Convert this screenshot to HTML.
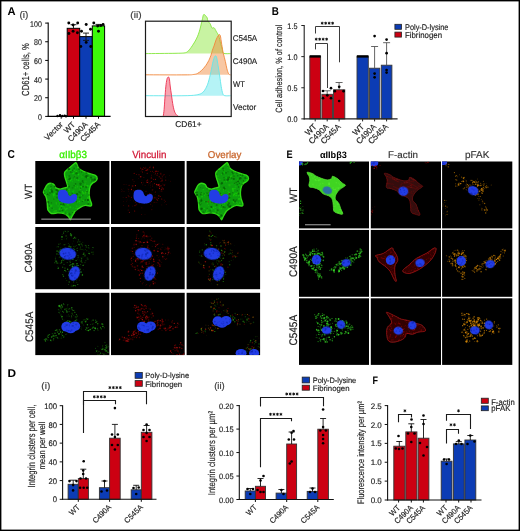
<!DOCTYPE html>
<html><head><meta charset="utf-8"><style>
html,body{margin:0;padding:0;background:#fff;overflow:hidden;}
svg{display:block;font-family:"Liberation Sans", sans-serif;will-change:transform;text-rendering:geometricPrecision;}
</style></head><body>
<svg width="520" height="531" viewBox="0 0 520 531">
<text x="7.47" y="15.25" font-size="11.30" font-weight="bold" fill="#000" textLength="8.08" lengthAdjust="spacingAndGlyphs">A</text>
<text x="19.50" y="18.00" font-size="9.52" fill="#3a3a3a" stroke="#3a3a3a" stroke-width="0.16" textLength="8.94" lengthAdjust="spacingAndGlyphs">(i)</text>
<rect x="67.20" y="28.32" width="12.50" height="88.08" fill="#cc0012" stroke="#000" stroke-width="1"/>
<rect x="79.70" y="36.63" width="12.60" height="79.77" fill="#0c3cb4" stroke="#000" stroke-width="1"/>
<rect x="92.30" y="25.90" width="12.30" height="90.50" fill="#3cfa0a" stroke="#000" stroke-width="1"/>
<line x1="73.50" y1="24.69" x2="73.50" y2="28.32" stroke="#111" stroke-width="0.9"/>
<line x1="70.50" y1="24.69" x2="76.50" y2="24.69" stroke="#111" stroke-width="0.9"/>
<line x1="86.00" y1="33.08" x2="86.00" y2="40.36" stroke="#111" stroke-width="0.9"/>
<line x1="83.00" y1="33.08" x2="89.00" y2="33.08" stroke="#111" stroke-width="0.9"/>
<line x1="98.50" y1="24.41" x2="98.50" y2="25.90" stroke="#111" stroke-width="0.9"/>
<line x1="95.50" y1="24.41" x2="101.50" y2="24.41" stroke="#111" stroke-width="0.9"/>
<line x1="83.00" y1="40.36" x2="89.00" y2="40.36" stroke="#111" stroke-width="0.9"/>
<circle cx="68.80" cy="23.00" r="1.45" fill="#000"/>
<circle cx="73.10" cy="25.00" r="1.45" fill="#000"/>
<circle cx="77.70" cy="23.00" r="1.45" fill="#000"/>
<circle cx="68.90" cy="33.50" r="1.45" fill="#000"/>
<circle cx="73.10" cy="31.20" r="1.45" fill="#000"/>
<circle cx="77.40" cy="32.70" r="1.45" fill="#000"/>
<circle cx="81.50" cy="31.20" r="1.45" fill="#000"/>
<circle cx="86.20" cy="24.50" r="1.45" fill="#000"/>
<circle cx="90.50" cy="29.20" r="1.45" fill="#000"/>
<circle cx="80.80" cy="46.50" r="1.45" fill="#000"/>
<circle cx="86.20" cy="42.40" r="1.45" fill="#000"/>
<circle cx="90.80" cy="46.50" r="1.45" fill="#000"/>
<circle cx="93.80" cy="23.00" r="1.45" fill="#000"/>
<circle cx="97.70" cy="26.10" r="1.45" fill="#000"/>
<circle cx="103.10" cy="24.50" r="1.45" fill="#000"/>
<circle cx="98.50" cy="31.20" r="1.45" fill="#000"/>
<circle cx="100.80" cy="25.50" r="1.45" fill="#000"/>
<circle cx="57.50" cy="116.00" r="1.2" fill="#000"/>
<circle cx="60.00" cy="115.20" r="1.2" fill="#000"/>
<circle cx="62.30" cy="116.00" r="1.2" fill="#000"/>
<circle cx="64.60" cy="115.60" r="1.2" fill="#000"/>
<circle cx="66.00" cy="116.20" r="1.2" fill="#000"/>
<line x1="48.20" y1="22.60" x2="48.20" y2="116.90" stroke="#000" stroke-width="1.1"/>
<line x1="47.70" y1="116.40" x2="110.60" y2="116.40" stroke="#000" stroke-width="1.1"/>
<line x1="45.20" y1="116.40" x2="48.20" y2="116.40" stroke="#000" stroke-width="1"/>
<text x="37.93" y="119.86" font-size="8.30" fill="#222" stroke="#222" stroke-width="0.16" textLength="3.92" lengthAdjust="spacingAndGlyphs">0</text>
<line x1="45.20" y1="97.74" x2="48.20" y2="97.74" stroke="#000" stroke-width="1"/>
<text x="34.02" y="101.20" font-size="8.30" fill="#222" stroke="#222" stroke-width="0.16" textLength="7.85" lengthAdjust="spacingAndGlyphs">20</text>
<line x1="45.20" y1="79.08" x2="48.20" y2="79.08" stroke="#000" stroke-width="1"/>
<text x="34.02" y="82.54" font-size="8.30" fill="#222" stroke="#222" stroke-width="0.16" textLength="7.85" lengthAdjust="spacingAndGlyphs">40</text>
<line x1="45.20" y1="60.42" x2="48.20" y2="60.42" stroke="#000" stroke-width="1"/>
<text x="34.02" y="63.88" font-size="8.30" fill="#222" stroke="#222" stroke-width="0.16" textLength="7.85" lengthAdjust="spacingAndGlyphs">60</text>
<line x1="45.20" y1="41.76" x2="48.20" y2="41.76" stroke="#000" stroke-width="1"/>
<text x="34.02" y="45.22" font-size="8.30" fill="#222" stroke="#222" stroke-width="0.16" textLength="7.85" lengthAdjust="spacingAndGlyphs">80</text>
<line x1="45.20" y1="23.10" x2="48.20" y2="23.10" stroke="#000" stroke-width="1"/>
<text x="30.10" y="26.56" font-size="8.30" fill="#222" stroke="#222" stroke-width="0.16" textLength="11.77" lengthAdjust="spacingAndGlyphs">100</text>
<line x1="61.20" y1="116.40" x2="61.20" y2="118.70" stroke="#000" stroke-width="1"/>
<line x1="73.50" y1="116.40" x2="73.50" y2="118.70" stroke="#000" stroke-width="1"/>
<line x1="86.00" y1="116.40" x2="86.00" y2="118.70" stroke="#000" stroke-width="1"/>
<line x1="98.50" y1="116.40" x2="98.50" y2="118.70" stroke="#000" stroke-width="1"/>
<text x="28.88" y="95.88" font-size="10.18" fill="#222" stroke="#222" stroke-width="0.16" textLength="52.85" lengthAdjust="spacingAndGlyphs" transform="rotate(-90 28.88 95.88)">CD61+ cells, %</text>
<text x="63.50" y="125.00" font-size="8.00" text-anchor="end" fill="#222" stroke="#222" stroke-width="0.16" textLength="22.68" lengthAdjust="spacingAndGlyphs" transform="rotate(-45 63.50 125.00)">Vector</text>
<text x="75.80" y="125.00" font-size="8.00" text-anchor="end" fill="#222" stroke="#222" stroke-width="0.16" textLength="12.44" lengthAdjust="spacingAndGlyphs" transform="rotate(-45 75.80 125.00)">WT</text>
<text x="88.30" y="125.00" font-size="8.00" text-anchor="end" fill="#222" stroke="#222" stroke-width="0.16" textLength="24.46" lengthAdjust="spacingAndGlyphs" transform="rotate(-45 88.30 125.00)">C490A</text>
<text x="100.80" y="125.00" font-size="8.00" text-anchor="end" fill="#222" stroke="#222" stroke-width="0.16" textLength="24.46" lengthAdjust="spacingAndGlyphs" transform="rotate(-45 100.80 125.00)">C545A</text>
<text x="130.29" y="17.97" font-size="9.20" fill="#3a3a3a" stroke="#3a3a3a" stroke-width="0.16" textLength="11.27" lengthAdjust="spacingAndGlyphs">(ii)</text>
<path d="M146.00,53.60 C150.83,53.55 168.63,53.42 175.00,53.30 C181.37,53.18 182.08,53.20 184.20,52.90 C186.32,52.60 186.55,52.40 187.70,51.50 C188.85,50.60 189.75,49.42 191.10,47.50 C192.45,45.58 194.45,42.60 195.80,40.00 C197.15,37.40 198.15,35.17 199.20,31.90 C200.25,28.63 201.42,23.18 202.10,20.40 C202.78,17.62 202.92,16.17 203.30,15.20 C203.68,14.23 203.93,14.42 204.40,14.60 C204.87,14.78 205.62,15.72 206.10,16.30 C206.58,16.88 207.00,17.32 207.30,18.10 C207.60,18.88 207.42,20.05 207.90,21.00 C208.38,21.95 209.53,22.65 210.20,23.80 C210.87,24.95 211.23,27.22 211.90,27.90 C212.57,28.58 213.43,27.23 214.20,27.90 C214.97,28.57 215.73,30.55 216.50,31.90 C217.27,33.25 218.12,34.07 218.80,36.00 C219.48,37.93 220.02,41.30 220.60,43.50 C221.18,45.70 221.82,47.57 222.30,49.20 C222.78,50.83 222.12,52.57 223.50,53.30 C224.88,54.03 229.42,53.55 230.60,53.60 Z" fill="rgba(132,228,48,0.45)" stroke="none"/>
<path d="M146.00,53.60 C150.83,53.55 168.63,53.42 175.00,53.30 C181.37,53.18 182.08,53.20 184.20,52.90 C186.32,52.60 186.55,52.40 187.70,51.50 C188.85,50.60 189.75,49.42 191.10,47.50 C192.45,45.58 194.45,42.60 195.80,40.00 C197.15,37.40 198.15,35.17 199.20,31.90 C200.25,28.63 201.42,23.18 202.10,20.40 C202.78,17.62 202.92,16.17 203.30,15.20 C203.68,14.23 203.93,14.42 204.40,14.60 C204.87,14.78 205.62,15.72 206.10,16.30 C206.58,16.88 207.00,17.32 207.30,18.10 C207.60,18.88 207.42,20.05 207.90,21.00 C208.38,21.95 209.53,22.65 210.20,23.80 C210.87,24.95 211.23,27.22 211.90,27.90 C212.57,28.58 213.43,27.23 214.20,27.90 C214.97,28.57 215.73,30.55 216.50,31.90 C217.27,33.25 218.12,34.07 218.80,36.00 C219.48,37.93 220.02,41.30 220.60,43.50 C221.18,45.70 221.82,47.57 222.30,49.20 C222.78,50.83 222.12,52.57 223.50,53.30 C224.88,54.03 229.42,53.55 230.60,53.60" fill="none" stroke="#84e63c" stroke-width="0.9"/>
<path d="M146.00,74.80 C152.50,74.82 177.12,74.95 185.00,74.90 C192.88,74.85 191.23,74.73 193.30,74.50 C195.37,74.27 196.02,74.18 197.40,73.50 C198.78,72.82 200.22,71.70 201.60,70.40 C202.98,69.10 204.50,67.35 205.70,65.70 C206.90,64.05 207.93,62.22 208.80,60.50 C209.67,58.78 210.30,57.12 210.90,55.40 C211.50,53.68 211.88,51.77 212.40,50.20 C212.92,48.63 213.40,47.70 214.00,46.00 C214.60,44.30 215.33,41.67 216.00,40.00 C216.67,38.33 217.43,36.90 218.00,36.00 C218.57,35.10 219.00,34.60 219.40,34.60 C219.80,34.60 220.10,34.93 220.40,36.00 C220.70,37.07 220.88,39.00 221.20,41.00 C221.52,43.00 221.95,45.95 222.30,48.00 C222.65,50.05 222.78,51.03 223.30,53.30 C223.82,55.57 224.80,59.02 225.40,61.60 C226.00,64.18 226.38,66.82 226.90,68.80 C227.42,70.78 227.98,72.50 228.50,73.50 C229.02,74.50 229.65,74.58 230.00,74.80 C230.35,75.02 230.50,74.80 230.60,74.80 Z" fill="rgba(240,130,50,0.45)" stroke="none"/>
<path d="M146.00,74.80 C152.50,74.82 177.12,74.95 185.00,74.90 C192.88,74.85 191.23,74.73 193.30,74.50 C195.37,74.27 196.02,74.18 197.40,73.50 C198.78,72.82 200.22,71.70 201.60,70.40 C202.98,69.10 204.50,67.35 205.70,65.70 C206.90,64.05 207.93,62.22 208.80,60.50 C209.67,58.78 210.30,57.12 210.90,55.40 C211.50,53.68 211.88,51.77 212.40,50.20 C212.92,48.63 213.40,47.70 214.00,46.00 C214.60,44.30 215.33,41.67 216.00,40.00 C216.67,38.33 217.43,36.90 218.00,36.00 C218.57,35.10 219.00,34.60 219.40,34.60 C219.80,34.60 220.10,34.93 220.40,36.00 C220.70,37.07 220.88,39.00 221.20,41.00 C221.52,43.00 221.95,45.95 222.30,48.00 C222.65,50.05 222.78,51.03 223.30,53.30 C223.82,55.57 224.80,59.02 225.40,61.60 C226.00,64.18 226.38,66.82 226.90,68.80 C227.42,70.78 227.98,72.50 228.50,73.50 C229.02,74.50 229.65,74.58 230.00,74.80 C230.35,75.02 230.50,74.80 230.60,74.80" fill="none" stroke="#f0883c" stroke-width="0.9"/>
<path d="M146.00,95.70 C152.50,95.70 176.43,95.87 185.00,95.70 C193.57,95.53 194.47,95.22 197.40,94.70 C200.33,94.18 201.22,93.63 202.60,92.60 C203.98,91.57 204.75,90.22 205.70,88.50 C206.65,86.78 207.43,85.07 208.30,82.30 C209.17,79.53 210.12,75.35 210.90,71.90 C211.68,68.45 212.40,64.10 213.00,61.60 C213.60,59.10 214.08,57.85 214.50,56.90 C214.92,55.95 215.15,55.82 215.50,55.90 C215.85,55.98 216.17,55.77 216.60,57.40 C217.03,59.03 217.58,62.60 218.10,65.70 C218.62,68.80 219.18,72.55 219.70,76.00 C220.22,79.45 220.68,83.45 221.20,86.40 C221.72,89.35 222.18,92.15 222.80,93.70 C223.42,95.25 223.60,95.37 224.90,95.70 C226.20,96.03 229.65,95.70 230.60,95.70 Z" fill="rgba(90,228,235,0.45)" stroke="none"/>
<path d="M146.00,95.70 C152.50,95.70 176.43,95.87 185.00,95.70 C193.57,95.53 194.47,95.22 197.40,94.70 C200.33,94.18 201.22,93.63 202.60,92.60 C203.98,91.57 204.75,90.22 205.70,88.50 C206.65,86.78 207.43,85.07 208.30,82.30 C209.17,79.53 210.12,75.35 210.90,71.90 C211.68,68.45 212.40,64.10 213.00,61.60 C213.60,59.10 214.08,57.85 214.50,56.90 C214.92,55.95 215.15,55.82 215.50,55.90 C215.85,55.98 216.17,55.77 216.60,57.40 C217.03,59.03 217.58,62.60 218.10,65.70 C218.62,68.80 219.18,72.55 219.70,76.00 C220.22,79.45 220.68,83.45 221.20,86.40 C221.72,89.35 222.18,92.15 222.80,93.70 C223.42,95.25 223.60,95.37 224.90,95.70 C226.20,96.03 229.65,95.70 230.60,95.70" fill="none" stroke="#62e6ea" stroke-width="0.9"/>
<path d="M163.20,116.50 C163.35,115.33 163.82,112.55 164.10,109.50 C164.38,106.45 164.62,101.97 164.90,98.20 C165.18,94.43 165.47,90.03 165.80,86.90 C166.13,83.77 166.50,81.03 166.90,79.40 C167.30,77.77 167.80,77.25 168.20,77.10 C168.60,76.95 168.97,77.02 169.30,78.50 C169.63,79.98 169.83,83.18 170.20,86.00 C170.57,88.82 171.02,92.10 171.50,95.40 C171.98,98.70 172.53,102.97 173.10,105.80 C173.67,108.63 174.12,110.68 174.90,112.40 C175.68,114.12 176.93,115.42 177.80,116.10 C178.67,116.78 179.72,116.43 180.10,116.50 Z" fill="rgba(240,50,80,0.45)" stroke="none"/>
<path d="M163.20,116.50 C163.35,115.33 163.82,112.55 164.10,109.50 C164.38,106.45 164.62,101.97 164.90,98.20 C165.18,94.43 165.47,90.03 165.80,86.90 C166.13,83.77 166.50,81.03 166.90,79.40 C167.30,77.77 167.80,77.25 168.20,77.10 C168.60,76.95 168.97,77.02 169.30,78.50 C169.63,79.98 169.83,83.18 170.20,86.00 C170.57,88.82 171.02,92.10 171.50,95.40 C171.98,98.70 172.53,102.97 173.10,105.80 C173.67,108.63 174.12,110.68 174.90,112.40 C175.68,114.12 176.93,115.42 177.80,116.10 C178.67,116.78 179.72,116.43 180.10,116.50" fill="none" stroke="#ec3050" stroke-width="0.9"/>
<rect x="145.5" y="21.2" width="85.70" height="95.30" fill="none" stroke="#1a1a1a" stroke-width="1.2"/>
<text x="232.70" y="40.62" font-size="8.31" fill="#222" stroke="#222" stroke-width="0.16" textLength="24.52" lengthAdjust="spacingAndGlyphs">C545A</text>
<text x="232.70" y="63.52" font-size="8.17" fill="#222" stroke="#222" stroke-width="0.16" textLength="24.52" lengthAdjust="spacingAndGlyphs">C490A</text>
<text x="233.06" y="86.60" font-size="8.41" fill="#222" stroke="#222" stroke-width="0.16" textLength="11.89" lengthAdjust="spacingAndGlyphs">WT</text>
<text x="233.06" y="109.92" font-size="8.29" fill="#222" stroke="#222" stroke-width="0.16" textLength="23.21" lengthAdjust="spacingAndGlyphs">Vector</text>
<text x="175.28" y="126.82" font-size="8.45" fill="#222" stroke="#222" stroke-width="0.16" textLength="26.45" lengthAdjust="spacingAndGlyphs">CD61+</text>
<text x="271.81" y="15.25" font-size="11.30" font-weight="bold" fill="#000" textLength="7.10" lengthAdjust="spacingAndGlyphs">B</text>
<rect x="309.80" y="56.60" width="10.80" height="62.30" fill="#cc0012" stroke="#3a3a3a" stroke-width="0.9"/>
<rect x="321.90" y="94.30" width="10.60" height="24.60" fill="#cc0012" stroke="#3a3a3a" stroke-width="0.9"/>
<rect x="333.50" y="89.80" width="11.30" height="29.10" fill="#cc0012" stroke="#3a3a3a" stroke-width="0.9"/>
<rect x="357.00" y="56.60" width="11.30" height="62.30" fill="#0c3cb4" stroke="#3a3a3a" stroke-width="0.9"/>
<rect x="369.40" y="68.20" width="10.40" height="50.70" fill="#0c3cb4" stroke="#3a3a3a" stroke-width="0.9"/>
<rect x="381.30" y="65.20" width="10.60" height="53.70" fill="#0c3cb4" stroke="#3a3a3a" stroke-width="0.9"/>
<rect x="309.60" y="55.20" width="11.20" height="2.40" fill="#000"/>
<rect x="356.80" y="55.20" width="11.70" height="2.40" fill="#000"/>
<line x1="327.20" y1="90.80" x2="327.20" y2="94.30" stroke="#555" stroke-width="0.9"/>
<line x1="323.70" y1="90.80" x2="330.70" y2="90.80" stroke="#555" stroke-width="0.9"/>
<line x1="339.10" y1="82.50" x2="339.10" y2="89.80" stroke="#555" stroke-width="0.9"/>
<line x1="335.60" y1="82.50" x2="342.60" y2="82.50" stroke="#555" stroke-width="0.9"/>
<line x1="374.60" y1="46.50" x2="374.60" y2="68.20" stroke="#555" stroke-width="0.9"/>
<line x1="371.10" y1="46.50" x2="378.10" y2="46.50" stroke="#555" stroke-width="0.9"/>
<line x1="386.60" y1="42.70" x2="386.60" y2="65.20" stroke="#555" stroke-width="0.9"/>
<line x1="383.10" y1="42.70" x2="390.10" y2="42.70" stroke="#555" stroke-width="0.9"/>
<circle cx="323.00" cy="91.00" r="1.35" fill="#000"/>
<circle cx="331.00" cy="88.20" r="1.35" fill="#000"/>
<circle cx="327.30" cy="95.30" r="1.35" fill="#000"/>
<circle cx="323.00" cy="98.20" r="1.35" fill="#000"/>
<circle cx="331.00" cy="98.20" r="1.35" fill="#000"/>
<circle cx="339.20" cy="86.80" r="1.35" fill="#000"/>
<circle cx="334.80" cy="91.20" r="1.35" fill="#000"/>
<circle cx="343.60" cy="91.20" r="1.35" fill="#000"/>
<circle cx="339.20" cy="101.00" r="1.35" fill="#000"/>
<circle cx="374.60" cy="36.10" r="1.35" fill="#000"/>
<circle cx="374.60" cy="73.60" r="1.35" fill="#000"/>
<circle cx="374.60" cy="77.30" r="1.35" fill="#000"/>
<circle cx="386.60" cy="39.60" r="1.35" fill="#000"/>
<circle cx="386.60" cy="53.20" r="1.35" fill="#000"/>
<circle cx="386.60" cy="70.00" r="1.35" fill="#000"/>
<circle cx="386.60" cy="72.60" r="1.35" fill="#000"/>
<path d="M315.5,33.5 V26.5 H339.5 V62.3 " fill="none" stroke="#3a3a3a" stroke-width="1.0"/>
<path d="M315.5,49.4 V43.5 H327.5 V88 " fill="none" stroke="#3a3a3a" stroke-width="1.0"/>
<line x1="322.18" y1="21.75" x2="322.18" y2="24.65" stroke="#111" stroke-width="0.95"/>
<line x1="320.92" y1="22.47" x2="323.44" y2="23.93" stroke="#111" stroke-width="0.95"/>
<line x1="323.44" y1="22.47" x2="320.92" y2="23.93" stroke="#111" stroke-width="0.95"/>
<line x1="325.66" y1="21.75" x2="325.66" y2="24.65" stroke="#111" stroke-width="0.95"/>
<line x1="324.40" y1="22.47" x2="326.92" y2="23.93" stroke="#111" stroke-width="0.95"/>
<line x1="326.92" y1="22.47" x2="324.40" y2="23.93" stroke="#111" stroke-width="0.95"/>
<line x1="329.14" y1="21.75" x2="329.14" y2="24.65" stroke="#111" stroke-width="0.95"/>
<line x1="327.88" y1="22.47" x2="330.40" y2="23.93" stroke="#111" stroke-width="0.95"/>
<line x1="330.40" y1="22.47" x2="327.88" y2="23.93" stroke="#111" stroke-width="0.95"/>
<line x1="332.62" y1="21.75" x2="332.62" y2="24.65" stroke="#111" stroke-width="0.95"/>
<line x1="331.36" y1="22.47" x2="333.88" y2="23.93" stroke="#111" stroke-width="0.95"/>
<line x1="333.88" y1="22.47" x2="331.36" y2="23.93" stroke="#111" stroke-width="0.95"/>
<line x1="316.18" y1="37.75" x2="316.18" y2="40.65" stroke="#111" stroke-width="0.95"/>
<line x1="314.92" y1="38.48" x2="317.44" y2="39.93" stroke="#111" stroke-width="0.95"/>
<line x1="317.44" y1="38.48" x2="314.92" y2="39.93" stroke="#111" stroke-width="0.95"/>
<line x1="319.66" y1="37.75" x2="319.66" y2="40.65" stroke="#111" stroke-width="0.95"/>
<line x1="318.40" y1="38.48" x2="320.92" y2="39.93" stroke="#111" stroke-width="0.95"/>
<line x1="320.92" y1="38.48" x2="318.40" y2="39.93" stroke="#111" stroke-width="0.95"/>
<line x1="323.14" y1="37.75" x2="323.14" y2="40.65" stroke="#111" stroke-width="0.95"/>
<line x1="321.88" y1="38.48" x2="324.40" y2="39.93" stroke="#111" stroke-width="0.95"/>
<line x1="324.40" y1="38.48" x2="321.88" y2="39.93" stroke="#111" stroke-width="0.95"/>
<line x1="326.62" y1="37.75" x2="326.62" y2="40.65" stroke="#111" stroke-width="0.95"/>
<line x1="325.36" y1="38.48" x2="327.88" y2="39.93" stroke="#111" stroke-width="0.95"/>
<line x1="327.88" y1="38.48" x2="325.36" y2="39.93" stroke="#111" stroke-width="0.95"/>
<line x1="304.20" y1="25.00" x2="304.20" y2="119.40" stroke="#222" stroke-width="1.1"/>
<line x1="303.70" y1="118.90" x2="397.60" y2="118.90" stroke="#222" stroke-width="1.1"/>
<line x1="301.30" y1="118.90" x2="304.20" y2="118.90" stroke="#222" stroke-width="1"/>
<text x="287.32" y="122.09" font-size="8.10" fill="#222" stroke="#222" stroke-width="0.16" textLength="10.13" lengthAdjust="spacingAndGlyphs">0.0</text>
<line x1="301.30" y1="87.77" x2="304.20" y2="87.77" stroke="#222" stroke-width="1"/>
<text x="287.36" y="90.96" font-size="8.10" fill="#222" stroke="#222" stroke-width="0.16" textLength="10.13" lengthAdjust="spacingAndGlyphs">0.5</text>
<line x1="301.30" y1="56.63" x2="304.20" y2="56.63" stroke="#222" stroke-width="1"/>
<text x="287.32" y="59.82" font-size="8.10" fill="#222" stroke="#222" stroke-width="0.16" textLength="10.13" lengthAdjust="spacingAndGlyphs">1.0</text>
<line x1="301.30" y1="25.50" x2="304.20" y2="25.50" stroke="#222" stroke-width="1"/>
<text x="287.36" y="28.65" font-size="8.10" fill="#222" stroke="#222" stroke-width="0.16" textLength="10.13" lengthAdjust="spacingAndGlyphs">1.5</text>
<line x1="315.20" y1="118.90" x2="315.20" y2="121.40" stroke="#222" stroke-width="1"/>
<line x1="327.20" y1="118.90" x2="327.20" y2="121.40" stroke="#222" stroke-width="1"/>
<line x1="339.10" y1="118.90" x2="339.10" y2="121.40" stroke="#222" stroke-width="1"/>
<line x1="362.60" y1="118.90" x2="362.60" y2="121.40" stroke="#222" stroke-width="1"/>
<line x1="374.60" y1="118.90" x2="374.60" y2="121.40" stroke="#222" stroke-width="1"/>
<line x1="386.60" y1="118.90" x2="386.60" y2="121.40" stroke="#222" stroke-width="1"/>
<text x="282.51" y="112.67" font-size="9.12" fill="#222" stroke="#222" stroke-width="0.16" textLength="87.85" lengthAdjust="spacingAndGlyphs" transform="rotate(-90 282.51 112.67)">Cell adhesion, % of control</text>
<text x="317.30" y="127.30" font-size="8.40" text-anchor="end" fill="#222" stroke="#222" stroke-width="0.16" textLength="12.41" lengthAdjust="spacingAndGlyphs" transform="rotate(-45 317.30 127.30)">WT</text>
<text x="329.30" y="127.30" font-size="8.40" text-anchor="end" fill="#222" stroke="#222" stroke-width="0.16" textLength="24.40" lengthAdjust="spacingAndGlyphs" transform="rotate(-45 329.30 127.30)">C490A</text>
<text x="341.20" y="127.30" font-size="8.40" text-anchor="end" fill="#222" stroke="#222" stroke-width="0.16" textLength="24.40" lengthAdjust="spacingAndGlyphs" transform="rotate(-45 341.20 127.30)">C545A</text>
<text x="364.70" y="127.30" font-size="8.40" text-anchor="end" fill="#222" stroke="#222" stroke-width="0.16" textLength="12.41" lengthAdjust="spacingAndGlyphs" transform="rotate(-45 364.70 127.30)">WT</text>
<text x="376.70" y="127.30" font-size="8.40" text-anchor="end" fill="#222" stroke="#222" stroke-width="0.16" textLength="24.40" lengthAdjust="spacingAndGlyphs" transform="rotate(-45 376.70 127.30)">C490A</text>
<text x="388.70" y="127.30" font-size="8.40" text-anchor="end" fill="#222" stroke="#222" stroke-width="0.16" textLength="24.40" lengthAdjust="spacingAndGlyphs" transform="rotate(-45 388.70 127.30)">C545A</text>
<rect x="394.90" y="24.30" width="6.60" height="5.00" fill="#0c3cb4" stroke="#222" stroke-width="0.8"/>
<rect x="394.90" y="32.10" width="6.60" height="5.00" fill="#cc0012" stroke="#222" stroke-width="0.8"/>
<text x="405.01" y="29.67" font-size="8.24" fill="#222" stroke="#222" stroke-width="0.16" textLength="43.42" lengthAdjust="spacingAndGlyphs">Poly-D-lysine</text>
<text x="404.97" y="38.03" font-size="8.45" fill="#222" stroke="#222" stroke-width="0.16" textLength="37.04" lengthAdjust="spacingAndGlyphs">Fibrinogen</text>
<rect x="35.30" y="161.00" width="74.10" height="63.00" fill="#000"/>
<rect x="35.30" y="227.00" width="74.10" height="62.20" fill="#000"/>
<rect x="35.30" y="292.80" width="74.10" height="62.30" fill="#000"/>
<rect x="111.00" y="161.00" width="73.70" height="63.00" fill="#000"/>
<rect x="111.00" y="227.00" width="73.70" height="62.20" fill="#000"/>
<rect x="111.00" y="292.80" width="73.70" height="62.30" fill="#000"/>
<rect x="186.60" y="161.00" width="73.50" height="63.00" fill="#000"/>
<rect x="186.60" y="227.00" width="73.50" height="62.20" fill="#000"/>
<rect x="186.60" y="292.80" width="73.50" height="62.30" fill="#000"/>
<rect x="299.00" y="161.50" width="70.00" height="66.90" fill="#000"/>
<rect x="299.00" y="229.90" width="70.00" height="66.90" fill="#000"/>
<rect x="299.00" y="298.30" width="70.00" height="66.60" fill="#000"/>
<rect x="370.80" y="161.50" width="70.20" height="66.90" fill="#000"/>
<rect x="370.80" y="229.90" width="70.20" height="66.90" fill="#000"/>
<rect x="370.80" y="298.30" width="70.20" height="66.60" fill="#000"/>
<rect x="442.10" y="161.50" width="70.20" height="66.90" fill="#000"/>
<rect x="442.10" y="229.90" width="70.20" height="66.90" fill="#000"/>
<rect x="442.10" y="298.30" width="70.20" height="66.60" fill="#000"/>
<text x="7.54" y="157.64" font-size="11.41" font-weight="bold" fill="#000" textLength="7.39" lengthAdjust="spacingAndGlyphs">C</text>
<text x="59.21" y="158.32" font-size="10.37" fill="#38ee00" stroke="#38ee00" stroke-width="0.35" textLength="27.80" lengthAdjust="spacingAndGlyphs">αIIbβ3</text>
<text x="132.25" y="158.30" font-size="10.20" fill="#d01432" stroke="#d01432" stroke-width="0.25" textLength="34.08" lengthAdjust="spacingAndGlyphs">Vinculin</text>
<text x="207.86" y="157.91" font-size="9.95" fill="#c8642a" stroke="#c8642a" stroke-width="0.25" textLength="33.54" lengthAdjust="spacingAndGlyphs">Overlay</text>
<text x="32.00" y="198.95" font-size="10.43" fill="#222" stroke="#222" stroke-width="0.16" textLength="15.24" lengthAdjust="spacingAndGlyphs" transform="rotate(-90 32.00 198.95)">WT</text>
<text x="32.20" y="272.59" font-size="10.42" fill="#222" stroke="#222" stroke-width="0.16" textLength="29.71" lengthAdjust="spacingAndGlyphs" transform="rotate(-90 32.20 272.59)">C490A</text>
<text x="32.59" y="342.10" font-size="10.85" fill="#222" stroke="#222" stroke-width="0.16" textLength="30.42" lengthAdjust="spacingAndGlyphs" transform="rotate(-90 32.59 342.10)">C545A</text>
<text x="286.55" y="157.55" font-size="10.87" font-weight="bold" fill="#000" textLength="6.14" lengthAdjust="spacingAndGlyphs">E</text>
<text x="319.88" y="157.70" font-size="9.30" font-weight="bold" fill="#000" textLength="27.01" lengthAdjust="spacingAndGlyphs">αIIbβ3</text>
<text x="388.12" y="158.10" font-size="9.80" fill="#333" stroke="#333" stroke-width="0.16" textLength="29.93" lengthAdjust="spacingAndGlyphs">F-actin</text>
<text x="464.95" y="157.62" font-size="9.89" fill="#333" stroke="#333" stroke-width="0.16" textLength="24.36" lengthAdjust="spacingAndGlyphs">pFAK</text>
<text x="297.20" y="202.75" font-size="10.72" fill="#222" stroke="#222" stroke-width="0.16" textLength="15.24" lengthAdjust="spacingAndGlyphs" transform="rotate(-90 297.20 202.75)">WT</text>
<text x="297.09" y="276.90" font-size="10.99" fill="#222" stroke="#222" stroke-width="0.16" textLength="30.63" lengthAdjust="spacingAndGlyphs" transform="rotate(-90 297.09 276.90)">C490A</text>
<text x="297.09" y="345.60" font-size="10.99" fill="#222" stroke="#222" stroke-width="0.16" textLength="30.73" lengthAdjust="spacingAndGlyphs" transform="rotate(-90 297.09 345.60)">C545A</text>
<defs><clipPath id="k1"><rect x="0" y="0" width="74.10" height="63.00"/></clipPath><clipPath id="k2"><rect x="0" y="0" width="73.70" height="63.00"/></clipPath><clipPath id="k3"><rect x="0" y="0" width="73.50" height="63.00"/></clipPath><clipPath id="k4"><rect x="0" y="0" width="74.10" height="62.20"/></clipPath><clipPath id="k5"><rect x="0" y="0" width="73.70" height="62.20"/></clipPath><clipPath id="k6"><rect x="0" y="0" width="73.50" height="62.20"/></clipPath><clipPath id="k7"><rect x="0" y="0" width="74.10" height="62.30"/></clipPath><clipPath id="k8"><rect x="0" y="0" width="73.70" height="62.30"/></clipPath><clipPath id="k9"><rect x="0" y="0" width="73.50" height="62.30"/></clipPath><clipPath id="k10"><rect x="0" y="0" width="70.00" height="66.90"/></clipPath><clipPath id="k11"><rect x="0" y="0" width="70.20" height="66.90"/></clipPath><clipPath id="k12"><rect x="0" y="0" width="70.20" height="66.90"/></clipPath><clipPath id="k13"><rect x="0" y="0" width="70.00" height="66.90"/></clipPath><clipPath id="k14"><rect x="0" y="0" width="70.20" height="66.90"/></clipPath><clipPath id="k15"><rect x="0" y="0" width="70.20" height="66.90"/></clipPath><clipPath id="k16"><rect x="0" y="0" width="70.00" height="66.60"/></clipPath><clipPath id="k17"><rect x="0" y="0" width="70.20" height="66.60"/></clipPath><clipPath id="k18"><rect x="0" y="0" width="70.20" height="66.60"/></clipPath><clipPath id="ewtclip"><path d="M13.60,11.80 C14.21,11.31 17.31,12.38 19.00,13.10 C20.69,13.82 20.59,14.70 23.00,15.80 C25.41,16.90 29.74,18.71 32.40,19.20 C35.06,19.69 36.59,19.11 37.80,18.50 C39.01,17.89 37.89,15.80 39.10,15.80 C40.31,15.80 42.79,17.29 44.50,18.50 C46.21,19.71 47.27,21.40 48.60,22.50 C49.93,23.60 51.67,23.86 51.90,24.60 C52.13,25.34 50.98,25.75 49.90,26.60 C48.82,27.45 47.23,27.97 45.90,29.30 C44.57,30.63 43.24,32.31 42.50,34.00 C41.76,35.69 41.31,37.13 41.80,38.70 C42.29,40.27 44.23,41.01 45.20,42.70 C46.17,44.39 46.48,46.16 47.20,48.10 C47.92,50.04 49.69,52.65 49.20,53.50 C48.71,54.35 46.07,53.29 44.50,52.80 C42.93,52.31 41.35,52.13 40.50,50.80 C39.65,49.47 40.05,47.34 39.80,45.40 C39.55,43.46 39.69,41.69 39.10,40.00 C38.51,38.31 38.19,37.21 36.50,36.00 C34.81,34.79 31.64,34.51 29.70,33.30 C27.76,32.09 27.39,30.40 25.70,29.30 C24.01,28.20 22.12,27.81 20.30,27.20 C18.48,26.59 16.32,27.23 15.60,25.90 C14.88,24.57 16.30,21.62 16.30,19.80 C16.30,17.98 16.09,17.24 15.60,15.80 C15.11,14.36 12.99,12.29 13.60,11.80 Z"/></clipPath><filter id="b03" x="-20%" y="-20%" width="140%" height="140%"><feGaussianBlur stdDeviation="0.3"/></filter><filter id="b04" x="-20%" y="-20%" width="140%" height="140%"><feGaussianBlur stdDeviation="0.45"/></filter><filter id="b05" x="-30%" y="-30%" width="160%" height="160%"><feGaussianBlur stdDeviation="0.6"/></filter></defs><g transform="translate(35.3,161.0)"><g clip-path="url(#k1)"><path d="M40.00,1.90 C40.50,1.65 40.99,2.00 41.30,2.50 C41.61,3.00 42.48,6.15 43.10,6.90 C43.72,7.65 46.43,9.44 47.50,10.00 C48.57,10.56 52.55,12.06 53.80,12.50 C55.05,12.94 59.19,13.90 60.00,14.40 C60.81,14.90 61.90,16.88 61.90,17.50 C61.90,18.12 60.44,20.16 60.00,20.60 C59.56,21.04 58.00,21.46 57.50,21.90 C57.00,22.34 55.37,24.06 55.00,25.00 C54.63,25.94 53.86,30.05 53.80,31.30 C53.74,32.55 54.15,36.32 54.40,37.50 C54.65,38.68 56.18,42.35 56.30,43.10 C56.42,43.85 56.23,44.87 55.60,45.00 C54.97,45.13 51.06,44.27 50.00,44.40 C48.94,44.53 46.00,45.74 45.00,46.30 C44.00,46.86 40.81,49.13 40.00,50.00 C39.19,50.87 37.40,54.12 36.90,55.00 C36.40,55.88 35.38,58.74 35.00,58.80 C34.62,58.86 33.72,56.23 33.10,55.60 C32.48,54.97 29.86,52.87 28.80,52.50 C27.74,52.13 23.75,51.90 22.50,51.90 C21.25,51.90 17.30,52.81 16.30,52.50 C15.30,52.19 12.94,49.92 12.50,48.80 C12.06,47.68 12.09,42.62 11.90,41.30 C11.71,39.98 10.98,36.60 10.60,35.60 C10.22,34.60 8.16,32.17 8.10,31.30 C8.04,30.43 9.68,27.59 10.00,26.90 C10.32,26.21 10.92,24.84 11.30,24.40 C11.68,23.96 13.30,22.69 13.80,22.50 C14.30,22.31 15.80,22.37 16.30,22.50 C16.80,22.63 18.37,23.36 18.80,23.80 C19.23,24.24 19.98,26.47 20.60,26.90 C21.22,27.33 24.12,28.10 25.00,28.10 C25.88,28.10 28.65,27.15 29.40,26.90 C30.15,26.65 32.31,26.16 32.50,25.60 C32.69,25.04 31.61,22.36 31.30,21.30 C30.99,20.24 29.59,16.00 29.40,15.00 C29.21,14.00 29.09,11.99 29.40,11.30 C29.71,10.61 31.81,8.73 32.50,8.10 C33.19,7.47 35.55,5.62 36.30,5.00 C37.05,4.38 39.50,2.15 40.00,1.90 Z" fill="#0f9c08" stroke="#2ed814" stroke-width="1.4" filter="url(#b04)"/><g filter="url(#b04)"><circle cx="32.4" cy="33.8" r="1.1" fill="rgb(26,227,0)" opacity="0.3"/><circle cx="18.3" cy="47.6" r="0.8" fill="rgb(15,196,0)" opacity="0.4"/><circle cx="32.1" cy="10.0" r="0.8" fill="rgb(30,192,0)" opacity="0.5"/><circle cx="40.1" cy="24.4" r="0.8" fill="rgb(30,200,0)" opacity="0.4"/><circle cx="50.0" cy="20.5" r="0.9" fill="rgb(17,230,0)" opacity="0.2"/><circle cx="12.7" cy="39.2" r="0.7" fill="rgb(39,195,0)" opacity="0.4"/><circle cx="46.2" cy="19.8" r="0.6" fill="rgb(12,226,0)" opacity="0.3"/><circle cx="49.3" cy="24.7" r="1.0" fill="rgb(40,191,0)" opacity="0.3"/><circle cx="42.0" cy="46.2" r="0.7" fill="rgb(20,190,0)" opacity="0.2"/><circle cx="51.0" cy="12.0" r="0.8" fill="rgb(16,198,0)" opacity="0.3"/><circle cx="40.5" cy="34.7" r="0.5" fill="rgb(24,206,0)" opacity="0.2"/><circle cx="52.8" cy="23.9" r="0.5" fill="rgb(30,205,0)" opacity="0.2"/><circle cx="41.6" cy="9.1" r="0.9" fill="rgb(14,214,0)" opacity="0.5"/><circle cx="20.9" cy="42.0" r="0.7" fill="rgb(29,221,0)" opacity="0.5"/><circle cx="20.4" cy="33.7" r="1.0" fill="rgb(18,203,0)" opacity="0.4"/><circle cx="38.9" cy="9.4" r="0.7" fill="rgb(20,232,0)" opacity="0.5"/><circle cx="47.5" cy="31.6" r="1.1" fill="rgb(39,191,0)" opacity="0.4"/><circle cx="33.6" cy="22.2" r="0.7" fill="rgb(29,230,0)" opacity="0.2"/><circle cx="12.0" cy="27.7" r="0.7" fill="rgb(39,235,0)" opacity="0.2"/><circle cx="9.7" cy="30.3" r="0.5" fill="rgb(22,227,0)" opacity="0.4"/><circle cx="45.4" cy="27.9" r="0.8" fill="rgb(26,222,0)" opacity="0.4"/><circle cx="34.0" cy="15.0" r="0.9" fill="rgb(29,232,0)" opacity="0.3"/><circle cx="57.6" cy="16.5" r="0.5" fill="rgb(31,229,0)" opacity="0.3"/><circle cx="31.9" cy="52.6" r="0.7" fill="rgb(16,230,0)" opacity="0.4"/><circle cx="31.3" cy="47.8" r="1.0" fill="rgb(22,204,0)" opacity="0.5"/><circle cx="39.5" cy="19.9" r="0.6" fill="rgb(36,192,0)" opacity="0.3"/><circle cx="32.3" cy="17.6" r="0.6" fill="rgb(30,223,0)" opacity="0.3"/><circle cx="34.7" cy="19.8" r="1.0" fill="rgb(24,210,0)" opacity="0.5"/><circle cx="46.2" cy="34.4" r="0.7" fill="rgb(10,231,0)" opacity="0.5"/><circle cx="15.4" cy="27.8" r="0.5" fill="rgb(17,199,0)" opacity="0.5"/><circle cx="36.9" cy="38.3" r="0.7" fill="rgb(16,202,0)" opacity="0.2"/><circle cx="52.4" cy="16.5" r="0.9" fill="rgb(27,235,0)" opacity="0.5"/><circle cx="50.0" cy="32.6" r="1.1" fill="rgb(34,200,0)" opacity="0.4"/><circle cx="29.3" cy="47.0" r="1.0" fill="rgb(39,214,0)" opacity="0.2"/><circle cx="15.1" cy="27.7" r="0.9" fill="rgb(22,225,0)" opacity="0.5"/><circle cx="38.7" cy="51.9" r="1.0" fill="rgb(24,210,0)" opacity="0.5"/><circle cx="43.1" cy="13.6" r="0.9" fill="rgb(30,235,0)" opacity="0.5"/><circle cx="58.3" cy="16.8" r="0.9" fill="rgb(26,195,0)" opacity="0.2"/><circle cx="30.8" cy="17.6" r="1.1" fill="rgb(37,194,0)" opacity="0.2"/><circle cx="36.8" cy="41.0" r="1.0" fill="rgb(26,223,0)" opacity="0.3"/><circle cx="53.3" cy="41.1" r="1.1" fill="rgb(40,234,0)" opacity="0.3"/><circle cx="36.4" cy="18.4" r="0.9" fill="rgb(26,222,0)" opacity="0.4"/><circle cx="53.5" cy="33.8" r="0.7" fill="rgb(37,229,0)" opacity="0.3"/><circle cx="19.3" cy="50.3" r="1.1" fill="rgb(28,221,0)" opacity="0.4"/><circle cx="18.9" cy="32.4" r="0.8" fill="rgb(10,224,0)" opacity="0.4"/><circle cx="29.7" cy="47.5" r="0.8" fill="rgb(32,200,0)" opacity="0.3"/><circle cx="11.6" cy="32.6" r="0.7" fill="rgb(39,215,0)" opacity="0.5"/><circle cx="22.6" cy="28.8" r="0.6" fill="rgb(36,220,0)" opacity="0.3"/><circle cx="36.3" cy="8.1" r="0.8" fill="rgb(18,198,0)" opacity="0.2"/><circle cx="47.0" cy="15.8" r="0.8" fill="rgb(28,197,0)" opacity="0.3"/><circle cx="53.9" cy="37.4" r="0.9" fill="rgb(38,217,0)" opacity="0.4"/><circle cx="52.5" cy="36.9" r="0.8" fill="rgb(27,230,0)" opacity="0.5"/><circle cx="37.3" cy="35.3" r="0.6" fill="rgb(30,212,0)" opacity="0.5"/><circle cx="56.7" cy="19.9" r="0.7" fill="rgb(16,202,0)" opacity="0.5"/><circle cx="21.0" cy="43.2" r="0.7" fill="rgb(36,216,0)" opacity="0.2"/><circle cx="37.3" cy="42.0" r="0.6" fill="rgb(35,191,0)" opacity="0.4"/><circle cx="13.3" cy="34.3" r="0.7" fill="rgb(21,197,0)" opacity="0.5"/><circle cx="46.0" cy="38.0" r="0.7" fill="rgb(36,202,0)" opacity="0.5"/><circle cx="51.3" cy="29.3" r="0.5" fill="rgb(29,222,0)" opacity="0.5"/><circle cx="23.3" cy="40.2" r="0.8" fill="rgb(31,219,0)" opacity="0.2"/><circle cx="28.2" cy="38.0" r="0.5" fill="rgb(23,219,0)" opacity="0.2"/><circle cx="13.2" cy="47.0" r="0.7" fill="rgb(36,235,0)" opacity="0.2"/><circle cx="18.4" cy="35.2" r="0.7" fill="rgb(18,197,0)" opacity="0.5"/><circle cx="51.9" cy="25.0" r="1.0" fill="rgb(32,213,0)" opacity="0.5"/><circle cx="29.9" cy="43.0" r="0.5" fill="rgb(25,196,0)" opacity="0.3"/><circle cx="42.5" cy="37.4" r="0.6" fill="rgb(31,209,0)" opacity="0.5"/><circle cx="26.3" cy="39.4" r="0.8" fill="rgb(22,222,0)" opacity="0.4"/><circle cx="45.8" cy="45.2" r="1.1" fill="rgb(29,196,0)" opacity="0.2"/><circle cx="47.8" cy="16.5" r="0.7" fill="rgb(16,231,0)" opacity="0.2"/><circle cx="37.7" cy="30.8" r="1.1" fill="rgb(13,230,0)" opacity="0.4"/><circle cx="32.0" cy="38.6" r="0.8" fill="rgb(40,192,0)" opacity="0.4"/><circle cx="40.2" cy="26.3" r="0.8" fill="rgb(22,228,0)" opacity="0.3"/><circle cx="24.9" cy="32.1" r="0.8" fill="rgb(39,208,0)" opacity="0.3"/><circle cx="43.8" cy="44.4" r="0.5" fill="rgb(28,192,0)" opacity="0.5"/><circle cx="42.2" cy="25.2" r="0.9" fill="rgb(20,215,0)" opacity="0.2"/><circle cx="21.2" cy="31.7" r="1.1" fill="rgb(24,199,0)" opacity="0.4"/><circle cx="40.6" cy="8.4" r="0.9" fill="rgb(16,193,0)" opacity="0.3"/><circle cx="30.5" cy="36.1" r="0.9" fill="rgb(21,223,0)" opacity="0.4"/><circle cx="34.0" cy="30.5" r="0.7" fill="rgb(37,212,0)" opacity="0.4"/><circle cx="22.9" cy="36.6" r="0.9" fill="rgb(16,230,0)" opacity="0.4"/><circle cx="43.2" cy="13.1" r="0.9" fill="rgb(10,207,0)" opacity="0.4"/><circle cx="23.1" cy="44.9" r="1.0" fill="rgb(17,230,0)" opacity="0.2"/><circle cx="34.7" cy="9.5" r="1.0" fill="rgb(24,229,0)" opacity="0.5"/><circle cx="32.0" cy="44.4" r="0.7" fill="rgb(14,231,0)" opacity="0.2"/><circle cx="53.1" cy="35.8" r="0.7" fill="rgb(36,201,0)" opacity="0.5"/><circle cx="38.5" cy="29.5" r="0.9" fill="rgb(34,190,0)" opacity="0.3"/><circle cx="24.4" cy="43.2" r="0.9" fill="rgb(14,204,0)" opacity="0.3"/><circle cx="27.3" cy="43.2" r="0.7" fill="rgb(32,218,0)" opacity="0.2"/><circle cx="31.7" cy="47.6" r="0.7" fill="rgb(22,223,0)" opacity="0.3"/><circle cx="18.6" cy="34.0" r="1.0" fill="rgb(36,227,0)" opacity="0.4"/><circle cx="38.4" cy="11.9" r="1.0" fill="rgb(19,191,0)" opacity="0.5"/><circle cx="30.8" cy="35.0" r="0.7" fill="rgb(20,195,0)" opacity="0.4"/><circle cx="43.3" cy="7.4" r="1.0" fill="rgb(32,204,0)" opacity="0.3"/><circle cx="34.4" cy="53.6" r="0.7" fill="rgb(21,211,0)" opacity="0.3"/><circle cx="51.5" cy="20.8" r="0.6" fill="rgb(35,194,0)" opacity="0.3"/><circle cx="30.2" cy="48.9" r="0.9" fill="rgb(35,214,0)" opacity="0.5"/><circle cx="36.3" cy="42.3" r="1.0" fill="rgb(23,199,0)" opacity="0.3"/><circle cx="42.3" cy="40.8" r="0.7" fill="rgb(26,208,0)" opacity="0.3"/><circle cx="33.5" cy="43.5" r="0.7" fill="rgb(39,201,0)" opacity="0.2"/><circle cx="9.0" cy="29.3" r="1.0" fill="rgb(16,201,0)" opacity="0.3"/><circle cx="27.4" cy="35.4" r="0.9" fill="rgb(26,204,0)" opacity="0.3"/><circle cx="31.9" cy="52.8" r="0.7" fill="rgb(39,209,0)" opacity="0.5"/><circle cx="37.7" cy="50.5" r="0.8" fill="rgb(40,211,0)" opacity="0.3"/><circle cx="43.6" cy="45.8" r="0.6" fill="rgb(22,193,0)" opacity="0.5"/><circle cx="32.3" cy="15.9" r="0.8" fill="rgb(23,200,0)" opacity="0.5"/><circle cx="15.2" cy="44.1" r="0.9" fill="rgb(11,199,0)" opacity="0.4"/><circle cx="38.9" cy="12.0" r="0.6" fill="rgb(14,198,0)" opacity="0.5"/><circle cx="33.9" cy="28.6" r="1.1" fill="rgb(37,222,0)" opacity="0.4"/><circle cx="24.4" cy="46.8" r="0.8" fill="rgb(12,218,0)" opacity="0.5"/><circle cx="19.3" cy="32.8" r="0.8" fill="rgb(36,209,0)" opacity="0.2"/><circle cx="44.0" cy="40.4" r="0.9" fill="rgb(13,231,0)" opacity="0.5"/><circle cx="32.1" cy="51.0" r="0.9" fill="rgb(19,226,0)" opacity="0.3"/><circle cx="14.2" cy="45.8" r="1.0" fill="rgb(33,203,0)" opacity="0.5"/><circle cx="48.7" cy="33.5" r="0.6" fill="rgb(22,197,0)" opacity="0.2"/><circle cx="38.4" cy="43.1" r="0.7" fill="rgb(12,196,0)" opacity="0.5"/><circle cx="44.6" cy="42.2" r="0.6" fill="rgb(36,219,0)" opacity="0.3"/><circle cx="40.0" cy="7.0" r="0.6" fill="rgb(13,217,0)" opacity="0.2"/><circle cx="35.6" cy="38.7" r="1.0" fill="rgb(22,220,0)" opacity="0.5"/><circle cx="50.6" cy="39.5" r="0.9" fill="rgb(20,202,0)" opacity="0.2"/><circle cx="26.5" cy="38.9" r="0.6" fill="rgb(26,211,0)" opacity="0.3"/><circle cx="41.0" cy="10.9" r="1.0" fill="rgb(27,204,0)" opacity="0.5"/><circle cx="27.1" cy="30.4" r="0.6" fill="rgb(39,223,0)" opacity="0.4"/><circle cx="33.8" cy="25.7" r="0.7" fill="rgb(37,213,0)" opacity="0.2"/><circle cx="32.4" cy="43.4" r="0.6" fill="rgb(27,225,0)" opacity="0.4"/><circle cx="17.2" cy="44.3" r="1.0" fill="rgb(14,197,0)" opacity="0.3"/><circle cx="45.0" cy="22.6" r="1.0" fill="rgb(15,201,0)" opacity="0.3"/><circle cx="40.2" cy="48.1" r="0.8" fill="rgb(35,232,0)" opacity="0.3"/><circle cx="15.5" cy="44.9" r="1.0" fill="rgb(29,227,0)" opacity="0.5"/><circle cx="42.5" cy="45.3" r="0.6" fill="rgb(11,199,0)" opacity="0.3"/><circle cx="36.5" cy="8.6" r="0.7" fill="rgb(14,206,0)" opacity="0.3"/><circle cx="29.8" cy="30.2" r="0.6" fill="rgb(38,229,0)" opacity="0.3"/><circle cx="25.9" cy="31.5" r="0.8" fill="rgb(39,193,0)" opacity="0.2"/><circle cx="24.0" cy="37.0" r="0.8" fill="rgb(20,209,0)" opacity="0.3"/><circle cx="21.2" cy="49.9" r="0.6" fill="rgb(11,220,0)" opacity="0.5"/><circle cx="45.5" cy="31.8" r="0.6" fill="rgb(22,205,0)" opacity="0.3"/><circle cx="27.9" cy="33.0" r="0.8" fill="rgb(30,216,0)" opacity="0.2"/><circle cx="13.4" cy="47.0" r="0.6" fill="rgb(40,219,0)" opacity="0.4"/><circle cx="52.0" cy="24.5" r="0.7" fill="rgb(11,209,0)" opacity="0.4"/><circle cx="24.7" cy="30.3" r="1.1" fill="rgb(25,203,0)" opacity="0.5"/><circle cx="19.0" cy="50.8" r="0.9" fill="rgb(20,212,0)" opacity="0.2"/><circle cx="42.3" cy="41.6" r="0.8" fill="rgb(17,202,0)" opacity="0.4"/><circle cx="43.1" cy="19.3" r="1.0" fill="rgb(18,216,0)" opacity="0.5"/><circle cx="46.5" cy="9.6" r="0.9" fill="rgb(24,216,0)" opacity="0.5"/><circle cx="24.6" cy="42.3" r="0.6" fill="rgb(17,222,0)" opacity="0.2"/><circle cx="43.9" cy="46.9" r="0.7" fill="rgb(38,197,0)" opacity="0.4"/><circle cx="39.8" cy="14.9" r="0.7" fill="rgb(31,204,0)" opacity="0.5"/><circle cx="23.0" cy="38.3" r="0.6" fill="rgb(24,223,0)" opacity="0.5"/><circle cx="37.0" cy="26.0" r="0.8" fill="rgb(34,202,0)" opacity="0.2"/><circle cx="37.6" cy="12.5" r="1.0" fill="rgb(11,229,0)" opacity="0.5"/><circle cx="32.9" cy="44.6" r="0.7" fill="rgb(25,193,0)" opacity="0.5"/><circle cx="17.8" cy="33.5" r="0.9" fill="rgb(31,220,0)" opacity="0.3"/><circle cx="50.2" cy="31.3" r="0.8" fill="rgb(31,223,0)" opacity="0.5"/><circle cx="48.1" cy="32.2" r="0.9" fill="rgb(13,228,0)" opacity="0.5"/><circle cx="31.5" cy="39.9" r="0.8" fill="rgb(32,205,0)" opacity="0.3"/><circle cx="22.1" cy="32.9" r="1.0" fill="rgb(18,192,0)" opacity="0.4"/><circle cx="10.9" cy="27.4" r="1.0" fill="rgb(29,191,0)" opacity="0.3"/><circle cx="40.8" cy="47.8" r="0.8" fill="rgb(37,191,0)" opacity="0.4"/><circle cx="38.7" cy="32.8" r="1.0" fill="rgb(14,193,0)" opacity="0.2"/><circle cx="25.0" cy="37.2" r="0.8" fill="rgb(28,221,0)" opacity="0.3"/><circle cx="12.9" cy="48.6" r="0.6" fill="rgb(15,221,0)" opacity="0.3"/><circle cx="10.4" cy="29.8" r="1.0" fill="rgb(14,219,0)" opacity="0.5"/><circle cx="36.4" cy="7.1" r="0.8" fill="rgb(39,194,0)" opacity="0.3"/><circle cx="41.0" cy="18.7" r="0.6" fill="rgb(23,219,0)" opacity="0.5"/><circle cx="57.8" cy="14.3" r="0.6" fill="rgb(11,211,0)" opacity="0.4"/><circle cx="17.6" cy="50.8" r="1.1" fill="rgb(22,193,0)" opacity="0.2"/><circle cx="18.0" cy="33.2" r="0.6" fill="rgb(16,228,0)" opacity="0.2"/><circle cx="33.3" cy="19.5" r="0.8" fill="rgb(31,201,0)" opacity="0.5"/><circle cx="54.5" cy="13.5" r="0.7" fill="rgb(32,207,0)" opacity="0.2"/><circle cx="27.5" cy="45.5" r="0.9" fill="rgb(10,210,0)" opacity="0.5"/><circle cx="53.2" cy="27.5" r="1.0" fill="rgb(18,223,0)" opacity="0.3"/><circle cx="44.1" cy="19.1" r="0.9" fill="rgb(16,199,0)" opacity="0.3"/><circle cx="35.7" cy="9.2" r="0.6" fill="rgb(25,224,0)" opacity="0.3"/><circle cx="45.4" cy="31.3" r="0.8" fill="rgb(24,232,0)" opacity="0.3"/><circle cx="28.4" cy="52.0" r="1.0" fill="rgb(24,215,0)" opacity="0.4"/><circle cx="15.5" cy="31.3" r="0.7" fill="rgb(21,212,0)" opacity="0.2"/><circle cx="41.0" cy="9.9" r="1.0" fill="rgb(25,226,0)" opacity="0.4"/><circle cx="48.1" cy="39.5" r="0.5" fill="rgb(27,234,0)" opacity="0.5"/><circle cx="49.8" cy="23.2" r="1.0" fill="rgb(35,217,0)" opacity="0.3"/><circle cx="14.5" cy="29.9" r="0.8" fill="rgb(19,221,0)" opacity="0.5"/><circle cx="45.9" cy="14.5" r="1.1" fill="rgb(34,200,0)" opacity="0.2"/><circle cx="27.0" cy="42.4" r="0.8" fill="rgb(39,217,0)" opacity="0.4"/><circle cx="51.4" cy="29.1" r="0.7" fill="rgb(19,234,0)" opacity="0.5"/><circle cx="57.2" cy="17.4" r="0.7" fill="rgb(19,220,0)" opacity="0.5"/><circle cx="24.1" cy="48.3" r="1.0" fill="rgb(22,229,0)" opacity="0.4"/><circle cx="10.7" cy="32.8" r="0.9" fill="rgb(12,219,0)" opacity="0.2"/><circle cx="55.4" cy="23.6" r="1.0" fill="rgb(14,233,0)" opacity="0.2"/><circle cx="35.4" cy="19.5" r="0.7" fill="rgb(14,228,0)" opacity="0.5"/><circle cx="44.7" cy="15.2" r="0.5" fill="rgb(22,190,0)" opacity="0.4"/><circle cx="21.0" cy="30.0" r="0.9" fill="rgb(29,225,0)" opacity="0.4"/><circle cx="51.0" cy="16.9" r="0.6" fill="rgb(35,235,0)" opacity="0.2"/><circle cx="27.8" cy="39.9" r="0.8" fill="rgb(21,210,0)" opacity="0.4"/><circle cx="55.7" cy="19.5" r="1.0" fill="rgb(31,220,0)" opacity="0.4"/><circle cx="30.3" cy="29.3" r="0.7" fill="rgb(33,234,0)" opacity="0.3"/><circle cx="29.2" cy="42.6" r="0.7" fill="rgb(20,201,0)" opacity="0.4"/><circle cx="26.1" cy="45.1" r="1.0" fill="rgb(28,216,0)" opacity="0.5"/><circle cx="42.6" cy="9.0" r="0.9" fill="rgb(15,198,0)" opacity="0.3"/><circle cx="18.9" cy="37.2" r="0.7" fill="rgb(10,220,0)" opacity="0.4"/><circle cx="45.1" cy="25.8" r="0.9" fill="rgb(39,233,0)" opacity="0.3"/><circle cx="9.5" cy="32.8" r="0.8" fill="rgb(19,218,0)" opacity="0.3"/><circle cx="41.3" cy="45.4" r="1.1" fill="rgb(32,203,0)" opacity="0.3"/><circle cx="37.5" cy="47.4" r="0.6" fill="rgb(13,225,0)" opacity="0.2"/><circle cx="58.3" cy="16.2" r="0.8" fill="rgb(20,191,0)" opacity="0.2"/><circle cx="22.6" cy="34.3" r="0.7" fill="rgb(20,204,0)" opacity="0.3"/><circle cx="37.8" cy="33.7" r="0.6" fill="rgb(34,209,0)" opacity="0.2"/><circle cx="27.0" cy="33.8" r="0.8" fill="rgb(29,232,0)" opacity="0.2"/><circle cx="52.6" cy="16.3" r="0.6" fill="rgb(17,218,0)" opacity="0.3"/><circle cx="44.4" cy="17.3" r="0.5" fill="rgb(12,222,0)" opacity="0.4"/><circle cx="33.2" cy="52.3" r="0.5" fill="rgb(34,223,0)" opacity="0.3"/><circle cx="24.7" cy="32.1" r="0.9" fill="rgb(34,196,0)" opacity="0.5"/><circle cx="53.3" cy="25.1" r="1.0" fill="rgb(10,226,0)" opacity="0.4"/><circle cx="47.1" cy="30.7" r="0.7" fill="rgb(30,230,0)" opacity="0.5"/><circle cx="32.3" cy="19.7" r="0.5" fill="rgb(29,196,0)" opacity="0.4"/><circle cx="16.5" cy="23.1" r="0.6" fill="rgb(22,222,0)" opacity="0.2"/><circle cx="39.8" cy="34.8" r="0.7" fill="rgb(40,204,0)" opacity="0.3"/><circle cx="35.0" cy="46.3" r="1.0" fill="rgb(12,233,0)" opacity="0.5"/><circle cx="47.4" cy="39.6" r="1.0" fill="rgb(29,229,0)" opacity="0.2"/><circle cx="46.5" cy="26.0" r="1.1" fill="rgb(13,234,0)" opacity="0.5"/><circle cx="48.1" cy="26.7" r="0.8" fill="rgb(26,204,0)" opacity="0.5"/><circle cx="28.3" cy="32.7" r="0.5" fill="rgb(26,230,0)" opacity="0.5"/><circle cx="32.4" cy="18.1" r="0.5" fill="rgb(20,199,0)" opacity="0.2"/><circle cx="37.0" cy="20.6" r="0.7" fill="rgb(16,220,0)" opacity="0.4"/><circle cx="20.7" cy="49.7" r="0.9" fill="rgb(36,197,0)" opacity="0.5"/><circle cx="51.0" cy="31.0" r="1.1" fill="rgb(37,192,0)" opacity="0.2"/><circle cx="46.4" cy="16.2" r="1.0" fill="rgb(27,190,0)" opacity="0.3"/><circle cx="54.7" cy="13.1" r="0.7" fill="rgb(12,196,0)" opacity="0.4"/><circle cx="38.0" cy="46.7" r="0.8" fill="rgb(35,221,0)" opacity="0.2"/><circle cx="37.7" cy="53.4" r="1.0" fill="rgb(21,201,0)" opacity="0.2"/><circle cx="26.7" cy="51.1" r="1.0" fill="rgb(15,229,0)" opacity="0.2"/><circle cx="29.0" cy="50.2" r="0.9" fill="rgb(12,195,0)" opacity="0.5"/><circle cx="47.2" cy="13.1" r="0.9" fill="rgb(10,211,0)" opacity="0.3"/><circle cx="49.3" cy="11.7" r="0.8" fill="rgb(18,197,0)" opacity="0.2"/><circle cx="41.6" cy="19.4" r="0.5" fill="rgb(16,235,0)" opacity="0.2"/><circle cx="42.1" cy="26.1" r="1.0" fill="rgb(24,198,0)" opacity="0.3"/><circle cx="35.3" cy="55.5" r="0.7" fill="rgb(17,221,0)" opacity="0.4"/><circle cx="39.3" cy="18.1" r="1.0" fill="rgb(37,195,0)" opacity="0.3"/><circle cx="44.5" cy="27.8" r="1.1" fill="rgb(33,216,0)" opacity="0.3"/><circle cx="40.4" cy="27.4" r="0.5" fill="rgb(19,227,0)" opacity="0.3"/><circle cx="23.9" cy="41.4" r="0.9" fill="rgb(23,213,0)" opacity="0.2"/><circle cx="26.5" cy="48.6" r="1.0" fill="rgb(27,232,0)" opacity="0.4"/><circle cx="28.2" cy="43.0" r="0.9" fill="rgb(38,191,0)" opacity="0.3"/></g><g filter="url(#b05)"><circle cx="44.0" cy="10.8" r="0.6" fill="rgb(0,71,0)" opacity="0.4"/><circle cx="25.1" cy="40.1" r="1.0" fill="rgb(0,55,0)" opacity="0.6"/><circle cx="52.7" cy="38.9" r="1.0" fill="rgb(0,57,0)" opacity="0.6"/><circle cx="36.0" cy="35.1" r="0.9" fill="rgb(0,71,0)" opacity="0.5"/><circle cx="29.3" cy="44.1" r="0.7" fill="rgb(0,75,0)" opacity="0.4"/><circle cx="16.5" cy="23.0" r="0.8" fill="rgb(0,83,0)" opacity="0.5"/><circle cx="36.9" cy="32.3" r="0.7" fill="rgb(0,64,0)" opacity="0.5"/><circle cx="43.8" cy="30.9" r="0.8" fill="rgb(0,62,0)" opacity="0.4"/><circle cx="32.4" cy="33.7" r="0.9" fill="rgb(0,58,0)" opacity="0.6"/><circle cx="51.7" cy="30.6" r="0.7" fill="rgb(0,60,0)" opacity="0.5"/><circle cx="30.0" cy="36.7" r="1.1" fill="rgb(0,68,0)" opacity="0.6"/><circle cx="52.3" cy="14.9" r="1.1" fill="rgb(0,78,0)" opacity="0.3"/><circle cx="46.4" cy="10.8" r="0.9" fill="rgb(0,58,0)" opacity="0.3"/><circle cx="34.6" cy="53.8" r="0.9" fill="rgb(0,79,0)" opacity="0.5"/><circle cx="25.8" cy="29.7" r="1.0" fill="rgb(0,85,0)" opacity="0.6"/><circle cx="41.8" cy="17.1" r="1.0" fill="rgb(0,57,0)" opacity="0.4"/><circle cx="31.2" cy="29.0" r="0.8" fill="rgb(0,69,0)" opacity="0.4"/><circle cx="36.7" cy="11.2" r="0.8" fill="rgb(0,81,0)" opacity="0.4"/><circle cx="34.1" cy="15.0" r="1.0" fill="rgb(0,55,0)" opacity="0.4"/><circle cx="28.2" cy="35.7" r="0.7" fill="rgb(0,66,0)" opacity="0.5"/><circle cx="40.3" cy="22.9" r="0.8" fill="rgb(0,73,0)" opacity="0.5"/><circle cx="14.4" cy="45.1" r="0.8" fill="rgb(0,61,0)" opacity="0.6"/><circle cx="50.9" cy="26.1" r="1.1" fill="rgb(0,64,0)" opacity="0.4"/><circle cx="38.9" cy="7.4" r="0.8" fill="rgb(0,63,0)" opacity="0.4"/><circle cx="41.7" cy="33.3" r="1.2" fill="rgb(0,55,0)" opacity="0.5"/><circle cx="41.3" cy="40.8" r="0.7" fill="rgb(0,81,0)" opacity="0.5"/><circle cx="47.7" cy="25.7" r="1.0" fill="rgb(0,84,0)" opacity="0.6"/><circle cx="12.6" cy="40.9" r="0.7" fill="rgb(0,76,0)" opacity="0.5"/><circle cx="25.3" cy="43.7" r="0.6" fill="rgb(0,81,0)" opacity="0.3"/><circle cx="27.2" cy="49.2" r="1.0" fill="rgb(0,67,0)" opacity="0.5"/><circle cx="19.5" cy="25.5" r="0.9" fill="rgb(0,58,0)" opacity="0.6"/><circle cx="30.0" cy="52.9" r="1.2" fill="rgb(0,77,0)" opacity="0.4"/><circle cx="45.2" cy="24.0" r="1.1" fill="rgb(0,78,0)" opacity="0.3"/><circle cx="52.4" cy="39.0" r="0.8" fill="rgb(0,76,0)" opacity="0.5"/><circle cx="29.0" cy="34.6" r="1.1" fill="rgb(0,73,0)" opacity="0.4"/><circle cx="16.1" cy="41.9" r="0.8" fill="rgb(0,70,0)" opacity="0.3"/><circle cx="47.4" cy="34.6" r="0.8" fill="rgb(0,81,0)" opacity="0.3"/><circle cx="30.4" cy="32.1" r="0.8" fill="rgb(0,60,0)" opacity="0.3"/><circle cx="24.6" cy="50.1" r="0.6" fill="rgb(0,73,0)" opacity="0.5"/><circle cx="16.7" cy="29.8" r="0.9" fill="rgb(0,79,0)" opacity="0.4"/><circle cx="47.8" cy="21.5" r="0.7" fill="rgb(0,60,0)" opacity="0.4"/><circle cx="45.2" cy="22.6" r="1.2" fill="rgb(0,64,0)" opacity="0.5"/><circle cx="40.8" cy="49.2" r="1.2" fill="rgb(0,66,0)" opacity="0.3"/><circle cx="9.2" cy="32.5" r="0.8" fill="rgb(0,63,0)" opacity="0.4"/><circle cx="38.3" cy="16.8" r="0.6" fill="rgb(0,80,0)" opacity="0.3"/><circle cx="23.0" cy="30.9" r="1.1" fill="rgb(0,82,0)" opacity="0.3"/><circle cx="37.4" cy="9.3" r="0.7" fill="rgb(0,60,0)" opacity="0.5"/><circle cx="36.9" cy="39.5" r="1.2" fill="rgb(0,63,0)" opacity="0.5"/><circle cx="50.1" cy="39.0" r="0.9" fill="rgb(0,76,0)" opacity="0.4"/><circle cx="28.0" cy="43.4" r="1.2" fill="rgb(0,73,0)" opacity="0.5"/><circle cx="12.2" cy="33.2" r="0.9" fill="rgb(0,78,0)" opacity="0.6"/><circle cx="13.6" cy="34.1" r="0.7" fill="rgb(0,64,0)" opacity="0.6"/><circle cx="15.7" cy="25.4" r="0.7" fill="rgb(0,82,0)" opacity="0.6"/><circle cx="37.3" cy="26.8" r="1.0" fill="rgb(0,77,0)" opacity="0.3"/><circle cx="27.2" cy="30.3" r="0.7" fill="rgb(0,68,0)" opacity="0.5"/><circle cx="37.2" cy="51.5" r="0.7" fill="rgb(0,80,0)" opacity="0.4"/><circle cx="9.2" cy="29.8" r="1.0" fill="rgb(0,74,0)" opacity="0.5"/><circle cx="56.4" cy="19.9" r="0.7" fill="rgb(0,60,0)" opacity="0.5"/><circle cx="45.1" cy="31.5" r="0.9" fill="rgb(0,80,0)" opacity="0.5"/><circle cx="28.0" cy="43.0" r="0.9" fill="rgb(0,75,0)" opacity="0.4"/><circle cx="21.7" cy="29.2" r="1.1" fill="rgb(0,62,0)" opacity="0.4"/><circle cx="44.6" cy="36.6" r="1.0" fill="rgb(0,73,0)" opacity="0.5"/><circle cx="25.8" cy="43.2" r="1.0" fill="rgb(0,72,0)" opacity="0.5"/><circle cx="13.1" cy="40.9" r="0.9" fill="rgb(0,56,0)" opacity="0.4"/><circle cx="26.3" cy="46.9" r="0.8" fill="rgb(0,73,0)" opacity="0.4"/><circle cx="16.7" cy="29.9" r="0.7" fill="rgb(0,59,0)" opacity="0.4"/><circle cx="32.5" cy="23.1" r="0.7" fill="rgb(0,85,0)" opacity="0.4"/><circle cx="47.1" cy="40.4" r="0.7" fill="rgb(0,73,0)" opacity="0.4"/><circle cx="14.7" cy="31.9" r="0.9" fill="rgb(0,79,0)" opacity="0.5"/><circle cx="51.3" cy="16.8" r="0.7" fill="rgb(0,55,0)" opacity="0.5"/><circle cx="35.2" cy="11.0" r="0.8" fill="rgb(0,64,0)" opacity="0.5"/><circle cx="34.1" cy="52.7" r="1.0" fill="rgb(0,82,0)" opacity="0.4"/><circle cx="16.0" cy="28.6" r="1.0" fill="rgb(0,73,0)" opacity="0.4"/><circle cx="47.7" cy="13.9" r="0.6" fill="rgb(0,80,0)" opacity="0.4"/><circle cx="53.7" cy="33.9" r="1.0" fill="rgb(0,78,0)" opacity="0.4"/><circle cx="30.5" cy="32.6" r="0.9" fill="rgb(0,84,0)" opacity="0.4"/><circle cx="34.5" cy="40.5" r="1.0" fill="rgb(0,76,0)" opacity="0.6"/><circle cx="16.8" cy="30.9" r="1.2" fill="rgb(0,60,0)" opacity="0.4"/><circle cx="58.3" cy="19.7" r="0.9" fill="rgb(0,77,0)" opacity="0.4"/><circle cx="59.1" cy="18.1" r="0.7" fill="rgb(0,66,0)" opacity="0.5"/><circle cx="33.9" cy="8.3" r="1.0" fill="rgb(0,75,0)" opacity="0.5"/><circle cx="34.8" cy="17.2" r="0.9" fill="rgb(0,69,0)" opacity="0.5"/><circle cx="42.5" cy="5.4" r="0.7" fill="rgb(0,72,0)" opacity="0.3"/><circle cx="51.1" cy="15.2" r="1.1" fill="rgb(0,63,0)" opacity="0.5"/><circle cx="18.6" cy="37.9" r="0.7" fill="rgb(0,56,0)" opacity="0.4"/><circle cx="34.0" cy="18.4" r="1.1" fill="rgb(0,65,0)" opacity="0.5"/><circle cx="45.2" cy="27.3" r="0.8" fill="rgb(0,59,0)" opacity="0.5"/><circle cx="51.2" cy="11.9" r="1.1" fill="rgb(0,62,0)" opacity="0.4"/><circle cx="33.4" cy="38.5" r="1.0" fill="rgb(0,85,0)" opacity="0.4"/><circle cx="44.0" cy="8.1" r="1.2" fill="rgb(0,64,0)" opacity="0.6"/><circle cx="21.8" cy="36.6" r="1.1" fill="rgb(0,77,0)" opacity="0.4"/><circle cx="41.6" cy="9.0" r="1.0" fill="rgb(0,82,0)" opacity="0.3"/><circle cx="22.3" cy="30.0" r="1.2" fill="rgb(0,77,0)" opacity="0.4"/><circle cx="16.8" cy="47.2" r="0.7" fill="rgb(0,79,0)" opacity="0.5"/><circle cx="31.3" cy="28.5" r="1.0" fill="rgb(0,63,0)" opacity="0.3"/><circle cx="57.1" cy="18.4" r="1.2" fill="rgb(0,85,0)" opacity="0.5"/><circle cx="13.3" cy="42.0" r="0.6" fill="rgb(0,71,0)" opacity="0.5"/><circle cx="39.3" cy="15.6" r="0.8" fill="rgb(0,56,0)" opacity="0.3"/><circle cx="59.7" cy="18.7" r="1.1" fill="rgb(0,72,0)" opacity="0.6"/><circle cx="20.8" cy="28.9" r="1.2" fill="rgb(0,68,0)" opacity="0.3"/><circle cx="33.7" cy="25.6" r="1.0" fill="rgb(0,84,0)" opacity="0.5"/><circle cx="21.6" cy="32.7" r="1.2" fill="rgb(0,61,0)" opacity="0.5"/><circle cx="41.2" cy="12.3" r="1.2" fill="rgb(0,73,0)" opacity="0.5"/><circle cx="47.2" cy="20.1" r="1.1" fill="rgb(0,77,0)" opacity="0.5"/><circle cx="50.3" cy="15.8" r="1.1" fill="rgb(0,82,0)" opacity="0.4"/><circle cx="41.2" cy="4.5" r="1.0" fill="rgb(0,56,0)" opacity="0.3"/><circle cx="38.8" cy="24.8" r="0.8" fill="rgb(0,78,0)" opacity="0.5"/><circle cx="33.3" cy="7.9" r="1.2" fill="rgb(0,70,0)" opacity="0.6"/><circle cx="53.0" cy="42.9" r="0.9" fill="rgb(0,82,0)" opacity="0.5"/><circle cx="55.8" cy="16.5" r="1.1" fill="rgb(0,69,0)" opacity="0.5"/></g><path d="M25.50,28.90 C26.62,28.61 28.33,28.66 29.50,29.00 C30.67,29.34 31.33,29.94 32.00,30.80 C32.67,31.66 32.66,33.01 33.20,33.80 C33.74,34.59 34.32,35.24 35.00,35.20 C35.68,35.16 36.17,34.00 37.00,33.60 C37.83,33.20 38.77,32.82 39.60,33.00 C40.43,33.18 41.28,33.63 41.60,34.60 C41.92,35.57 41.94,37.14 41.40,38.40 C40.86,39.66 39.84,40.84 38.60,41.60 C37.36,42.36 36.05,42.49 34.50,42.60 C32.95,42.71 31.53,42.49 30.00,42.20 C28.47,41.91 27.22,41.67 26.00,41.00 C24.78,40.33 23.83,39.72 23.20,38.50 C22.57,37.28 22.48,35.62 22.50,34.20 C22.52,32.78 22.76,31.55 23.30,30.60 C23.84,29.65 24.38,29.19 25.50,28.90 Z" fill="#203ee6" filter="url(#b05)"/><rect x="6" y="57.6" width="49.6" height="1.1" fill="#9a9a9a"/></g></g><g transform="translate(111.0,161.0)"><g clip-path="url(#k2)"><g filter="url(#b03)"><circle cx="19.2" cy="39.6" r="0.4" fill="rgb(157,12,12)" opacity="0.4"/><circle cx="41.7" cy="25.3" r="0.4" fill="rgb(188,15,15)" opacity="0.6"/><circle cx="47.6" cy="37.5" r="0.5" fill="rgb(216,17,17)" opacity="0.5"/><circle cx="50.4" cy="24.7" r="0.5" fill="rgb(167,13,13)" opacity="0.6"/><circle cx="20.4" cy="36.3" r="0.5" fill="rgb(188,15,15)" opacity="0.7"/><circle cx="31.5" cy="39.1" r="0.4" fill="rgb(199,15,15)" opacity="0.6"/><circle cx="39.7" cy="43.3" r="0.5" fill="rgb(183,14,14)" opacity="0.4"/><circle cx="13.0" cy="23.5" r="0.6" fill="rgb(155,12,12)" opacity="0.3"/><circle cx="48.3" cy="26.6" r="0.5" fill="rgb(157,12,12)" opacity="0.2"/><circle cx="53.1" cy="24.2" r="0.5" fill="rgb(173,13,13)" opacity="0.6"/><circle cx="48.3" cy="34.8" r="0.4" fill="rgb(201,16,16)" opacity="0.6"/><circle cx="30.0" cy="10.8" r="0.3" fill="rgb(204,16,16)" opacity="0.6"/><circle cx="25.6" cy="43.2" r="0.6" fill="rgb(202,16,16)" opacity="0.3"/><circle cx="50.8" cy="30.0" r="0.5" fill="rgb(183,14,14)" opacity="0.7"/><circle cx="10.7" cy="28.2" r="0.5" fill="rgb(132,10,10)" opacity="0.4"/><circle cx="24.3" cy="41.3" r="0.5" fill="rgb(178,14,14)" opacity="0.6"/><circle cx="46.0" cy="10.2" r="0.5" fill="rgb(199,15,15)" opacity="0.5"/><circle cx="28.2" cy="39.3" r="0.4" fill="rgb(208,16,16)" opacity="0.4"/><circle cx="50.8" cy="43.9" r="0.4" fill="rgb(219,17,17)" opacity="0.4"/><circle cx="39.4" cy="39.8" r="0.4" fill="rgb(209,16,16)" opacity="0.4"/><circle cx="45.9" cy="41.7" r="0.4" fill="rgb(157,12,12)" opacity="0.6"/><circle cx="53.6" cy="41.8" r="0.3" fill="rgb(202,16,16)" opacity="0.7"/><circle cx="23.2" cy="30.6" r="0.4" fill="rgb(207,16,16)" opacity="0.5"/><circle cx="41.4" cy="10.4" r="0.6" fill="rgb(186,14,14)" opacity="0.4"/><circle cx="17.9" cy="35.6" r="0.6" fill="rgb(207,16,16)" opacity="0.4"/><circle cx="46.1" cy="14.2" r="0.6" fill="rgb(158,12,12)" opacity="0.6"/><circle cx="34.6" cy="40.0" r="0.6" fill="rgb(217,17,17)" opacity="0.6"/><circle cx="37.3" cy="35.1" r="0.3" fill="rgb(175,14,14)" opacity="0.2"/><circle cx="49.1" cy="29.9" r="0.5" fill="rgb(143,11,11)" opacity="0.4"/><circle cx="30.6" cy="53.6" r="0.5" fill="rgb(135,10,10)" opacity="0.5"/><circle cx="44.0" cy="41.5" r="0.4" fill="rgb(166,13,13)" opacity="0.4"/><circle cx="57.8" cy="19.0" r="0.3" fill="rgb(183,14,14)" opacity="0.4"/><circle cx="40.0" cy="17.2" r="0.3" fill="rgb(190,15,15)" opacity="0.6"/><circle cx="44.5" cy="12.7" r="0.5" fill="rgb(209,16,16)" opacity="0.6"/><circle cx="51.1" cy="27.2" r="0.6" fill="rgb(179,14,14)" opacity="0.3"/><circle cx="32.0" cy="34.6" r="0.6" fill="rgb(158,12,12)" opacity="0.6"/><circle cx="29.2" cy="38.8" r="0.3" fill="rgb(196,15,15)" opacity="0.4"/><circle cx="18.4" cy="51.3" r="0.6" fill="rgb(218,17,17)" opacity="0.5"/><circle cx="13.0" cy="30.4" r="0.4" fill="rgb(213,17,17)" opacity="0.5"/><circle cx="35.8" cy="19.5" r="0.6" fill="rgb(139,11,11)" opacity="0.5"/><circle cx="36.7" cy="8.3" r="0.6" fill="rgb(211,16,16)" opacity="0.6"/><circle cx="48.5" cy="27.4" r="0.6" fill="rgb(205,16,16)" opacity="0.6"/><circle cx="49.1" cy="35.6" r="0.5" fill="rgb(189,15,15)" opacity="0.3"/><circle cx="48.2" cy="15.7" r="0.5" fill="rgb(213,17,17)" opacity="0.7"/><circle cx="37.3" cy="21.1" r="0.5" fill="rgb(132,10,10)" opacity="0.5"/><circle cx="51.0" cy="14.6" r="0.4" fill="rgb(147,11,11)" opacity="0.4"/><circle cx="50.7" cy="38.0" r="0.6" fill="rgb(212,16,16)" opacity="0.6"/><circle cx="59.6" cy="20.2" r="0.4" fill="rgb(153,12,12)" opacity="0.6"/><circle cx="54.7" cy="19.2" r="0.6" fill="rgb(179,14,14)" opacity="0.5"/><circle cx="46.6" cy="12.4" r="0.5" fill="rgb(160,12,12)" opacity="0.7"/><circle cx="39.9" cy="17.3" r="0.4" fill="rgb(162,12,12)" opacity="0.2"/><circle cx="23.7" cy="50.0" r="0.5" fill="rgb(215,17,17)" opacity="0.7"/><circle cx="43.1" cy="41.3" r="0.6" fill="rgb(130,10,10)" opacity="0.4"/><circle cx="11.3" cy="29.9" r="0.4" fill="rgb(136,10,10)" opacity="0.5"/><circle cx="40.9" cy="33.6" r="0.4" fill="rgb(212,16,16)" opacity="0.7"/><circle cx="35.0" cy="30.3" r="0.6" fill="rgb(160,12,12)" opacity="0.5"/><circle cx="32.2" cy="29.5" r="0.3" fill="rgb(134,10,10)" opacity="0.5"/><circle cx="15.1" cy="23.7" r="0.4" fill="rgb(178,14,14)" opacity="0.4"/><circle cx="42.6" cy="11.5" r="0.4" fill="rgb(178,14,14)" opacity="0.5"/><circle cx="30.8" cy="46.8" r="0.6" fill="rgb(166,13,13)" opacity="0.3"/><circle cx="28.7" cy="42.2" r="0.4" fill="rgb(213,17,17)" opacity="0.6"/><circle cx="23.9" cy="44.6" r="0.6" fill="rgb(212,16,16)" opacity="0.5"/><circle cx="18.1" cy="24.3" r="0.6" fill="rgb(144,11,11)" opacity="0.6"/><circle cx="38.1" cy="8.8" r="0.4" fill="rgb(205,16,16)" opacity="0.5"/><circle cx="53.3" cy="39.2" r="0.6" fill="rgb(181,14,14)" opacity="0.3"/><circle cx="34.8" cy="7.0" r="0.6" fill="rgb(185,14,14)" opacity="0.5"/><circle cx="41.9" cy="17.8" r="0.4" fill="rgb(154,12,12)" opacity="0.5"/><circle cx="22.5" cy="39.9" r="0.6" fill="rgb(153,12,12)" opacity="0.2"/><circle cx="27.8" cy="41.4" r="0.4" fill="rgb(155,12,12)" opacity="0.6"/><circle cx="28.6" cy="36.5" r="0.6" fill="rgb(218,17,17)" opacity="0.3"/><circle cx="42.4" cy="5.6" r="0.6" fill="rgb(191,15,15)" opacity="0.3"/><circle cx="17.7" cy="28.2" r="0.5" fill="rgb(164,13,13)" opacity="0.5"/><circle cx="24.9" cy="44.1" r="0.5" fill="rgb(149,11,11)" opacity="0.5"/><circle cx="40.3" cy="40.9" r="0.4" fill="rgb(199,15,15)" opacity="0.6"/><circle cx="47.4" cy="34.5" r="0.5" fill="rgb(137,10,10)" opacity="0.7"/><circle cx="15.6" cy="40.4" r="0.4" fill="rgb(188,15,15)" opacity="0.3"/><circle cx="54.2" cy="23.1" r="0.3" fill="rgb(133,10,10)" opacity="0.5"/><circle cx="33.7" cy="7.6" r="0.5" fill="rgb(150,12,12)" opacity="0.6"/><circle cx="36.7" cy="9.2" r="0.5" fill="rgb(174,13,13)" opacity="0.6"/><circle cx="43.1" cy="23.0" r="0.4" fill="rgb(160,12,12)" opacity="0.5"/><circle cx="54.5" cy="40.4" r="0.6" fill="rgb(166,13,13)" opacity="0.3"/><circle cx="42.1" cy="28.6" r="0.3" fill="rgb(163,13,13)" opacity="0.4"/><circle cx="34.0" cy="53.7" r="0.4" fill="rgb(198,15,15)" opacity="0.3"/><circle cx="15.2" cy="36.4" r="0.5" fill="rgb(167,13,13)" opacity="0.7"/><circle cx="12.1" cy="36.5" r="0.4" fill="rgb(217,17,17)" opacity="0.3"/><circle cx="34.1" cy="24.5" r="0.5" fill="rgb(145,11,11)" opacity="0.4"/><circle cx="12.4" cy="40.5" r="0.4" fill="rgb(184,14,14)" opacity="0.3"/><circle cx="16.1" cy="38.9" r="0.4" fill="rgb(157,12,12)" opacity="0.4"/><circle cx="55.3" cy="43.6" r="0.5" fill="rgb(172,13,13)" opacity="0.3"/><circle cx="32.1" cy="36.3" r="0.3" fill="rgb(172,13,13)" opacity="0.7"/><circle cx="46.0" cy="26.1" r="0.3" fill="rgb(213,17,17)" opacity="0.5"/><circle cx="17.7" cy="30.1" r="0.4" fill="rgb(212,16,16)" opacity="0.4"/><circle cx="16.6" cy="27.9" r="0.4" fill="rgb(183,14,14)" opacity="0.2"/><circle cx="10.3" cy="30.6" r="0.3" fill="rgb(199,15,15)" opacity="0.5"/><circle cx="54.6" cy="16.1" r="0.5" fill="rgb(151,12,12)" opacity="0.4"/><circle cx="40.1" cy="16.8" r="0.4" fill="rgb(219,17,17)" opacity="0.5"/><circle cx="58.5" cy="14.6" r="0.3" fill="rgb(159,12,12)" opacity="0.5"/><circle cx="17.2" cy="48.9" r="0.5" fill="rgb(176,14,14)" opacity="0.5"/><circle cx="20.2" cy="36.4" r="0.4" fill="rgb(194,15,15)" opacity="0.2"/><circle cx="40.3" cy="36.8" r="0.6" fill="rgb(185,14,14)" opacity="0.5"/><circle cx="30.0" cy="38.8" r="0.4" fill="rgb(176,14,14)" opacity="0.4"/><circle cx="33.1" cy="33.8" r="0.4" fill="rgb(149,11,11)" opacity="0.5"/><circle cx="53.5" cy="23.9" r="0.5" fill="rgb(170,13,13)" opacity="0.3"/><circle cx="39.9" cy="38.1" r="0.5" fill="rgb(197,15,15)" opacity="0.7"/><circle cx="21.8" cy="45.1" r="0.4" fill="rgb(175,14,14)" opacity="0.6"/><circle cx="51.5" cy="19.3" r="0.5" fill="rgb(202,16,16)" opacity="0.3"/><circle cx="51.3" cy="20.5" r="0.4" fill="rgb(139,11,11)" opacity="0.3"/><circle cx="12.6" cy="44.5" r="0.5" fill="rgb(189,15,15)" opacity="0.3"/><circle cx="40.3" cy="20.1" r="0.3" fill="rgb(175,14,14)" opacity="0.4"/><circle cx="41.6" cy="45.0" r="0.5" fill="rgb(173,13,13)" opacity="0.3"/><circle cx="38.1" cy="7.4" r="0.3" fill="rgb(150,12,12)" opacity="0.4"/><circle cx="12.3" cy="27.7" r="0.3" fill="rgb(170,13,13)" opacity="0.3"/><circle cx="44.1" cy="10.9" r="0.5" fill="rgb(195,15,15)" opacity="0.4"/><circle cx="40.8" cy="48.6" r="0.6" fill="rgb(148,11,11)" opacity="0.4"/><circle cx="17.2" cy="34.6" r="0.5" fill="rgb(143,11,11)" opacity="0.5"/><circle cx="49.5" cy="35.5" r="0.5" fill="rgb(196,15,15)" opacity="0.4"/><circle cx="43.3" cy="26.3" r="0.3" fill="rgb(189,15,15)" opacity="0.2"/><circle cx="18.7" cy="32.2" r="0.5" fill="rgb(157,12,12)" opacity="0.2"/><circle cx="53.0" cy="23.5" r="0.4" fill="rgb(186,14,14)" opacity="0.6"/><circle cx="17.7" cy="44.9" r="0.6" fill="rgb(156,12,12)" opacity="0.7"/><circle cx="42.6" cy="18.6" r="0.5" fill="rgb(141,11,11)" opacity="0.8"/><circle cx="51.8" cy="23.0" r="0.4" fill="rgb(160,12,12)" opacity="0.5"/><circle cx="30.0" cy="37.9" r="0.5" fill="rgb(188,15,15)" opacity="0.5"/><circle cx="47.8" cy="24.2" r="0.7" fill="rgb(202,16,16)" opacity="0.8"/><circle cx="44.4" cy="10.2" r="0.5" fill="rgb(134,10,10)" opacity="0.6"/><circle cx="39.3" cy="39.8" r="0.6" fill="rgb(174,13,13)" opacity="0.4"/><circle cx="32.9" cy="16.4" r="0.4" fill="rgb(209,16,16)" opacity="0.6"/><circle cx="33.4" cy="11.1" r="0.3" fill="rgb(159,12,12)" opacity="0.3"/><circle cx="26.5" cy="36.7" r="0.7" fill="rgb(178,14,14)" opacity="0.4"/><circle cx="31.0" cy="34.8" r="0.6" fill="rgb(187,14,14)" opacity="0.5"/><circle cx="37.1" cy="7.6" r="0.3" fill="rgb(138,11,11)" opacity="0.8"/><circle cx="52.2" cy="28.0" r="0.7" fill="rgb(151,12,12)" opacity="0.8"/><circle cx="49.8" cy="17.2" r="0.7" fill="rgb(188,15,15)" opacity="0.4"/><circle cx="30.6" cy="21.7" r="0.6" fill="rgb(156,12,12)" opacity="0.7"/><circle cx="23.1" cy="20.6" r="0.6" fill="rgb(167,13,13)" opacity="0.3"/><circle cx="30.0" cy="15.7" r="0.5" fill="rgb(206,16,16)" opacity="0.8"/><circle cx="50.0" cy="20.6" r="0.5" fill="rgb(206,16,16)" opacity="0.5"/><circle cx="31.9" cy="13.1" r="0.3" fill="rgb(182,14,14)" opacity="0.3"/><circle cx="29.5" cy="15.7" r="0.7" fill="rgb(177,14,14)" opacity="0.6"/><circle cx="31.7" cy="23.7" r="0.5" fill="rgb(136,10,10)" opacity="0.4"/><circle cx="25.5" cy="13.5" r="0.6" fill="rgb(133,10,10)" opacity="0.6"/><circle cx="32.6" cy="21.7" r="0.5" fill="rgb(142,11,11)" opacity="0.3"/><circle cx="34.1" cy="37.4" r="0.6" fill="rgb(179,14,14)" opacity="0.4"/><circle cx="46.3" cy="24.1" r="0.6" fill="rgb(148,11,11)" opacity="0.8"/><circle cx="43.6" cy="22.5" r="0.5" fill="rgb(197,15,15)" opacity="0.6"/><circle cx="48.9" cy="25.5" r="0.5" fill="rgb(206,16,16)" opacity="0.8"/><circle cx="36.6" cy="19.0" r="0.7" fill="rgb(202,16,16)" opacity="0.4"/><circle cx="29.4" cy="39.9" r="0.6" fill="rgb(211,16,16)" opacity="0.4"/><circle cx="30.7" cy="39.3" r="0.3" fill="rgb(178,14,14)" opacity="0.4"/><circle cx="29.6" cy="7.2" r="0.6" fill="rgb(137,10,10)" opacity="0.7"/><circle cx="40.6" cy="32.0" r="0.3" fill="rgb(161,12,12)" opacity="0.5"/><circle cx="31.8" cy="8.2" r="0.7" fill="rgb(145,11,11)" opacity="0.8"/><circle cx="39.3" cy="24.1" r="0.4" fill="rgb(195,15,15)" opacity="0.5"/><circle cx="36.5" cy="21.4" r="0.5" fill="rgb(197,15,15)" opacity="0.8"/><circle cx="28.0" cy="13.8" r="0.5" fill="rgb(207,16,16)" opacity="0.7"/><circle cx="44.6" cy="30.3" r="0.4" fill="rgb(146,11,11)" opacity="0.7"/><circle cx="23.2" cy="12.4" r="0.6" fill="rgb(135,10,10)" opacity="0.8"/><circle cx="43.0" cy="8.0" r="0.3" fill="rgb(163,13,13)" opacity="0.3"/><circle cx="39.2" cy="21.8" r="0.4" fill="rgb(204,16,16)" opacity="0.8"/><circle cx="36.5" cy="33.9" r="0.6" fill="rgb(164,13,13)" opacity="0.6"/><circle cx="44.5" cy="33.7" r="0.4" fill="rgb(157,12,12)" opacity="0.4"/><circle cx="26.1" cy="33.8" r="0.3" fill="rgb(219,17,17)" opacity="0.3"/><circle cx="48.7" cy="26.7" r="0.3" fill="rgb(137,10,10)" opacity="0.7"/><circle cx="45.6" cy="23.5" r="0.7" fill="rgb(187,14,14)" opacity="0.8"/><circle cx="49.9" cy="12.0" r="0.4" fill="rgb(137,10,10)" opacity="0.5"/><circle cx="42.4" cy="6.7" r="0.7" fill="rgb(181,14,14)" opacity="0.7"/><circle cx="36.2" cy="12.2" r="0.5" fill="rgb(200,16,16)" opacity="0.7"/><circle cx="45.1" cy="10.3" r="0.7" fill="rgb(159,12,12)" opacity="0.8"/><circle cx="48.7" cy="27.6" r="0.4" fill="rgb(215,17,17)" opacity="0.7"/><circle cx="50.4" cy="28.4" r="0.6" fill="rgb(175,14,14)" opacity="0.6"/><circle cx="22.9" cy="29.6" r="0.4" fill="rgb(217,17,17)" opacity="0.8"/><circle cx="39.2" cy="6.1" r="0.5" fill="rgb(139,11,11)" opacity="0.6"/><circle cx="20.5" cy="28.6" r="0.6" fill="rgb(208,16,16)" opacity="0.8"/><circle cx="32.8" cy="6.5" r="0.6" fill="rgb(192,15,15)" opacity="0.5"/><circle cx="51.4" cy="19.9" r="0.3" fill="rgb(174,13,13)" opacity="0.5"/><circle cx="22.1" cy="26.8" r="0.4" fill="rgb(142,11,11)" opacity="0.3"/><circle cx="40.2" cy="33.8" r="0.6" fill="rgb(195,15,15)" opacity="0.4"/><circle cx="34.8" cy="36.1" r="0.4" fill="rgb(155,12,12)" opacity="0.8"/><circle cx="40.2" cy="16.0" r="0.4" fill="rgb(183,14,14)" opacity="0.6"/><circle cx="51.3" cy="15.7" r="0.5" fill="rgb(164,13,13)" opacity="0.6"/><circle cx="44.4" cy="18.3" r="0.5" fill="rgb(219,17,17)" opacity="0.8"/><circle cx="30.9" cy="19.1" r="0.4" fill="rgb(142,11,11)" opacity="0.4"/><circle cx="47.1" cy="10.3" r="0.5" fill="rgb(207,16,16)" opacity="0.6"/><circle cx="36.2" cy="19.3" r="0.4" fill="rgb(137,10,10)" opacity="0.8"/><circle cx="22.4" cy="30.8" r="0.4" fill="rgb(168,13,13)" opacity="0.4"/><circle cx="35.9" cy="21.1" r="0.6" fill="rgb(201,16,16)" opacity="0.8"/><circle cx="52.3" cy="14.1" r="0.6" fill="rgb(204,16,16)" opacity="0.3"/><circle cx="48.4" cy="23.3" r="0.5" fill="rgb(158,12,12)" opacity="0.7"/><circle cx="45.1" cy="25.1" r="0.3" fill="rgb(137,10,10)" opacity="0.7"/><circle cx="45.7" cy="38.3" r="0.5" fill="rgb(164,13,13)" opacity="0.5"/><circle cx="21.4" cy="25.0" r="0.7" fill="rgb(144,11,11)" opacity="0.7"/><circle cx="31.5" cy="11.1" r="0.5" fill="rgb(204,16,16)" opacity="0.7"/><circle cx="24.4" cy="24.6" r="0.6" fill="rgb(218,17,17)" opacity="0.8"/><circle cx="51.1" cy="18.0" r="0.6" fill="rgb(154,12,12)" opacity="0.5"/><circle cx="47.2" cy="23.5" r="0.5" fill="rgb(220,17,17)" opacity="0.8"/><circle cx="41.4" cy="28.9" r="0.7" fill="rgb(159,12,12)" opacity="0.5"/><circle cx="40.3" cy="20.6" r="0.5" fill="rgb(169,13,13)" opacity="0.8"/><circle cx="48.9" cy="25.3" r="0.3" fill="rgb(207,16,16)" opacity="0.3"/><circle cx="41.7" cy="24.6" r="0.4" fill="rgb(171,13,13)" opacity="0.4"/><circle cx="44.0" cy="37.3" r="0.6" fill="rgb(149,11,11)" opacity="0.4"/><circle cx="37.6" cy="23.9" r="0.3" fill="rgb(193,15,15)" opacity="0.4"/><circle cx="21.8" cy="18.8" r="0.7" fill="rgb(167,13,13)" opacity="0.3"/><circle cx="53.2" cy="13.6" r="0.6" fill="rgb(175,14,14)" opacity="0.4"/><circle cx="38.7" cy="6.2" r="0.5" fill="rgb(163,13,13)" opacity="0.7"/><circle cx="35.4" cy="9.0" r="0.5" fill="rgb(163,13,13)" opacity="0.8"/><circle cx="38.8" cy="32.6" r="0.7" fill="rgb(158,12,12)" opacity="0.7"/><circle cx="49.8" cy="12.9" r="0.7" fill="rgb(174,13,13)" opacity="0.6"/><circle cx="34.6" cy="6.0" r="0.3" fill="rgb(189,15,15)" opacity="0.8"/><circle cx="50.8" cy="19.6" r="0.7" fill="rgb(187,14,14)" opacity="0.4"/><circle cx="41.2" cy="23.1" r="0.3" fill="rgb(147,11,11)" opacity="0.7"/><circle cx="28.9" cy="40.2" r="0.7" fill="rgb(204,16,16)" opacity="0.6"/><circle cx="30.6" cy="9.8" r="0.5" fill="rgb(150,12,12)" opacity="0.3"/><circle cx="43.9" cy="36.3" r="0.5" fill="rgb(193,15,15)" opacity="0.8"/><circle cx="27.6" cy="17.8" r="0.3" fill="rgb(190,15,15)" opacity="0.7"/><circle cx="35.4" cy="9.4" r="0.4" fill="rgb(167,13,13)" opacity="0.7"/><circle cx="46.5" cy="39.3" r="0.7" fill="rgb(208,16,16)" opacity="0.4"/><circle cx="51.1" cy="26.8" r="0.5" fill="rgb(198,15,15)" opacity="0.6"/><circle cx="22.3" cy="22.5" r="0.3" fill="rgb(156,12,12)" opacity="0.5"/><circle cx="45.9" cy="38.1" r="0.5" fill="rgb(137,10,10)" opacity="0.5"/><circle cx="41.8" cy="36.9" r="0.6" fill="rgb(147,11,11)" opacity="0.7"/><circle cx="34.9" cy="9.5" r="0.6" fill="rgb(186,14,14)" opacity="0.6"/><circle cx="39.4" cy="10.4" r="0.4" fill="rgb(204,16,16)" opacity="0.8"/><circle cx="39.1" cy="4.9" r="0.4" fill="rgb(147,11,11)" opacity="0.4"/><circle cx="40.7" cy="14.4" r="0.3" fill="rgb(182,14,14)" opacity="0.6"/><circle cx="49.6" cy="24.5" r="0.5" fill="rgb(182,14,14)" opacity="0.4"/><circle cx="20.5" cy="27.1" r="0.4" fill="rgb(197,15,15)" opacity="0.6"/><circle cx="29.8" cy="28.3" r="0.4" fill="rgb(163,13,13)" opacity="0.7"/><circle cx="46.0" cy="36.4" r="0.4" fill="rgb(151,12,12)" opacity="0.6"/><circle cx="29.0" cy="29.9" r="0.4" fill="rgb(135,10,10)" opacity="0.4"/><circle cx="40.4" cy="13.9" r="0.3" fill="rgb(216,17,17)" opacity="0.4"/><circle cx="25.0" cy="34.2" r="0.4" fill="rgb(130,10,10)" opacity="0.5"/><circle cx="40.4" cy="17.0" r="0.5" fill="rgb(161,12,12)" opacity="0.6"/><circle cx="43.3" cy="13.7" r="0.3" fill="rgb(200,16,16)" opacity="0.4"/><circle cx="30.3" cy="39.6" r="0.6" fill="rgb(151,12,12)" opacity="0.3"/><circle cx="39.5" cy="26.1" r="0.4" fill="rgb(186,14,14)" opacity="0.4"/><circle cx="30.9" cy="8.3" r="0.7" fill="rgb(180,14,14)" opacity="0.3"/><circle cx="38.1" cy="22.2" r="0.4" fill="rgb(140,11,11)" opacity="0.7"/><circle cx="44.3" cy="31.3" r="0.6" fill="rgb(214,17,17)" opacity="0.3"/><circle cx="22.8" cy="24.9" r="0.4" fill="rgb(206,16,16)" opacity="0.7"/><circle cx="47.8" cy="35.4" r="0.5" fill="rgb(194,15,15)" opacity="0.4"/></g><path d="M25.50,28.90 C26.62,28.61 28.33,28.66 29.50,29.00 C30.67,29.34 31.33,29.94 32.00,30.80 C32.67,31.66 32.66,33.01 33.20,33.80 C33.74,34.59 34.32,35.24 35.00,35.20 C35.68,35.16 36.17,34.00 37.00,33.60 C37.83,33.20 38.77,32.82 39.60,33.00 C40.43,33.18 41.28,33.63 41.60,34.60 C41.92,35.57 41.94,37.14 41.40,38.40 C40.86,39.66 39.84,40.84 38.60,41.60 C37.36,42.36 36.05,42.49 34.50,42.60 C32.95,42.71 31.53,42.49 30.00,42.20 C28.47,41.91 27.22,41.67 26.00,41.00 C24.78,40.33 23.83,39.72 23.20,38.50 C22.57,37.28 22.48,35.62 22.50,34.20 C22.52,32.78 22.76,31.55 23.30,30.60 C23.84,29.65 24.38,29.19 25.50,28.90 Z" fill="#203ee6" filter="url(#b05)"/></g></g><g transform="translate(186.6,161.0)"><g clip-path="url(#k3)"><path d="M40.00,1.90 C40.50,1.65 40.99,2.00 41.30,2.50 C41.61,3.00 42.48,6.15 43.10,6.90 C43.72,7.65 46.43,9.44 47.50,10.00 C48.57,10.56 52.55,12.06 53.80,12.50 C55.05,12.94 59.19,13.90 60.00,14.40 C60.81,14.90 61.90,16.88 61.90,17.50 C61.90,18.12 60.44,20.16 60.00,20.60 C59.56,21.04 58.00,21.46 57.50,21.90 C57.00,22.34 55.37,24.06 55.00,25.00 C54.63,25.94 53.86,30.05 53.80,31.30 C53.74,32.55 54.15,36.32 54.40,37.50 C54.65,38.68 56.18,42.35 56.30,43.10 C56.42,43.85 56.23,44.87 55.60,45.00 C54.97,45.13 51.06,44.27 50.00,44.40 C48.94,44.53 46.00,45.74 45.00,46.30 C44.00,46.86 40.81,49.13 40.00,50.00 C39.19,50.87 37.40,54.12 36.90,55.00 C36.40,55.88 35.38,58.74 35.00,58.80 C34.62,58.86 33.72,56.23 33.10,55.60 C32.48,54.97 29.86,52.87 28.80,52.50 C27.74,52.13 23.75,51.90 22.50,51.90 C21.25,51.90 17.30,52.81 16.30,52.50 C15.30,52.19 12.94,49.92 12.50,48.80 C12.06,47.68 12.09,42.62 11.90,41.30 C11.71,39.98 10.98,36.60 10.60,35.60 C10.22,34.60 8.16,32.17 8.10,31.30 C8.04,30.43 9.68,27.59 10.00,26.90 C10.32,26.21 10.92,24.84 11.30,24.40 C11.68,23.96 13.30,22.69 13.80,22.50 C14.30,22.31 15.80,22.37 16.30,22.50 C16.80,22.63 18.37,23.36 18.80,23.80 C19.23,24.24 19.98,26.47 20.60,26.90 C21.22,27.33 24.12,28.10 25.00,28.10 C25.88,28.10 28.65,27.15 29.40,26.90 C30.15,26.65 32.31,26.16 32.50,25.60 C32.69,25.04 31.61,22.36 31.30,21.30 C30.99,20.24 29.59,16.00 29.40,15.00 C29.21,14.00 29.09,11.99 29.40,11.30 C29.71,10.61 31.81,8.73 32.50,8.10 C33.19,7.47 35.55,5.62 36.30,5.00 C37.05,4.38 39.50,2.15 40.00,1.90 Z" fill="#0f9c08" stroke="#2ed814" stroke-width="1.4" filter="url(#b04)"/><g filter="url(#b04)"><circle cx="33.1" cy="41.1" r="0.6" fill="rgb(28,209,0)" opacity="0.4"/><circle cx="41.3" cy="33.1" r="1.0" fill="rgb(21,217,0)" opacity="0.3"/><circle cx="34.6" cy="52.6" r="0.8" fill="rgb(14,222,0)" opacity="0.3"/><circle cx="41.5" cy="23.8" r="0.6" fill="rgb(28,235,0)" opacity="0.2"/><circle cx="53.9" cy="15.0" r="1.0" fill="rgb(25,228,0)" opacity="0.5"/><circle cx="53.2" cy="40.1" r="0.7" fill="rgb(18,195,0)" opacity="0.5"/><circle cx="10.8" cy="29.2" r="0.9" fill="rgb(22,222,0)" opacity="0.4"/><circle cx="41.5" cy="18.9" r="0.5" fill="rgb(35,235,0)" opacity="0.2"/><circle cx="17.9" cy="34.1" r="0.6" fill="rgb(30,218,0)" opacity="0.3"/><circle cx="42.4" cy="28.1" r="0.6" fill="rgb(24,208,0)" opacity="0.3"/><circle cx="37.1" cy="28.7" r="0.8" fill="rgb(29,217,0)" opacity="0.5"/><circle cx="40.3" cy="17.3" r="0.8" fill="rgb(11,231,0)" opacity="0.5"/><circle cx="34.7" cy="27.1" r="0.6" fill="rgb(21,228,0)" opacity="0.2"/><circle cx="42.4" cy="38.0" r="1.1" fill="rgb(29,233,0)" opacity="0.2"/><circle cx="37.5" cy="21.0" r="0.7" fill="rgb(23,221,0)" opacity="0.4"/><circle cx="44.9" cy="16.5" r="1.0" fill="rgb(37,218,0)" opacity="0.3"/><circle cx="31.5" cy="15.2" r="0.6" fill="rgb(21,197,0)" opacity="0.2"/><circle cx="52.1" cy="17.6" r="0.5" fill="rgb(25,196,0)" opacity="0.2"/><circle cx="34.5" cy="57.0" r="0.9" fill="rgb(28,196,0)" opacity="0.5"/><circle cx="33.9" cy="8.2" r="1.1" fill="rgb(16,200,0)" opacity="0.3"/><circle cx="34.5" cy="47.7" r="0.7" fill="rgb(12,229,0)" opacity="0.4"/><circle cx="35.3" cy="41.0" r="0.6" fill="rgb(28,206,0)" opacity="0.4"/><circle cx="32.6" cy="30.9" r="0.6" fill="rgb(30,196,0)" opacity="0.2"/><circle cx="39.8" cy="20.6" r="0.8" fill="rgb(27,229,0)" opacity="0.5"/><circle cx="20.6" cy="42.7" r="0.6" fill="rgb(23,223,0)" opacity="0.5"/><circle cx="21.5" cy="46.3" r="0.6" fill="rgb(26,204,0)" opacity="0.2"/><circle cx="18.0" cy="33.8" r="0.7" fill="rgb(23,233,0)" opacity="0.5"/><circle cx="32.4" cy="45.6" r="0.8" fill="rgb(13,215,0)" opacity="0.3"/><circle cx="45.1" cy="19.9" r="0.8" fill="rgb(22,204,0)" opacity="0.3"/><circle cx="34.0" cy="31.0" r="0.6" fill="rgb(18,215,0)" opacity="0.4"/><circle cx="36.1" cy="42.6" r="0.8" fill="rgb(21,225,0)" opacity="0.4"/><circle cx="46.5" cy="29.9" r="0.9" fill="rgb(23,228,0)" opacity="0.5"/><circle cx="33.9" cy="43.9" r="0.6" fill="rgb(13,215,0)" opacity="0.4"/><circle cx="20.6" cy="46.2" r="1.0" fill="rgb(26,191,0)" opacity="0.2"/><circle cx="51.2" cy="36.2" r="0.8" fill="rgb(12,202,0)" opacity="0.2"/><circle cx="23.6" cy="46.8" r="0.8" fill="rgb(30,226,0)" opacity="0.3"/><circle cx="39.2" cy="29.1" r="0.8" fill="rgb(21,202,0)" opacity="0.5"/><circle cx="49.6" cy="41.2" r="0.8" fill="rgb(13,194,0)" opacity="0.2"/><circle cx="43.7" cy="16.0" r="0.9" fill="rgb(29,212,0)" opacity="0.4"/><circle cx="31.2" cy="15.5" r="0.7" fill="rgb(38,198,0)" opacity="0.4"/><circle cx="32.2" cy="26.3" r="0.9" fill="rgb(34,225,0)" opacity="0.5"/><circle cx="51.6" cy="43.2" r="1.1" fill="rgb(24,223,0)" opacity="0.3"/><circle cx="43.1" cy="19.8" r="1.0" fill="rgb(27,223,0)" opacity="0.3"/><circle cx="31.2" cy="17.9" r="1.0" fill="rgb(27,198,0)" opacity="0.4"/><circle cx="12.2" cy="40.7" r="1.0" fill="rgb(14,194,0)" opacity="0.4"/><circle cx="42.6" cy="31.7" r="0.9" fill="rgb(38,222,0)" opacity="0.5"/><circle cx="47.9" cy="39.7" r="1.1" fill="rgb(34,193,0)" opacity="0.3"/><circle cx="43.5" cy="35.4" r="0.8" fill="rgb(12,226,0)" opacity="0.3"/><circle cx="36.2" cy="44.5" r="0.5" fill="rgb(21,233,0)" opacity="0.5"/><circle cx="15.4" cy="35.9" r="0.7" fill="rgb(17,219,0)" opacity="0.4"/><circle cx="10.4" cy="33.3" r="0.8" fill="rgb(16,197,0)" opacity="0.4"/><circle cx="29.0" cy="38.3" r="0.8" fill="rgb(36,198,0)" opacity="0.4"/><circle cx="40.8" cy="39.4" r="0.7" fill="rgb(21,235,0)" opacity="0.5"/><circle cx="44.8" cy="12.1" r="0.9" fill="rgb(22,213,0)" opacity="0.2"/><circle cx="50.9" cy="22.0" r="0.9" fill="rgb(16,196,0)" opacity="0.3"/><circle cx="30.3" cy="35.6" r="0.5" fill="rgb(20,215,0)" opacity="0.3"/><circle cx="30.8" cy="29.5" r="1.0" fill="rgb(14,232,0)" opacity="0.4"/><circle cx="25.3" cy="41.0" r="0.6" fill="rgb(33,218,0)" opacity="0.4"/><circle cx="21.2" cy="31.9" r="1.0" fill="rgb(20,205,0)" opacity="0.3"/><circle cx="52.4" cy="37.9" r="1.0" fill="rgb(32,233,0)" opacity="0.5"/><circle cx="53.6" cy="37.3" r="0.9" fill="rgb(17,201,0)" opacity="0.3"/><circle cx="30.7" cy="41.5" r="0.7" fill="rgb(34,200,0)" opacity="0.4"/><circle cx="34.2" cy="32.2" r="0.9" fill="rgb(23,222,0)" opacity="0.2"/><circle cx="35.3" cy="31.7" r="0.7" fill="rgb(36,192,0)" opacity="0.2"/><circle cx="29.1" cy="49.0" r="0.6" fill="rgb(27,199,0)" opacity="0.3"/><circle cx="46.4" cy="27.8" r="1.0" fill="rgb(23,224,0)" opacity="0.3"/><circle cx="50.9" cy="24.1" r="0.7" fill="rgb(20,223,0)" opacity="0.2"/><circle cx="48.5" cy="21.2" r="0.8" fill="rgb(32,192,0)" opacity="0.3"/><circle cx="28.9" cy="46.4" r="0.7" fill="rgb(11,224,0)" opacity="0.5"/><circle cx="39.2" cy="47.2" r="0.9" fill="rgb(38,211,0)" opacity="0.2"/><circle cx="32.3" cy="40.3" r="1.0" fill="rgb(17,223,0)" opacity="0.3"/><circle cx="53.1" cy="42.0" r="0.9" fill="rgb(25,229,0)" opacity="0.4"/><circle cx="25.9" cy="31.1" r="0.8" fill="rgb(22,215,0)" opacity="0.4"/><circle cx="48.7" cy="27.5" r="0.9" fill="rgb(38,225,0)" opacity="0.2"/><circle cx="45.8" cy="10.4" r="0.5" fill="rgb(24,195,0)" opacity="0.4"/><circle cx="56.3" cy="19.9" r="1.0" fill="rgb(40,192,0)" opacity="0.3"/><circle cx="53.5" cy="42.3" r="0.7" fill="rgb(25,196,0)" opacity="0.5"/><circle cx="17.9" cy="30.8" r="0.8" fill="rgb(18,221,0)" opacity="0.2"/><circle cx="44.0" cy="16.2" r="1.1" fill="rgb(24,199,0)" opacity="0.3"/><circle cx="33.2" cy="44.4" r="0.9" fill="rgb(12,208,0)" opacity="0.3"/><circle cx="47.5" cy="44.5" r="0.9" fill="rgb(33,209,0)" opacity="0.2"/><circle cx="17.5" cy="47.3" r="0.9" fill="rgb(12,213,0)" opacity="0.4"/><circle cx="47.3" cy="34.0" r="0.9" fill="rgb(13,233,0)" opacity="0.3"/><circle cx="42.0" cy="15.0" r="0.5" fill="rgb(36,214,0)" opacity="0.5"/><circle cx="45.8" cy="13.7" r="1.0" fill="rgb(15,210,0)" opacity="0.2"/><circle cx="47.9" cy="23.3" r="0.6" fill="rgb(15,194,0)" opacity="0.3"/><circle cx="52.0" cy="34.6" r="0.9" fill="rgb(37,218,0)" opacity="0.4"/><circle cx="35.1" cy="57.5" r="0.8" fill="rgb(30,211,0)" opacity="0.3"/><circle cx="55.4" cy="21.6" r="0.5" fill="rgb(29,232,0)" opacity="0.4"/><circle cx="38.1" cy="43.1" r="1.0" fill="rgb(31,235,0)" opacity="0.2"/><circle cx="31.7" cy="14.2" r="0.7" fill="rgb(33,208,0)" opacity="0.3"/><circle cx="37.8" cy="20.1" r="0.5" fill="rgb(34,198,0)" opacity="0.5"/><circle cx="23.2" cy="28.2" r="0.7" fill="rgb(16,230,0)" opacity="0.5"/><circle cx="40.7" cy="36.3" r="0.8" fill="rgb(27,218,0)" opacity="0.2"/><circle cx="36.2" cy="19.2" r="0.6" fill="rgb(25,206,0)" opacity="0.2"/><circle cx="27.8" cy="35.2" r="0.9" fill="rgb(29,217,0)" opacity="0.3"/><circle cx="22.0" cy="44.3" r="0.6" fill="rgb(33,214,0)" opacity="0.4"/><circle cx="51.1" cy="32.1" r="1.0" fill="rgb(35,210,0)" opacity="0.5"/><circle cx="41.8" cy="9.2" r="0.6" fill="rgb(30,214,0)" opacity="0.2"/><circle cx="49.0" cy="32.1" r="1.0" fill="rgb(21,210,0)" opacity="0.3"/><circle cx="39.1" cy="26.4" r="0.7" fill="rgb(16,218,0)" opacity="0.4"/><circle cx="41.3" cy="37.7" r="0.9" fill="rgb(15,230,0)" opacity="0.3"/><circle cx="13.0" cy="46.1" r="0.8" fill="rgb(30,220,0)" opacity="0.5"/><circle cx="38.6" cy="11.6" r="0.6" fill="rgb(23,215,0)" opacity="0.2"/><circle cx="57.7" cy="14.4" r="0.9" fill="rgb(22,199,0)" opacity="0.4"/><circle cx="45.5" cy="23.1" r="0.9" fill="rgb(12,195,0)" opacity="0.5"/><circle cx="18.7" cy="28.0" r="0.5" fill="rgb(12,210,0)" opacity="0.4"/><circle cx="15.5" cy="30.8" r="0.8" fill="rgb(28,209,0)" opacity="0.2"/><circle cx="34.0" cy="35.8" r="0.6" fill="rgb(40,230,0)" opacity="0.3"/><circle cx="31.3" cy="41.5" r="1.1" fill="rgb(15,229,0)" opacity="0.4"/><circle cx="37.5" cy="38.3" r="0.6" fill="rgb(29,202,0)" opacity="0.2"/><circle cx="40.4" cy="36.9" r="0.9" fill="rgb(17,215,0)" opacity="0.4"/><circle cx="11.2" cy="35.0" r="0.6" fill="rgb(40,207,0)" opacity="0.5"/><circle cx="32.2" cy="29.3" r="0.6" fill="rgb(38,202,0)" opacity="0.5"/><circle cx="35.0" cy="47.5" r="0.7" fill="rgb(34,197,0)" opacity="0.5"/><circle cx="27.0" cy="44.0" r="0.7" fill="rgb(23,217,0)" opacity="0.2"/><circle cx="14.2" cy="42.8" r="0.7" fill="rgb(35,192,0)" opacity="0.3"/><circle cx="47.1" cy="41.3" r="0.9" fill="rgb(39,228,0)" opacity="0.4"/><circle cx="32.7" cy="22.8" r="0.8" fill="rgb(11,222,0)" opacity="0.2"/><circle cx="39.2" cy="14.5" r="0.7" fill="rgb(20,203,0)" opacity="0.3"/><circle cx="17.6" cy="47.4" r="0.8" fill="rgb(21,197,0)" opacity="0.4"/><circle cx="25.8" cy="32.7" r="0.8" fill="rgb(15,222,0)" opacity="0.5"/><circle cx="41.9" cy="16.8" r="0.9" fill="rgb(18,232,0)" opacity="0.5"/><circle cx="33.5" cy="55.8" r="1.1" fill="rgb(11,204,0)" opacity="0.5"/><circle cx="28.4" cy="35.6" r="1.0" fill="rgb(38,200,0)" opacity="0.4"/><circle cx="47.0" cy="35.3" r="1.0" fill="rgb(12,194,0)" opacity="0.5"/><circle cx="60.1" cy="18.5" r="0.9" fill="rgb(19,222,0)" opacity="0.5"/><circle cx="13.1" cy="37.5" r="0.9" fill="rgb(33,207,0)" opacity="0.5"/><circle cx="23.5" cy="40.6" r="0.9" fill="rgb(11,195,0)" opacity="0.3"/><circle cx="28.9" cy="28.1" r="0.6" fill="rgb(11,207,0)" opacity="0.5"/><circle cx="27.5" cy="32.3" r="1.0" fill="rgb(37,224,0)" opacity="0.2"/><circle cx="49.8" cy="43.8" r="0.7" fill="rgb(40,222,0)" opacity="0.3"/><circle cx="32.8" cy="46.8" r="0.8" fill="rgb(11,228,0)" opacity="0.4"/><circle cx="18.8" cy="35.2" r="0.9" fill="rgb(12,193,0)" opacity="0.2"/><circle cx="12.1" cy="38.6" r="1.1" fill="rgb(39,198,0)" opacity="0.4"/><circle cx="35.8" cy="41.7" r="0.6" fill="rgb(37,229,0)" opacity="0.5"/><circle cx="44.6" cy="14.9" r="0.6" fill="rgb(40,204,0)" opacity="0.5"/><circle cx="42.9" cy="25.8" r="0.8" fill="rgb(17,223,0)" opacity="0.2"/><circle cx="33.6" cy="8.1" r="0.9" fill="rgb(29,215,0)" opacity="0.5"/><circle cx="15.0" cy="32.1" r="0.6" fill="rgb(24,223,0)" opacity="0.3"/><circle cx="37.4" cy="39.1" r="1.1" fill="rgb(21,222,0)" opacity="0.3"/><circle cx="19.4" cy="43.9" r="0.7" fill="rgb(16,212,0)" opacity="0.2"/><circle cx="30.7" cy="49.5" r="0.8" fill="rgb(25,203,0)" opacity="0.5"/><circle cx="39.4" cy="16.4" r="0.7" fill="rgb(12,219,0)" opacity="0.4"/><circle cx="19.8" cy="50.6" r="0.9" fill="rgb(14,233,0)" opacity="0.5"/><circle cx="38.6" cy="23.5" r="0.6" fill="rgb(12,191,0)" opacity="0.5"/><circle cx="25.4" cy="36.7" r="0.5" fill="rgb(23,210,0)" opacity="0.4"/><circle cx="11.3" cy="36.5" r="0.7" fill="rgb(20,204,0)" opacity="0.3"/><circle cx="48.7" cy="31.9" r="0.7" fill="rgb(18,201,0)" opacity="0.2"/><circle cx="41.1" cy="4.1" r="0.6" fill="rgb(35,233,0)" opacity="0.5"/><circle cx="47.9" cy="39.6" r="0.5" fill="rgb(19,210,0)" opacity="0.5"/><circle cx="49.6" cy="32.6" r="0.8" fill="rgb(39,235,0)" opacity="0.4"/><circle cx="53.0" cy="24.3" r="1.0" fill="rgb(21,210,0)" opacity="0.2"/><circle cx="42.2" cy="43.1" r="0.8" fill="rgb(14,193,0)" opacity="0.5"/><circle cx="41.6" cy="30.5" r="1.0" fill="rgb(35,216,0)" opacity="0.3"/><circle cx="31.8" cy="51.4" r="0.9" fill="rgb(35,206,0)" opacity="0.4"/><circle cx="37.4" cy="11.8" r="1.0" fill="rgb(14,220,0)" opacity="0.5"/><circle cx="27.2" cy="46.9" r="0.9" fill="rgb(22,234,0)" opacity="0.4"/><circle cx="24.9" cy="48.3" r="1.0" fill="rgb(12,226,0)" opacity="0.5"/><circle cx="49.6" cy="34.5" r="1.1" fill="rgb(13,217,0)" opacity="0.5"/><circle cx="46.2" cy="28.2" r="1.1" fill="rgb(38,221,0)" opacity="0.4"/><circle cx="18.6" cy="25.1" r="0.7" fill="rgb(34,227,0)" opacity="0.3"/><circle cx="47.6" cy="43.8" r="0.6" fill="rgb(25,196,0)" opacity="0.3"/><circle cx="26.2" cy="47.4" r="0.6" fill="rgb(18,227,0)" opacity="0.2"/><circle cx="50.8" cy="19.8" r="0.7" fill="rgb(19,222,0)" opacity="0.3"/><circle cx="38.0" cy="42.5" r="0.7" fill="rgb(21,229,0)" opacity="0.4"/><circle cx="36.4" cy="15.0" r="0.6" fill="rgb(33,219,0)" opacity="0.3"/><circle cx="42.9" cy="24.0" r="1.1" fill="rgb(36,203,0)" opacity="0.5"/><circle cx="33.3" cy="18.6" r="0.9" fill="rgb(32,207,0)" opacity="0.4"/><circle cx="41.2" cy="6.7" r="0.7" fill="rgb(21,230,0)" opacity="0.4"/><circle cx="36.5" cy="11.3" r="0.6" fill="rgb(30,233,0)" opacity="0.5"/><circle cx="51.1" cy="18.6" r="0.9" fill="rgb(30,191,0)" opacity="0.4"/><circle cx="39.8" cy="41.5" r="0.8" fill="rgb(22,206,0)" opacity="0.4"/><circle cx="20.3" cy="41.4" r="0.6" fill="rgb(26,221,0)" opacity="0.2"/><circle cx="44.1" cy="44.1" r="0.6" fill="rgb(10,223,0)" opacity="0.4"/><circle cx="42.6" cy="45.1" r="0.8" fill="rgb(17,190,0)" opacity="0.2"/><circle cx="48.1" cy="27.6" r="0.7" fill="rgb(26,210,0)" opacity="0.5"/><circle cx="12.5" cy="33.8" r="0.7" fill="rgb(33,228,0)" opacity="0.2"/><circle cx="50.4" cy="41.8" r="0.8" fill="rgb(39,218,0)" opacity="0.4"/><circle cx="38.9" cy="3.3" r="0.8" fill="rgb(32,208,0)" opacity="0.5"/><circle cx="34.1" cy="55.1" r="1.0" fill="rgb(32,190,0)" opacity="0.2"/><circle cx="14.1" cy="38.3" r="0.6" fill="rgb(14,231,0)" opacity="0.4"/><circle cx="37.7" cy="44.5" r="0.8" fill="rgb(27,223,0)" opacity="0.2"/><circle cx="33.7" cy="47.4" r="1.0" fill="rgb(12,211,0)" opacity="0.4"/><circle cx="18.3" cy="50.3" r="1.0" fill="rgb(14,232,0)" opacity="0.2"/><circle cx="34.7" cy="38.6" r="0.5" fill="rgb(27,225,0)" opacity="0.3"/><circle cx="42.8" cy="47.4" r="1.1" fill="rgb(29,229,0)" opacity="0.2"/><circle cx="59.2" cy="20.2" r="0.9" fill="rgb(12,225,0)" opacity="0.3"/><circle cx="53.2" cy="30.0" r="1.0" fill="rgb(15,194,0)" opacity="0.2"/><circle cx="20.5" cy="48.3" r="0.5" fill="rgb(22,197,0)" opacity="0.2"/><circle cx="28.9" cy="50.1" r="1.0" fill="rgb(33,226,0)" opacity="0.2"/><circle cx="27.3" cy="45.5" r="0.9" fill="rgb(25,229,0)" opacity="0.2"/><circle cx="30.9" cy="28.0" r="0.8" fill="rgb(22,223,0)" opacity="0.4"/><circle cx="33.8" cy="27.8" r="1.0" fill="rgb(22,222,0)" opacity="0.2"/><circle cx="47.8" cy="33.9" r="1.0" fill="rgb(37,230,0)" opacity="0.5"/><circle cx="19.3" cy="32.7" r="0.8" fill="rgb(35,213,0)" opacity="0.5"/><circle cx="59.9" cy="16.8" r="0.7" fill="rgb(17,200,0)" opacity="0.5"/><circle cx="35.2" cy="9.1" r="0.7" fill="rgb(22,191,0)" opacity="0.2"/><circle cx="32.4" cy="29.2" r="1.1" fill="rgb(15,211,0)" opacity="0.4"/><circle cx="17.7" cy="40.6" r="0.8" fill="rgb(25,216,0)" opacity="0.3"/><circle cx="35.2" cy="16.2" r="0.5" fill="rgb(27,206,0)" opacity="0.2"/><circle cx="47.7" cy="32.4" r="0.9" fill="rgb(21,222,0)" opacity="0.4"/><circle cx="15.4" cy="35.6" r="0.8" fill="rgb(23,227,0)" opacity="0.4"/><circle cx="36.7" cy="30.7" r="0.8" fill="rgb(25,210,0)" opacity="0.3"/><circle cx="37.6" cy="9.4" r="1.1" fill="rgb(34,218,0)" opacity="0.3"/><circle cx="41.9" cy="38.4" r="0.9" fill="rgb(20,194,0)" opacity="0.5"/><circle cx="30.8" cy="42.4" r="0.5" fill="rgb(22,229,0)" opacity="0.4"/><circle cx="57.7" cy="19.8" r="0.8" fill="rgb(34,201,0)" opacity="0.3"/><circle cx="34.8" cy="33.6" r="0.7" fill="rgb(26,224,0)" opacity="0.3"/><circle cx="28.9" cy="42.6" r="0.9" fill="rgb(26,207,0)" opacity="0.2"/><circle cx="37.8" cy="47.3" r="0.6" fill="rgb(34,213,0)" opacity="0.3"/><circle cx="42.6" cy="38.7" r="1.0" fill="rgb(23,231,0)" opacity="0.3"/><circle cx="41.3" cy="4.3" r="0.9" fill="rgb(26,204,0)" opacity="0.4"/><circle cx="45.7" cy="40.4" r="0.8" fill="rgb(12,228,0)" opacity="0.3"/><circle cx="50.7" cy="17.0" r="1.1" fill="rgb(25,214,0)" opacity="0.2"/><circle cx="33.4" cy="38.3" r="0.6" fill="rgb(24,193,0)" opacity="0.2"/><circle cx="44.7" cy="15.3" r="1.1" fill="rgb(25,219,0)" opacity="0.3"/><circle cx="35.1" cy="13.5" r="0.7" fill="rgb(27,213,0)" opacity="0.5"/><circle cx="16.7" cy="28.6" r="1.0" fill="rgb(18,227,0)" opacity="0.4"/><circle cx="24.3" cy="42.4" r="0.8" fill="rgb(17,210,0)" opacity="0.2"/><circle cx="20.5" cy="49.3" r="0.9" fill="rgb(37,205,0)" opacity="0.5"/><circle cx="34.3" cy="24.0" r="0.6" fill="rgb(15,213,0)" opacity="0.3"/><circle cx="28.7" cy="49.0" r="1.0" fill="rgb(31,227,0)" opacity="0.2"/><circle cx="24.4" cy="33.0" r="0.9" fill="rgb(23,203,0)" opacity="0.2"/><circle cx="15.2" cy="32.8" r="0.9" fill="rgb(40,197,0)" opacity="0.5"/><circle cx="22.6" cy="35.3" r="0.8" fill="rgb(22,194,0)" opacity="0.3"/><circle cx="35.8" cy="51.0" r="0.6" fill="rgb(34,207,0)" opacity="0.2"/><circle cx="49.0" cy="25.4" r="0.9" fill="rgb(13,213,0)" opacity="0.4"/><circle cx="56.1" cy="15.3" r="1.0" fill="rgb(25,209,0)" opacity="0.2"/><circle cx="48.3" cy="13.7" r="0.9" fill="rgb(24,205,0)" opacity="0.3"/><circle cx="36.8" cy="44.4" r="0.7" fill="rgb(34,190,0)" opacity="0.3"/><circle cx="33.7" cy="27.9" r="0.6" fill="rgb(14,209,0)" opacity="0.3"/><circle cx="27.1" cy="36.4" r="0.5" fill="rgb(40,194,0)" opacity="0.3"/><circle cx="27.1" cy="52.2" r="0.6" fill="rgb(28,224,0)" opacity="0.2"/><circle cx="24.1" cy="39.2" r="0.8" fill="rgb(25,234,0)" opacity="0.4"/><circle cx="47.2" cy="40.5" r="0.8" fill="rgb(37,190,0)" opacity="0.3"/><circle cx="42.3" cy="17.5" r="1.0" fill="rgb(31,231,0)" opacity="0.5"/><circle cx="18.0" cy="36.3" r="0.5" fill="rgb(14,191,0)" opacity="0.5"/><circle cx="47.1" cy="16.3" r="1.0" fill="rgb(33,219,0)" opacity="0.3"/><circle cx="53.6" cy="21.2" r="1.0" fill="rgb(13,209,0)" opacity="0.4"/></g><g filter="url(#b05)"><circle cx="49.8" cy="39.0" r="1.0" fill="rgb(0,85,0)" opacity="0.3"/><circle cx="31.1" cy="36.0" r="0.8" fill="rgb(0,70,0)" opacity="0.6"/><circle cx="53.9" cy="14.1" r="0.9" fill="rgb(0,82,0)" opacity="0.6"/><circle cx="37.4" cy="26.6" r="1.2" fill="rgb(0,72,0)" opacity="0.5"/><circle cx="50.7" cy="29.6" r="0.6" fill="rgb(0,83,0)" opacity="0.6"/><circle cx="56.8" cy="19.9" r="0.8" fill="rgb(0,64,0)" opacity="0.5"/><circle cx="34.0" cy="32.2" r="0.7" fill="rgb(0,60,0)" opacity="0.5"/><circle cx="45.1" cy="16.9" r="1.0" fill="rgb(0,71,0)" opacity="0.4"/><circle cx="14.6" cy="31.8" r="0.8" fill="rgb(0,57,0)" opacity="0.4"/><circle cx="21.9" cy="34.3" r="0.9" fill="rgb(0,70,0)" opacity="0.6"/><circle cx="36.5" cy="7.5" r="1.0" fill="rgb(0,80,0)" opacity="0.5"/><circle cx="36.7" cy="46.1" r="1.0" fill="rgb(0,76,0)" opacity="0.5"/><circle cx="43.4" cy="45.9" r="1.0" fill="rgb(0,59,0)" opacity="0.5"/><circle cx="47.5" cy="39.1" r="0.6" fill="rgb(0,61,0)" opacity="0.5"/><circle cx="51.4" cy="20.4" r="0.9" fill="rgb(0,55,0)" opacity="0.6"/><circle cx="48.1" cy="34.3" r="0.6" fill="rgb(0,74,0)" opacity="0.3"/><circle cx="58.6" cy="16.9" r="1.0" fill="rgb(0,72,0)" opacity="0.5"/><circle cx="39.7" cy="37.4" r="0.9" fill="rgb(0,65,0)" opacity="0.4"/><circle cx="17.7" cy="33.0" r="0.9" fill="rgb(0,84,0)" opacity="0.3"/><circle cx="14.3" cy="33.6" r="1.0" fill="rgb(0,59,0)" opacity="0.4"/><circle cx="15.1" cy="39.6" r="0.9" fill="rgb(0,61,0)" opacity="0.4"/><circle cx="55.7" cy="23.7" r="0.9" fill="rgb(0,72,0)" opacity="0.5"/><circle cx="37.7" cy="19.1" r="1.0" fill="rgb(0,80,0)" opacity="0.4"/><circle cx="52.0" cy="26.0" r="0.8" fill="rgb(0,74,0)" opacity="0.6"/><circle cx="52.8" cy="22.3" r="0.7" fill="rgb(0,66,0)" opacity="0.5"/><circle cx="48.4" cy="40.4" r="1.1" fill="rgb(0,76,0)" opacity="0.5"/><circle cx="49.5" cy="21.4" r="0.9" fill="rgb(0,68,0)" opacity="0.4"/><circle cx="47.2" cy="17.9" r="1.1" fill="rgb(0,68,0)" opacity="0.5"/><circle cx="46.9" cy="39.1" r="0.8" fill="rgb(0,57,0)" opacity="0.6"/><circle cx="30.0" cy="52.3" r="1.1" fill="rgb(0,68,0)" opacity="0.3"/><circle cx="30.1" cy="44.0" r="1.0" fill="rgb(0,79,0)" opacity="0.5"/><circle cx="13.6" cy="43.8" r="0.8" fill="rgb(0,81,0)" opacity="0.5"/><circle cx="27.6" cy="41.7" r="0.9" fill="rgb(0,59,0)" opacity="0.4"/><circle cx="16.3" cy="27.1" r="0.7" fill="rgb(0,85,0)" opacity="0.3"/><circle cx="9.2" cy="31.7" r="0.8" fill="rgb(0,74,0)" opacity="0.6"/><circle cx="14.6" cy="38.4" r="1.0" fill="rgb(0,63,0)" opacity="0.4"/><circle cx="52.7" cy="18.3" r="0.7" fill="rgb(0,85,0)" opacity="0.4"/><circle cx="47.2" cy="15.4" r="1.1" fill="rgb(0,82,0)" opacity="0.4"/><circle cx="47.9" cy="22.2" r="0.6" fill="rgb(0,63,0)" opacity="0.5"/><circle cx="35.0" cy="44.7" r="0.6" fill="rgb(0,78,0)" opacity="0.6"/><circle cx="24.7" cy="46.0" r="1.1" fill="rgb(0,60,0)" opacity="0.6"/><circle cx="41.5" cy="44.1" r="1.1" fill="rgb(0,61,0)" opacity="0.5"/><circle cx="37.0" cy="9.5" r="0.8" fill="rgb(0,69,0)" opacity="0.4"/><circle cx="14.4" cy="40.1" r="0.7" fill="rgb(0,82,0)" opacity="0.5"/><circle cx="42.3" cy="45.7" r="1.0" fill="rgb(0,78,0)" opacity="0.5"/><circle cx="43.8" cy="44.9" r="1.1" fill="rgb(0,58,0)" opacity="0.5"/><circle cx="33.4" cy="56.0" r="0.9" fill="rgb(0,65,0)" opacity="0.6"/><circle cx="35.4" cy="22.1" r="1.1" fill="rgb(0,79,0)" opacity="0.6"/><circle cx="46.1" cy="31.8" r="0.8" fill="rgb(0,84,0)" opacity="0.3"/><circle cx="22.5" cy="35.9" r="0.8" fill="rgb(0,56,0)" opacity="0.3"/><circle cx="20.6" cy="27.5" r="0.8" fill="rgb(0,60,0)" opacity="0.4"/><circle cx="51.2" cy="14.8" r="0.7" fill="rgb(0,79,0)" opacity="0.5"/><circle cx="51.9" cy="32.5" r="0.9" fill="rgb(0,66,0)" opacity="0.5"/><circle cx="38.3" cy="46.7" r="1.1" fill="rgb(0,60,0)" opacity="0.3"/><circle cx="10.6" cy="31.4" r="0.7" fill="rgb(0,62,0)" opacity="0.4"/><circle cx="46.3" cy="12.6" r="0.9" fill="rgb(0,57,0)" opacity="0.4"/><circle cx="50.3" cy="12.2" r="0.9" fill="rgb(0,70,0)" opacity="0.3"/><circle cx="28.8" cy="30.9" r="0.8" fill="rgb(0,82,0)" opacity="0.5"/><circle cx="42.3" cy="42.4" r="1.1" fill="rgb(0,85,0)" opacity="0.6"/><circle cx="43.1" cy="33.1" r="1.2" fill="rgb(0,60,0)" opacity="0.4"/><circle cx="18.7" cy="49.9" r="0.9" fill="rgb(0,78,0)" opacity="0.3"/><circle cx="42.1" cy="37.7" r="0.6" fill="rgb(0,73,0)" opacity="0.5"/><circle cx="50.8" cy="23.6" r="0.9" fill="rgb(0,77,0)" opacity="0.5"/><circle cx="36.3" cy="13.4" r="0.8" fill="rgb(0,77,0)" opacity="0.3"/><circle cx="39.4" cy="11.9" r="0.8" fill="rgb(0,69,0)" opacity="0.6"/><circle cx="34.2" cy="36.7" r="1.0" fill="rgb(0,69,0)" opacity="0.4"/><circle cx="41.4" cy="10.7" r="0.7" fill="rgb(0,78,0)" opacity="0.3"/><circle cx="28.9" cy="36.3" r="1.2" fill="rgb(0,78,0)" opacity="0.6"/><circle cx="41.8" cy="17.8" r="1.0" fill="rgb(0,58,0)" opacity="0.4"/><circle cx="30.1" cy="13.2" r="0.8" fill="rgb(0,61,0)" opacity="0.3"/><circle cx="10.3" cy="34.0" r="1.2" fill="rgb(0,58,0)" opacity="0.6"/><circle cx="53.7" cy="17.2" r="1.2" fill="rgb(0,58,0)" opacity="0.5"/><circle cx="41.1" cy="18.8" r="1.2" fill="rgb(0,61,0)" opacity="0.5"/><circle cx="19.4" cy="40.7" r="0.8" fill="rgb(0,72,0)" opacity="0.6"/><circle cx="12.8" cy="42.0" r="1.0" fill="rgb(0,75,0)" opacity="0.4"/><circle cx="40.9" cy="37.0" r="1.2" fill="rgb(0,80,0)" opacity="0.6"/><circle cx="42.0" cy="16.6" r="1.2" fill="rgb(0,75,0)" opacity="0.6"/><circle cx="34.7" cy="54.3" r="1.1" fill="rgb(0,56,0)" opacity="0.5"/><circle cx="43.3" cy="16.1" r="0.6" fill="rgb(0,71,0)" opacity="0.4"/><circle cx="31.5" cy="9.5" r="0.9" fill="rgb(0,61,0)" opacity="0.3"/><circle cx="36.1" cy="11.9" r="1.0" fill="rgb(0,85,0)" opacity="0.5"/><circle cx="60.2" cy="17.2" r="0.8" fill="rgb(0,59,0)" opacity="0.3"/><circle cx="14.1" cy="26.7" r="0.6" fill="rgb(0,80,0)" opacity="0.4"/><circle cx="35.3" cy="54.9" r="0.9" fill="rgb(0,78,0)" opacity="0.4"/><circle cx="25.1" cy="41.3" r="0.8" fill="rgb(0,56,0)" opacity="0.4"/><circle cx="20.5" cy="32.2" r="0.9" fill="rgb(0,57,0)" opacity="0.4"/><circle cx="23.6" cy="49.4" r="0.9" fill="rgb(0,74,0)" opacity="0.4"/><circle cx="14.3" cy="39.9" r="1.0" fill="rgb(0,83,0)" opacity="0.3"/><circle cx="43.0" cy="36.5" r="0.9" fill="rgb(0,76,0)" opacity="0.5"/><circle cx="41.8" cy="5.2" r="1.0" fill="rgb(0,81,0)" opacity="0.3"/><circle cx="15.0" cy="42.8" r="0.6" fill="rgb(0,79,0)" opacity="0.4"/><circle cx="45.6" cy="11.2" r="0.9" fill="rgb(0,65,0)" opacity="0.5"/><circle cx="33.1" cy="40.8" r="1.1" fill="rgb(0,83,0)" opacity="0.4"/><circle cx="14.6" cy="47.8" r="1.2" fill="rgb(0,76,0)" opacity="0.4"/><circle cx="29.0" cy="30.6" r="0.9" fill="rgb(0,83,0)" opacity="0.6"/><circle cx="27.4" cy="41.6" r="0.7" fill="rgb(0,63,0)" opacity="0.5"/><circle cx="31.1" cy="49.3" r="1.0" fill="rgb(0,62,0)" opacity="0.5"/><circle cx="55.9" cy="14.4" r="1.0" fill="rgb(0,78,0)" opacity="0.5"/><circle cx="34.8" cy="22.8" r="1.1" fill="rgb(0,84,0)" opacity="0.4"/><circle cx="20.6" cy="47.3" r="0.8" fill="rgb(0,63,0)" opacity="0.3"/><circle cx="38.1" cy="39.2" r="1.0" fill="rgb(0,67,0)" opacity="0.4"/><circle cx="42.7" cy="6.2" r="0.7" fill="rgb(0,62,0)" opacity="0.4"/><circle cx="16.7" cy="51.3" r="1.1" fill="rgb(0,58,0)" opacity="0.4"/><circle cx="17.8" cy="52.0" r="0.8" fill="rgb(0,70,0)" opacity="0.3"/><circle cx="38.2" cy="27.8" r="0.9" fill="rgb(0,81,0)" opacity="0.6"/><circle cx="15.2" cy="47.8" r="1.1" fill="rgb(0,72,0)" opacity="0.5"/><circle cx="37.4" cy="16.6" r="0.8" fill="rgb(0,57,0)" opacity="0.3"/><circle cx="31.4" cy="42.1" r="0.8" fill="rgb(0,63,0)" opacity="0.4"/><circle cx="23.6" cy="29.6" r="0.9" fill="rgb(0,73,0)" opacity="0.5"/><circle cx="24.2" cy="51.7" r="1.2" fill="rgb(0,80,0)" opacity="0.4"/></g><g filter="url(#b03)"><circle cx="33.5" cy="31.6" r="0.3" fill="rgb(137,10,10)" opacity="0.4"/><circle cx="35.2" cy="36.8" r="0.5" fill="rgb(175,14,14)" opacity="0.7"/><circle cx="25.5" cy="36.0" r="0.5" fill="rgb(184,14,14)" opacity="0.4"/><circle cx="27.4" cy="29.0" r="0.3" fill="rgb(202,16,16)" opacity="0.4"/><circle cx="33.4" cy="38.8" r="0.5" fill="rgb(175,14,14)" opacity="0.4"/><circle cx="34.8" cy="41.9" r="0.6" fill="rgb(144,11,11)" opacity="0.3"/><circle cx="33.4" cy="34.2" r="0.7" fill="rgb(186,14,14)" opacity="0.7"/><circle cx="28.4" cy="40.7" r="0.5" fill="rgb(153,12,12)" opacity="0.4"/><circle cx="21.7" cy="40.7" r="0.6" fill="rgb(153,12,12)" opacity="0.8"/><circle cx="29.7" cy="26.0" r="0.6" fill="rgb(143,11,11)" opacity="0.3"/><circle cx="42.6" cy="32.9" r="0.7" fill="rgb(177,14,14)" opacity="0.8"/><circle cx="24.4" cy="41.6" r="0.4" fill="rgb(217,17,17)" opacity="0.6"/><circle cx="31.2" cy="30.5" r="0.4" fill="rgb(215,17,17)" opacity="0.6"/><circle cx="42.2" cy="37.0" r="0.5" fill="rgb(177,14,14)" opacity="0.8"/><circle cx="33.4" cy="38.0" r="0.6" fill="rgb(158,12,12)" opacity="0.7"/><circle cx="34.2" cy="42.3" r="0.5" fill="rgb(155,12,12)" opacity="0.3"/><circle cx="26.8" cy="29.2" r="0.4" fill="rgb(174,13,13)" opacity="0.4"/><circle cx="28.6" cy="29.1" r="0.5" fill="rgb(168,13,13)" opacity="0.5"/><circle cx="41.8" cy="41.8" r="0.4" fill="rgb(181,14,14)" opacity="0.3"/><circle cx="34.1" cy="36.6" r="0.3" fill="rgb(176,14,14)" opacity="0.3"/><circle cx="22.0" cy="31.5" r="0.4" fill="rgb(146,11,11)" opacity="0.6"/><circle cx="35.1" cy="27.1" r="0.4" fill="rgb(168,13,13)" opacity="0.4"/><circle cx="36.9" cy="35.4" r="0.5" fill="rgb(147,11,11)" opacity="0.6"/><circle cx="26.6" cy="28.9" r="0.5" fill="rgb(141,11,11)" opacity="0.3"/><circle cx="20.1" cy="34.1" r="0.4" fill="rgb(146,11,11)" opacity="0.3"/></g><path d="M25.50,28.90 C26.62,28.61 28.33,28.66 29.50,29.00 C30.67,29.34 31.33,29.94 32.00,30.80 C32.67,31.66 32.66,33.01 33.20,33.80 C33.74,34.59 34.32,35.24 35.00,35.20 C35.68,35.16 36.17,34.00 37.00,33.60 C37.83,33.20 38.77,32.82 39.60,33.00 C40.43,33.18 41.28,33.63 41.60,34.60 C41.92,35.57 41.94,37.14 41.40,38.40 C40.86,39.66 39.84,40.84 38.60,41.60 C37.36,42.36 36.05,42.49 34.50,42.60 C32.95,42.71 31.53,42.49 30.00,42.20 C28.47,41.91 27.22,41.67 26.00,41.00 C24.78,40.33 23.83,39.72 23.20,38.50 C22.57,37.28 22.48,35.62 22.50,34.20 C22.52,32.78 22.76,31.55 23.30,30.60 C23.84,29.65 24.38,29.19 25.50,28.90 Z" fill="#203ee6" filter="url(#b05)"/></g></g><g transform="translate(35.3,227.0)"><g clip-path="url(#k4)"><g filter="url(#b03)"><circle cx="45.7" cy="45.3" r="0.8" fill="rgb(26,104,15)" opacity="0.9"/><circle cx="47.2" cy="47.4" r="0.6" fill="rgb(22,90,13)" opacity="0.4"/><circle cx="28.2" cy="49.3" r="0.7" fill="rgb(40,160,24)" opacity="0.6"/><circle cx="36.0" cy="8.6" r="0.6" fill="rgb(32,131,19)" opacity="0.8"/><circle cx="26.9" cy="29.8" r="0.8" fill="rgb(32,131,19)" opacity="0.3"/><circle cx="36.7" cy="24.1" r="0.7" fill="rgb(41,164,24)" opacity="0.5"/><circle cx="41.6" cy="55.2" r="0.5" fill="rgb(23,92,13)" opacity="0.7"/><circle cx="38.3" cy="13.9" r="0.5" fill="rgb(34,139,20)" opacity="0.3"/><circle cx="46.3" cy="35.2" r="0.4" fill="rgb(34,138,20)" opacity="0.9"/><circle cx="34.6" cy="23.5" r="0.8" fill="rgb(36,144,21)" opacity="0.4"/><circle cx="35.4" cy="8.0" r="0.5" fill="rgb(40,161,24)" opacity="0.9"/><circle cx="41.2" cy="36.7" r="0.5" fill="rgb(37,148,22)" opacity="0.8"/><circle cx="37.2" cy="36.9" r="0.7" fill="rgb(48,194,29)" opacity="0.8"/><circle cx="53.3" cy="18.4" r="0.4" fill="rgb(35,143,21)" opacity="0.7"/><circle cx="46.0" cy="33.9" r="0.7" fill="rgb(48,192,28)" opacity="0.6"/><circle cx="46.9" cy="18.0" r="0.5" fill="rgb(45,183,27)" opacity="0.6"/><circle cx="43.3" cy="30.0" r="0.5" fill="rgb(33,133,19)" opacity="0.6"/><circle cx="26.5" cy="29.1" r="0.4" fill="rgb(33,134,20)" opacity="0.4"/><circle cx="38.1" cy="46.1" r="0.5" fill="rgb(34,136,20)" opacity="0.8"/><circle cx="51.9" cy="30.9" r="0.5" fill="rgb(45,180,27)" opacity="0.6"/><circle cx="30.5" cy="44.5" r="0.8" fill="rgb(30,120,18)" opacity="0.4"/><circle cx="38.7" cy="51.8" r="0.7" fill="rgb(35,141,21)" opacity="0.2"/><circle cx="45.9" cy="17.1" r="0.8" fill="rgb(22,90,13)" opacity="0.8"/><circle cx="35.3" cy="6.5" r="0.5" fill="rgb(50,200,30)" opacity="0.7"/><circle cx="35.1" cy="7.9" r="0.7" fill="rgb(28,112,16)" opacity="0.4"/><circle cx="23.0" cy="40.9" r="0.6" fill="rgb(24,96,14)" opacity="0.6"/><circle cx="25.6" cy="20.9" r="0.4" fill="rgb(35,141,21)" opacity="0.8"/><circle cx="42.3" cy="41.0" r="0.8" fill="rgb(36,146,21)" opacity="0.6"/><circle cx="29.2" cy="32.7" r="0.7" fill="rgb(33,133,19)" opacity="0.3"/><circle cx="26.7" cy="33.1" r="0.4" fill="rgb(23,93,13)" opacity="0.5"/><circle cx="41.2" cy="18.5" r="0.4" fill="rgb(48,192,28)" opacity="0.4"/><circle cx="47.4" cy="15.4" r="0.6" fill="rgb(40,162,24)" opacity="0.2"/><circle cx="37.3" cy="16.9" r="0.4" fill="rgb(24,98,14)" opacity="0.7"/><circle cx="38.9" cy="30.7" r="0.4" fill="rgb(38,153,22)" opacity="0.3"/><circle cx="22.5" cy="36.0" r="0.6" fill="rgb(40,161,24)" opacity="0.7"/><circle cx="35.7" cy="37.7" r="0.6" fill="rgb(50,200,30)" opacity="0.7"/><circle cx="41.8" cy="42.6" r="0.6" fill="rgb(49,196,29)" opacity="0.3"/><circle cx="39.4" cy="29.8" r="0.6" fill="rgb(48,194,29)" opacity="0.6"/><circle cx="36.9" cy="27.6" r="0.7" fill="rgb(37,148,22)" opacity="0.8"/><circle cx="28.3" cy="4.9" r="0.7" fill="rgb(35,140,21)" opacity="0.3"/><circle cx="30.2" cy="17.5" r="0.8" fill="rgb(29,118,17)" opacity="0.2"/><circle cx="53.3" cy="18.5" r="0.6" fill="rgb(31,126,18)" opacity="0.5"/><circle cx="22.9" cy="41.4" r="0.7" fill="rgb(45,181,27)" opacity="0.6"/><circle cx="45.0" cy="34.7" r="0.4" fill="rgb(33,134,20)" opacity="0.6"/><circle cx="25.4" cy="24.8" r="0.8" fill="rgb(48,194,29)" opacity="0.9"/><circle cx="29.8" cy="4.6" r="0.3" fill="rgb(27,110,16)" opacity="0.8"/><circle cx="25.7" cy="22.8" r="0.7" fill="rgb(35,141,21)" opacity="0.8"/><circle cx="33.7" cy="47.4" r="0.7" fill="rgb(24,99,14)" opacity="0.8"/><circle cx="32.9" cy="16.7" r="0.4" fill="rgb(45,182,27)" opacity="0.6"/><circle cx="57.5" cy="20.4" r="0.5" fill="rgb(43,174,26)" opacity="0.6"/><circle cx="38.1" cy="52.8" r="0.8" fill="rgb(31,124,18)" opacity="0.6"/><circle cx="54.1" cy="26.6" r="0.8" fill="rgb(25,101,15)" opacity="0.9"/><circle cx="21.5" cy="35.9" r="0.6" fill="rgb(42,169,25)" opacity="0.6"/><circle cx="51.0" cy="18.8" r="0.4" fill="rgb(45,183,27)" opacity="0.7"/><circle cx="41.9" cy="38.6" r="0.5" fill="rgb(32,128,19)" opacity="0.8"/><circle cx="25.0" cy="36.2" r="0.6" fill="rgb(23,93,13)" opacity="0.8"/><circle cx="36.1" cy="57.3" r="0.3" fill="rgb(36,146,21)" opacity="0.4"/><circle cx="51.0" cy="20.0" r="0.6" fill="rgb(38,153,22)" opacity="0.6"/><circle cx="26.7" cy="9.9" r="0.8" fill="rgb(45,183,27)" opacity="0.8"/><circle cx="39.1" cy="48.0" r="0.8" fill="rgb(22,91,13)" opacity="0.3"/><circle cx="37.9" cy="48.8" r="0.4" fill="rgb(46,185,27)" opacity="0.3"/><circle cx="44.9" cy="42.4" r="0.8" fill="rgb(38,153,22)" opacity="0.5"/><circle cx="47.2" cy="35.3" r="0.5" fill="rgb(26,104,15)" opacity="0.5"/><circle cx="39.1" cy="38.9" r="0.3" fill="rgb(44,178,26)" opacity="0.6"/><circle cx="37.9" cy="25.1" r="0.8" fill="rgb(42,171,25)" opacity="0.6"/><circle cx="38.1" cy="58.4" r="0.6" fill="rgb(39,159,23)" opacity="0.7"/><circle cx="35.1" cy="33.8" r="0.5" fill="rgb(46,185,27)" opacity="0.2"/><circle cx="21.8" cy="24.2" r="0.7" fill="rgb(49,199,29)" opacity="0.4"/><circle cx="37.1" cy="39.2" r="0.7" fill="rgb(48,194,29)" opacity="0.8"/><circle cx="57.8" cy="27.2" r="0.6" fill="rgb(50,200,30)" opacity="0.3"/><circle cx="33.0" cy="4.4" r="0.4" fill="rgb(37,149,22)" opacity="0.9"/><circle cx="43.5" cy="14.7" r="0.4" fill="rgb(29,116,17)" opacity="0.7"/><circle cx="28.8" cy="27.7" r="0.8" fill="rgb(37,148,22)" opacity="0.8"/><circle cx="35.4" cy="7.7" r="0.8" fill="rgb(34,137,20)" opacity="0.4"/><circle cx="48.6" cy="25.9" r="0.7" fill="rgb(49,196,29)" opacity="0.3"/><circle cx="33.9" cy="55.0" r="0.8" fill="rgb(41,164,24)" opacity="0.5"/><circle cx="35.3" cy="49.6" r="0.5" fill="rgb(39,159,23)" opacity="0.3"/><circle cx="38.5" cy="19.3" r="0.6" fill="rgb(39,159,23)" opacity="0.4"/><circle cx="44.9" cy="30.3" r="0.4" fill="rgb(35,143,21)" opacity="0.3"/><circle cx="37.1" cy="32.2" r="0.6" fill="rgb(28,114,17)" opacity="0.4"/><circle cx="27.8" cy="21.9" r="0.6" fill="rgb(24,96,14)" opacity="0.4"/><circle cx="43.7" cy="17.5" r="0.8" fill="rgb(48,192,28)" opacity="0.6"/><circle cx="20.7" cy="34.1" r="0.7" fill="rgb(49,197,29)" opacity="0.9"/><circle cx="50.1" cy="18.5" r="0.7" fill="rgb(38,155,23)" opacity="0.4"/><circle cx="25.8" cy="27.3" r="0.7" fill="rgb(24,97,14)" opacity="0.3"/><circle cx="26.3" cy="33.9" r="0.6" fill="rgb(44,177,26)" opacity="0.7"/><circle cx="40.8" cy="38.0" r="0.3" fill="rgb(45,180,27)" opacity="0.8"/><circle cx="39.5" cy="58.6" r="0.5" fill="rgb(42,169,25)" opacity="0.7"/><circle cx="43.1" cy="12.8" r="0.6" fill="rgb(32,128,19)" opacity="0.7"/><circle cx="46.9" cy="19.5" r="0.4" fill="rgb(41,164,24)" opacity="0.4"/><circle cx="47.8" cy="27.4" r="0.6" fill="rgb(41,166,24)" opacity="0.4"/><circle cx="26.2" cy="35.4" r="0.3" fill="rgb(47,190,28)" opacity="0.7"/><circle cx="19.6" cy="35.7" r="0.5" fill="rgb(45,180,27)" opacity="0.7"/><circle cx="43.9" cy="53.1" r="0.4" fill="rgb(31,124,18)" opacity="0.8"/><circle cx="48.4" cy="27.0" r="0.8" fill="rgb(39,159,23)" opacity="0.6"/><circle cx="32.1" cy="10.5" r="0.3" fill="rgb(37,149,22)" opacity="0.4"/><circle cx="44.8" cy="39.1" r="0.3" fill="rgb(37,149,22)" opacity="0.3"/><circle cx="43.2" cy="45.2" r="0.4" fill="rgb(38,155,23)" opacity="0.3"/><circle cx="37.7" cy="32.4" r="0.5" fill="rgb(46,185,27)" opacity="0.9"/><circle cx="34.4" cy="29.4" r="0.3" fill="rgb(25,100,15)" opacity="0.8"/><circle cx="20.2" cy="30.0" r="0.3" fill="rgb(47,189,28)" opacity="0.8"/><circle cx="33.2" cy="57.5" r="0.5" fill="rgb(46,185,27)" opacity="0.4"/><circle cx="40.9" cy="46.7" r="0.5" fill="rgb(47,191,28)" opacity="0.5"/><circle cx="53.5" cy="26.4" r="0.7" fill="rgb(33,133,19)" opacity="0.6"/><circle cx="42.6" cy="30.7" r="0.7" fill="rgb(34,138,20)" opacity="0.3"/><circle cx="24.9" cy="16.8" r="0.5" fill="rgb(44,178,26)" opacity="0.4"/><circle cx="21.8" cy="23.9" r="0.8" fill="rgb(27,109,16)" opacity="0.5"/><circle cx="58.1" cy="20.7" r="0.5" fill="rgb(47,191,28)" opacity="0.3"/><circle cx="41.9" cy="36.7" r="0.6" fill="rgb(39,156,23)" opacity="0.8"/><circle cx="19.7" cy="33.5" r="0.4" fill="rgb(22,90,13)" opacity="0.5"/><circle cx="22.2" cy="39.4" r="0.3" fill="rgb(29,117,17)" opacity="0.5"/><circle cx="27.5" cy="47.7" r="0.6" fill="rgb(39,158,23)" opacity="0.6"/><circle cx="23.5" cy="17.3" r="0.7" fill="rgb(49,198,29)" opacity="0.3"/><circle cx="43.0" cy="38.5" r="0.5" fill="rgb(49,196,29)" opacity="0.7"/><circle cx="39.0" cy="27.8" r="0.6" fill="rgb(27,109,16)" opacity="0.3"/><circle cx="47.8" cy="38.4" r="0.6" fill="rgb(43,174,26)" opacity="0.8"/><circle cx="30.6" cy="28.4" r="0.7" fill="rgb(31,125,18)" opacity="0.8"/><circle cx="34.3" cy="34.5" r="0.6" fill="rgb(31,125,18)" opacity="0.3"/><circle cx="29.1" cy="23.2" r="0.5" fill="rgb(38,155,23)" opacity="0.4"/><circle cx="38.3" cy="21.8" r="0.7" fill="rgb(31,127,19)" opacity="0.5"/><circle cx="53.6" cy="24.8" r="0.4" fill="rgb(27,110,16)" opacity="0.8"/><circle cx="33.4" cy="48.4" r="0.5" fill="rgb(41,166,24)" opacity="0.8"/><circle cx="41.0" cy="26.1" r="0.4" fill="rgb(22,91,13)" opacity="0.4"/><circle cx="29.7" cy="41.1" r="0.6" fill="rgb(36,146,21)" opacity="0.8"/><circle cx="40.7" cy="33.2" r="0.4" fill="rgb(40,160,24)" opacity="0.7"/><circle cx="31.9" cy="5.1" r="0.8" fill="rgb(33,134,20)" opacity="0.2"/><circle cx="23.7" cy="25.0" r="0.6" fill="rgb(36,144,21)" opacity="0.7"/><circle cx="28.5" cy="45.0" r="0.4" fill="rgb(39,156,23)" opacity="0.4"/><circle cx="43.5" cy="17.9" r="0.4" fill="rgb(27,111,16)" opacity="0.6"/><circle cx="23.8" cy="24.8" r="0.3" fill="rgb(43,172,25)" opacity="0.6"/><circle cx="46.3" cy="31.7" r="0.8" fill="rgb(46,187,28)" opacity="0.4"/><circle cx="51.6" cy="23.8" r="0.4" fill="rgb(46,186,27)" opacity="0.9"/><circle cx="33.9" cy="30.0" r="0.5" fill="rgb(44,178,26)" opacity="0.6"/><circle cx="36.4" cy="6.9" r="0.4" fill="rgb(29,117,17)" opacity="0.7"/><circle cx="44.9" cy="22.1" r="0.5" fill="rgb(47,188,28)" opacity="0.5"/><circle cx="24.7" cy="23.2" r="0.3" fill="rgb(37,148,22)" opacity="0.9"/><circle cx="28.6" cy="35.8" r="0.3" fill="rgb(34,139,20)" opacity="0.2"/><circle cx="35.9" cy="59.0" r="0.5" fill="rgb(28,112,16)" opacity="0.8"/><circle cx="50.6" cy="33.8" r="0.4" fill="rgb(49,197,29)" opacity="0.9"/><circle cx="46.3" cy="31.7" r="0.5" fill="rgb(23,92,13)" opacity="0.6"/><circle cx="32.6" cy="4.0" r="0.4" fill="rgb(29,117,17)" opacity="0.7"/><circle cx="26.5" cy="10.5" r="0.3" fill="rgb(33,132,19)" opacity="0.3"/><circle cx="39.3" cy="44.2" r="0.5" fill="rgb(28,114,17)" opacity="0.8"/><circle cx="41.3" cy="12.0" r="0.3" fill="rgb(32,128,19)" opacity="0.3"/><circle cx="24.0" cy="23.2" r="0.6" fill="rgb(36,145,21)" opacity="0.4"/><circle cx="36.3" cy="7.9" r="0.7" fill="rgb(42,169,25)" opacity="0.6"/><circle cx="42.5" cy="57.5" r="0.5" fill="rgb(38,154,23)" opacity="0.9"/><circle cx="49.7" cy="28.2" r="0.7" fill="rgb(45,180,27)" opacity="0.4"/><circle cx="35.0" cy="35.3" r="0.7" fill="rgb(44,179,26)" opacity="0.4"/><circle cx="53.5" cy="21.5" r="0.4" fill="rgb(40,160,24)" opacity="0.3"/><circle cx="42.7" cy="28.5" r="0.5" fill="rgb(46,187,28)" opacity="0.6"/><circle cx="32.9" cy="25.8" r="0.7" fill="rgb(32,130,19)" opacity="0.3"/><circle cx="27.0" cy="28.5" r="0.7" fill="rgb(25,100,15)" opacity="0.4"/><circle cx="50.2" cy="22.2" r="0.4" fill="rgb(36,147,22)" opacity="0.8"/><circle cx="30.8" cy="8.9" r="0.6" fill="rgb(34,137,20)" opacity="0.7"/><circle cx="42.0" cy="23.6" r="0.7" fill="rgb(46,186,27)" opacity="0.5"/><circle cx="33.5" cy="44.3" r="0.7" fill="rgb(28,112,16)" opacity="0.4"/><circle cx="38.0" cy="11.6" r="0.5" fill="rgb(32,129,19)" opacity="0.9"/><circle cx="29.6" cy="43.4" r="0.6" fill="rgb(45,182,27)" opacity="0.9"/><circle cx="48.4" cy="27.4" r="0.4" fill="rgb(29,116,17)" opacity="0.8"/><circle cx="35.5" cy="19.9" r="0.8" fill="rgb(45,180,27)" opacity="0.5"/><circle cx="40.0" cy="58.8" r="0.6" fill="rgb(35,141,21)" opacity="0.8"/><circle cx="47.7" cy="29.9" r="0.6" fill="rgb(33,132,19)" opacity="0.3"/><circle cx="27.4" cy="40.2" r="0.7" fill="rgb(28,112,16)" opacity="0.7"/><circle cx="39.5" cy="10.4" r="0.8" fill="rgb(32,129,19)" opacity="0.5"/><circle cx="28.7" cy="37.3" r="0.5" fill="rgb(47,190,28)" opacity="0.6"/><circle cx="41.4" cy="10.9" r="0.4" fill="rgb(34,139,20)" opacity="0.5"/><circle cx="39.9" cy="11.6" r="0.3" fill="rgb(49,196,29)" opacity="0.8"/><circle cx="38.6" cy="44.9" r="0.7" fill="rgb(42,168,25)" opacity="0.7"/><circle cx="48.0" cy="42.8" r="0.4" fill="rgb(46,185,27)" opacity="0.4"/><circle cx="32.4" cy="42.3" r="0.7" fill="rgb(42,168,25)" opacity="0.8"/><circle cx="29.4" cy="11.9" r="0.4" fill="rgb(35,142,21)" opacity="0.3"/><circle cx="25.7" cy="22.8" r="0.5" fill="rgb(29,116,17)" opacity="0.2"/><circle cx="21.4" cy="19.9" r="0.3" fill="rgb(26,105,15)" opacity="0.7"/><circle cx="39.1" cy="10.5" r="0.7" fill="rgb(39,156,23)" opacity="0.5"/><circle cx="26.6" cy="12.4" r="0.7" fill="rgb(46,187,28)" opacity="0.3"/><circle cx="47.1" cy="48.0" r="0.8" fill="rgb(49,198,29)" opacity="0.7"/><circle cx="36.7" cy="51.0" r="0.6" fill="rgb(35,143,21)" opacity="0.4"/><circle cx="53.2" cy="32.1" r="0.5" fill="rgb(36,144,21)" opacity="0.4"/><circle cx="41.4" cy="53.5" r="0.3" fill="rgb(44,176,26)" opacity="0.8"/><circle cx="30.0" cy="20.8" r="0.3" fill="rgb(24,97,14)" opacity="0.9"/><circle cx="58.0" cy="25.0" r="0.6" fill="rgb(35,143,21)" opacity="0.4"/><circle cx="41.3" cy="21.8" r="0.4" fill="rgb(47,191,28)" opacity="0.6"/><circle cx="30.5" cy="23.5" r="0.7" fill="rgb(27,111,16)" opacity="0.3"/><circle cx="36.0" cy="9.7" r="0.7" fill="rgb(28,114,17)" opacity="0.3"/><circle cx="38.2" cy="55.0" r="0.7" fill="rgb(25,101,15)" opacity="0.6"/><circle cx="36.4" cy="50.4" r="0.8" fill="rgb(23,93,13)" opacity="0.8"/><circle cx="39.9" cy="19.2" r="0.6" fill="rgb(24,97,14)" opacity="0.5"/><circle cx="28.5" cy="33.4" r="0.4" fill="rgb(42,170,25)" opacity="0.4"/><circle cx="27.8" cy="33.2" r="0.8" fill="rgb(26,105,15)" opacity="0.7"/><circle cx="24.8" cy="29.9" r="0.6" fill="rgb(37,151,22)" opacity="0.6"/><circle cx="44.1" cy="18.7" r="0.4" fill="rgb(36,146,21)" opacity="0.7"/><circle cx="39.6" cy="11.2" r="0.7" fill="rgb(22,91,13)" opacity="0.4"/><circle cx="36.8" cy="24.6" r="0.7" fill="rgb(48,195,29)" opacity="0.6"/><circle cx="29.9" cy="27.6" r="0.4" fill="rgb(34,139,20)" opacity="0.6"/><circle cx="38.7" cy="43.8" r="0.4" fill="rgb(27,110,16)" opacity="0.7"/><circle cx="48.6" cy="22.9" r="0.4" fill="rgb(42,169,25)" opacity="0.6"/><circle cx="20.1" cy="31.8" r="0.6" fill="rgb(25,101,15)" opacity="0.8"/><circle cx="41.9" cy="32.5" r="0.4" fill="rgb(34,136,20)" opacity="0.4"/><circle cx="46.7" cy="22.4" r="0.6" fill="rgb(41,165,24)" opacity="0.4"/><circle cx="23.1" cy="40.5" r="0.8" fill="rgb(26,107,16)" opacity="0.3"/><circle cx="39.2" cy="20.2" r="0.4" fill="rgb(29,116,17)" opacity="0.5"/><circle cx="31.9" cy="35.5" r="0.5" fill="rgb(42,171,25)" opacity="0.5"/><circle cx="34.5" cy="38.4" r="0.7" fill="rgb(45,183,27)" opacity="0.5"/><circle cx="30.1" cy="4.5" r="0.4" fill="rgb(41,165,24)" opacity="0.6"/><circle cx="40.8" cy="33.6" r="0.6" fill="rgb(42,169,25)" opacity="0.7"/><circle cx="38.2" cy="39.7" r="0.6" fill="rgb(24,97,14)" opacity="0.4"/><circle cx="21.6" cy="27.0" r="0.8" fill="rgb(34,139,20)" opacity="0.6"/><circle cx="22.9" cy="19.7" r="0.8" fill="rgb(32,129,19)" opacity="0.5"/><circle cx="33.8" cy="19.2" r="0.6" fill="rgb(45,180,27)" opacity="0.9"/><circle cx="42.3" cy="15.1" r="0.5" fill="rgb(29,116,17)" opacity="0.7"/><circle cx="26.4" cy="24.2" r="0.4" fill="rgb(45,180,27)" opacity="0.8"/><circle cx="45.8" cy="44.7" r="0.7" fill="rgb(33,134,20)" opacity="0.4"/><circle cx="28.2" cy="6.1" r="0.6" fill="rgb(30,123,18)" opacity="0.8"/><circle cx="44.6" cy="14.8" r="0.6" fill="rgb(43,175,26)" opacity="0.4"/><circle cx="28.8" cy="17.8" r="0.5" fill="rgb(45,181,27)" opacity="0.8"/><circle cx="29.7" cy="4.0" r="0.6" fill="rgb(31,127,19)" opacity="0.5"/><circle cx="30.2" cy="51.5" r="0.3" fill="rgb(49,196,29)" opacity="0.7"/><circle cx="51.9" cy="32.5" r="0.4" fill="rgb(46,186,27)" opacity="0.5"/><circle cx="41.7" cy="38.4" r="0.6" fill="rgb(25,101,15)" opacity="0.9"/><circle cx="46.1" cy="30.8" r="0.4" fill="rgb(36,144,21)" opacity="0.5"/><circle cx="43.8" cy="33.0" r="0.4" fill="rgb(33,134,20)" opacity="0.6"/><circle cx="49.6" cy="35.5" r="0.7" fill="rgb(36,147,22)" opacity="0.3"/><circle cx="23.8" cy="30.6" r="0.4" fill="rgb(32,129,19)" opacity="0.8"/><circle cx="54.0" cy="21.0" r="0.5" fill="rgb(42,170,25)" opacity="0.3"/><circle cx="56.0" cy="25.2" r="0.3" fill="rgb(38,153,22)" opacity="0.5"/><circle cx="56.8" cy="22.6" r="0.4" fill="rgb(33,134,20)" opacity="0.5"/><circle cx="37.6" cy="40.0" r="0.7" fill="rgb(47,190,28)" opacity="0.5"/><circle cx="37.2" cy="34.7" r="0.3" fill="rgb(35,140,21)" opacity="0.3"/><circle cx="26.3" cy="36.4" r="0.5" fill="rgb(22,90,13)" opacity="0.4"/><circle cx="26.4" cy="35.7" r="0.4" fill="rgb(47,190,28)" opacity="0.8"/><circle cx="34.0" cy="37.2" r="0.3" fill="rgb(39,157,23)" opacity="0.3"/><circle cx="23.5" cy="25.1" r="0.5" fill="rgb(42,170,25)" opacity="0.4"/><circle cx="45.2" cy="37.4" r="0.4" fill="rgb(36,146,21)" opacity="0.3"/><circle cx="39.1" cy="39.1" r="0.5" fill="rgb(35,141,21)" opacity="0.4"/><circle cx="34.6" cy="48.9" r="0.8" fill="rgb(36,147,22)" opacity="0.5"/><circle cx="21.4" cy="34.6" r="0.6" fill="rgb(33,133,19)" opacity="0.5"/><circle cx="37.7" cy="59.1" r="0.7" fill="rgb(35,140,21)" opacity="0.7"/><circle cx="52.9" cy="20.3" r="0.5" fill="rgb(24,96,14)" opacity="0.9"/><circle cx="37.2" cy="30.5" r="0.5" fill="rgb(36,144,21)" opacity="0.2"/><circle cx="27.1" cy="32.0" r="0.4" fill="rgb(48,192,28)" opacity="0.8"/><circle cx="45.5" cy="37.7" r="0.4" fill="rgb(43,173,25)" opacity="0.7"/><circle cx="23.0" cy="27.3" r="0.5" fill="rgb(35,142,21)" opacity="0.4"/><circle cx="38.4" cy="36.9" r="0.6" fill="rgb(48,194,29)" opacity="0.8"/><circle cx="49.4" cy="29.0" r="0.5" fill="rgb(24,99,14)" opacity="0.7"/><circle cx="26.8" cy="7.6" r="0.4" fill="rgb(41,165,24)" opacity="0.6"/><circle cx="34.7" cy="20.8" r="0.7" fill="rgb(28,113,16)" opacity="0.4"/><circle cx="42.1" cy="21.2" r="0.7" fill="rgb(22,90,13)" opacity="0.6"/><circle cx="56.6" cy="25.2" r="0.7" fill="rgb(26,105,15)" opacity="0.6"/><circle cx="49.7" cy="27.3" r="0.5" fill="rgb(31,127,19)" opacity="0.3"/><circle cx="48.6" cy="37.6" r="0.4" fill="rgb(42,171,25)" opacity="0.4"/><circle cx="45.2" cy="19.9" r="0.5" fill="rgb(35,143,21)" opacity="0.6"/><circle cx="34.5" cy="17.5" r="0.4" fill="rgb(32,129,19)" opacity="0.5"/><circle cx="43.9" cy="44.4" r="0.4" fill="rgb(35,143,21)" opacity="0.4"/><circle cx="31.4" cy="53.5" r="0.6" fill="rgb(31,125,18)" opacity="0.4"/><circle cx="26.7" cy="35.4" r="0.4" fill="rgb(30,121,18)" opacity="0.8"/><circle cx="23.5" cy="24.8" r="0.4" fill="rgb(47,189,28)" opacity="0.7"/><circle cx="31.2" cy="11.8" r="0.6" fill="rgb(36,146,21)" opacity="0.4"/><circle cx="50.3" cy="29.0" r="0.5" fill="rgb(27,109,16)" opacity="0.5"/><circle cx="39.3" cy="22.5" r="0.7" fill="rgb(47,189,28)" opacity="0.4"/></g><ellipse cx="32.50" cy="26.70" rx="8.4" ry="6.0" transform="rotate(8 32.50 26.70)" fill="#203ee6" opacity="1" filter="url(#b05)"/><g filter="url(#b04)"><circle cx="32.8" cy="29.1" r="0.6" fill="#0c1c90" opacity="0.4"/><circle cx="28.3" cy="26.7" r="1.0" fill="#0c1c90" opacity="0.3"/><circle cx="30.5" cy="28.5" r="0.6" fill="#0c1c90" opacity="0.3"/><circle cx="28.2" cy="26.5" r="0.7" fill="#0c1c90" opacity="0.5"/><circle cx="29.4" cy="29.7" r="0.8" fill="#0c1c90" opacity="0.5"/><circle cx="27.2" cy="24.1" r="0.7" fill="#0c1c90" opacity="0.3"/><circle cx="34.1" cy="30.9" r="0.6" fill="#0c1c90" opacity="0.3"/><circle cx="33.5" cy="25.7" r="0.9" fill="#0c1c90" opacity="0.3"/><circle cx="33.6" cy="31.3" r="0.9" fill="#0c1c90" opacity="0.3"/><circle cx="35.9" cy="29.3" r="0.5" fill="#0c1c90" opacity="0.5"/><circle cx="30.7" cy="29.1" r="0.5" fill="#0c1c90" opacity="0.3"/><circle cx="30.3" cy="26.1" r="0.9" fill="#0c1c90" opacity="0.4"/><circle cx="35.3" cy="22.5" r="0.9" fill="#0c1c90" opacity="0.3"/><circle cx="29.4" cy="29.8" r="0.7" fill="#0c1c90" opacity="0.3"/><circle cx="32.5" cy="28.6" r="0.6" fill="#0c1c90" opacity="0.4"/><circle cx="38.2" cy="24.2" r="0.6" fill="#0c1c90" opacity="0.3"/><circle cx="34.4" cy="27.5" r="0.9" fill="#0c1c90" opacity="0.3"/></g><ellipse cx="39.00" cy="46.50" rx="5.3" ry="7.6" transform="rotate(22 39.00 46.50)" fill="#203ee6" opacity="1" filter="url(#b05)"/><g filter="url(#b04)"><circle cx="37.7" cy="48.5" r="0.9" fill="#0c1c90" opacity="0.3"/><circle cx="39.6" cy="46.2" r="1.0" fill="#0c1c90" opacity="0.3"/><circle cx="36.2" cy="48.0" r="0.6" fill="#0c1c90" opacity="0.5"/><circle cx="35.9" cy="46.0" r="0.9" fill="#0c1c90" opacity="0.4"/><circle cx="39.8" cy="44.7" r="0.6" fill="#0c1c90" opacity="0.3"/><circle cx="36.8" cy="46.3" r="0.9" fill="#0c1c90" opacity="0.3"/><circle cx="36.9" cy="49.0" r="0.7" fill="#0c1c90" opacity="0.4"/><circle cx="35.2" cy="46.8" r="0.7" fill="#0c1c90" opacity="0.5"/><circle cx="40.4" cy="43.2" r="1.0" fill="#0c1c90" opacity="0.5"/><circle cx="39.5" cy="51.0" r="0.9" fill="#0c1c90" opacity="0.3"/><circle cx="40.6" cy="44.0" r="0.9" fill="#0c1c90" opacity="0.3"/><circle cx="42.7" cy="44.5" r="0.7" fill="#0c1c90" opacity="0.2"/><circle cx="36.7" cy="43.4" r="0.6" fill="#0c1c90" opacity="0.5"/><circle cx="36.3" cy="48.7" r="0.6" fill="#0c1c90" opacity="0.4"/></g></g></g><g transform="translate(111.0,227.0)"><g clip-path="url(#k5)"><g filter="url(#b03)"><circle cx="40.7" cy="11.3" r="0.8" fill="rgb(127,10,10)" opacity="0.4"/><circle cx="36.8" cy="20.1" r="0.6" fill="rgb(148,11,11)" opacity="0.7"/><circle cx="41.5" cy="44.0" r="0.7" fill="rgb(124,9,9)" opacity="0.3"/><circle cx="28.8" cy="44.0" r="0.4" fill="rgb(161,12,12)" opacity="0.9"/><circle cx="33.3" cy="7.9" r="0.4" fill="rgb(143,11,11)" opacity="0.5"/><circle cx="42.4" cy="37.6" r="0.6" fill="rgb(124,9,9)" opacity="0.7"/><circle cx="49.9" cy="17.0" r="0.3" fill="rgb(166,13,13)" opacity="0.3"/><circle cx="20.2" cy="37.6" r="0.6" fill="rgb(167,13,13)" opacity="0.7"/><circle cx="21.5" cy="26.7" r="0.3" fill="rgb(148,11,11)" opacity="0.7"/><circle cx="34.8" cy="58.2" r="0.4" fill="rgb(112,8,8)" opacity="0.8"/><circle cx="32.7" cy="8.5" r="0.4" fill="rgb(175,14,14)" opacity="0.6"/><circle cx="27.8" cy="11.5" r="0.4" fill="rgb(185,14,14)" opacity="0.7"/><circle cx="51.8" cy="17.3" r="0.5" fill="rgb(154,12,12)" opacity="0.6"/><circle cx="27.9" cy="26.2" r="0.8" fill="rgb(134,10,10)" opacity="0.4"/><circle cx="30.7" cy="43.4" r="0.7" fill="rgb(183,14,14)" opacity="0.9"/><circle cx="38.8" cy="58.8" r="0.6" fill="rgb(197,15,15)" opacity="0.4"/><circle cx="25.2" cy="27.3" r="0.5" fill="rgb(195,15,15)" opacity="0.8"/><circle cx="43.2" cy="23.4" r="0.7" fill="rgb(195,15,15)" opacity="0.7"/><circle cx="29.2" cy="14.5" r="0.4" fill="rgb(175,14,14)" opacity="0.8"/><circle cx="36.4" cy="15.4" r="0.7" fill="rgb(137,10,10)" opacity="0.8"/><circle cx="44.5" cy="19.5" r="0.7" fill="rgb(187,14,14)" opacity="0.6"/><circle cx="48.1" cy="36.9" r="0.7" fill="rgb(192,15,15)" opacity="0.3"/><circle cx="34.5" cy="27.4" r="0.3" fill="rgb(185,14,14)" opacity="0.3"/><circle cx="26.6" cy="31.7" r="0.7" fill="rgb(166,13,13)" opacity="0.7"/><circle cx="33.4" cy="5.9" r="0.6" fill="rgb(169,13,13)" opacity="0.3"/><circle cx="28.6" cy="23.4" r="0.7" fill="rgb(144,11,11)" opacity="0.6"/><circle cx="56.9" cy="21.2" r="0.6" fill="rgb(167,13,13)" opacity="0.9"/><circle cx="42.2" cy="39.7" r="0.3" fill="rgb(125,10,10)" opacity="0.4"/><circle cx="44.7" cy="17.3" r="0.6" fill="rgb(157,12,12)" opacity="0.4"/><circle cx="25.0" cy="13.7" r="0.7" fill="rgb(190,15,15)" opacity="0.9"/><circle cx="30.9" cy="31.3" r="0.6" fill="rgb(116,9,9)" opacity="0.7"/><circle cx="31.9" cy="43.3" r="0.5" fill="rgb(117,9,9)" opacity="0.7"/><circle cx="36.6" cy="20.4" r="0.8" fill="rgb(112,8,8)" opacity="0.7"/><circle cx="35.3" cy="41.6" r="0.6" fill="rgb(137,10,10)" opacity="0.6"/><circle cx="20.6" cy="33.7" r="0.6" fill="rgb(116,9,9)" opacity="0.6"/><circle cx="20.8" cy="35.1" r="0.4" fill="rgb(147,11,11)" opacity="0.3"/><circle cx="50.7" cy="26.5" r="0.7" fill="rgb(190,15,15)" opacity="0.5"/><circle cx="27.9" cy="32.2" r="0.4" fill="rgb(140,11,11)" opacity="0.7"/><circle cx="46.7" cy="38.3" r="0.6" fill="rgb(176,14,14)" opacity="0.3"/><circle cx="23.9" cy="40.1" r="0.7" fill="rgb(155,12,12)" opacity="0.9"/><circle cx="30.8" cy="11.4" r="0.5" fill="rgb(149,11,11)" opacity="0.2"/><circle cx="50.5" cy="25.6" r="0.6" fill="rgb(149,11,11)" opacity="0.5"/><circle cx="55.1" cy="21.7" r="0.4" fill="rgb(189,15,15)" opacity="0.7"/><circle cx="35.4" cy="49.8" r="0.6" fill="rgb(110,8,8)" opacity="0.8"/><circle cx="21.6" cy="24.5" r="0.6" fill="rgb(164,13,13)" opacity="0.8"/><circle cx="29.4" cy="51.4" r="0.7" fill="rgb(122,9,9)" opacity="0.8"/><circle cx="27.1" cy="31.5" r="0.5" fill="rgb(166,13,13)" opacity="0.4"/><circle cx="50.8" cy="35.4" r="0.3" fill="rgb(133,10,10)" opacity="0.9"/><circle cx="29.5" cy="25.4" r="0.8" fill="rgb(172,13,13)" opacity="0.2"/><circle cx="42.4" cy="56.7" r="0.8" fill="rgb(169,13,13)" opacity="0.8"/><circle cx="57.4" cy="25.7" r="0.7" fill="rgb(152,12,12)" opacity="0.8"/><circle cx="43.3" cy="50.8" r="0.7" fill="rgb(140,11,11)" opacity="0.8"/><circle cx="32.6" cy="31.2" r="0.3" fill="rgb(172,13,13)" opacity="0.4"/><circle cx="36.0" cy="8.8" r="0.3" fill="rgb(194,15,15)" opacity="0.8"/><circle cx="31.3" cy="40.4" r="0.7" fill="rgb(165,13,13)" opacity="0.5"/><circle cx="30.0" cy="35.1" r="0.6" fill="rgb(153,12,12)" opacity="0.8"/><circle cx="35.2" cy="9.5" r="0.6" fill="rgb(190,15,15)" opacity="0.4"/><circle cx="38.8" cy="12.9" r="0.3" fill="rgb(116,9,9)" opacity="0.6"/><circle cx="44.2" cy="51.9" r="0.6" fill="rgb(122,9,9)" opacity="0.8"/><circle cx="25.8" cy="7.8" r="0.7" fill="rgb(115,9,9)" opacity="0.4"/><circle cx="58.2" cy="25.0" r="0.7" fill="rgb(175,14,14)" opacity="0.3"/><circle cx="33.1" cy="7.9" r="0.5" fill="rgb(188,15,15)" opacity="0.4"/><circle cx="24.7" cy="23.3" r="0.8" fill="rgb(119,9,9)" opacity="0.3"/><circle cx="33.7" cy="29.6" r="0.7" fill="rgb(116,9,9)" opacity="0.3"/><circle cx="32.9" cy="48.9" r="0.6" fill="rgb(128,10,10)" opacity="0.4"/><circle cx="38.4" cy="27.3" r="0.4" fill="rgb(116,9,9)" opacity="0.7"/><circle cx="42.1" cy="42.9" r="0.5" fill="rgb(156,12,12)" opacity="0.5"/><circle cx="32.6" cy="29.0" r="0.8" fill="rgb(139,11,11)" opacity="0.6"/><circle cx="56.9" cy="20.1" r="0.5" fill="rgb(148,11,11)" opacity="0.6"/><circle cx="34.7" cy="47.2" r="0.5" fill="rgb(116,9,9)" opacity="0.4"/><circle cx="46.6" cy="17.6" r="0.7" fill="rgb(169,13,13)" opacity="0.8"/><circle cx="53.3" cy="31.7" r="0.4" fill="rgb(157,12,12)" opacity="0.6"/><circle cx="23.2" cy="16.8" r="0.6" fill="rgb(149,11,11)" opacity="0.2"/><circle cx="31.2" cy="46.2" r="0.7" fill="rgb(128,10,10)" opacity="0.7"/><circle cx="22.4" cy="28.2" r="0.3" fill="rgb(146,11,11)" opacity="0.5"/><circle cx="25.2" cy="32.1" r="0.8" fill="rgb(176,14,14)" opacity="0.5"/><circle cx="20.8" cy="30.7" r="0.5" fill="rgb(190,15,15)" opacity="0.7"/><circle cx="32.2" cy="4.9" r="0.6" fill="rgb(181,14,14)" opacity="0.6"/><circle cx="51.8" cy="29.7" r="0.7" fill="rgb(176,14,14)" opacity="0.8"/><circle cx="28.4" cy="24.3" r="0.6" fill="rgb(168,13,13)" opacity="0.4"/><circle cx="29.1" cy="36.7" r="0.4" fill="rgb(162,12,12)" opacity="0.4"/><circle cx="50.2" cy="37.5" r="0.3" fill="rgb(116,9,9)" opacity="0.4"/><circle cx="34.7" cy="49.1" r="0.3" fill="rgb(142,11,11)" opacity="0.7"/><circle cx="35.6" cy="57.6" r="0.6" fill="rgb(137,10,10)" opacity="0.4"/><circle cx="43.2" cy="24.2" r="0.5" fill="rgb(153,12,12)" opacity="0.5"/><circle cx="22.2" cy="39.9" r="0.5" fill="rgb(123,9,9)" opacity="0.6"/><circle cx="36.1" cy="15.0" r="0.4" fill="rgb(159,12,12)" opacity="0.2"/><circle cx="24.1" cy="27.1" r="0.6" fill="rgb(116,9,9)" opacity="0.6"/><circle cx="22.2" cy="26.8" r="0.5" fill="rgb(120,9,9)" opacity="0.5"/><circle cx="35.4" cy="35.6" r="0.7" fill="rgb(119,9,9)" opacity="0.7"/><circle cx="37.2" cy="9.7" r="0.6" fill="rgb(111,8,8)" opacity="0.4"/><circle cx="28.6" cy="15.0" r="0.4" fill="rgb(113,9,9)" opacity="0.7"/><circle cx="54.5" cy="32.4" r="0.6" fill="rgb(178,14,14)" opacity="0.4"/><circle cx="33.9" cy="53.3" r="0.3" fill="rgb(186,14,14)" opacity="0.7"/><circle cx="22.8" cy="32.3" r="0.4" fill="rgb(119,9,9)" opacity="0.9"/><circle cx="50.6" cy="26.7" r="0.4" fill="rgb(200,16,16)" opacity="0.9"/><circle cx="21.3" cy="39.1" r="0.6" fill="rgb(153,12,12)" opacity="0.7"/><circle cx="26.3" cy="41.8" r="0.4" fill="rgb(132,10,10)" opacity="0.7"/><circle cx="41.5" cy="29.0" r="0.6" fill="rgb(186,14,14)" opacity="0.9"/><circle cx="39.7" cy="32.1" r="0.6" fill="rgb(152,12,12)" opacity="0.7"/><circle cx="51.4" cy="25.9" r="0.8" fill="rgb(143,11,11)" opacity="0.7"/><circle cx="40.4" cy="31.2" r="0.7" fill="rgb(200,16,16)" opacity="0.2"/><circle cx="25.2" cy="17.4" r="0.8" fill="rgb(153,12,12)" opacity="0.7"/><circle cx="39.7" cy="57.2" r="0.4" fill="rgb(145,11,11)" opacity="0.6"/><circle cx="31.1" cy="21.6" r="0.6" fill="rgb(180,14,14)" opacity="0.8"/><circle cx="37.2" cy="53.0" r="0.3" fill="rgb(163,13,13)" opacity="0.4"/><circle cx="36.8" cy="18.2" r="0.6" fill="rgb(115,9,9)" opacity="0.3"/><circle cx="29.4" cy="46.6" r="0.6" fill="rgb(129,10,10)" opacity="0.7"/><circle cx="27.1" cy="19.8" r="0.6" fill="rgb(132,10,10)" opacity="0.3"/><circle cx="30.6" cy="26.1" r="0.4" fill="rgb(146,11,11)" opacity="0.6"/><circle cx="45.6" cy="52.7" r="0.3" fill="rgb(158,12,12)" opacity="0.6"/><circle cx="28.1" cy="24.5" r="0.4" fill="rgb(169,13,13)" opacity="0.5"/><circle cx="19.8" cy="32.7" r="0.4" fill="rgb(171,13,13)" opacity="0.6"/><circle cx="50.3" cy="22.8" r="0.7" fill="rgb(147,11,11)" opacity="0.2"/><circle cx="40.8" cy="31.0" r="0.4" fill="rgb(137,10,10)" opacity="0.5"/><circle cx="56.7" cy="27.7" r="0.6" fill="rgb(123,9,9)" opacity="0.5"/><circle cx="30.8" cy="31.0" r="0.7" fill="rgb(165,13,13)" opacity="0.5"/><circle cx="28.0" cy="43.2" r="0.4" fill="rgb(110,8,8)" opacity="0.9"/><circle cx="25.4" cy="26.4" r="0.5" fill="rgb(156,12,12)" opacity="0.3"/><circle cx="48.2" cy="16.3" r="0.3" fill="rgb(183,14,14)" opacity="0.5"/><circle cx="37.4" cy="44.8" r="0.3" fill="rgb(180,14,14)" opacity="0.8"/><circle cx="21.4" cy="21.4" r="0.8" fill="rgb(168,13,13)" opacity="0.4"/><circle cx="38.3" cy="21.8" r="0.7" fill="rgb(195,15,15)" opacity="0.3"/><circle cx="42.0" cy="14.2" r="0.7" fill="rgb(157,12,12)" opacity="0.4"/><circle cx="47.5" cy="24.5" r="0.6" fill="rgb(126,10,10)" opacity="0.5"/><circle cx="24.6" cy="34.4" r="0.6" fill="rgb(151,12,12)" opacity="0.8"/><circle cx="36.1" cy="9.8" r="0.7" fill="rgb(175,14,14)" opacity="0.4"/><circle cx="43.5" cy="16.0" r="0.3" fill="rgb(177,14,14)" opacity="0.5"/><circle cx="33.2" cy="11.0" r="0.4" fill="rgb(115,9,9)" opacity="0.9"/><circle cx="54.0" cy="22.5" r="0.3" fill="rgb(177,14,14)" opacity="0.8"/><circle cx="41.1" cy="38.6" r="0.8" fill="rgb(194,15,15)" opacity="0.6"/><circle cx="51.5" cy="29.0" r="0.4" fill="rgb(123,9,9)" opacity="0.5"/><circle cx="27.0" cy="25.1" r="0.8" fill="rgb(119,9,9)" opacity="0.3"/><circle cx="50.3" cy="26.1" r="0.5" fill="rgb(157,12,12)" opacity="0.3"/><circle cx="37.6" cy="39.7" r="0.7" fill="rgb(155,12,12)" opacity="0.3"/><circle cx="38.5" cy="29.4" r="0.8" fill="rgb(194,15,15)" opacity="0.6"/><circle cx="31.7" cy="22.2" r="0.8" fill="rgb(186,14,14)" opacity="0.8"/><circle cx="21.5" cy="36.4" r="0.7" fill="rgb(182,14,14)" opacity="0.4"/><circle cx="46.9" cy="32.3" r="0.4" fill="rgb(141,11,11)" opacity="0.3"/><circle cx="38.2" cy="25.0" r="0.4" fill="rgb(166,13,13)" opacity="0.3"/><circle cx="26.6" cy="33.3" r="0.4" fill="rgb(174,13,13)" opacity="0.2"/><circle cx="36.1" cy="39.5" r="0.7" fill="rgb(179,14,14)" opacity="0.3"/><circle cx="48.9" cy="37.9" r="0.6" fill="rgb(150,12,12)" opacity="0.6"/><circle cx="29.9" cy="31.5" r="0.6" fill="rgb(138,11,11)" opacity="0.5"/><circle cx="47.7" cy="30.7" r="0.4" fill="rgb(190,15,15)" opacity="0.3"/><circle cx="28.2" cy="15.8" r="0.6" fill="rgb(141,11,11)" opacity="0.4"/><circle cx="29.7" cy="54.7" r="0.4" fill="rgb(118,9,9)" opacity="0.9"/><circle cx="37.5" cy="50.8" r="0.7" fill="rgb(129,10,10)" opacity="0.8"/><circle cx="49.0" cy="34.1" r="0.7" fill="rgb(158,12,12)" opacity="0.4"/><circle cx="32.7" cy="8.6" r="0.5" fill="rgb(181,14,14)" opacity="0.6"/><circle cx="25.8" cy="17.4" r="0.3" fill="rgb(163,13,13)" opacity="0.6"/><circle cx="26.8" cy="22.5" r="0.4" fill="rgb(150,12,12)" opacity="0.4"/><circle cx="29.1" cy="45.4" r="0.4" fill="rgb(166,13,13)" opacity="0.4"/><circle cx="41.3" cy="19.4" r="0.6" fill="rgb(112,8,8)" opacity="0.3"/><circle cx="33.6" cy="25.9" r="0.6" fill="rgb(154,12,12)" opacity="0.6"/><circle cx="31.5" cy="21.0" r="0.3" fill="rgb(111,8,8)" opacity="0.5"/><circle cx="54.2" cy="20.6" r="0.5" fill="rgb(133,10,10)" opacity="0.2"/><circle cx="35.7" cy="51.6" r="0.5" fill="rgb(136,10,10)" opacity="0.8"/><circle cx="53.3" cy="27.2" r="0.3" fill="rgb(132,10,10)" opacity="0.8"/><circle cx="29.2" cy="31.8" r="0.4" fill="rgb(158,12,12)" opacity="0.5"/><circle cx="42.6" cy="32.2" r="0.7" fill="rgb(178,14,14)" opacity="0.8"/><circle cx="27.4" cy="43.2" r="0.7" fill="rgb(113,9,9)" opacity="0.8"/><circle cx="36.8" cy="53.0" r="0.3" fill="rgb(123,9,9)" opacity="0.9"/><circle cx="42.3" cy="23.6" r="0.4" fill="rgb(172,13,13)" opacity="0.4"/><circle cx="42.7" cy="32.8" r="0.3" fill="rgb(125,10,10)" opacity="0.7"/><circle cx="38.7" cy="32.4" r="0.4" fill="rgb(149,11,11)" opacity="0.6"/><circle cx="26.3" cy="14.1" r="0.4" fill="rgb(112,8,8)" opacity="0.9"/><circle cx="37.8" cy="51.4" r="0.3" fill="rgb(157,12,12)" opacity="0.3"/><circle cx="34.1" cy="35.8" r="0.5" fill="rgb(193,15,15)" opacity="0.5"/><circle cx="52.0" cy="31.9" r="0.4" fill="rgb(138,11,11)" opacity="0.6"/><circle cx="26.7" cy="22.7" r="0.4" fill="rgb(197,15,15)" opacity="0.5"/><circle cx="41.5" cy="29.1" r="0.5" fill="rgb(115,9,9)" opacity="0.7"/><circle cx="23.0" cy="17.8" r="0.6" fill="rgb(167,13,13)" opacity="0.7"/><circle cx="33.3" cy="8.4" r="0.8" fill="rgb(177,14,14)" opacity="0.2"/><circle cx="33.6" cy="32.7" r="0.6" fill="rgb(168,13,13)" opacity="0.3"/><circle cx="46.8" cy="24.3" r="0.8" fill="rgb(179,14,14)" opacity="0.7"/><circle cx="39.3" cy="12.7" r="0.5" fill="rgb(170,13,13)" opacity="0.4"/><circle cx="57.0" cy="22.7" r="0.8" fill="rgb(123,9,9)" opacity="0.6"/><circle cx="30.9" cy="26.0" r="0.8" fill="rgb(146,11,11)" opacity="0.4"/><circle cx="37.2" cy="18.5" r="0.5" fill="rgb(190,15,15)" opacity="0.3"/><circle cx="31.2" cy="39.3" r="0.7" fill="rgb(187,14,14)" opacity="0.8"/><circle cx="32.6" cy="34.0" r="0.6" fill="rgb(185,14,14)" opacity="0.3"/><circle cx="35.5" cy="9.0" r="0.8" fill="rgb(196,15,15)" opacity="0.5"/><circle cx="47.1" cy="21.5" r="0.6" fill="rgb(150,12,12)" opacity="0.5"/><circle cx="35.1" cy="15.2" r="0.6" fill="rgb(167,13,13)" opacity="0.2"/><circle cx="41.5" cy="41.6" r="0.6" fill="rgb(169,13,13)" opacity="0.4"/><circle cx="44.2" cy="23.3" r="0.4" fill="rgb(114,9,9)" opacity="0.3"/><circle cx="33.8" cy="28.2" r="0.5" fill="rgb(200,16,16)" opacity="0.5"/><circle cx="22.5" cy="20.6" r="0.4" fill="rgb(184,14,14)" opacity="0.3"/><circle cx="24.4" cy="32.2" r="0.4" fill="rgb(142,11,11)" opacity="0.4"/><circle cx="52.5" cy="26.5" r="0.6" fill="rgb(186,14,14)" opacity="0.4"/><circle cx="26.9" cy="24.3" r="0.5" fill="rgb(158,12,12)" opacity="0.4"/><circle cx="36.9" cy="32.3" r="0.4" fill="rgb(153,12,12)" opacity="0.9"/><circle cx="38.0" cy="34.2" r="0.5" fill="rgb(189,15,15)" opacity="0.3"/><circle cx="32.1" cy="55.5" r="0.5" fill="rgb(178,14,14)" opacity="0.3"/><circle cx="57.7" cy="22.1" r="0.8" fill="rgb(157,12,12)" opacity="0.2"/><circle cx="46.1" cy="28.6" r="0.7" fill="rgb(122,9,9)" opacity="0.6"/><circle cx="20.0" cy="29.6" r="0.4" fill="rgb(119,9,9)" opacity="0.4"/><circle cx="31.4" cy="56.8" r="0.7" fill="rgb(115,9,9)" opacity="0.4"/><circle cx="38.2" cy="36.4" r="0.8" fill="rgb(127,10,10)" opacity="0.4"/><circle cx="48.5" cy="29.1" r="0.4" fill="rgb(141,11,11)" opacity="0.3"/><circle cx="27.2" cy="32.8" r="0.5" fill="rgb(200,16,16)" opacity="0.7"/><circle cx="29.6" cy="31.9" r="0.6" fill="rgb(148,11,11)" opacity="0.7"/><circle cx="39.4" cy="32.4" r="0.5" fill="rgb(144,11,11)" opacity="0.4"/><circle cx="29.6" cy="26.1" r="0.4" fill="rgb(119,9,9)" opacity="0.3"/><circle cx="51.0" cy="20.6" r="0.4" fill="rgb(177,14,14)" opacity="0.6"/><circle cx="29.6" cy="54.7" r="0.4" fill="rgb(159,12,12)" opacity="0.4"/><circle cx="49.6" cy="22.0" r="0.5" fill="rgb(172,13,13)" opacity="0.6"/><circle cx="43.5" cy="34.3" r="0.4" fill="rgb(162,12,12)" opacity="0.7"/><circle cx="40.2" cy="13.4" r="0.7" fill="rgb(152,12,12)" opacity="0.6"/><circle cx="28.1" cy="22.0" r="0.6" fill="rgb(179,14,14)" opacity="0.3"/><circle cx="37.2" cy="22.1" r="0.7" fill="rgb(138,11,11)" opacity="0.2"/><circle cx="20.1" cy="24.0" r="0.7" fill="rgb(122,9,9)" opacity="0.4"/><circle cx="24.7" cy="33.5" r="0.6" fill="rgb(182,14,14)" opacity="0.9"/><circle cx="47.0" cy="35.8" r="0.7" fill="rgb(155,12,12)" opacity="0.8"/><circle cx="31.5" cy="33.9" r="0.6" fill="rgb(111,8,8)" opacity="0.6"/><circle cx="32.4" cy="15.6" r="0.7" fill="rgb(194,15,15)" opacity="0.7"/><circle cx="44.1" cy="55.9" r="0.7" fill="rgb(168,13,13)" opacity="0.4"/><circle cx="25.4" cy="11.2" r="0.6" fill="rgb(148,11,11)" opacity="0.8"/><circle cx="35.7" cy="27.6" r="0.4" fill="rgb(165,13,13)" opacity="0.6"/><circle cx="30.5" cy="12.7" r="0.5" fill="rgb(114,9,9)" opacity="0.2"/><circle cx="31.1" cy="25.9" r="0.5" fill="rgb(149,11,11)" opacity="0.3"/><circle cx="33.9" cy="30.0" r="0.4" fill="rgb(167,13,13)" opacity="0.7"/><circle cx="25.6" cy="13.7" r="0.6" fill="rgb(170,13,13)" opacity="0.3"/><circle cx="20.2" cy="31.6" r="0.5" fill="rgb(183,14,14)" opacity="0.9"/><circle cx="42.6" cy="34.3" r="0.7" fill="rgb(153,12,12)" opacity="0.6"/><circle cx="48.4" cy="37.5" r="0.4" fill="rgb(133,10,10)" opacity="0.4"/><circle cx="29.3" cy="14.8" r="0.7" fill="rgb(126,10,10)" opacity="0.5"/><circle cx="30.6" cy="34.5" r="0.7" fill="rgb(122,9,9)" opacity="0.6"/><circle cx="32.3" cy="33.5" r="0.5" fill="rgb(197,15,15)" opacity="0.6"/><circle cx="39.2" cy="50.3" r="0.4" fill="rgb(197,15,15)" opacity="0.8"/><circle cx="39.7" cy="29.8" r="0.5" fill="rgb(187,14,14)" opacity="0.3"/><circle cx="31.0" cy="18.7" r="0.6" fill="rgb(133,10,10)" opacity="0.7"/><circle cx="32.3" cy="40.5" r="0.6" fill="rgb(126,10,10)" opacity="0.8"/><circle cx="23.5" cy="20.6" r="0.5" fill="rgb(179,14,14)" opacity="0.3"/><circle cx="26.7" cy="43.4" r="0.4" fill="rgb(126,10,10)" opacity="0.5"/><circle cx="29.9" cy="15.4" r="0.7" fill="rgb(124,9,9)" opacity="0.7"/><circle cx="44.9" cy="14.0" r="0.3" fill="rgb(160,12,12)" opacity="0.6"/><circle cx="36.2" cy="13.0" r="0.4" fill="rgb(179,14,14)" opacity="0.4"/><circle cx="27.4" cy="3.6" r="0.7" fill="rgb(191,15,15)" opacity="0.7"/><circle cx="53.1" cy="29.5" r="0.3" fill="rgb(135,10,10)" opacity="0.8"/><circle cx="40.2" cy="36.0" r="0.4" fill="rgb(142,11,11)" opacity="0.4"/><circle cx="35.9" cy="34.9" r="0.5" fill="rgb(140,11,11)" opacity="0.6"/><circle cx="55.9" cy="22.5" r="0.3" fill="rgb(113,9,9)" opacity="0.9"/><circle cx="31.9" cy="9.7" r="0.7" fill="rgb(127,10,10)" opacity="0.8"/><circle cx="31.4" cy="45.0" r="0.3" fill="rgb(137,10,10)" opacity="0.5"/><circle cx="36.5" cy="28.3" r="0.7" fill="rgb(190,15,15)" opacity="0.4"/><circle cx="27.9" cy="14.2" r="0.6" fill="rgb(149,11,11)" opacity="0.5"/><circle cx="25.6" cy="9.3" r="0.8" fill="rgb(116,9,9)" opacity="0.3"/><circle cx="37.9" cy="46.3" r="0.8" fill="rgb(168,13,13)" opacity="0.9"/><circle cx="42.1" cy="54.7" r="0.7" fill="rgb(159,12,12)" opacity="0.7"/><circle cx="42.1" cy="14.1" r="0.4" fill="rgb(144,11,11)" opacity="0.8"/><circle cx="34.0" cy="9.2" r="0.8" fill="rgb(115,9,9)" opacity="0.5"/><circle cx="45.5" cy="18.2" r="0.6" fill="rgb(186,14,14)" opacity="0.5"/><circle cx="40.5" cy="43.2" r="0.4" fill="rgb(121,9,9)" opacity="0.9"/><circle cx="36.1" cy="29.5" r="0.7" fill="rgb(144,11,11)" opacity="0.2"/><circle cx="35.8" cy="37.1" r="0.7" fill="rgb(120,9,9)" opacity="0.6"/><circle cx="36.0" cy="14.8" r="0.7" fill="rgb(117,9,9)" opacity="0.6"/><circle cx="29.7" cy="20.2" r="0.3" fill="rgb(196,15,15)" opacity="0.6"/><circle cx="29.3" cy="42.4" r="0.5" fill="rgb(124,9,9)" opacity="0.7"/><circle cx="44.3" cy="14.0" r="0.3" fill="rgb(165,13,13)" opacity="0.3"/><circle cx="26.5" cy="38.9" r="0.8" fill="rgb(117,9,9)" opacity="0.7"/><circle cx="55.6" cy="31.8" r="0.7" fill="rgb(128,10,10)" opacity="0.4"/><circle cx="36.6" cy="15.3" r="0.7" fill="rgb(182,14,14)" opacity="0.9"/><circle cx="59.4" cy="26.2" r="0.4" fill="rgb(173,13,13)" opacity="0.5"/><circle cx="58.1" cy="21.5" r="0.8" fill="rgb(165,13,13)" opacity="0.4"/><circle cx="43.6" cy="30.2" r="0.4" fill="rgb(120,9,9)" opacity="0.3"/><circle cx="54.6" cy="26.5" r="0.7" fill="rgb(158,12,12)" opacity="0.7"/><circle cx="46.5" cy="46.0" r="0.5" fill="rgb(196,15,15)" opacity="0.8"/><circle cx="33.3" cy="15.4" r="0.7" fill="rgb(138,11,11)" opacity="0.8"/><circle cx="53.2" cy="23.3" r="0.4" fill="rgb(116,9,9)" opacity="0.3"/><circle cx="37.3" cy="37.6" r="0.8" fill="rgb(110,8,8)" opacity="0.2"/><circle cx="47.6" cy="36.5" r="0.5" fill="rgb(159,12,12)" opacity="0.4"/><circle cx="57.7" cy="26.9" r="0.4" fill="rgb(166,13,13)" opacity="0.3"/><circle cx="38.2" cy="34.8" r="0.7" fill="rgb(128,10,10)" opacity="0.2"/><circle cx="48.2" cy="33.1" r="0.6" fill="rgb(147,11,11)" opacity="0.9"/><circle cx="47.3" cy="16.7" r="0.7" fill="rgb(114,9,9)" opacity="0.3"/><circle cx="42.0" cy="45.4" r="0.5" fill="rgb(137,10,10)" opacity="0.5"/><circle cx="42.7" cy="32.6" r="0.4" fill="rgb(164,13,13)" opacity="0.5"/><circle cx="28.4" cy="48.0" r="0.7" fill="rgb(180,14,14)" opacity="0.8"/><circle cx="43.5" cy="14.3" r="0.7" fill="rgb(110,8,8)" opacity="0.9"/><circle cx="39.7" cy="47.1" r="0.8" fill="rgb(160,12,12)" opacity="0.3"/><circle cx="57.3" cy="24.1" r="0.5" fill="rgb(196,15,15)" opacity="0.3"/><circle cx="39.1" cy="49.6" r="0.4" fill="rgb(127,10,10)" opacity="0.3"/><circle cx="31.5" cy="34.8" r="0.8" fill="rgb(127,10,10)" opacity="0.6"/><circle cx="35.5" cy="50.8" r="0.4" fill="rgb(139,11,11)" opacity="0.5"/><circle cx="43.3" cy="55.3" r="0.4" fill="rgb(146,11,11)" opacity="0.3"/><circle cx="48.9" cy="39.2" r="0.8" fill="rgb(119,9,9)" opacity="0.8"/><circle cx="35.6" cy="51.7" r="0.4" fill="rgb(141,11,11)" opacity="0.8"/><circle cx="52.3" cy="30.0" r="0.8" fill="rgb(115,9,9)" opacity="0.2"/><circle cx="25.8" cy="35.6" r="0.5" fill="rgb(144,11,11)" opacity="0.3"/><circle cx="35.1" cy="37.0" r="0.7" fill="rgb(182,14,14)" opacity="0.7"/><circle cx="43.0" cy="34.4" r="0.8" fill="rgb(143,11,11)" opacity="0.4"/><circle cx="39.7" cy="39.8" r="0.6" fill="rgb(193,15,15)" opacity="0.6"/><circle cx="24.4" cy="42.5" r="0.8" fill="rgb(189,15,15)" opacity="0.5"/><circle cx="39.2" cy="9.2" r="0.8" fill="rgb(164,13,13)" opacity="0.3"/><circle cx="23.0" cy="16.1" r="0.5" fill="rgb(135,10,10)" opacity="0.2"/><circle cx="42.1" cy="39.6" r="0.8" fill="rgb(163,13,13)" opacity="0.4"/><circle cx="22.2" cy="29.4" r="0.5" fill="rgb(177,14,14)" opacity="0.6"/><circle cx="23.3" cy="34.1" r="0.3" fill="rgb(175,14,14)" opacity="0.3"/></g><ellipse cx="32.50" cy="26.70" rx="8.4" ry="6.0" transform="rotate(8 32.50 26.70)" fill="#203ee6" opacity="1" filter="url(#b05)"/><g filter="url(#b04)"><circle cx="31.1" cy="28.1" r="0.9" fill="#0c1c90" opacity="0.3"/><circle cx="34.8" cy="24.3" r="0.6" fill="#0c1c90" opacity="0.4"/><circle cx="33.2" cy="31.4" r="0.5" fill="#0c1c90" opacity="0.2"/><circle cx="36.6" cy="30.4" r="0.6" fill="#0c1c90" opacity="0.3"/><circle cx="31.8" cy="27.3" r="0.8" fill="#0c1c90" opacity="0.3"/><circle cx="35.9" cy="23.0" r="0.8" fill="#0c1c90" opacity="0.4"/><circle cx="36.3" cy="25.7" r="1.0" fill="#0c1c90" opacity="0.4"/><circle cx="35.0" cy="27.6" r="0.9" fill="#0c1c90" opacity="0.5"/><circle cx="35.0" cy="26.9" r="0.9" fill="#0c1c90" opacity="0.5"/><circle cx="34.9" cy="29.1" r="0.8" fill="#0c1c90" opacity="0.4"/><circle cx="28.2" cy="28.7" r="1.0" fill="#0c1c90" opacity="0.5"/><circle cx="30.8" cy="31.3" r="0.6" fill="#0c1c90" opacity="0.3"/><circle cx="26.8" cy="28.4" r="0.5" fill="#0c1c90" opacity="0.5"/><circle cx="33.9" cy="23.5" r="0.7" fill="#0c1c90" opacity="0.4"/><circle cx="34.0" cy="23.1" r="0.5" fill="#0c1c90" opacity="0.3"/><circle cx="30.8" cy="29.7" r="0.9" fill="#0c1c90" opacity="0.3"/><circle cx="36.6" cy="25.9" r="0.9" fill="#0c1c90" opacity="0.4"/></g><ellipse cx="39.00" cy="46.50" rx="5.3" ry="7.6" transform="rotate(22 39.00 46.50)" fill="#203ee6" opacity="1" filter="url(#b05)"/><g filter="url(#b04)"><circle cx="39.5" cy="41.3" r="0.6" fill="#0c1c90" opacity="0.4"/><circle cx="36.3" cy="51.0" r="0.6" fill="#0c1c90" opacity="0.2"/><circle cx="39.5" cy="47.3" r="0.6" fill="#0c1c90" opacity="0.3"/><circle cx="36.7" cy="44.1" r="0.5" fill="#0c1c90" opacity="0.2"/><circle cx="42.3" cy="47.4" r="0.6" fill="#0c1c90" opacity="0.4"/><circle cx="36.9" cy="51.3" r="0.7" fill="#0c1c90" opacity="0.3"/><circle cx="39.8" cy="42.4" r="0.8" fill="#0c1c90" opacity="0.5"/><circle cx="41.2" cy="48.1" r="0.7" fill="#0c1c90" opacity="0.3"/><circle cx="41.5" cy="47.4" r="0.9" fill="#0c1c90" opacity="0.5"/><circle cx="41.5" cy="42.1" r="0.6" fill="#0c1c90" opacity="0.2"/><circle cx="35.5" cy="43.3" r="0.5" fill="#0c1c90" opacity="0.3"/><circle cx="36.5" cy="50.5" r="0.9" fill="#0c1c90" opacity="0.4"/><circle cx="39.1" cy="45.7" r="0.9" fill="#0c1c90" opacity="0.5"/><circle cx="38.7" cy="47.6" r="0.9" fill="#0c1c90" opacity="0.5"/></g></g></g><g transform="translate(186.6,227.0)"><g clip-path="url(#k6)"><g filter="url(#b03)"><circle cx="12.2" cy="34.9" r="0.5" fill="rgb(33,135,20)" opacity="0.7"/><circle cx="14.4" cy="37.7" r="0.4" fill="rgb(39,157,23)" opacity="0.7"/><circle cx="31.2" cy="10.8" r="0.5" fill="rgb(119,11,9)" opacity="0.2"/><circle cx="24.4" cy="17.9" r="0.8" fill="rgb(43,174,26)" opacity="0.5"/><circle cx="35.1" cy="26.0" r="0.7" fill="rgb(123,12,9)" opacity="0.7"/><circle cx="30.1" cy="20.6" r="0.3" fill="rgb(114,11,9)" opacity="0.5"/><circle cx="40.9" cy="15.5" r="0.5" fill="rgb(165,16,13)" opacity="0.6"/><circle cx="19.7" cy="17.7" r="0.7" fill="rgb(43,175,26)" opacity="0.7"/><circle cx="27.9" cy="9.5" r="0.6" fill="rgb(199,119,9)" opacity="0.3"/><circle cx="32.9" cy="25.0" r="0.4" fill="rgb(42,171,25)" opacity="0.3"/><circle cx="22.5" cy="11.4" r="0.4" fill="rgb(194,116,9)" opacity="0.3"/><circle cx="37.6" cy="15.8" r="0.8" fill="rgb(162,97,8)" opacity="0.6"/><circle cx="37.6" cy="13.3" r="0.5" fill="rgb(155,15,12)" opacity="0.6"/><circle cx="49.0" cy="29.2" r="0.3" fill="rgb(147,88,7)" opacity="0.6"/><circle cx="18.8" cy="34.7" r="0.8" fill="rgb(136,13,10)" opacity="0.9"/><circle cx="24.1" cy="42.7" r="0.7" fill="rgb(35,140,21)" opacity="0.2"/><circle cx="29.3" cy="39.3" r="0.6" fill="rgb(144,14,11)" opacity="0.6"/><circle cx="28.9" cy="9.7" r="0.6" fill="rgb(44,176,26)" opacity="0.2"/><circle cx="35.7" cy="28.6" r="0.7" fill="rgb(35,143,21)" opacity="0.3"/><circle cx="26.0" cy="43.1" r="0.4" fill="rgb(154,92,7)" opacity="0.5"/><circle cx="12.9" cy="36.1" r="0.7" fill="rgb(35,141,21)" opacity="0.3"/><circle cx="32.2" cy="50.3" r="0.4" fill="rgb(38,155,23)" opacity="0.3"/><circle cx="37.4" cy="43.9" r="0.6" fill="rgb(45,183,27)" opacity="0.6"/><circle cx="37.6" cy="13.3" r="0.5" fill="rgb(174,104,8)" opacity="0.3"/><circle cx="35.1" cy="18.4" r="0.4" fill="rgb(40,160,24)" opacity="0.7"/><circle cx="16.0" cy="29.4" r="0.4" fill="rgb(197,118,9)" opacity="0.4"/><circle cx="24.3" cy="26.3" r="0.4" fill="rgb(40,163,24)" opacity="0.7"/><circle cx="37.0" cy="52.1" r="0.5" fill="rgb(46,185,27)" opacity="0.9"/><circle cx="36.6" cy="54.6" r="0.5" fill="rgb(40,162,24)" opacity="0.9"/><circle cx="42.4" cy="27.1" r="0.6" fill="rgb(43,173,25)" opacity="0.5"/><circle cx="45.8" cy="28.0" r="0.5" fill="rgb(115,11,9)" opacity="0.4"/><circle cx="31.9" cy="30.4" r="0.4" fill="rgb(122,12,9)" opacity="0.3"/><circle cx="34.8" cy="19.3" r="0.5" fill="rgb(140,84,7)" opacity="0.5"/><circle cx="29.6" cy="45.7" r="0.7" fill="rgb(44,176,26)" opacity="0.4"/><circle cx="50.0" cy="27.2" r="0.3" fill="rgb(142,85,7)" opacity="0.2"/><circle cx="22.6" cy="23.1" r="0.8" fill="rgb(27,110,16)" opacity="0.3"/><circle cx="31.6" cy="35.8" r="0.3" fill="rgb(144,14,11)" opacity="0.9"/><circle cx="22.6" cy="47.5" r="0.3" fill="rgb(186,111,9)" opacity="0.9"/><circle cx="38.2" cy="21.6" r="0.6" fill="rgb(172,17,13)" opacity="0.6"/><circle cx="32.9" cy="30.6" r="0.5" fill="rgb(32,129,19)" opacity="0.8"/><circle cx="26.5" cy="37.8" r="0.6" fill="rgb(46,184,27)" opacity="0.4"/><circle cx="51.4" cy="25.5" r="0.7" fill="rgb(175,17,14)" opacity="0.3"/><circle cx="32.1" cy="34.0" r="0.5" fill="rgb(36,147,22)" opacity="0.8"/><circle cx="23.8" cy="22.5" r="0.8" fill="rgb(148,88,7)" opacity="0.4"/><circle cx="27.1" cy="37.5" r="0.4" fill="rgb(31,124,18)" opacity="0.5"/><circle cx="34.0" cy="30.5" r="0.4" fill="rgb(28,114,17)" opacity="0.3"/><circle cx="47.9" cy="18.3" r="0.3" fill="rgb(38,155,23)" opacity="0.3"/><circle cx="34.4" cy="37.9" r="0.7" fill="rgb(187,18,14)" opacity="0.7"/><circle cx="24.2" cy="15.7" r="0.6" fill="rgb(39,159,23)" opacity="0.6"/><circle cx="23.3" cy="7.2" r="0.4" fill="rgb(128,12,10)" opacity="0.7"/><circle cx="18.7" cy="25.6" r="0.5" fill="rgb(39,159,23)" opacity="0.9"/><circle cx="22.4" cy="8.7" r="0.7" fill="rgb(206,123,10)" opacity="0.6"/><circle cx="30.3" cy="20.9" r="0.7" fill="rgb(122,12,9)" opacity="0.2"/><circle cx="23.2" cy="4.0" r="0.6" fill="rgb(35,142,21)" opacity="0.7"/><circle cx="35.6" cy="43.1" r="0.7" fill="rgb(158,94,7)" opacity="0.4"/><circle cx="20.5" cy="10.9" r="0.4" fill="rgb(28,114,17)" opacity="0.5"/><circle cx="32.2" cy="28.9" r="0.6" fill="rgb(152,15,12)" opacity="0.3"/><circle cx="34.9" cy="50.6" r="0.4" fill="rgb(118,11,9)" opacity="0.5"/><circle cx="13.3" cy="23.7" r="0.5" fill="rgb(42,169,25)" opacity="0.4"/><circle cx="28.7" cy="45.2" r="0.4" fill="rgb(116,11,9)" opacity="0.6"/><circle cx="47.2" cy="32.8" r="0.4" fill="rgb(153,91,7)" opacity="0.3"/><circle cx="12.6" cy="28.3" r="0.4" fill="rgb(27,110,16)" opacity="0.7"/><circle cx="47.1" cy="28.8" r="0.6" fill="rgb(203,121,10)" opacity="0.2"/><circle cx="25.4" cy="37.4" r="0.4" fill="rgb(163,16,13)" opacity="0.8"/><circle cx="23.6" cy="4.9" r="0.5" fill="rgb(164,98,8)" opacity="0.3"/><circle cx="21.6" cy="49.2" r="0.4" fill="rgb(184,18,14)" opacity="0.9"/><circle cx="18.1" cy="17.9" r="0.4" fill="rgb(38,155,23)" opacity="0.5"/><circle cx="32.0" cy="46.6" r="0.6" fill="rgb(33,134,20)" opacity="0.4"/><circle cx="33.8" cy="31.4" r="0.4" fill="rgb(46,185,27)" opacity="0.5"/><circle cx="22.1" cy="20.5" r="0.7" fill="rgb(32,128,19)" opacity="0.3"/><circle cx="37.9" cy="25.1" r="0.7" fill="rgb(38,152,22)" opacity="0.9"/><circle cx="33.0" cy="16.3" r="0.4" fill="rgb(158,15,12)" opacity="0.5"/><circle cx="30.0" cy="18.7" r="0.7" fill="rgb(29,116,17)" opacity="0.7"/><circle cx="16.8" cy="40.2" r="0.5" fill="rgb(188,18,15)" opacity="0.9"/><circle cx="44.6" cy="33.5" r="0.5" fill="rgb(30,123,18)" opacity="0.4"/><circle cx="32.1" cy="22.1" r="0.6" fill="rgb(167,100,8)" opacity="0.7"/><circle cx="30.6" cy="40.4" r="0.6" fill="rgb(45,181,27)" opacity="0.2"/><circle cx="49.2" cy="29.4" r="0.5" fill="rgb(159,15,12)" opacity="0.6"/><circle cx="43.6" cy="22.9" r="0.4" fill="rgb(44,177,26)" opacity="0.9"/><circle cx="33.6" cy="36.2" r="0.6" fill="rgb(121,12,9)" opacity="0.2"/><circle cx="29.6" cy="7.3" r="0.3" fill="rgb(33,132,19)" opacity="0.3"/><circle cx="17.1" cy="38.6" r="0.8" fill="rgb(160,96,8)" opacity="0.7"/><circle cx="18.9" cy="28.6" r="0.7" fill="rgb(29,116,17)" opacity="0.7"/><circle cx="21.4" cy="24.2" r="0.3" fill="rgb(45,183,27)" opacity="0.8"/><circle cx="48.9" cy="30.2" r="0.7" fill="rgb(41,165,24)" opacity="0.4"/><circle cx="23.8" cy="52.0" r="0.7" fill="rgb(190,19,15)" opacity="0.9"/><circle cx="27.9" cy="39.6" r="0.5" fill="rgb(38,154,23)" opacity="0.7"/><circle cx="32.8" cy="53.6" r="0.6" fill="rgb(38,154,23)" opacity="0.7"/><circle cx="38.8" cy="45.4" r="0.5" fill="rgb(41,165,24)" opacity="0.7"/><circle cx="23.2" cy="53.2" r="0.6" fill="rgb(34,139,20)" opacity="0.8"/><circle cx="33.5" cy="34.7" r="0.4" fill="rgb(33,134,20)" opacity="0.9"/><circle cx="34.0" cy="19.0" r="0.7" fill="rgb(38,153,22)" opacity="0.5"/><circle cx="25.4" cy="18.6" r="0.8" fill="rgb(186,18,14)" opacity="0.9"/><circle cx="38.0" cy="51.1" r="0.3" fill="rgb(147,14,11)" opacity="0.6"/><circle cx="27.5" cy="30.7" r="0.4" fill="rgb(131,13,10)" opacity="0.5"/><circle cx="41.3" cy="40.2" r="0.7" fill="rgb(149,14,11)" opacity="0.4"/><circle cx="17.1" cy="38.3" r="0.4" fill="rgb(189,113,9)" opacity="0.5"/><circle cx="39.0" cy="22.2" r="0.3" fill="rgb(166,99,8)" opacity="0.6"/><circle cx="29.2" cy="38.4" r="0.5" fill="rgb(139,13,11)" opacity="0.4"/><circle cx="35.0" cy="33.2" r="0.5" fill="rgb(46,184,27)" opacity="0.8"/><circle cx="31.2" cy="47.7" r="0.7" fill="rgb(33,135,20)" opacity="0.3"/><circle cx="12.1" cy="35.8" r="0.4" fill="rgb(160,16,12)" opacity="0.5"/><circle cx="24.0" cy="22.1" r="0.5" fill="rgb(161,96,8)" opacity="0.7"/><circle cx="33.1" cy="35.1" r="0.5" fill="rgb(165,99,8)" opacity="0.3"/><circle cx="39.0" cy="18.0" r="0.6" fill="rgb(185,18,14)" opacity="0.9"/><circle cx="36.6" cy="26.8" r="0.5" fill="rgb(180,108,9)" opacity="0.6"/><circle cx="14.4" cy="36.4" r="0.3" fill="rgb(119,11,9)" opacity="0.6"/><circle cx="15.4" cy="27.5" r="0.7" fill="rgb(112,11,8)" opacity="0.3"/><circle cx="21.7" cy="52.0" r="0.5" fill="rgb(35,142,21)" opacity="0.7"/><circle cx="37.6" cy="24.4" r="0.6" fill="rgb(33,132,19)" opacity="0.4"/><circle cx="44.3" cy="17.2" r="0.5" fill="rgb(144,86,7)" opacity="0.3"/><circle cx="28.0" cy="45.1" r="0.6" fill="rgb(117,11,9)" opacity="0.9"/><circle cx="41.7" cy="17.1" r="0.5" fill="rgb(154,92,7)" opacity="0.6"/><circle cx="48.2" cy="29.0" r="0.8" fill="rgb(196,117,9)" opacity="0.3"/><circle cx="24.2" cy="21.5" r="0.8" fill="rgb(30,120,18)" opacity="0.6"/><circle cx="35.8" cy="23.9" r="0.6" fill="rgb(176,105,8)" opacity="0.4"/><circle cx="45.2" cy="26.8" r="0.6" fill="rgb(36,145,21)" opacity="0.4"/><circle cx="36.2" cy="31.1" r="0.4" fill="rgb(44,178,26)" opacity="0.4"/><circle cx="30.4" cy="33.4" r="0.4" fill="rgb(45,180,27)" opacity="0.8"/><circle cx="30.7" cy="31.6" r="0.6" fill="rgb(36,144,21)" opacity="0.7"/><circle cx="39.3" cy="16.0" r="0.4" fill="rgb(168,100,8)" opacity="0.8"/><circle cx="42.6" cy="34.7" r="0.6" fill="rgb(33,135,20)" opacity="0.4"/><circle cx="29.8" cy="46.0" r="0.4" fill="rgb(45,181,27)" opacity="0.6"/><circle cx="36.9" cy="31.3" r="0.7" fill="rgb(32,128,19)" opacity="0.8"/><circle cx="19.2" cy="29.3" r="0.6" fill="rgb(190,19,15)" opacity="0.9"/><circle cx="28.4" cy="45.5" r="0.3" fill="rgb(133,13,10)" opacity="0.4"/><circle cx="36.7" cy="51.2" r="0.7" fill="rgb(34,136,20)" opacity="0.4"/><circle cx="38.8" cy="24.8" r="0.5" fill="rgb(169,101,8)" opacity="0.4"/><circle cx="34.8" cy="41.9" r="0.6" fill="rgb(40,160,24)" opacity="0.9"/><circle cx="37.9" cy="25.4" r="0.4" fill="rgb(181,18,14)" opacity="0.3"/><circle cx="43.1" cy="37.7" r="0.7" fill="rgb(34,139,20)" opacity="0.7"/><circle cx="26.6" cy="53.1" r="0.4" fill="rgb(145,14,11)" opacity="0.2"/><circle cx="25.0" cy="56.8" r="0.4" fill="rgb(27,110,16)" opacity="0.4"/><circle cx="36.2" cy="13.4" r="0.7" fill="rgb(208,124,10)" opacity="0.2"/><circle cx="37.2" cy="52.0" r="0.3" fill="rgb(138,13,11)" opacity="0.4"/><circle cx="23.4" cy="26.1" r="0.5" fill="rgb(135,13,10)" opacity="0.7"/><circle cx="14.8" cy="28.9" r="0.8" fill="rgb(44,177,26)" opacity="0.4"/><circle cx="24.7" cy="36.3" r="0.3" fill="rgb(169,101,8)" opacity="0.4"/><circle cx="24.7" cy="9.4" r="0.7" fill="rgb(38,152,22)" opacity="0.7"/><circle cx="24.0" cy="13.1" r="0.7" fill="rgb(131,13,10)" opacity="0.6"/><circle cx="34.9" cy="23.4" r="0.6" fill="rgb(40,162,24)" opacity="0.7"/><circle cx="36.0" cy="37.8" r="0.5" fill="rgb(209,125,10)" opacity="0.6"/><circle cx="25.1" cy="12.4" r="0.3" fill="rgb(30,122,18)" opacity="0.6"/><circle cx="27.0" cy="43.5" r="0.5" fill="rgb(32,130,19)" opacity="0.6"/><circle cx="34.1" cy="40.4" r="0.7" fill="rgb(191,114,9)" opacity="0.7"/><circle cx="26.3" cy="36.1" r="0.7" fill="rgb(37,148,22)" opacity="0.5"/><circle cx="23.7" cy="54.6" r="0.4" fill="rgb(170,17,13)" opacity="0.6"/><circle cx="17.7" cy="40.9" r="0.7" fill="rgb(154,15,12)" opacity="0.7"/><circle cx="34.7" cy="22.9" r="0.6" fill="rgb(39,156,23)" opacity="0.3"/><circle cx="24.3" cy="28.7" r="0.3" fill="rgb(154,15,12)" opacity="0.5"/><circle cx="33.1" cy="33.8" r="0.7" fill="rgb(118,11,9)" opacity="0.3"/><circle cx="45.3" cy="16.8" r="0.4" fill="rgb(158,94,7)" opacity="0.3"/><circle cx="43.8" cy="16.7" r="0.4" fill="rgb(147,88,7)" opacity="0.8"/><circle cx="22.6" cy="47.0" r="0.5" fill="rgb(37,151,22)" opacity="0.3"/><circle cx="13.0" cy="25.0" r="0.5" fill="rgb(45,182,27)" opacity="0.7"/><circle cx="26.5" cy="50.1" r="0.8" fill="rgb(32,131,19)" opacity="0.4"/><circle cx="45.4" cy="23.5" r="0.4" fill="rgb(186,111,9)" opacity="0.6"/><circle cx="41.9" cy="15.1" r="0.8" fill="rgb(138,13,11)" opacity="0.6"/><circle cx="51.3" cy="26.5" r="0.4" fill="rgb(180,108,9)" opacity="0.8"/><circle cx="41.7" cy="15.3" r="0.7" fill="rgb(185,111,9)" opacity="0.4"/><circle cx="31.1" cy="57.7" r="0.5" fill="rgb(163,97,8)" opacity="0.7"/><circle cx="39.2" cy="44.6" r="0.6" fill="rgb(112,11,8)" opacity="0.5"/><circle cx="30.6" cy="54.3" r="0.7" fill="rgb(209,125,10)" opacity="0.3"/><circle cx="23.9" cy="24.9" r="0.5" fill="rgb(43,173,25)" opacity="0.9"/><circle cx="26.0" cy="8.4" r="0.7" fill="rgb(45,183,27)" opacity="0.6"/><circle cx="39.2" cy="47.3" r="0.5" fill="rgb(29,116,17)" opacity="0.7"/><circle cx="23.3" cy="12.2" r="0.8" fill="rgb(46,185,27)" opacity="0.2"/><circle cx="32.8" cy="42.7" r="0.6" fill="rgb(40,160,24)" opacity="0.6"/><circle cx="22.5" cy="43.9" r="0.8" fill="rgb(146,87,7)" opacity="0.3"/><circle cx="24.7" cy="6.0" r="0.6" fill="rgb(138,13,11)" opacity="0.5"/><circle cx="30.4" cy="57.6" r="0.5" fill="rgb(34,138,20)" opacity="0.4"/><circle cx="46.2" cy="29.8" r="0.8" fill="rgb(126,12,10)" opacity="0.7"/><circle cx="36.1" cy="31.8" r="0.4" fill="rgb(172,103,8)" opacity="0.7"/><circle cx="33.6" cy="15.6" r="0.5" fill="rgb(187,112,9)" opacity="0.3"/><circle cx="22.8" cy="9.1" r="0.6" fill="rgb(46,184,27)" opacity="0.4"/><circle cx="23.3" cy="26.4" r="0.7" fill="rgb(146,14,11)" opacity="0.6"/><circle cx="50.3" cy="29.2" r="0.5" fill="rgb(173,17,13)" opacity="0.5"/><circle cx="29.6" cy="10.1" r="0.5" fill="rgb(43,172,25)" opacity="0.3"/><circle cx="43.6" cy="26.2" r="0.6" fill="rgb(32,130,19)" opacity="0.7"/><circle cx="22.7" cy="39.9" r="0.7" fill="rgb(187,18,14)" opacity="0.7"/><circle cx="45.9" cy="25.3" r="0.6" fill="rgb(159,95,7)" opacity="0.3"/><circle cx="28.7" cy="24.5" r="0.6" fill="rgb(40,162,24)" opacity="0.6"/><circle cx="27.1" cy="42.5" r="0.4" fill="rgb(34,138,20)" opacity="0.4"/><circle cx="39.4" cy="45.3" r="0.3" fill="rgb(141,84,7)" opacity="0.3"/><circle cx="31.2" cy="36.9" r="0.8" fill="rgb(28,112,16)" opacity="0.4"/><circle cx="26.1" cy="42.7" r="0.5" fill="rgb(32,129,19)" opacity="0.7"/><circle cx="29.7" cy="34.9" r="0.3" fill="rgb(39,157,23)" opacity="0.8"/><circle cx="23.3" cy="53.2" r="0.5" fill="rgb(170,102,8)" opacity="0.6"/><circle cx="15.7" cy="22.9" r="0.7" fill="rgb(30,122,18)" opacity="0.7"/><circle cx="18.1" cy="16.3" r="0.3" fill="rgb(167,100,8)" opacity="0.7"/><circle cx="34.6" cy="36.8" r="0.6" fill="rgb(153,15,12)" opacity="0.6"/><circle cx="26.1" cy="52.7" r="0.6" fill="rgb(32,131,19)" opacity="0.5"/><circle cx="36.3" cy="26.2" r="0.4" fill="rgb(35,140,21)" opacity="0.4"/><circle cx="22.2" cy="52.4" r="0.8" fill="rgb(188,18,15)" opacity="0.6"/><circle cx="27.5" cy="49.3" r="0.8" fill="rgb(40,160,24)" opacity="0.9"/><circle cx="28.3" cy="52.5" r="0.5" fill="rgb(32,129,19)" opacity="0.5"/><circle cx="37.8" cy="28.0" r="0.5" fill="rgb(158,94,7)" opacity="0.7"/><circle cx="37.2" cy="49.2" r="0.7" fill="rgb(28,114,17)" opacity="0.4"/><circle cx="37.3" cy="14.5" r="0.4" fill="rgb(170,102,8)" opacity="0.4"/><circle cx="29.4" cy="45.6" r="0.4" fill="rgb(36,144,21)" opacity="0.4"/></g><ellipse cx="25.50" cy="26.70" rx="8.4" ry="6.0" transform="rotate(8 25.50 26.70)" fill="#203ee6" opacity="1" filter="url(#b05)"/><g filter="url(#b04)"><circle cx="23.1" cy="27.0" r="0.9" fill="#0c1c90" opacity="0.4"/><circle cx="29.9" cy="24.1" r="0.7" fill="#0c1c90" opacity="0.2"/><circle cx="24.5" cy="29.0" r="0.8" fill="#0c1c90" opacity="0.4"/><circle cx="26.7" cy="26.3" r="0.7" fill="#0c1c90" opacity="0.4"/><circle cx="26.3" cy="22.6" r="0.6" fill="#0c1c90" opacity="0.2"/><circle cx="28.4" cy="24.4" r="0.8" fill="#0c1c90" opacity="0.2"/><circle cx="27.6" cy="24.3" r="0.8" fill="#0c1c90" opacity="0.2"/><circle cx="24.8" cy="24.2" r="0.6" fill="#0c1c90" opacity="0.3"/><circle cx="30.7" cy="26.4" r="0.5" fill="#0c1c90" opacity="0.2"/><circle cx="27.0" cy="23.5" r="0.7" fill="#0c1c90" opacity="0.5"/><circle cx="31.9" cy="25.4" r="0.5" fill="#0c1c90" opacity="0.3"/><circle cx="30.0" cy="24.0" r="0.6" fill="#0c1c90" opacity="0.5"/><circle cx="31.4" cy="24.6" r="0.9" fill="#0c1c90" opacity="0.2"/><circle cx="31.4" cy="28.5" r="0.7" fill="#0c1c90" opacity="0.3"/><circle cx="25.0" cy="23.0" r="0.7" fill="#0c1c90" opacity="0.3"/><circle cx="20.2" cy="29.5" r="0.6" fill="#0c1c90" opacity="0.3"/><circle cx="19.5" cy="27.9" r="0.8" fill="#0c1c90" opacity="0.4"/></g><ellipse cx="32.00" cy="46.50" rx="5.3" ry="7.6" transform="rotate(22 32.00 46.50)" fill="#203ee6" opacity="1" filter="url(#b05)"/><g filter="url(#b04)"><circle cx="29.8" cy="47.6" r="0.6" fill="#0c1c90" opacity="0.5"/><circle cx="34.4" cy="50.8" r="0.5" fill="#0c1c90" opacity="0.3"/><circle cx="32.2" cy="52.5" r="0.9" fill="#0c1c90" opacity="0.4"/><circle cx="33.4" cy="46.2" r="0.9" fill="#0c1c90" opacity="0.4"/><circle cx="29.8" cy="45.9" r="0.7" fill="#0c1c90" opacity="0.2"/><circle cx="35.4" cy="47.7" r="0.9" fill="#0c1c90" opacity="0.2"/><circle cx="28.7" cy="47.6" r="0.9" fill="#0c1c90" opacity="0.3"/><circle cx="30.0" cy="49.3" r="1.0" fill="#0c1c90" opacity="0.2"/><circle cx="33.7" cy="41.7" r="0.6" fill="#0c1c90" opacity="0.4"/><circle cx="31.0" cy="47.5" r="0.7" fill="#0c1c90" opacity="0.2"/><circle cx="29.9" cy="42.0" r="0.5" fill="#0c1c90" opacity="0.3"/><circle cx="34.3" cy="43.2" r="0.9" fill="#0c1c90" opacity="0.2"/><circle cx="28.5" cy="43.2" r="0.6" fill="#0c1c90" opacity="0.4"/><circle cx="30.9" cy="51.6" r="0.7" fill="#0c1c90" opacity="0.4"/></g></g></g><g transform="translate(35.3,292.8)"><g clip-path="url(#k7)"><g filter="url(#b03)"><circle cx="36.8" cy="20.4" r="0.8" fill="rgb(27,111,16)" opacity="0.6"/><circle cx="28.7" cy="27.2" r="0.5" fill="rgb(26,105,15)" opacity="0.6"/><circle cx="39.5" cy="19.3" r="0.4" fill="rgb(23,93,13)" opacity="0.7"/><circle cx="33.4" cy="16.3" r="0.4" fill="rgb(24,96,14)" opacity="0.8"/><circle cx="23.7" cy="19.4" r="0.5" fill="rgb(43,173,25)" opacity="0.8"/><circle cx="32.2" cy="13.0" r="0.5" fill="rgb(24,96,14)" opacity="0.7"/><circle cx="31.1" cy="17.3" r="0.7" fill="rgb(44,178,26)" opacity="0.3"/><circle cx="26.3" cy="12.3" r="0.8" fill="rgb(36,147,22)" opacity="0.8"/><circle cx="23.7" cy="17.1" r="0.7" fill="rgb(32,129,19)" opacity="0.4"/><circle cx="36.3" cy="23.1" r="0.5" fill="rgb(43,173,25)" opacity="0.9"/><circle cx="40.0" cy="27.7" r="0.7" fill="rgb(34,136,20)" opacity="0.8"/><circle cx="26.5" cy="12.5" r="0.5" fill="rgb(44,176,26)" opacity="0.3"/><circle cx="24.9" cy="12.6" r="0.4" fill="rgb(25,102,15)" opacity="0.8"/><circle cx="30.9" cy="28.8" r="0.8" fill="rgb(39,157,23)" opacity="0.3"/><circle cx="31.7" cy="19.3" r="0.8" fill="rgb(48,192,28)" opacity="0.5"/><circle cx="41.5" cy="26.9" r="0.6" fill="rgb(38,154,23)" opacity="0.5"/><circle cx="25.7" cy="15.4" r="0.5" fill="rgb(42,169,25)" opacity="0.7"/><circle cx="27.5" cy="18.6" r="0.6" fill="rgb(35,143,21)" opacity="0.7"/><circle cx="31.2" cy="15.6" r="0.4" fill="rgb(40,163,24)" opacity="0.5"/><circle cx="34.5" cy="27.7" r="0.5" fill="rgb(36,146,21)" opacity="0.5"/><circle cx="23.0" cy="16.4" r="0.5" fill="rgb(39,156,23)" opacity="0.4"/><circle cx="28.2" cy="10.9" r="0.6" fill="rgb(47,188,28)" opacity="0.4"/><circle cx="38.4" cy="22.7" r="0.5" fill="rgb(36,144,21)" opacity="0.3"/><circle cx="36.9" cy="21.7" r="0.4" fill="rgb(32,131,19)" opacity="0.8"/><circle cx="24.6" cy="20.7" r="0.4" fill="rgb(35,142,21)" opacity="0.5"/><circle cx="28.6" cy="11.8" r="0.6" fill="rgb(44,177,26)" opacity="0.5"/><circle cx="27.3" cy="18.3" r="0.4" fill="rgb(33,133,19)" opacity="0.5"/><circle cx="36.5" cy="15.0" r="0.8" fill="rgb(36,147,22)" opacity="0.8"/><circle cx="25.6" cy="14.4" r="0.6" fill="rgb(37,151,22)" opacity="0.7"/><circle cx="29.6" cy="16.5" r="0.7" fill="rgb(32,131,19)" opacity="0.7"/><circle cx="24.9" cy="18.2" r="0.4" fill="rgb(44,177,26)" opacity="0.5"/><circle cx="31.7" cy="28.7" r="0.5" fill="rgb(49,198,29)" opacity="0.6"/><circle cx="33.8" cy="18.8" r="0.7" fill="rgb(41,166,24)" opacity="0.4"/><circle cx="27.1" cy="14.2" r="0.8" fill="rgb(31,126,18)" opacity="0.7"/><circle cx="32.6" cy="27.9" r="0.7" fill="rgb(34,137,20)" opacity="0.8"/><circle cx="33.3" cy="22.0" r="0.5" fill="rgb(29,116,17)" opacity="0.4"/><circle cx="39.8" cy="24.1" r="0.4" fill="rgb(45,183,27)" opacity="0.7"/><circle cx="23.8" cy="12.9" r="0.8" fill="rgb(36,144,21)" opacity="0.6"/><circle cx="33.9" cy="23.5" r="0.7" fill="rgb(31,125,18)" opacity="0.4"/><circle cx="40.9" cy="24.9" r="0.5" fill="rgb(50,200,30)" opacity="0.5"/><circle cx="36.2" cy="25.0" r="0.7" fill="rgb(26,104,15)" opacity="0.3"/><circle cx="40.2" cy="24.0" r="0.7" fill="rgb(33,134,20)" opacity="0.3"/><circle cx="26.6" cy="25.2" r="0.7" fill="rgb(23,94,14)" opacity="0.3"/><circle cx="36.1" cy="29.7" r="0.4" fill="rgb(29,116,17)" opacity="0.9"/><circle cx="24.8" cy="13.3" r="0.6" fill="rgb(34,136,20)" opacity="0.9"/><circle cx="39.4" cy="19.4" r="0.6" fill="rgb(48,194,29)" opacity="0.3"/><circle cx="30.6" cy="16.1" r="0.7" fill="rgb(29,119,17)" opacity="0.4"/><circle cx="31.9" cy="15.1" r="0.4" fill="rgb(48,195,29)" opacity="0.4"/><circle cx="29.4" cy="17.1" r="0.4" fill="rgb(24,97,14)" opacity="0.7"/><circle cx="37.8" cy="17.7" r="0.5" fill="rgb(44,176,26)" opacity="0.9"/><circle cx="28.2" cy="19.6" r="0.7" fill="rgb(36,147,22)" opacity="0.4"/><circle cx="31.7" cy="23.2" r="0.4" fill="rgb(34,136,20)" opacity="0.6"/><circle cx="31.6" cy="18.9" r="0.5" fill="rgb(32,128,19)" opacity="0.6"/><circle cx="26.2" cy="16.8" r="0.4" fill="rgb(38,155,23)" opacity="0.5"/><circle cx="41.5" cy="27.4" r="0.5" fill="rgb(30,123,18)" opacity="0.5"/><circle cx="34.4" cy="16.0" r="0.7" fill="rgb(48,194,29)" opacity="0.4"/><circle cx="27.2" cy="26.2" r="0.6" fill="rgb(43,174,26)" opacity="0.6"/><circle cx="26.6" cy="24.0" r="0.7" fill="rgb(42,169,25)" opacity="0.9"/><circle cx="37.2" cy="16.9" r="0.7" fill="rgb(45,182,27)" opacity="0.3"/><circle cx="23.9" cy="12.7" r="0.7" fill="rgb(44,179,26)" opacity="0.8"/><circle cx="32.5" cy="11.8" r="0.7" fill="rgb(32,131,19)" opacity="0.5"/><circle cx="25.7" cy="22.2" r="0.6" fill="rgb(42,171,25)" opacity="0.6"/><circle cx="41.1" cy="21.7" r="0.5" fill="rgb(33,135,20)" opacity="0.9"/><circle cx="40.8" cy="27.5" r="0.4" fill="rgb(25,102,15)" opacity="0.4"/><circle cx="31.9" cy="18.4" r="0.7" fill="rgb(28,114,17)" opacity="0.3"/><circle cx="32.9" cy="16.2" r="0.5" fill="rgb(34,139,20)" opacity="0.5"/><circle cx="32.8" cy="29.5" r="0.8" fill="rgb(29,118,17)" opacity="0.7"/><circle cx="41.9" cy="23.6" r="0.8" fill="rgb(27,110,16)" opacity="0.4"/><circle cx="39.0" cy="17.5" r="0.5" fill="rgb(32,130,19)" opacity="0.4"/><circle cx="25.3" cy="13.9" r="0.8" fill="rgb(25,102,15)" opacity="0.4"/><circle cx="36.4" cy="29.0" r="0.5" fill="rgb(30,120,18)" opacity="0.5"/><circle cx="36.1" cy="16.2" r="0.5" fill="rgb(31,127,19)" opacity="0.6"/><circle cx="39.7" cy="19.6" r="0.6" fill="rgb(33,133,19)" opacity="0.5"/><circle cx="34.9" cy="29.1" r="0.8" fill="rgb(50,200,30)" opacity="0.4"/><circle cx="23.9" cy="13.7" r="0.7" fill="rgb(48,195,29)" opacity="0.8"/><circle cx="41.7" cy="23.1" r="0.4" fill="rgb(39,159,23)" opacity="0.8"/><circle cx="34.4" cy="29.0" r="0.7" fill="rgb(49,197,29)" opacity="0.7"/><circle cx="31.1" cy="17.9" r="0.8" fill="rgb(34,136,20)" opacity="0.5"/><circle cx="27.2" cy="13.8" r="0.4" fill="rgb(47,189,28)" opacity="0.5"/><circle cx="27.0" cy="23.6" r="0.6" fill="rgb(38,153,22)" opacity="0.5"/><circle cx="15.4" cy="47.5" r="0.8" fill="rgb(47,189,28)" opacity="0.7"/><circle cx="19.9" cy="42.9" r="0.7" fill="rgb(29,119,17)" opacity="0.7"/><circle cx="12.6" cy="47.2" r="0.6" fill="rgb(34,138,20)" opacity="0.6"/><circle cx="31.3" cy="41.3" r="0.6" fill="rgb(31,127,19)" opacity="0.4"/><circle cx="22.4" cy="45.7" r="0.6" fill="rgb(39,158,23)" opacity="0.4"/><circle cx="9.3" cy="46.8" r="0.8" fill="rgb(33,132,19)" opacity="0.5"/><circle cx="17.9" cy="43.3" r="0.4" fill="rgb(37,151,22)" opacity="0.4"/><circle cx="27.2" cy="42.7" r="0.7" fill="rgb(36,147,22)" opacity="0.7"/><circle cx="10.2" cy="48.1" r="0.7" fill="rgb(45,182,27)" opacity="0.8"/><circle cx="27.2" cy="39.5" r="0.6" fill="rgb(42,169,25)" opacity="0.9"/><circle cx="21.0" cy="42.8" r="0.8" fill="rgb(25,103,15)" opacity="0.8"/><circle cx="10.6" cy="46.3" r="0.8" fill="rgb(50,200,30)" opacity="0.6"/><circle cx="23.3" cy="41.1" r="0.6" fill="rgb(35,140,21)" opacity="0.8"/><circle cx="12.5" cy="43.3" r="0.5" fill="rgb(33,135,20)" opacity="0.5"/><circle cx="16.4" cy="44.6" r="0.5" fill="rgb(23,95,14)" opacity="0.7"/><circle cx="16.6" cy="44.0" r="0.8" fill="rgb(36,144,21)" opacity="0.8"/><circle cx="16.1" cy="44.4" r="0.5" fill="rgb(32,130,19)" opacity="0.5"/><circle cx="30.4" cy="41.7" r="0.4" fill="rgb(45,182,27)" opacity="0.5"/><circle cx="22.9" cy="38.5" r="0.4" fill="rgb(29,117,17)" opacity="0.7"/><circle cx="22.0" cy="39.3" r="0.6" fill="rgb(22,91,13)" opacity="0.7"/><circle cx="15.8" cy="48.7" r="0.5" fill="rgb(24,96,14)" opacity="0.4"/><circle cx="18.4" cy="46.0" r="0.7" fill="rgb(28,115,17)" opacity="0.8"/><circle cx="14.4" cy="42.0" r="0.5" fill="rgb(45,180,27)" opacity="0.4"/><circle cx="25.5" cy="45.3" r="0.4" fill="rgb(22,91,13)" opacity="0.7"/><circle cx="27.6" cy="38.4" r="0.5" fill="rgb(34,137,20)" opacity="0.6"/><circle cx="25.2" cy="39.1" r="0.8" fill="rgb(39,157,23)" opacity="0.3"/><circle cx="26.4" cy="45.5" r="0.5" fill="rgb(28,114,17)" opacity="0.4"/><circle cx="26.3" cy="44.2" r="0.6" fill="rgb(26,106,15)" opacity="0.4"/><circle cx="11.4" cy="46.3" r="0.6" fill="rgb(45,182,27)" opacity="0.4"/><circle cx="24.5" cy="41.4" r="0.4" fill="rgb(22,90,13)" opacity="0.4"/><circle cx="28.6" cy="43.4" r="0.6" fill="rgb(29,118,17)" opacity="0.6"/><circle cx="28.4" cy="44.4" r="0.7" fill="rgb(34,138,20)" opacity="0.5"/><circle cx="25.3" cy="39.1" r="0.7" fill="rgb(44,177,26)" opacity="0.6"/><circle cx="19.3" cy="43.3" r="0.5" fill="rgb(28,114,17)" opacity="0.9"/><circle cx="18.5" cy="41.0" r="0.4" fill="rgb(31,126,18)" opacity="0.4"/><circle cx="13.0" cy="42.4" r="0.7" fill="rgb(40,162,24)" opacity="0.6"/><circle cx="24.5" cy="37.8" r="0.8" fill="rgb(24,98,14)" opacity="0.3"/><circle cx="18.1" cy="43.1" r="0.7" fill="rgb(34,136,20)" opacity="0.9"/><circle cx="13.0" cy="44.6" r="0.7" fill="rgb(38,152,22)" opacity="0.6"/><circle cx="14.0" cy="41.7" r="0.5" fill="rgb(30,120,18)" opacity="0.9"/><circle cx="21.0" cy="37.3" r="0.7" fill="rgb(48,195,29)" opacity="0.5"/><circle cx="23.5" cy="45.4" r="0.6" fill="rgb(26,105,15)" opacity="0.3"/><circle cx="19.8" cy="44.8" r="0.4" fill="rgb(32,128,19)" opacity="0.7"/><circle cx="17.9" cy="42.4" r="0.8" fill="rgb(29,117,17)" opacity="0.6"/><circle cx="21.6" cy="37.1" r="0.7" fill="rgb(31,125,18)" opacity="0.8"/><circle cx="22.4" cy="39.2" r="0.4" fill="rgb(48,192,28)" opacity="0.8"/><circle cx="23.8" cy="40.8" r="0.6" fill="rgb(33,132,19)" opacity="0.9"/><circle cx="20.0" cy="37.6" r="0.6" fill="rgb(35,140,21)" opacity="0.5"/><circle cx="22.0" cy="44.7" r="0.8" fill="rgb(29,117,17)" opacity="0.7"/><circle cx="9.0" cy="46.9" r="0.8" fill="rgb(22,91,13)" opacity="0.4"/><circle cx="18.0" cy="47.2" r="0.7" fill="rgb(27,111,16)" opacity="0.5"/><circle cx="20.3" cy="37.7" r="0.5" fill="rgb(34,138,20)" opacity="0.6"/><circle cx="17.0" cy="40.8" r="0.7" fill="rgb(29,119,17)" opacity="0.5"/><circle cx="19.7" cy="40.4" r="0.8" fill="rgb(35,142,21)" opacity="0.7"/><circle cx="24.6" cy="36.9" r="0.4" fill="rgb(37,150,22)" opacity="0.8"/><circle cx="23.9" cy="36.9" r="0.5" fill="rgb(44,178,26)" opacity="0.5"/><circle cx="23.9" cy="41.2" r="0.8" fill="rgb(49,196,29)" opacity="0.3"/><circle cx="27.6" cy="36.9" r="0.7" fill="rgb(26,106,15)" opacity="0.4"/><circle cx="12.1" cy="43.9" r="0.5" fill="rgb(34,136,20)" opacity="0.6"/><circle cx="26.3" cy="41.3" r="0.8" fill="rgb(26,105,15)" opacity="0.4"/><circle cx="51.4" cy="37.3" r="0.6" fill="rgb(28,113,16)" opacity="0.5"/><circle cx="57.7" cy="31.8" r="0.4" fill="rgb(23,94,14)" opacity="0.7"/><circle cx="60.4" cy="27.5" r="0.7" fill="rgb(23,93,13)" opacity="0.8"/><circle cx="46.0" cy="34.3" r="0.4" fill="rgb(31,124,18)" opacity="0.5"/><circle cx="53.0" cy="37.8" r="0.6" fill="rgb(35,141,21)" opacity="0.3"/><circle cx="66.7" cy="31.2" r="0.7" fill="rgb(41,166,24)" opacity="0.9"/><circle cx="47.9" cy="27.1" r="0.4" fill="rgb(48,193,28)" opacity="0.8"/><circle cx="50.3" cy="36.8" r="0.6" fill="rgb(39,157,23)" opacity="0.6"/><circle cx="59.7" cy="35.6" r="0.8" fill="rgb(49,197,29)" opacity="0.4"/><circle cx="52.1" cy="32.0" r="0.7" fill="rgb(38,154,23)" opacity="0.9"/><circle cx="52.2" cy="26.4" r="0.7" fill="rgb(33,135,20)" opacity="0.8"/><circle cx="42.6" cy="34.3" r="0.7" fill="rgb(41,164,24)" opacity="0.4"/><circle cx="56.9" cy="35.7" r="0.6" fill="rgb(30,120,18)" opacity="0.8"/><circle cx="51.2" cy="26.0" r="0.5" fill="rgb(41,166,24)" opacity="0.7"/><circle cx="54.4" cy="37.2" r="0.7" fill="rgb(33,132,19)" opacity="0.5"/><circle cx="64.9" cy="34.9" r="0.4" fill="rgb(38,155,23)" opacity="0.3"/><circle cx="53.0" cy="37.7" r="0.8" fill="rgb(49,199,29)" opacity="0.8"/><circle cx="58.0" cy="34.3" r="0.6" fill="rgb(49,197,29)" opacity="0.6"/><circle cx="60.3" cy="36.1" r="0.8" fill="rgb(42,170,25)" opacity="0.3"/><circle cx="62.7" cy="37.3" r="0.7" fill="rgb(25,101,15)" opacity="0.7"/><circle cx="43.9" cy="34.1" r="0.4" fill="rgb(43,172,25)" opacity="0.9"/><circle cx="67.6" cy="32.0" r="0.5" fill="rgb(48,194,29)" opacity="0.7"/><circle cx="62.5" cy="32.2" r="0.5" fill="rgb(36,146,21)" opacity="0.3"/><circle cx="53.7" cy="37.7" r="0.5" fill="rgb(23,95,14)" opacity="0.3"/><circle cx="62.1" cy="36.3" r="0.4" fill="rgb(44,178,26)" opacity="0.6"/><circle cx="49.5" cy="28.2" r="0.4" fill="rgb(33,133,19)" opacity="0.8"/><circle cx="62.5" cy="30.9" r="0.6" fill="rgb(40,160,24)" opacity="0.9"/><circle cx="57.0" cy="31.1" r="0.5" fill="rgb(23,95,14)" opacity="0.9"/><circle cx="44.5" cy="35.7" r="0.6" fill="rgb(29,117,17)" opacity="0.5"/><circle cx="50.4" cy="29.0" r="0.8" fill="rgb(38,155,23)" opacity="0.8"/><circle cx="44.2" cy="29.7" r="0.4" fill="rgb(29,119,17)" opacity="0.3"/><circle cx="57.5" cy="34.7" r="0.8" fill="rgb(44,178,26)" opacity="0.4"/><circle cx="65.7" cy="35.8" r="0.8" fill="rgb(23,93,13)" opacity="0.6"/><circle cx="46.2" cy="36.2" r="0.6" fill="rgb(30,120,18)" opacity="0.4"/><circle cx="55.5" cy="31.7" r="0.4" fill="rgb(34,137,20)" opacity="0.8"/><circle cx="66.2" cy="36.1" r="0.5" fill="rgb(32,131,19)" opacity="0.6"/><circle cx="57.8" cy="27.3" r="0.7" fill="rgb(47,191,28)" opacity="0.7"/><circle cx="42.6" cy="33.8" r="0.6" fill="rgb(23,93,13)" opacity="0.5"/><circle cx="58.8" cy="37.8" r="0.7" fill="rgb(32,131,19)" opacity="0.8"/><circle cx="43.9" cy="28.5" r="0.4" fill="rgb(26,104,15)" opacity="0.7"/><circle cx="69.0" cy="35.0" r="0.6" fill="rgb(39,157,23)" opacity="0.4"/><circle cx="61.6" cy="28.8" r="0.5" fill="rgb(42,168,25)" opacity="0.8"/><circle cx="59.1" cy="35.3" r="0.8" fill="rgb(26,105,15)" opacity="0.8"/><circle cx="62.3" cy="35.5" r="0.6" fill="rgb(47,191,28)" opacity="0.4"/><circle cx="50.0" cy="27.1" r="0.4" fill="rgb(49,196,29)" opacity="0.7"/><circle cx="67.2" cy="33.6" r="0.5" fill="rgb(33,133,19)" opacity="0.7"/><circle cx="60.5" cy="29.4" r="0.7" fill="rgb(28,114,17)" opacity="0.8"/><circle cx="43.3" cy="29.6" r="0.4" fill="rgb(33,134,20)" opacity="0.7"/><circle cx="49.3" cy="26.8" r="0.5" fill="rgb(35,142,21)" opacity="0.4"/><circle cx="48.4" cy="32.2" r="0.5" fill="rgb(33,132,19)" opacity="0.4"/><circle cx="55.0" cy="36.7" r="0.8" fill="rgb(42,169,25)" opacity="0.7"/><circle cx="67.7" cy="33.8" r="0.6" fill="rgb(48,192,28)" opacity="0.8"/><circle cx="50.6" cy="34.9" r="0.4" fill="rgb(39,157,23)" opacity="0.3"/><circle cx="51.3" cy="35.2" r="0.8" fill="rgb(38,152,22)" opacity="0.7"/><circle cx="46.0" cy="29.2" r="0.6" fill="rgb(39,156,23)" opacity="0.9"/><circle cx="60.2" cy="35.4" r="0.6" fill="rgb(47,191,28)" opacity="0.9"/><circle cx="65.3" cy="33.5" r="0.4" fill="rgb(33,133,19)" opacity="0.3"/><circle cx="56.1" cy="28.3" r="0.5" fill="rgb(38,154,23)" opacity="0.3"/><circle cx="60.9" cy="29.7" r="0.7" fill="rgb(40,162,24)" opacity="0.4"/><circle cx="52.0" cy="35.2" r="0.5" fill="rgb(22,90,13)" opacity="0.9"/><circle cx="51.0" cy="27.8" r="0.7" fill="rgb(24,96,14)" opacity="0.4"/><circle cx="65.2" cy="34.8" r="0.6" fill="rgb(28,114,17)" opacity="0.9"/><circle cx="50.2" cy="28.8" r="0.7" fill="rgb(37,150,22)" opacity="0.3"/><circle cx="53.1" cy="34.9" r="0.4" fill="rgb(42,168,25)" opacity="0.7"/><circle cx="67.5" cy="31.2" r="0.6" fill="rgb(37,148,22)" opacity="0.6"/><circle cx="46.8" cy="30.7" r="0.8" fill="rgb(27,110,16)" opacity="0.5"/><circle cx="58.5" cy="30.8" r="0.4" fill="rgb(43,173,25)" opacity="0.4"/><circle cx="47.0" cy="29.1" r="0.7" fill="rgb(48,195,29)" opacity="0.5"/><circle cx="52.7" cy="26.2" r="0.7" fill="rgb(25,100,15)" opacity="0.5"/><circle cx="48.1" cy="32.1" r="0.4" fill="rgb(31,127,19)" opacity="0.4"/><circle cx="71.8" cy="58.7" r="0.7" fill="rgb(30,123,18)" opacity="0.3"/><circle cx="67.4" cy="53.0" r="0.5" fill="rgb(29,116,17)" opacity="0.6"/><circle cx="71.6" cy="54.9" r="0.5" fill="rgb(48,192,28)" opacity="0.9"/><circle cx="66.7" cy="56.7" r="0.8" fill="rgb(31,124,18)" opacity="0.8"/><circle cx="65.3" cy="60.3" r="0.7" fill="rgb(39,157,23)" opacity="0.8"/><circle cx="70.8" cy="58.0" r="0.5" fill="rgb(39,159,23)" opacity="0.9"/><circle cx="71.5" cy="58.1" r="0.5" fill="rgb(36,147,22)" opacity="0.6"/><circle cx="62.6" cy="53.4" r="0.4" fill="rgb(41,166,24)" opacity="0.7"/><circle cx="64.3" cy="63.6" r="0.6" fill="rgb(31,124,18)" opacity="0.3"/><circle cx="65.3" cy="55.6" r="0.4" fill="rgb(31,127,19)" opacity="0.3"/><circle cx="67.5" cy="60.7" r="0.5" fill="rgb(42,168,25)" opacity="0.4"/><circle cx="70.8" cy="55.5" r="0.7" fill="rgb(29,117,17)" opacity="0.7"/><circle cx="62.4" cy="60.2" r="0.4" fill="rgb(24,97,14)" opacity="0.4"/><circle cx="72.7" cy="59.5" r="0.6" fill="rgb(40,160,24)" opacity="0.9"/><circle cx="69.6" cy="49.7" r="0.8" fill="rgb(38,153,22)" opacity="0.3"/><circle cx="70.1" cy="58.5" r="0.5" fill="rgb(35,142,21)" opacity="0.6"/><circle cx="61.5" cy="58.0" r="0.8" fill="rgb(28,115,17)" opacity="0.6"/><circle cx="68.4" cy="62.0" r="0.4" fill="rgb(49,196,29)" opacity="0.4"/><circle cx="69.8" cy="57.1" r="0.8" fill="rgb(44,176,26)" opacity="0.7"/><circle cx="68.7" cy="61.4" r="0.6" fill="rgb(30,123,18)" opacity="0.9"/><circle cx="70.6" cy="55.0" r="0.5" fill="rgb(35,142,21)" opacity="0.8"/><circle cx="68.1" cy="56.2" r="0.7" fill="rgb(32,128,19)" opacity="0.4"/><circle cx="60.8" cy="57.8" r="0.5" fill="rgb(29,118,17)" opacity="0.4"/><circle cx="64.0" cy="62.6" r="0.7" fill="rgb(35,142,21)" opacity="0.9"/><circle cx="62.5" cy="59.3" r="0.4" fill="rgb(30,123,18)" opacity="0.5"/><circle cx="74.2" cy="62.6" r="0.6" fill="rgb(44,177,26)" opacity="0.6"/><circle cx="67.2" cy="56.2" r="0.8" fill="rgb(48,194,29)" opacity="0.5"/><circle cx="71.3" cy="57.9" r="0.8" fill="rgb(34,136,20)" opacity="0.5"/><circle cx="67.4" cy="54.1" r="0.7" fill="rgb(33,135,20)" opacity="0.3"/><circle cx="62.9" cy="63.9" r="0.7" fill="rgb(38,153,22)" opacity="0.6"/><circle cx="70.7" cy="61.1" r="0.5" fill="rgb(30,122,18)" opacity="0.5"/><circle cx="63.7" cy="58.6" r="0.6" fill="rgb(28,115,17)" opacity="0.5"/><circle cx="63.3" cy="61.9" r="0.5" fill="rgb(24,96,14)" opacity="0.5"/><circle cx="69.0" cy="56.8" r="0.4" fill="rgb(49,199,29)" opacity="0.7"/><circle cx="71.5" cy="52.1" r="0.6" fill="rgb(44,176,26)" opacity="0.4"/><circle cx="61.2" cy="58.6" r="0.5" fill="rgb(36,144,21)" opacity="0.8"/><circle cx="61.9" cy="61.8" r="0.4" fill="rgb(27,109,16)" opacity="0.9"/><circle cx="59.9" cy="59.9" r="0.4" fill="rgb(25,101,15)" opacity="0.4"/><circle cx="64.5" cy="61.4" r="0.4" fill="rgb(29,118,17)" opacity="0.9"/><circle cx="71.4" cy="53.5" r="0.5" fill="rgb(34,136,20)" opacity="0.9"/><circle cx="72.9" cy="53.9" r="0.6" fill="rgb(46,184,27)" opacity="0.3"/><circle cx="63.4" cy="59.1" r="0.4" fill="rgb(30,121,18)" opacity="0.3"/><circle cx="75.0" cy="54.0" r="0.4" fill="rgb(41,166,24)" opacity="0.7"/><circle cx="69.6" cy="54.9" r="0.8" fill="rgb(23,93,13)" opacity="0.3"/><circle cx="71.1" cy="58.3" r="0.4" fill="rgb(27,109,16)" opacity="0.5"/><circle cx="62.4" cy="63.6" r="0.4" fill="rgb(45,180,27)" opacity="0.8"/><circle cx="60.2" cy="55.4" r="0.5" fill="rgb(27,111,16)" opacity="0.8"/><circle cx="69.2" cy="62.8" r="0.5" fill="rgb(28,115,17)" opacity="0.3"/><circle cx="70.3" cy="52.8" r="0.7" fill="rgb(40,161,24)" opacity="0.5"/><circle cx="73.8" cy="52.4" r="0.4" fill="rgb(24,96,14)" opacity="0.6"/></g><ellipse cx="31.20" cy="34.00" rx="5.2" ry="5.0" transform="rotate(0 31.20 34.00)" fill="#203ee6" opacity="1" filter="url(#b05)"/><g filter="url(#b04)"><circle cx="34.1" cy="35.9" r="0.5" fill="#0c1c90" opacity="0.3"/><circle cx="31.1" cy="37.2" r="0.6" fill="#0c1c90" opacity="0.3"/><circle cx="34.4" cy="32.5" r="0.8" fill="#0c1c90" opacity="0.4"/><circle cx="32.2" cy="36.5" r="0.8" fill="#0c1c90" opacity="0.2"/><circle cx="29.6" cy="33.8" r="0.6" fill="#0c1c90" opacity="0.4"/><circle cx="35.3" cy="33.9" r="0.9" fill="#0c1c90" opacity="0.2"/><circle cx="32.1" cy="32.2" r="0.9" fill="#0c1c90" opacity="0.3"/><circle cx="30.9" cy="32.3" r="0.9" fill="#0c1c90" opacity="0.4"/><circle cx="34.6" cy="34.4" r="0.8" fill="#0c1c90" opacity="0.4"/></g><ellipse cx="39.60" cy="33.40" rx="5.3" ry="4.8" transform="rotate(0 39.60 33.40)" fill="#203ee6" opacity="1" filter="url(#b05)"/><g filter="url(#b04)"><circle cx="38.0" cy="30.4" r="0.6" fill="#0c1c90" opacity="0.5"/><circle cx="39.3" cy="35.2" r="0.9" fill="#0c1c90" opacity="0.2"/><circle cx="43.4" cy="34.3" r="0.7" fill="#0c1c90" opacity="0.4"/><circle cx="36.5" cy="33.0" r="0.6" fill="#0c1c90" opacity="0.4"/><circle cx="40.3" cy="31.7" r="0.6" fill="#0c1c90" opacity="0.2"/><circle cx="37.7" cy="33.1" r="0.6" fill="#0c1c90" opacity="0.5"/><circle cx="41.0" cy="31.7" r="1.0" fill="#0c1c90" opacity="0.3"/><circle cx="37.6" cy="33.0" r="0.7" fill="#0c1c90" opacity="0.5"/></g><ellipse cx="35.40" cy="37.20" rx="5.0" ry="3.2" transform="rotate(0 35.40 37.20)" fill="#203ee6" opacity="1" filter="url(#b05)"/><g filter="url(#b04)"><circle cx="36.4" cy="37.3" r="0.9" fill="#0c1c90" opacity="0.4"/><circle cx="31.5" cy="37.7" r="1.0" fill="#0c1c90" opacity="0.3"/><circle cx="33.5" cy="37.8" r="0.7" fill="#0c1c90" opacity="0.4"/><circle cx="35.3" cy="38.5" r="0.8" fill="#0c1c90" opacity="0.5"/><circle cx="33.5" cy="37.9" r="0.8" fill="#0c1c90" opacity="0.3"/></g></g></g><g transform="translate(111.0,292.8)"><g clip-path="url(#k8)"><g filter="url(#b03)"><circle cx="33.3" cy="21.5" r="0.6" fill="rgb(128,10,10)" opacity="0.9"/><circle cx="31.7" cy="18.9" r="0.8" fill="rgb(116,9,9)" opacity="0.9"/><circle cx="31.6" cy="12.9" r="0.6" fill="rgb(188,15,15)" opacity="0.5"/><circle cx="27.6" cy="24.8" r="0.4" fill="rgb(178,14,14)" opacity="0.7"/><circle cx="32.0" cy="15.3" r="0.4" fill="rgb(149,11,11)" opacity="0.4"/><circle cx="34.9" cy="20.0" r="0.6" fill="rgb(135,10,10)" opacity="0.9"/><circle cx="35.3" cy="13.5" r="0.5" fill="rgb(125,10,10)" opacity="0.9"/><circle cx="30.9" cy="15.4" r="0.4" fill="rgb(136,10,10)" opacity="0.7"/><circle cx="33.8" cy="28.7" r="0.5" fill="rgb(140,11,11)" opacity="0.8"/><circle cx="30.2" cy="25.6" r="0.8" fill="rgb(117,9,9)" opacity="0.6"/><circle cx="29.2" cy="25.6" r="0.5" fill="rgb(125,10,10)" opacity="0.4"/><circle cx="28.2" cy="24.9" r="0.6" fill="rgb(110,8,8)" opacity="0.5"/><circle cx="26.8" cy="20.5" r="0.8" fill="rgb(131,10,10)" opacity="0.6"/><circle cx="26.7" cy="14.5" r="0.5" fill="rgb(176,14,14)" opacity="0.3"/><circle cx="36.7" cy="18.7" r="0.5" fill="rgb(181,14,14)" opacity="0.8"/><circle cx="36.8" cy="24.4" r="0.6" fill="rgb(200,16,16)" opacity="0.5"/><circle cx="39.4" cy="21.3" r="0.4" fill="rgb(147,11,11)" opacity="0.7"/><circle cx="24.7" cy="17.9" r="0.7" fill="rgb(189,15,15)" opacity="0.8"/><circle cx="30.6" cy="12.8" r="0.5" fill="rgb(126,10,10)" opacity="0.3"/><circle cx="36.7" cy="19.7" r="0.4" fill="rgb(171,13,13)" opacity="0.3"/><circle cx="29.3" cy="23.1" r="0.6" fill="rgb(187,14,14)" opacity="0.3"/><circle cx="31.4" cy="26.9" r="0.7" fill="rgb(117,9,9)" opacity="0.9"/><circle cx="41.5" cy="20.8" r="0.8" fill="rgb(149,11,11)" opacity="0.7"/><circle cx="29.7" cy="23.6" r="0.8" fill="rgb(124,9,9)" opacity="0.4"/><circle cx="33.3" cy="19.3" r="0.8" fill="rgb(181,14,14)" opacity="0.4"/><circle cx="29.5" cy="15.7" r="0.4" fill="rgb(111,8,8)" opacity="0.3"/><circle cx="40.6" cy="21.4" r="0.4" fill="rgb(186,14,14)" opacity="0.5"/><circle cx="35.1" cy="15.4" r="0.8" fill="rgb(192,15,15)" opacity="0.5"/><circle cx="31.3" cy="26.8" r="0.7" fill="rgb(181,14,14)" opacity="0.8"/><circle cx="23.8" cy="12.7" r="0.8" fill="rgb(163,13,13)" opacity="0.8"/><circle cx="27.3" cy="14.2" r="0.7" fill="rgb(139,11,11)" opacity="0.9"/><circle cx="25.3" cy="13.1" r="0.6" fill="rgb(176,14,14)" opacity="0.4"/><circle cx="40.8" cy="25.0" r="0.5" fill="rgb(163,13,13)" opacity="0.5"/><circle cx="27.4" cy="17.0" r="0.6" fill="rgb(155,12,12)" opacity="0.6"/><circle cx="28.1" cy="21.5" r="0.8" fill="rgb(159,12,12)" opacity="0.3"/><circle cx="29.5" cy="17.2" r="0.8" fill="rgb(110,8,8)" opacity="0.6"/><circle cx="32.9" cy="28.8" r="0.7" fill="rgb(182,14,14)" opacity="0.3"/><circle cx="29.6" cy="11.3" r="0.4" fill="rgb(120,9,9)" opacity="0.6"/><circle cx="28.0" cy="27.1" r="0.8" fill="rgb(189,15,15)" opacity="0.4"/><circle cx="41.6" cy="19.4" r="0.4" fill="rgb(161,12,12)" opacity="0.4"/><circle cx="35.1" cy="26.2" r="0.8" fill="rgb(164,13,13)" opacity="0.6"/><circle cx="38.4" cy="24.1" r="0.6" fill="rgb(137,10,10)" opacity="0.3"/><circle cx="34.2" cy="12.8" r="0.8" fill="rgb(114,9,9)" opacity="0.8"/><circle cx="35.6" cy="25.3" r="0.5" fill="rgb(138,11,11)" opacity="0.5"/><circle cx="27.2" cy="18.3" r="0.5" fill="rgb(163,13,13)" opacity="0.6"/><circle cx="40.5" cy="19.1" r="0.4" fill="rgb(113,9,9)" opacity="0.7"/><circle cx="42.3" cy="23.1" r="0.8" fill="rgb(170,13,13)" opacity="0.5"/><circle cx="34.8" cy="25.0" r="0.7" fill="rgb(155,12,12)" opacity="0.9"/><circle cx="37.5" cy="28.8" r="0.8" fill="rgb(124,9,9)" opacity="0.4"/><circle cx="35.5" cy="23.5" r="0.8" fill="rgb(172,13,13)" opacity="0.8"/><circle cx="30.5" cy="11.9" r="0.7" fill="rgb(153,12,12)" opacity="0.8"/><circle cx="24.5" cy="15.4" r="0.7" fill="rgb(188,15,15)" opacity="0.4"/><circle cx="26.2" cy="24.9" r="0.8" fill="rgb(138,11,11)" opacity="0.9"/><circle cx="37.1" cy="24.9" r="0.7" fill="rgb(140,11,11)" opacity="0.3"/><circle cx="32.0" cy="20.5" r="0.6" fill="rgb(155,12,12)" opacity="0.9"/><circle cx="26.9" cy="24.5" r="0.6" fill="rgb(199,15,15)" opacity="0.6"/><circle cx="33.4" cy="16.4" r="0.5" fill="rgb(180,14,14)" opacity="0.5"/><circle cx="27.7" cy="23.7" r="0.7" fill="rgb(189,15,15)" opacity="0.3"/><circle cx="31.7" cy="24.7" r="0.8" fill="rgb(112,8,8)" opacity="0.8"/><circle cx="33.0" cy="29.0" r="0.7" fill="rgb(182,14,14)" opacity="0.7"/><circle cx="30.9" cy="15.6" r="0.6" fill="rgb(143,11,11)" opacity="0.7"/><circle cx="28.3" cy="17.1" r="0.8" fill="rgb(197,15,15)" opacity="0.3"/><circle cx="25.9" cy="24.1" r="0.6" fill="rgb(150,12,12)" opacity="0.5"/><circle cx="26.8" cy="16.6" r="0.5" fill="rgb(133,10,10)" opacity="0.9"/><circle cx="23.0" cy="14.7" r="0.5" fill="rgb(148,11,11)" opacity="0.7"/><circle cx="32.7" cy="16.1" r="0.5" fill="rgb(127,10,10)" opacity="0.8"/><circle cx="32.9" cy="22.5" r="0.6" fill="rgb(145,11,11)" opacity="0.8"/><circle cx="34.0" cy="18.8" r="0.6" fill="rgb(175,14,14)" opacity="0.4"/><circle cx="30.3" cy="16.2" r="0.7" fill="rgb(145,11,11)" opacity="0.5"/><circle cx="38.0" cy="15.4" r="0.4" fill="rgb(151,12,12)" opacity="0.7"/><circle cx="36.6" cy="25.0" r="0.7" fill="rgb(189,15,15)" opacity="0.4"/><circle cx="25.5" cy="14.4" r="0.8" fill="rgb(131,10,10)" opacity="0.8"/><circle cx="37.5" cy="27.1" r="0.8" fill="rgb(149,11,11)" opacity="0.4"/><circle cx="33.9" cy="12.7" r="0.5" fill="rgb(130,10,10)" opacity="0.8"/><circle cx="36.7" cy="23.4" r="0.5" fill="rgb(182,14,14)" opacity="0.4"/><circle cx="33.1" cy="13.4" r="0.5" fill="rgb(191,15,15)" opacity="0.5"/><circle cx="33.1" cy="27.4" r="0.4" fill="rgb(196,15,15)" opacity="0.8"/><circle cx="27.3" cy="17.0" r="0.7" fill="rgb(128,10,10)" opacity="0.7"/><circle cx="34.6" cy="24.2" r="0.8" fill="rgb(117,9,9)" opacity="0.6"/><circle cx="39.3" cy="16.4" r="0.7" fill="rgb(111,8,8)" opacity="0.7"/><circle cx="32.5" cy="40.0" r="0.6" fill="rgb(199,15,15)" opacity="0.3"/><circle cx="22.9" cy="38.8" r="0.8" fill="rgb(181,14,14)" opacity="0.7"/><circle cx="11.3" cy="44.3" r="0.8" fill="rgb(188,15,15)" opacity="0.4"/><circle cx="14.2" cy="45.7" r="0.6" fill="rgb(176,14,14)" opacity="0.4"/><circle cx="8.0" cy="47.5" r="0.7" fill="rgb(119,9,9)" opacity="0.3"/><circle cx="18.7" cy="44.8" r="0.4" fill="rgb(185,14,14)" opacity="0.5"/><circle cx="15.0" cy="47.5" r="0.5" fill="rgb(145,11,11)" opacity="0.8"/><circle cx="22.9" cy="39.8" r="0.5" fill="rgb(179,14,14)" opacity="0.4"/><circle cx="21.8" cy="46.9" r="0.6" fill="rgb(148,11,11)" opacity="0.5"/><circle cx="17.8" cy="46.6" r="0.8" fill="rgb(133,10,10)" opacity="0.8"/><circle cx="29.4" cy="41.5" r="0.8" fill="rgb(161,12,12)" opacity="0.4"/><circle cx="17.3" cy="39.2" r="0.5" fill="rgb(160,12,12)" opacity="0.6"/><circle cx="30.8" cy="38.7" r="0.6" fill="rgb(152,12,12)" opacity="0.9"/><circle cx="25.4" cy="40.4" r="0.8" fill="rgb(159,12,12)" opacity="0.6"/><circle cx="17.6" cy="42.7" r="0.7" fill="rgb(170,13,13)" opacity="0.6"/><circle cx="29.1" cy="37.7" r="0.4" fill="rgb(113,9,9)" opacity="0.6"/><circle cx="17.3" cy="48.5" r="0.5" fill="rgb(177,14,14)" opacity="0.5"/><circle cx="17.2" cy="39.1" r="0.8" fill="rgb(117,9,9)" opacity="0.5"/><circle cx="19.9" cy="46.2" r="0.8" fill="rgb(172,13,13)" opacity="0.4"/><circle cx="12.4" cy="47.5" r="0.8" fill="rgb(185,14,14)" opacity="0.3"/><circle cx="24.7" cy="37.5" r="0.5" fill="rgb(119,9,9)" opacity="0.3"/><circle cx="17.6" cy="38.6" r="0.8" fill="rgb(145,11,11)" opacity="0.6"/><circle cx="18.3" cy="42.6" r="0.5" fill="rgb(130,10,10)" opacity="0.4"/><circle cx="24.2" cy="37.5" r="0.7" fill="rgb(129,10,10)" opacity="0.4"/><circle cx="8.7" cy="46.5" r="0.7" fill="rgb(168,13,13)" opacity="0.8"/><circle cx="22.5" cy="43.0" r="0.6" fill="rgb(166,13,13)" opacity="0.3"/><circle cx="21.8" cy="41.0" r="0.7" fill="rgb(124,9,9)" opacity="0.7"/><circle cx="16.0" cy="45.6" r="0.8" fill="rgb(120,9,9)" opacity="0.6"/><circle cx="22.4" cy="40.2" r="0.8" fill="rgb(161,12,12)" opacity="0.7"/><circle cx="15.4" cy="48.1" r="0.8" fill="rgb(134,10,10)" opacity="0.9"/><circle cx="26.1" cy="43.0" r="0.8" fill="rgb(130,10,10)" opacity="0.7"/><circle cx="24.0" cy="44.0" r="0.6" fill="rgb(112,8,8)" opacity="0.7"/><circle cx="24.8" cy="40.1" r="0.8" fill="rgb(162,12,12)" opacity="0.5"/><circle cx="26.9" cy="39.9" r="0.4" fill="rgb(115,9,9)" opacity="0.5"/><circle cx="22.6" cy="41.5" r="0.5" fill="rgb(187,14,14)" opacity="0.9"/><circle cx="21.7" cy="38.4" r="0.4" fill="rgb(189,15,15)" opacity="0.3"/><circle cx="20.7" cy="38.9" r="0.4" fill="rgb(146,11,11)" opacity="0.3"/><circle cx="16.8" cy="48.6" r="0.7" fill="rgb(173,13,13)" opacity="0.7"/><circle cx="14.0" cy="47.2" r="0.5" fill="rgb(156,12,12)" opacity="0.7"/><circle cx="21.8" cy="45.0" r="0.8" fill="rgb(168,13,13)" opacity="0.3"/><circle cx="25.5" cy="44.8" r="0.5" fill="rgb(142,11,11)" opacity="0.4"/><circle cx="16.7" cy="48.2" r="0.7" fill="rgb(116,9,9)" opacity="0.7"/><circle cx="22.0" cy="42.7" r="0.7" fill="rgb(139,11,11)" opacity="0.5"/><circle cx="25.7" cy="44.6" r="0.5" fill="rgb(118,9,9)" opacity="0.8"/><circle cx="23.1" cy="41.8" r="0.7" fill="rgb(189,15,15)" opacity="0.9"/><circle cx="23.4" cy="41.4" r="0.8" fill="rgb(135,10,10)" opacity="0.7"/><circle cx="27.5" cy="38.9" r="0.8" fill="rgb(173,13,13)" opacity="0.7"/><circle cx="29.8" cy="38.0" r="0.5" fill="rgb(150,12,12)" opacity="0.8"/><circle cx="13.1" cy="45.1" r="0.7" fill="rgb(154,12,12)" opacity="0.6"/><circle cx="13.5" cy="44.7" r="0.7" fill="rgb(156,12,12)" opacity="0.8"/><circle cx="17.8" cy="48.2" r="0.7" fill="rgb(110,8,8)" opacity="0.4"/><circle cx="25.7" cy="45.2" r="0.4" fill="rgb(143,11,11)" opacity="0.4"/><circle cx="20.7" cy="42.6" r="0.8" fill="rgb(144,11,11)" opacity="0.8"/><circle cx="16.6" cy="47.3" r="0.8" fill="rgb(133,10,10)" opacity="0.8"/><circle cx="27.6" cy="41.2" r="0.7" fill="rgb(165,13,13)" opacity="0.6"/><circle cx="15.0" cy="48.6" r="0.5" fill="rgb(152,12,12)" opacity="0.7"/><circle cx="23.2" cy="44.8" r="0.4" fill="rgb(166,13,13)" opacity="0.8"/><circle cx="23.7" cy="38.5" r="0.7" fill="rgb(168,13,13)" opacity="0.3"/><circle cx="28.5" cy="44.7" r="0.7" fill="rgb(150,12,12)" opacity="0.4"/><circle cx="28.2" cy="44.3" r="0.6" fill="rgb(115,9,9)" opacity="0.3"/><circle cx="59.3" cy="34.8" r="0.7" fill="rgb(151,12,12)" opacity="0.7"/><circle cx="54.0" cy="36.2" r="0.7" fill="rgb(142,11,11)" opacity="0.7"/><circle cx="63.3" cy="30.6" r="0.7" fill="rgb(168,13,13)" opacity="0.8"/><circle cx="47.2" cy="31.5" r="0.4" fill="rgb(194,15,15)" opacity="0.7"/><circle cx="51.5" cy="30.1" r="0.5" fill="rgb(162,12,12)" opacity="0.6"/><circle cx="53.5" cy="35.9" r="0.4" fill="rgb(135,10,10)" opacity="0.9"/><circle cx="61.8" cy="27.7" r="0.4" fill="rgb(179,14,14)" opacity="0.5"/><circle cx="49.0" cy="27.9" r="0.7" fill="rgb(139,11,11)" opacity="0.6"/><circle cx="46.6" cy="29.3" r="0.4" fill="rgb(121,9,9)" opacity="0.6"/><circle cx="64.7" cy="34.4" r="0.7" fill="rgb(178,14,14)" opacity="0.7"/><circle cx="44.2" cy="28.5" r="0.6" fill="rgb(170,13,13)" opacity="0.7"/><circle cx="54.6" cy="27.2" r="0.4" fill="rgb(157,12,12)" opacity="0.7"/><circle cx="45.9" cy="33.1" r="0.7" fill="rgb(150,12,12)" opacity="0.4"/><circle cx="58.6" cy="35.7" r="0.5" fill="rgb(161,12,12)" opacity="0.5"/><circle cx="46.6" cy="31.8" r="0.8" fill="rgb(121,9,9)" opacity="0.4"/><circle cx="62.3" cy="34.0" r="0.4" fill="rgb(191,15,15)" opacity="0.3"/><circle cx="58.4" cy="34.5" r="0.8" fill="rgb(191,15,15)" opacity="0.4"/><circle cx="51.1" cy="28.9" r="0.8" fill="rgb(157,12,12)" opacity="0.6"/><circle cx="59.7" cy="33.5" r="0.5" fill="rgb(155,12,12)" opacity="0.4"/><circle cx="49.5" cy="32.5" r="0.8" fill="rgb(155,12,12)" opacity="0.9"/><circle cx="50.6" cy="30.9" r="0.4" fill="rgb(130,10,10)" opacity="0.6"/><circle cx="53.0" cy="30.5" r="0.4" fill="rgb(195,15,15)" opacity="0.4"/><circle cx="52.0" cy="28.8" r="0.8" fill="rgb(125,10,10)" opacity="0.8"/><circle cx="47.3" cy="27.5" r="0.8" fill="rgb(196,15,15)" opacity="0.4"/><circle cx="47.3" cy="36.5" r="0.7" fill="rgb(147,11,11)" opacity="0.4"/><circle cx="57.0" cy="34.6" r="0.4" fill="rgb(175,14,14)" opacity="0.3"/><circle cx="54.9" cy="37.8" r="0.7" fill="rgb(153,12,12)" opacity="0.8"/><circle cx="49.0" cy="35.6" r="0.8" fill="rgb(140,11,11)" opacity="0.8"/><circle cx="42.7" cy="29.5" r="0.6" fill="rgb(111,8,8)" opacity="0.4"/><circle cx="57.4" cy="35.8" r="0.8" fill="rgb(161,12,12)" opacity="0.3"/><circle cx="46.9" cy="32.6" r="0.6" fill="rgb(127,10,10)" opacity="0.8"/><circle cx="60.0" cy="37.4" r="0.5" fill="rgb(113,9,9)" opacity="0.6"/><circle cx="58.8" cy="32.9" r="0.5" fill="rgb(164,13,13)" opacity="0.9"/><circle cx="66.7" cy="34.8" r="0.5" fill="rgb(175,14,14)" opacity="0.5"/><circle cx="51.9" cy="32.0" r="0.8" fill="rgb(182,14,14)" opacity="0.4"/><circle cx="58.9" cy="37.6" r="0.7" fill="rgb(170,13,13)" opacity="0.6"/><circle cx="63.4" cy="34.6" r="0.5" fill="rgb(192,15,15)" opacity="0.3"/><circle cx="51.8" cy="37.5" r="0.4" fill="rgb(124,9,9)" opacity="0.3"/><circle cx="47.0" cy="37.0" r="0.4" fill="rgb(112,8,8)" opacity="0.7"/><circle cx="50.9" cy="37.5" r="0.5" fill="rgb(120,9,9)" opacity="0.5"/><circle cx="43.4" cy="29.3" r="0.4" fill="rgb(133,10,10)" opacity="0.4"/><circle cx="61.5" cy="30.0" r="0.4" fill="rgb(191,15,15)" opacity="0.4"/><circle cx="49.7" cy="32.4" r="0.7" fill="rgb(120,9,9)" opacity="0.9"/><circle cx="66.3" cy="32.8" r="0.4" fill="rgb(139,11,11)" opacity="0.8"/><circle cx="43.3" cy="29.0" r="0.8" fill="rgb(127,10,10)" opacity="0.4"/><circle cx="67.9" cy="31.8" r="0.4" fill="rgb(156,12,12)" opacity="0.9"/><circle cx="66.7" cy="30.4" r="0.8" fill="rgb(182,14,14)" opacity="0.6"/><circle cx="60.6" cy="29.3" r="0.7" fill="rgb(168,13,13)" opacity="0.4"/><circle cx="45.6" cy="28.5" r="0.4" fill="rgb(126,10,10)" opacity="0.5"/><circle cx="60.2" cy="33.5" r="0.6" fill="rgb(164,13,13)" opacity="0.9"/><circle cx="66.3" cy="33.8" r="0.4" fill="rgb(119,9,9)" opacity="0.6"/><circle cx="44.2" cy="31.7" r="0.5" fill="rgb(140,11,11)" opacity="0.6"/><circle cx="53.2" cy="35.6" r="0.8" fill="rgb(118,9,9)" opacity="0.7"/><circle cx="51.0" cy="26.2" r="0.6" fill="rgb(158,12,12)" opacity="0.5"/><circle cx="65.1" cy="34.4" r="0.6" fill="rgb(150,12,12)" opacity="0.6"/><circle cx="59.1" cy="34.6" r="0.6" fill="rgb(143,11,11)" opacity="0.8"/><circle cx="62.0" cy="35.9" r="0.8" fill="rgb(151,12,12)" opacity="0.7"/><circle cx="49.4" cy="27.8" r="0.6" fill="rgb(144,11,11)" opacity="0.8"/><circle cx="54.5" cy="35.4" r="0.7" fill="rgb(146,11,11)" opacity="0.9"/><circle cx="46.3" cy="30.4" r="0.5" fill="rgb(160,12,12)" opacity="0.8"/><circle cx="51.3" cy="27.2" r="0.7" fill="rgb(182,14,14)" opacity="0.7"/><circle cx="44.8" cy="32.9" r="0.5" fill="rgb(132,10,10)" opacity="0.6"/><circle cx="49.4" cy="33.1" r="0.8" fill="rgb(116,9,9)" opacity="0.9"/><circle cx="46.4" cy="27.9" r="0.8" fill="rgb(180,14,14)" opacity="0.5"/><circle cx="56.1" cy="36.6" r="0.8" fill="rgb(120,9,9)" opacity="0.4"/><circle cx="45.8" cy="30.4" r="0.4" fill="rgb(126,10,10)" opacity="0.5"/><circle cx="46.9" cy="29.4" r="0.6" fill="rgb(190,15,15)" opacity="0.6"/><circle cx="61.3" cy="28.1" r="0.5" fill="rgb(167,13,13)" opacity="0.5"/><circle cx="57.2" cy="27.1" r="0.5" fill="rgb(154,12,12)" opacity="0.3"/><circle cx="53.7" cy="31.8" r="0.6" fill="rgb(150,12,12)" opacity="0.3"/><circle cx="68.4" cy="60.9" r="0.4" fill="rgb(132,10,10)" opacity="0.9"/><circle cx="74.1" cy="57.8" r="0.4" fill="rgb(170,13,13)" opacity="0.9"/><circle cx="66.0" cy="56.7" r="0.8" fill="rgb(126,10,10)" opacity="0.3"/><circle cx="62.1" cy="56.5" r="0.4" fill="rgb(163,13,13)" opacity="0.9"/><circle cx="63.7" cy="52.8" r="0.8" fill="rgb(134,10,10)" opacity="0.6"/><circle cx="59.6" cy="58.3" r="0.7" fill="rgb(170,13,13)" opacity="0.9"/><circle cx="64.0" cy="57.9" r="0.6" fill="rgb(132,10,10)" opacity="0.5"/><circle cx="63.8" cy="54.9" r="0.7" fill="rgb(181,14,14)" opacity="0.8"/><circle cx="70.8" cy="55.7" r="0.7" fill="rgb(142,11,11)" opacity="0.7"/><circle cx="69.8" cy="49.7" r="0.5" fill="rgb(163,13,13)" opacity="0.9"/><circle cx="62.8" cy="62.5" r="0.4" fill="rgb(199,15,15)" opacity="0.7"/><circle cx="64.9" cy="55.1" r="0.4" fill="rgb(167,13,13)" opacity="0.3"/><circle cx="72.4" cy="61.1" r="0.5" fill="rgb(180,14,14)" opacity="0.9"/><circle cx="61.2" cy="63.7" r="0.4" fill="rgb(200,16,16)" opacity="0.6"/><circle cx="68.9" cy="51.8" r="0.5" fill="rgb(155,12,12)" opacity="0.6"/><circle cx="62.0" cy="61.0" r="0.5" fill="rgb(172,13,13)" opacity="0.6"/><circle cx="67.0" cy="58.5" r="0.8" fill="rgb(138,11,11)" opacity="0.3"/><circle cx="65.7" cy="57.2" r="0.4" fill="rgb(118,9,9)" opacity="0.9"/><circle cx="70.8" cy="62.4" r="0.8" fill="rgb(200,16,16)" opacity="0.4"/><circle cx="65.9" cy="62.5" r="0.8" fill="rgb(123,9,9)" opacity="0.7"/><circle cx="66.1" cy="62.2" r="0.8" fill="rgb(172,13,13)" opacity="0.9"/><circle cx="72.0" cy="63.0" r="0.5" fill="rgb(125,10,10)" opacity="0.5"/><circle cx="65.0" cy="57.9" r="0.5" fill="rgb(175,14,14)" opacity="0.3"/><circle cx="59.7" cy="57.9" r="0.7" fill="rgb(195,15,15)" opacity="0.4"/><circle cx="66.0" cy="55.0" r="0.8" fill="rgb(196,15,15)" opacity="0.9"/><circle cx="64.6" cy="52.1" r="0.6" fill="rgb(113,9,9)" opacity="0.7"/><circle cx="68.8" cy="54.9" r="0.8" fill="rgb(150,12,12)" opacity="0.7"/><circle cx="69.2" cy="59.2" r="0.5" fill="rgb(181,14,14)" opacity="0.3"/><circle cx="72.5" cy="62.6" r="0.8" fill="rgb(157,12,12)" opacity="0.5"/><circle cx="69.5" cy="50.1" r="0.5" fill="rgb(178,14,14)" opacity="0.7"/><circle cx="72.1" cy="52.8" r="0.8" fill="rgb(151,12,12)" opacity="0.3"/><circle cx="73.2" cy="62.5" r="0.4" fill="rgb(180,14,14)" opacity="0.9"/><circle cx="73.4" cy="60.5" r="0.7" fill="rgb(121,9,9)" opacity="0.7"/><circle cx="67.5" cy="59.4" r="0.5" fill="rgb(122,9,9)" opacity="0.3"/><circle cx="66.9" cy="58.1" r="0.7" fill="rgb(187,14,14)" opacity="0.5"/><circle cx="71.2" cy="61.7" r="0.6" fill="rgb(131,10,10)" opacity="0.5"/><circle cx="72.3" cy="61.7" r="0.5" fill="rgb(171,13,13)" opacity="0.6"/><circle cx="68.7" cy="61.7" r="0.7" fill="rgb(192,15,15)" opacity="0.6"/><circle cx="60.5" cy="59.8" r="0.7" fill="rgb(130,10,10)" opacity="0.8"/><circle cx="65.1" cy="54.4" r="0.8" fill="rgb(157,12,12)" opacity="0.3"/><circle cx="74.5" cy="64.0" r="0.7" fill="rgb(110,8,8)" opacity="0.9"/><circle cx="64.7" cy="55.4" r="0.4" fill="rgb(169,13,13)" opacity="0.6"/><circle cx="72.5" cy="58.1" r="0.4" fill="rgb(175,14,14)" opacity="0.5"/><circle cx="72.7" cy="62.9" r="0.7" fill="rgb(145,11,11)" opacity="0.7"/><circle cx="68.3" cy="54.5" r="0.7" fill="rgb(195,15,15)" opacity="0.4"/><circle cx="62.3" cy="55.0" r="0.4" fill="rgb(176,14,14)" opacity="0.4"/><circle cx="70.9" cy="51.2" r="0.4" fill="rgb(165,13,13)" opacity="0.6"/><circle cx="72.5" cy="62.7" r="0.8" fill="rgb(160,12,12)" opacity="0.3"/><circle cx="70.9" cy="52.0" r="0.7" fill="rgb(157,12,12)" opacity="0.5"/><circle cx="67.4" cy="61.2" r="0.4" fill="rgb(199,15,15)" opacity="0.3"/></g><ellipse cx="31.20" cy="34.00" rx="5.2" ry="5.0" transform="rotate(0 31.20 34.00)" fill="#203ee6" opacity="1" filter="url(#b05)"/><g filter="url(#b04)"><circle cx="32.3" cy="37.1" r="0.7" fill="#0c1c90" opacity="0.2"/><circle cx="32.3" cy="32.5" r="0.6" fill="#0c1c90" opacity="0.5"/><circle cx="28.9" cy="36.3" r="1.0" fill="#0c1c90" opacity="0.4"/><circle cx="27.9" cy="31.6" r="0.8" fill="#0c1c90" opacity="0.3"/><circle cx="32.5" cy="35.6" r="0.6" fill="#0c1c90" opacity="0.3"/><circle cx="30.9" cy="32.1" r="1.0" fill="#0c1c90" opacity="0.2"/><circle cx="34.2" cy="35.0" r="0.7" fill="#0c1c90" opacity="0.4"/><circle cx="33.2" cy="33.0" r="0.8" fill="#0c1c90" opacity="0.4"/><circle cx="27.6" cy="34.8" r="1.0" fill="#0c1c90" opacity="0.4"/></g><ellipse cx="39.60" cy="33.40" rx="5.3" ry="4.8" transform="rotate(0 39.60 33.40)" fill="#203ee6" opacity="1" filter="url(#b05)"/><g filter="url(#b04)"><circle cx="42.3" cy="34.0" r="0.9" fill="#0c1c90" opacity="0.2"/><circle cx="41.3" cy="35.7" r="0.9" fill="#0c1c90" opacity="0.3"/><circle cx="41.8" cy="33.7" r="0.7" fill="#0c1c90" opacity="0.3"/><circle cx="35.8" cy="34.4" r="0.6" fill="#0c1c90" opacity="0.5"/><circle cx="37.2" cy="34.5" r="0.8" fill="#0c1c90" opacity="0.4"/><circle cx="40.0" cy="31.4" r="0.9" fill="#0c1c90" opacity="0.4"/><circle cx="41.9" cy="33.6" r="1.0" fill="#0c1c90" opacity="0.2"/><circle cx="41.4" cy="34.9" r="0.8" fill="#0c1c90" opacity="0.4"/></g><ellipse cx="35.40" cy="37.20" rx="5.0" ry="3.2" transform="rotate(0 35.40 37.20)" fill="#203ee6" opacity="1" filter="url(#b05)"/><g filter="url(#b04)"><circle cx="37.2" cy="39.0" r="0.6" fill="#0c1c90" opacity="0.3"/><circle cx="33.4" cy="38.0" r="0.6" fill="#0c1c90" opacity="0.3"/><circle cx="35.9" cy="37.3" r="0.9" fill="#0c1c90" opacity="0.3"/><circle cx="38.5" cy="35.6" r="0.6" fill="#0c1c90" opacity="0.2"/><circle cx="37.2" cy="36.9" r="1.0" fill="#0c1c90" opacity="0.5"/></g></g></g><g transform="translate(186.6,292.8)"><g clip-path="url(#k9)"><g filter="url(#b03)"><circle cx="33.7" cy="9.1" r="0.5" fill="rgb(185,111,9)" opacity="0.7"/><circle cx="34.8" cy="19.2" r="0.4" fill="rgb(130,13,10)" opacity="0.6"/><circle cx="33.9" cy="23.6" r="0.4" fill="rgb(169,101,8)" opacity="0.3"/><circle cx="26.7" cy="16.3" r="0.7" fill="rgb(38,153,22)" opacity="0.4"/><circle cx="23.6" cy="9.4" r="0.5" fill="rgb(34,138,20)" opacity="0.3"/><circle cx="38.4" cy="18.5" r="0.4" fill="rgb(165,99,8)" opacity="0.4"/><circle cx="32.4" cy="15.0" r="0.5" fill="rgb(186,18,14)" opacity="0.5"/><circle cx="26.5" cy="10.7" r="0.7" fill="rgb(143,85,7)" opacity="0.7"/><circle cx="36.4" cy="22.9" r="0.4" fill="rgb(135,13,10)" opacity="0.6"/><circle cx="27.6" cy="15.4" r="0.8" fill="rgb(157,94,7)" opacity="0.6"/><circle cx="26.5" cy="18.1" r="0.6" fill="rgb(173,103,8)" opacity="0.3"/><circle cx="40.5" cy="18.9" r="0.5" fill="rgb(169,101,8)" opacity="0.5"/><circle cx="41.5" cy="20.7" r="0.6" fill="rgb(202,121,10)" opacity="0.4"/><circle cx="33.6" cy="21.5" r="0.4" fill="rgb(28,115,17)" opacity="0.4"/><circle cx="34.5" cy="7.9" r="0.4" fill="rgb(118,11,9)" opacity="0.3"/><circle cx="27.2" cy="15.6" r="0.6" fill="rgb(156,15,12)" opacity="0.7"/><circle cx="28.0" cy="20.7" r="0.4" fill="rgb(199,119,9)" opacity="0.5"/><circle cx="30.1" cy="18.2" r="0.8" fill="rgb(158,15,12)" opacity="0.5"/><circle cx="28.6" cy="16.6" r="0.5" fill="rgb(44,177,26)" opacity="0.5"/><circle cx="32.4" cy="22.0" r="0.7" fill="rgb(29,119,17)" opacity="0.7"/><circle cx="31.7" cy="22.2" r="0.8" fill="rgb(157,94,7)" opacity="0.4"/><circle cx="30.1" cy="19.3" r="0.8" fill="rgb(125,12,10)" opacity="0.4"/><circle cx="27.2" cy="21.7" r="0.4" fill="rgb(168,16,13)" opacity="0.5"/><circle cx="27.2" cy="21.4" r="0.5" fill="rgb(28,115,17)" opacity="0.4"/><circle cx="24.4" cy="14.1" r="0.8" fill="rgb(198,118,9)" opacity="0.5"/><circle cx="34.3" cy="12.3" r="0.7" fill="rgb(123,12,9)" opacity="0.6"/><circle cx="30.2" cy="6.5" r="0.7" fill="rgb(158,94,7)" opacity="0.4"/><circle cx="40.8" cy="18.1" r="0.8" fill="rgb(176,17,14)" opacity="0.6"/><circle cx="36.4" cy="12.3" r="0.7" fill="rgb(35,140,21)" opacity="0.6"/><circle cx="41.5" cy="15.5" r="0.5" fill="rgb(147,14,11)" opacity="0.5"/><circle cx="30.7" cy="9.4" r="0.8" fill="rgb(111,11,8)" opacity="0.6"/><circle cx="27.8" cy="8.0" r="0.8" fill="rgb(31,126,18)" opacity="0.4"/><circle cx="35.4" cy="13.8" r="0.5" fill="rgb(166,16,13)" opacity="0.3"/><circle cx="30.8" cy="11.1" r="0.6" fill="rgb(43,172,25)" opacity="0.3"/><circle cx="33.5" cy="21.4" r="0.8" fill="rgb(40,160,24)" opacity="0.4"/><circle cx="37.2" cy="17.8" r="0.6" fill="rgb(46,185,27)" opacity="0.3"/><circle cx="28.1" cy="9.4" r="0.4" fill="rgb(40,163,24)" opacity="0.7"/><circle cx="40.0" cy="17.2" r="0.5" fill="rgb(39,156,23)" opacity="0.5"/><circle cx="31.8" cy="6.0" r="0.5" fill="rgb(34,137,20)" opacity="0.6"/><circle cx="38.4" cy="17.2" r="0.5" fill="rgb(188,18,15)" opacity="0.3"/><circle cx="24.5" cy="14.4" r="0.5" fill="rgb(34,138,20)" opacity="0.5"/><circle cx="36.0" cy="23.6" r="0.4" fill="rgb(156,15,12)" opacity="0.3"/><circle cx="30.9" cy="17.8" r="0.4" fill="rgb(112,11,8)" opacity="0.5"/><circle cx="41.2" cy="15.7" r="0.5" fill="rgb(165,16,13)" opacity="0.3"/><circle cx="28.3" cy="12.5" r="0.8" fill="rgb(42,171,25)" opacity="0.3"/><circle cx="24.8" cy="10.6" r="0.5" fill="rgb(38,154,23)" opacity="0.6"/><circle cx="32.4" cy="18.6" r="0.5" fill="rgb(118,11,9)" opacity="0.5"/><circle cx="29.3" cy="13.5" r="0.5" fill="rgb(42,171,25)" opacity="0.3"/><circle cx="40.3" cy="19.5" r="0.7" fill="rgb(39,159,23)" opacity="0.3"/><circle cx="27.8" cy="9.2" r="0.6" fill="rgb(189,113,9)" opacity="0.7"/><circle cx="36.7" cy="12.1" r="0.8" fill="rgb(178,106,8)" opacity="0.3"/><circle cx="28.1" cy="21.6" r="0.5" fill="rgb(160,96,8)" opacity="0.3"/><circle cx="25.4" cy="6.2" r="0.5" fill="rgb(123,12,9)" opacity="0.3"/><circle cx="29.0" cy="16.3" r="0.6" fill="rgb(31,125,18)" opacity="0.3"/><circle cx="27.9" cy="22.3" r="0.8" fill="rgb(39,157,23)" opacity="0.5"/><circle cx="25.0" cy="9.9" r="0.7" fill="rgb(117,11,9)" opacity="0.6"/><circle cx="31.3" cy="35.7" r="0.8" fill="rgb(175,105,8)" opacity="0.7"/><circle cx="16.6" cy="39.0" r="0.5" fill="rgb(166,16,13)" opacity="0.6"/><circle cx="28.2" cy="38.7" r="0.6" fill="rgb(42,171,25)" opacity="0.6"/><circle cx="27.4" cy="36.5" r="0.6" fill="rgb(30,123,18)" opacity="0.3"/><circle cx="29.0" cy="35.1" r="0.6" fill="rgb(143,85,7)" opacity="0.4"/><circle cx="14.9" cy="36.4" r="0.6" fill="rgb(35,142,21)" opacity="0.7"/><circle cx="18.6" cy="37.5" r="0.8" fill="rgb(29,119,17)" opacity="0.3"/><circle cx="14.8" cy="35.6" r="0.7" fill="rgb(210,126,10)" opacity="0.5"/><circle cx="25.7" cy="32.2" r="0.7" fill="rgb(173,103,8)" opacity="0.5"/><circle cx="19.1" cy="36.5" r="0.7" fill="rgb(184,18,14)" opacity="0.7"/><circle cx="26.2" cy="38.0" r="0.7" fill="rgb(183,18,14)" opacity="0.7"/><circle cx="19.9" cy="42.4" r="0.4" fill="rgb(160,96,8)" opacity="0.3"/><circle cx="19.3" cy="32.3" r="0.4" fill="rgb(163,97,8)" opacity="0.7"/><circle cx="18.7" cy="35.4" r="0.4" fill="rgb(45,183,27)" opacity="0.7"/><circle cx="14.5" cy="37.0" r="0.4" fill="rgb(111,11,8)" opacity="0.5"/><circle cx="21.6" cy="32.8" r="0.4" fill="rgb(146,87,7)" opacity="0.7"/><circle cx="29.0" cy="32.7" r="0.7" fill="rgb(165,16,13)" opacity="0.4"/><circle cx="9.4" cy="40.7" r="0.5" fill="rgb(43,173,25)" opacity="0.7"/><circle cx="14.4" cy="36.4" r="0.7" fill="rgb(43,172,25)" opacity="0.3"/><circle cx="18.1" cy="38.3" r="0.7" fill="rgb(35,140,21)" opacity="0.3"/><circle cx="28.1" cy="33.1" r="0.5" fill="rgb(27,110,16)" opacity="0.6"/><circle cx="23.9" cy="35.2" r="0.7" fill="rgb(169,101,8)" opacity="0.3"/><circle cx="24.0" cy="35.0" r="0.8" fill="rgb(138,13,11)" opacity="0.7"/><circle cx="28.3" cy="38.6" r="0.5" fill="rgb(45,183,27)" opacity="0.4"/><circle cx="26.9" cy="37.9" r="0.6" fill="rgb(129,12,10)" opacity="0.5"/><circle cx="16.3" cy="38.5" r="0.5" fill="rgb(31,124,18)" opacity="0.3"/><circle cx="15.2" cy="39.7" r="0.5" fill="rgb(197,118,9)" opacity="0.4"/><circle cx="22.0" cy="35.4" r="0.8" fill="rgb(153,91,7)" opacity="0.4"/><circle cx="27.7" cy="32.6" r="0.6" fill="rgb(200,120,10)" opacity="0.3"/><circle cx="15.1" cy="37.7" r="0.7" fill="rgb(194,116,9)" opacity="0.4"/><circle cx="15.5" cy="34.7" r="0.4" fill="rgb(141,14,11)" opacity="0.6"/><circle cx="29.4" cy="32.3" r="0.5" fill="rgb(31,126,18)" opacity="0.5"/><circle cx="11.9" cy="40.8" r="0.5" fill="rgb(160,16,12)" opacity="0.3"/><circle cx="28.2" cy="31.5" r="0.6" fill="rgb(42,170,25)" opacity="0.5"/><circle cx="23.1" cy="37.0" r="0.5" fill="rgb(202,121,10)" opacity="0.7"/><circle cx="17.0" cy="40.4" r="0.7" fill="rgb(127,12,10)" opacity="0.3"/><circle cx="27.0" cy="32.9" r="0.4" fill="rgb(190,114,9)" opacity="0.7"/><circle cx="26.5" cy="32.8" r="0.8" fill="rgb(160,16,12)" opacity="0.5"/><circle cx="25.2" cy="37.6" r="0.8" fill="rgb(200,120,10)" opacity="0.7"/><circle cx="10.5" cy="40.2" r="0.8" fill="rgb(32,130,19)" opacity="0.6"/><circle cx="29.0" cy="32.3" r="0.5" fill="rgb(188,112,9)" opacity="0.3"/><circle cx="18.9" cy="39.0" r="0.5" fill="rgb(33,132,19)" opacity="0.6"/><circle cx="48.5" cy="20.5" r="0.6" fill="rgb(37,148,22)" opacity="0.5"/><circle cx="66.7" cy="24.3" r="0.5" fill="rgb(199,119,9)" opacity="0.5"/><circle cx="51.8" cy="26.7" r="0.5" fill="rgb(195,117,9)" opacity="0.6"/><circle cx="56.6" cy="28.6" r="0.8" fill="rgb(43,174,26)" opacity="0.5"/><circle cx="54.8" cy="22.2" r="0.4" fill="rgb(39,158,23)" opacity="0.6"/><circle cx="62.5" cy="22.8" r="0.6" fill="rgb(160,16,12)" opacity="0.5"/><circle cx="49.3" cy="22.1" r="0.6" fill="rgb(139,13,11)" opacity="0.4"/><circle cx="55.9" cy="21.9" r="0.7" fill="rgb(134,13,10)" opacity="0.6"/><circle cx="52.5" cy="21.5" r="0.4" fill="rgb(120,12,9)" opacity="0.7"/><circle cx="51.5" cy="28.2" r="0.6" fill="rgb(153,91,7)" opacity="0.7"/><circle cx="51.7" cy="27.1" r="0.4" fill="rgb(30,123,18)" opacity="0.4"/><circle cx="62.3" cy="26.1" r="0.8" fill="rgb(122,12,9)" opacity="0.7"/><circle cx="45.9" cy="25.8" r="0.5" fill="rgb(164,16,13)" opacity="0.7"/><circle cx="64.6" cy="30.9" r="0.4" fill="rgb(177,106,8)" opacity="0.6"/><circle cx="48.1" cy="25.2" r="0.8" fill="rgb(31,127,19)" opacity="0.7"/><circle cx="61.5" cy="25.5" r="0.7" fill="rgb(28,114,17)" opacity="0.5"/><circle cx="42.7" cy="27.8" r="0.6" fill="rgb(47,189,28)" opacity="0.6"/><circle cx="57.8" cy="31.5" r="0.8" fill="rgb(134,13,10)" opacity="0.4"/><circle cx="59.7" cy="29.3" r="0.4" fill="rgb(32,131,19)" opacity="0.6"/><circle cx="66.3" cy="24.4" r="0.7" fill="rgb(160,96,8)" opacity="0.5"/><circle cx="45.7" cy="24.5" r="0.6" fill="rgb(37,149,22)" opacity="0.4"/><circle cx="56.2" cy="26.2" r="0.4" fill="rgb(28,115,17)" opacity="0.5"/><circle cx="46.7" cy="26.7" r="0.8" fill="rgb(41,167,25)" opacity="0.7"/><circle cx="54.3" cy="26.3" r="0.6" fill="rgb(37,148,22)" opacity="0.4"/><circle cx="58.8" cy="24.0" r="0.8" fill="rgb(31,125,18)" opacity="0.4"/><circle cx="51.0" cy="30.4" r="0.7" fill="rgb(162,16,12)" opacity="0.7"/><circle cx="60.8" cy="21.6" r="0.5" fill="rgb(199,119,9)" opacity="0.7"/><circle cx="49.2" cy="26.3" r="0.4" fill="rgb(37,151,22)" opacity="0.5"/><circle cx="50.7" cy="32.2" r="0.6" fill="rgb(146,14,11)" opacity="0.5"/><circle cx="44.5" cy="30.3" r="0.4" fill="rgb(116,11,9)" opacity="0.3"/><circle cx="60.7" cy="27.3" r="0.5" fill="rgb(41,167,25)" opacity="0.4"/><circle cx="45.7" cy="22.3" r="0.5" fill="rgb(183,18,14)" opacity="0.7"/><circle cx="48.2" cy="28.9" r="0.8" fill="rgb(29,118,17)" opacity="0.7"/><circle cx="60.4" cy="26.4" r="0.7" fill="rgb(41,164,24)" opacity="0.5"/><circle cx="57.7" cy="29.4" r="0.6" fill="rgb(33,134,20)" opacity="0.7"/><circle cx="53.4" cy="31.4" r="0.6" fill="rgb(168,100,8)" opacity="0.4"/><circle cx="46.6" cy="24.0" r="0.8" fill="rgb(47,190,28)" opacity="0.3"/><circle cx="62.3" cy="28.9" r="0.4" fill="rgb(146,87,7)" opacity="0.7"/><circle cx="50.0" cy="27.5" r="0.7" fill="rgb(126,12,10)" opacity="0.7"/><circle cx="58.4" cy="21.7" r="0.4" fill="rgb(37,148,22)" opacity="0.5"/><circle cx="42.5" cy="28.3" r="0.8" fill="rgb(139,13,11)" opacity="0.7"/><circle cx="60.4" cy="27.3" r="0.7" fill="rgb(37,151,22)" opacity="0.5"/><circle cx="63.4" cy="30.3" r="0.4" fill="rgb(37,151,22)" opacity="0.3"/><circle cx="44.0" cy="23.2" r="0.7" fill="rgb(35,140,21)" opacity="0.7"/><circle cx="63.8" cy="31.0" r="0.7" fill="rgb(155,93,7)" opacity="0.3"/><circle cx="66.9" cy="29.6" r="0.8" fill="rgb(37,149,22)" opacity="0.3"/><circle cx="50.9" cy="31.7" r="0.7" fill="rgb(43,173,25)" opacity="0.3"/><circle cx="50.9" cy="21.7" r="0.6" fill="rgb(192,115,9)" opacity="0.6"/><circle cx="46.6" cy="27.4" r="0.8" fill="rgb(41,165,24)" opacity="0.6"/><circle cx="67.0" cy="55.1" r="0.8" fill="rgb(34,137,20)" opacity="0.3"/><circle cx="65.5" cy="54.0" r="0.7" fill="rgb(187,18,14)" opacity="0.5"/><circle cx="61.6" cy="53.3" r="0.8" fill="rgb(120,12,9)" opacity="0.3"/><circle cx="61.3" cy="51.8" r="0.4" fill="rgb(153,91,7)" opacity="0.6"/><circle cx="73.1" cy="54.5" r="0.4" fill="rgb(38,153,22)" opacity="0.5"/><circle cx="72.3" cy="45.3" r="0.4" fill="rgb(167,16,13)" opacity="0.4"/><circle cx="63.1" cy="56.9" r="0.7" fill="rgb(156,93,7)" opacity="0.5"/><circle cx="60.3" cy="56.0" r="0.5" fill="rgb(38,152,22)" opacity="0.4"/><circle cx="65.9" cy="49.9" r="0.8" fill="rgb(110,11,8)" opacity="0.7"/><circle cx="65.2" cy="55.8" r="0.8" fill="rgb(172,17,13)" opacity="0.4"/><circle cx="62.3" cy="56.0" r="0.7" fill="rgb(193,115,9)" opacity="0.5"/><circle cx="73.3" cy="54.3" r="0.5" fill="rgb(125,12,10)" opacity="0.7"/><circle cx="70.4" cy="43.9" r="0.4" fill="rgb(36,146,21)" opacity="0.6"/><circle cx="63.4" cy="49.6" r="0.7" fill="rgb(34,137,20)" opacity="0.3"/><circle cx="69.2" cy="49.4" r="0.7" fill="rgb(27,111,16)" opacity="0.7"/><circle cx="68.8" cy="44.0" r="0.5" fill="rgb(33,132,19)" opacity="0.4"/><circle cx="66.9" cy="55.3" r="0.5" fill="rgb(142,85,7)" opacity="0.7"/><circle cx="64.0" cy="56.2" r="0.8" fill="rgb(44,177,26)" opacity="0.6"/><circle cx="72.4" cy="51.2" r="0.8" fill="rgb(46,184,27)" opacity="0.4"/><circle cx="74.7" cy="58.2" r="0.7" fill="rgb(146,14,11)" opacity="0.3"/><circle cx="63.8" cy="48.5" r="0.7" fill="rgb(30,122,18)" opacity="0.4"/><circle cx="71.6" cy="53.8" r="0.6" fill="rgb(31,125,18)" opacity="0.5"/><circle cx="60.4" cy="58.4" r="0.7" fill="rgb(31,127,19)" opacity="0.4"/><circle cx="68.1" cy="48.6" r="0.5" fill="rgb(32,129,19)" opacity="0.7"/><circle cx="64.1" cy="47.6" r="0.6" fill="rgb(44,177,26)" opacity="0.7"/><circle cx="61.5" cy="51.8" r="0.5" fill="rgb(29,117,17)" opacity="0.4"/><circle cx="62.3" cy="51.5" r="0.4" fill="rgb(145,87,7)" opacity="0.6"/><circle cx="74.9" cy="46.8" r="0.6" fill="rgb(31,125,18)" opacity="0.6"/><circle cx="67.7" cy="54.4" r="0.6" fill="rgb(187,18,14)" opacity="0.3"/><circle cx="67.9" cy="51.0" r="0.6" fill="rgb(36,144,21)" opacity="0.4"/><circle cx="60.9" cy="54.4" r="0.5" fill="rgb(38,155,23)" opacity="0.7"/><circle cx="69.1" cy="48.0" r="0.8" fill="rgb(199,119,9)" opacity="0.5"/><circle cx="74.8" cy="54.9" r="0.8" fill="rgb(42,169,25)" opacity="0.4"/><circle cx="67.1" cy="46.6" r="0.6" fill="rgb(33,135,20)" opacity="0.3"/><circle cx="59.6" cy="55.3" r="0.7" fill="rgb(164,98,8)" opacity="0.4"/></g><ellipse cx="31.20" cy="28.50" rx="5.2" ry="5.0" transform="rotate(0 31.20 28.50)" fill="#203ee6" opacity="1" filter="url(#b05)"/><g filter="url(#b04)"><circle cx="31.6" cy="30.1" r="0.8" fill="#0c1c90" opacity="0.2"/><circle cx="30.5" cy="32.2" r="0.8" fill="#0c1c90" opacity="0.5"/><circle cx="30.5" cy="31.7" r="0.9" fill="#0c1c90" opacity="0.3"/><circle cx="28.2" cy="28.8" r="0.9" fill="#0c1c90" opacity="0.4"/><circle cx="31.7" cy="31.2" r="0.8" fill="#0c1c90" opacity="0.3"/><circle cx="29.3" cy="31.7" r="0.8" fill="#0c1c90" opacity="0.2"/><circle cx="34.3" cy="30.5" r="1.0" fill="#0c1c90" opacity="0.5"/><circle cx="28.7" cy="31.7" r="0.6" fill="#0c1c90" opacity="0.4"/><circle cx="32.8" cy="29.6" r="1.0" fill="#0c1c90" opacity="0.3"/></g><ellipse cx="39.60" cy="27.90" rx="5.3" ry="4.8" transform="rotate(0 39.60 27.90)" fill="#203ee6" opacity="1" filter="url(#b05)"/><g filter="url(#b04)"><circle cx="40.1" cy="29.6" r="0.9" fill="#0c1c90" opacity="0.3"/><circle cx="40.6" cy="30.2" r="0.8" fill="#0c1c90" opacity="0.4"/><circle cx="39.3" cy="25.9" r="0.6" fill="#0c1c90" opacity="0.4"/><circle cx="36.3" cy="29.0" r="0.6" fill="#0c1c90" opacity="0.4"/><circle cx="36.1" cy="29.6" r="0.7" fill="#0c1c90" opacity="0.5"/><circle cx="43.4" cy="26.9" r="0.8" fill="#0c1c90" opacity="0.4"/><circle cx="42.9" cy="29.0" r="0.7" fill="#0c1c90" opacity="0.3"/><circle cx="36.6" cy="29.3" r="0.9" fill="#0c1c90" opacity="0.5"/></g><ellipse cx="35.40" cy="31.70" rx="5.0" ry="3.2" transform="rotate(0 35.40 31.70)" fill="#203ee6" opacity="1" filter="url(#b05)"/><g filter="url(#b04)"><circle cx="37.1" cy="30.3" r="0.7" fill="#0c1c90" opacity="0.3"/><circle cx="34.9" cy="30.5" r="0.8" fill="#0c1c90" opacity="0.2"/><circle cx="37.1" cy="33.0" r="0.8" fill="#0c1c90" opacity="0.3"/><circle cx="36.0" cy="31.3" r="0.9" fill="#0c1c90" opacity="0.2"/><circle cx="33.1" cy="32.6" r="0.7" fill="#0c1c90" opacity="0.3"/></g><ellipse cx="54.50" cy="60.50" rx="5.5" ry="4.2" transform="rotate(0 54.50 60.50)" fill="#203ee6" opacity="1" filter="url(#b05)"/><g filter="url(#b04)"><circle cx="55.5" cy="58.1" r="0.7" fill="#0c1c90" opacity="0.3"/><circle cx="56.0" cy="59.3" r="0.6" fill="#0c1c90" opacity="0.3"/><circle cx="57.8" cy="61.5" r="0.7" fill="#0c1c90" opacity="0.3"/><circle cx="52.2" cy="58.9" r="0.6" fill="#0c1c90" opacity="0.2"/><circle cx="57.3" cy="57.9" r="0.7" fill="#0c1c90" opacity="0.3"/><circle cx="52.1" cy="60.7" r="0.8" fill="#0c1c90" opacity="0.4"/><circle cx="55.6" cy="60.3" r="1.0" fill="#0c1c90" opacity="0.2"/><circle cx="55.4" cy="60.4" r="0.7" fill="#0c1c90" opacity="0.5"/></g><ellipse cx="67.50" cy="60.50" rx="5" ry="4.2" transform="rotate(0 67.50 60.50)" fill="#203ee6" opacity="1" filter="url(#b05)"/><g filter="url(#b04)"><circle cx="65.5" cy="58.8" r="0.9" fill="#0c1c90" opacity="0.5"/><circle cx="65.2" cy="62.9" r="0.9" fill="#0c1c90" opacity="0.3"/><circle cx="68.9" cy="59.0" r="0.7" fill="#0c1c90" opacity="0.4"/><circle cx="64.3" cy="58.9" r="0.9" fill="#0c1c90" opacity="0.4"/><circle cx="65.8" cy="57.9" r="0.8" fill="#0c1c90" opacity="0.4"/><circle cx="67.1" cy="62.8" r="0.7" fill="#0c1c90" opacity="0.5"/><circle cx="66.3" cy="62.1" r="0.9" fill="#0c1c90" opacity="0.5"/></g></g></g><g transform="translate(299.0,161.5)"><g clip-path="url(#k10)"><path d="M8.10,10.80 C8.71,10.31 11.81,11.38 13.50,12.10 C15.19,12.82 15.09,13.70 17.50,14.80 C19.91,15.90 24.24,17.71 26.90,18.20 C29.56,18.69 31.09,18.11 32.30,17.50 C33.51,16.89 32.39,14.80 33.60,14.80 C34.81,14.80 37.29,16.29 39.00,17.50 C40.71,18.71 41.77,20.40 43.10,21.50 C44.43,22.60 46.17,22.86 46.40,23.60 C46.63,24.34 45.48,24.75 44.40,25.60 C43.32,26.45 41.73,26.97 40.40,28.30 C39.07,29.63 37.74,31.31 37.00,33.00 C36.26,34.69 35.81,36.13 36.30,37.70 C36.79,39.27 38.73,40.01 39.70,41.70 C40.67,43.39 40.98,45.16 41.70,47.10 C42.42,49.04 44.19,51.65 43.70,52.50 C43.21,53.35 40.57,52.29 39.00,51.80 C37.43,51.31 35.85,51.13 35.00,49.80 C34.15,48.47 34.55,46.34 34.30,44.40 C34.05,42.46 34.19,40.69 33.60,39.00 C33.01,37.31 32.69,36.21 31.00,35.00 C29.31,33.79 26.14,33.51 24.20,32.30 C22.26,31.09 21.89,29.40 20.20,28.30 C18.51,27.20 16.62,26.81 14.80,26.20 C12.98,25.59 10.82,26.23 10.10,24.90 C9.38,23.57 10.80,20.62 10.80,18.80 C10.80,16.98 10.59,16.24 10.10,14.80 C9.61,13.36 7.49,11.29 8.10,10.80 Z" fill="#3fd424" stroke="#55e030" stroke-width="0.8" filter="url(#b04)"/><g filter="url(#b04)"><circle cx="34.7" cy="28.1" r="0.5" fill="rgb(90,250,50)" opacity="0.5"/><circle cx="28.8" cy="27.5" r="0.8" fill="rgb(90,234,50)" opacity="0.6"/><circle cx="29.1" cy="28.2" r="0.5" fill="rgb(90,249,50)" opacity="0.6"/><circle cx="39.8" cy="27.0" r="0.5" fill="rgb(90,236,50)" opacity="0.5"/><circle cx="36.3" cy="44.5" r="0.6" fill="rgb(90,233,50)" opacity="0.5"/><circle cx="14.0" cy="16.6" r="0.6" fill="rgb(90,244,50)" opacity="0.6"/><circle cx="22.1" cy="17.9" r="0.5" fill="rgb(90,249,50)" opacity="0.3"/><circle cx="19.7" cy="18.9" r="0.9" fill="rgb(90,245,50)" opacity="0.4"/><circle cx="28.0" cy="29.1" r="0.6" fill="rgb(90,231,50)" opacity="0.8"/><circle cx="20.5" cy="18.4" r="0.6" fill="rgb(90,238,50)" opacity="0.6"/><circle cx="13.9" cy="22.9" r="0.8" fill="rgb(90,229,50)" opacity="0.5"/><circle cx="35.5" cy="17.3" r="0.7" fill="rgb(90,225,50)" opacity="0.4"/><circle cx="19.2" cy="18.4" r="0.6" fill="rgb(90,248,50)" opacity="0.5"/><circle cx="39.6" cy="50.7" r="0.5" fill="rgb(90,225,50)" opacity="0.4"/><circle cx="30.1" cy="21.7" r="0.9" fill="rgb(90,227,50)" opacity="0.7"/><circle cx="21.6" cy="29.3" r="0.4" fill="rgb(90,231,50)" opacity="0.6"/><circle cx="35.1" cy="37.1" r="0.7" fill="rgb(90,229,50)" opacity="0.3"/><circle cx="34.0" cy="26.4" r="0.7" fill="rgb(90,229,50)" opacity="0.7"/><circle cx="18.0" cy="17.1" r="0.6" fill="rgb(90,229,50)" opacity="0.5"/><circle cx="30.4" cy="29.5" r="0.4" fill="rgb(90,233,50)" opacity="0.4"/><circle cx="31.6" cy="17.6" r="0.7" fill="rgb(90,237,50)" opacity="0.5"/><circle cx="31.8" cy="18.5" r="0.5" fill="rgb(90,231,50)" opacity="0.5"/><circle cx="38.9" cy="42.6" r="0.7" fill="rgb(90,248,50)" opacity="0.7"/><circle cx="39.0" cy="51.2" r="0.6" fill="rgb(90,245,50)" opacity="0.7"/><circle cx="21.2" cy="22.4" r="0.7" fill="rgb(90,242,50)" opacity="0.4"/><circle cx="34.3" cy="42.1" r="0.5" fill="rgb(90,247,50)" opacity="0.5"/><circle cx="31.3" cy="27.4" r="0.7" fill="rgb(90,228,50)" opacity="0.8"/><circle cx="17.7" cy="19.0" r="0.7" fill="rgb(90,232,50)" opacity="0.5"/><circle cx="21.8" cy="17.0" r="0.4" fill="rgb(90,231,50)" opacity="0.6"/><circle cx="40.9" cy="51.7" r="0.5" fill="rgb(90,236,50)" opacity="0.7"/><circle cx="37.1" cy="26.6" r="0.6" fill="rgb(90,246,50)" opacity="0.4"/><circle cx="16.4" cy="18.4" r="0.8" fill="rgb(90,245,50)" opacity="0.6"/><circle cx="12.4" cy="14.0" r="0.8" fill="rgb(90,234,50)" opacity="0.5"/><circle cx="37.2" cy="21.3" r="0.7" fill="rgb(90,233,50)" opacity="0.5"/><circle cx="35.8" cy="33.6" r="0.6" fill="rgb(90,240,50)" opacity="0.3"/><circle cx="30.1" cy="22.8" r="0.9" fill="rgb(90,249,50)" opacity="0.6"/><circle cx="37.1" cy="29.6" r="0.5" fill="rgb(90,236,50)" opacity="0.7"/><circle cx="14.2" cy="24.5" r="0.4" fill="rgb(90,240,50)" opacity="0.6"/><circle cx="34.4" cy="33.6" r="0.7" fill="rgb(90,227,50)" opacity="0.4"/><circle cx="38.9" cy="26.2" r="0.5" fill="rgb(90,239,50)" opacity="0.4"/><circle cx="38.9" cy="42.0" r="0.6" fill="rgb(90,242,50)" opacity="0.4"/><circle cx="33.2" cy="32.7" r="0.8" fill="rgb(90,231,50)" opacity="0.3"/><circle cx="38.1" cy="40.4" r="0.7" fill="rgb(90,239,50)" opacity="0.8"/><circle cx="35.1" cy="45.1" r="0.5" fill="rgb(90,232,50)" opacity="0.6"/><circle cx="12.2" cy="12.5" r="0.7" fill="rgb(90,238,50)" opacity="0.5"/><circle cx="39.9" cy="21.6" r="0.6" fill="rgb(90,237,50)" opacity="0.5"/><circle cx="17.2" cy="23.4" r="0.4" fill="rgb(90,231,50)" opacity="0.8"/><circle cx="36.1" cy="28.0" r="0.8" fill="rgb(90,231,50)" opacity="0.8"/><circle cx="23.9" cy="21.8" r="0.5" fill="rgb(90,234,50)" opacity="0.8"/><circle cx="41.1" cy="47.9" r="0.8" fill="rgb(90,246,50)" opacity="0.4"/><circle cx="21.2" cy="28.5" r="0.5" fill="rgb(90,249,50)" opacity="0.7"/><circle cx="9.0" cy="12.6" r="0.7" fill="rgb(90,246,50)" opacity="0.5"/><circle cx="39.2" cy="26.6" r="0.6" fill="rgb(90,249,50)" opacity="0.7"/><circle cx="20.1" cy="24.1" r="0.4" fill="rgb(90,242,50)" opacity="0.8"/><circle cx="42.9" cy="50.8" r="0.5" fill="rgb(90,237,50)" opacity="0.7"/><circle cx="21.7" cy="18.3" r="0.5" fill="rgb(90,243,50)" opacity="0.7"/><circle cx="43.5" cy="24.3" r="0.5" fill="rgb(90,231,50)" opacity="0.6"/><circle cx="40.1" cy="26.0" r="0.6" fill="rgb(90,242,50)" opacity="0.4"/><circle cx="40.4" cy="23.2" r="0.5" fill="rgb(90,238,50)" opacity="0.5"/><circle cx="15.6" cy="15.3" r="0.6" fill="rgb(90,246,50)" opacity="0.6"/></g><ellipse cx="28.30" cy="28.90" rx="4.8" ry="3.8" transform="rotate(20 28.30 28.90)" fill="#2a66b0" opacity="0.9" filter="url(#b05)"/><ellipse cx="0.50" cy="1.00" rx="3.2" ry="3.0" transform="rotate(0 0.50 1.00)" fill="#203ee6" opacity="1" filter="url(#b05)"/><g filter="url(#b04)"><circle cx="0.0" cy="0.7" r="0.5" fill="#0c1c90" opacity="0.3"/><circle cx="0.6" cy="0.1" r="0.7" fill="#0c1c90" opacity="0.5"/><circle cx="0.2" cy="1.4" r="0.9" fill="#0c1c90" opacity="0.5"/></g><g filter="url(#b03)"><circle cx="7.0" cy="2.6" r="0.8" fill="rgb(49,197,35)" opacity="0.9"/><circle cx="3.3" cy="3.4" r="0.4" fill="rgb(51,206,37)" opacity="0.9"/><circle cx="3.6" cy="2.3" r="0.6" fill="rgb(40,161,28)" opacity="1.0"/><circle cx="4.6" cy="2.4" r="0.4" fill="rgb(54,218,39)" opacity="0.6"/><circle cx="8.7" cy="0.7" r="0.7" fill="rgb(40,160,28)" opacity="0.8"/><circle cx="2.8" cy="1.9" r="0.5" fill="rgb(57,229,41)" opacity="0.5"/><circle cx="2.7" cy="1.9" r="0.5" fill="rgb(56,224,40)" opacity="0.8"/><circle cx="8.3" cy="1.7" r="0.7" fill="rgb(38,153,27)" opacity="0.9"/><circle cx="5.9" cy="3.0" r="0.7" fill="rgb(40,161,28)" opacity="0.8"/><circle cx="3.5" cy="3.3" r="0.7" fill="rgb(45,182,32)" opacity="0.6"/><circle cx="55.1" cy="0.2" r="0.4" fill="rgb(38,155,27)" opacity="0.9"/><circle cx="51.3" cy="1.6" r="0.8" fill="rgb(43,173,31)" opacity="0.9"/><circle cx="51.6" cy="0.1" r="0.8" fill="rgb(46,187,33)" opacity="0.9"/><circle cx="52.5" cy="0.7" r="0.7" fill="rgb(48,193,34)" opacity="0.7"/><circle cx="55.0" cy="0.9" r="0.4" fill="rgb(56,225,40)" opacity="0.5"/><circle cx="55.1" cy="0.8" r="0.6" fill="rgb(37,150,27)" opacity="0.9"/><circle cx="4.0" cy="47.9" r="0.3" fill="rgb(54,217,39)" opacity="0.7"/><circle cx="1.9" cy="48.0" r="0.4" fill="rgb(56,225,40)" opacity="0.6"/><circle cx="2.2" cy="46.4" r="0.4" fill="rgb(46,185,33)" opacity="0.8"/><circle cx="1.5" cy="48.9" r="0.4" fill="rgb(51,204,36)" opacity="0.7"/><circle cx="4.4" cy="49.5" r="0.4" fill="rgb(42,171,30)" opacity="0.6"/><circle cx="3.1" cy="50.8" r="0.4" fill="rgb(55,221,39)" opacity="0.9"/><circle cx="3.0" cy="49.0" r="0.5" fill="rgb(43,173,31)" opacity="0.7"/><circle cx="4.1" cy="48.4" r="0.5" fill="rgb(41,164,29)" opacity="0.6"/><circle cx="0.9" cy="51.9" r="0.6" fill="rgb(53,215,38)" opacity="0.5"/><circle cx="2.4" cy="50.9" r="0.4" fill="rgb(44,176,31)" opacity="0.4"/><circle cx="2.0" cy="51.7" r="0.4" fill="rgb(57,228,41)" opacity="0.3"/><circle cx="1.6" cy="45.0" r="0.3" fill="rgb(42,171,30)" opacity="0.7"/><circle cx="0.2" cy="53.8" r="0.6" fill="rgb(38,152,27)" opacity="0.4"/><circle cx="2.9" cy="40.8" r="0.3" fill="rgb(38,154,27)" opacity="0.6"/><circle cx="4.2" cy="52.0" r="0.5" fill="rgb(44,176,31)" opacity="0.7"/><circle cx="0.7" cy="46.5" r="0.6" fill="rgb(44,176,31)" opacity="0.9"/><circle cx="1.6" cy="42.0" r="0.6" fill="rgb(58,232,41)" opacity="0.9"/><circle cx="2.1" cy="40.3" r="0.3" fill="rgb(41,165,29)" opacity="0.6"/><circle cx="1.6" cy="39.6" r="0.6" fill="rgb(54,219,39)" opacity="0.9"/><circle cx="3.9" cy="45.2" r="0.4" fill="rgb(53,215,38)" opacity="0.7"/><circle cx="3.3" cy="49.4" r="0.4" fill="rgb(55,220,39)" opacity="0.7"/><circle cx="1.5" cy="48.4" r="0.4" fill="rgb(55,223,40)" opacity="0.8"/><circle cx="2.8" cy="47.8" r="0.4" fill="rgb(38,153,27)" opacity="0.4"/><circle cx="3.3" cy="51.8" r="0.7" fill="rgb(38,154,27)" opacity="0.8"/><circle cx="1.4" cy="46.9" r="0.5" fill="rgb(44,178,32)" opacity="0.9"/></g><rect x="6" y="62.7" width="25.6" height="1.1" fill="#9a9a9a"/></g></g><g transform="translate(370.8,161.5)"><g clip-path="url(#k11)"><path d="M13.60,11.80 C14.21,11.31 17.31,12.38 19.00,13.10 C20.69,13.82 20.59,14.70 23.00,15.80 C25.41,16.90 29.74,18.71 32.40,19.20 C35.06,19.69 36.59,19.11 37.80,18.50 C39.01,17.89 37.89,15.80 39.10,15.80 C40.31,15.80 42.79,17.29 44.50,18.50 C46.21,19.71 47.27,21.40 48.60,22.50 C49.93,23.60 51.67,23.86 51.90,24.60 C52.13,25.34 50.98,25.75 49.90,26.60 C48.82,27.45 47.23,27.97 45.90,29.30 C44.57,30.63 43.24,32.31 42.50,34.00 C41.76,35.69 41.31,37.13 41.80,38.70 C42.29,40.27 44.23,41.01 45.20,42.70 C46.17,44.39 46.48,46.16 47.20,48.10 C47.92,50.04 49.69,52.65 49.20,53.50 C48.71,54.35 46.07,53.29 44.50,52.80 C42.93,52.31 41.35,52.13 40.50,50.80 C39.65,49.47 40.05,47.34 39.80,45.40 C39.55,43.46 39.69,41.69 39.10,40.00 C38.51,38.31 38.19,37.21 36.50,36.00 C34.81,34.79 31.64,34.51 29.70,33.30 C27.76,32.09 27.39,30.40 25.70,29.30 C24.01,28.20 22.12,27.81 20.30,27.20 C18.48,26.59 16.32,27.23 15.60,25.90 C14.88,24.57 16.30,21.62 16.30,19.80 C16.30,17.98 16.09,17.24 15.60,15.80 C15.11,14.36 12.99,12.29 13.60,11.80 Z" fill="#360707" stroke="#6a1010" stroke-width="0.8" filter="url(#b04)"/><g clip-path="url(#ewtclip)" filter="url(#b03)"><line x1="29.0" y1="24.5" x2="42.5" y2="26.4" stroke="rgb(131,20,20)" stroke-width="0.5" opacity="0.6"/><line x1="37.3" y1="15.0" x2="43.3" y2="18.7" stroke="rgb(146,20,20)" stroke-width="0.5" opacity="0.6"/><line x1="32.9" y1="20.7" x2="41.0" y2="24.2" stroke="rgb(112,20,20)" stroke-width="0.5" opacity="0.6"/><line x1="14.8" y1="21.0" x2="21.7" y2="22.8" stroke="rgb(124,20,20)" stroke-width="0.5" opacity="0.6"/><line x1="22.9" y1="18.0" x2="33.8" y2="17.0" stroke="rgb(129,20,20)" stroke-width="0.5" opacity="0.6"/><line x1="37.7" y1="25.3" x2="47.8" y2="27.9" stroke="rgb(138,20,20)" stroke-width="0.5" opacity="0.6"/><line x1="34.5" y1="26.6" x2="42.8" y2="22.7" stroke="rgb(146,20,20)" stroke-width="0.5" opacity="0.6"/><line x1="22.2" y1="24.9" x2="31.9" y2="28.8" stroke="rgb(160,20,20)" stroke-width="0.5" opacity="0.6"/><line x1="21.2" y1="17.0" x2="27.6" y2="20.5" stroke="rgb(164,20,20)" stroke-width="0.5" opacity="0.6"/><line x1="40.7" y1="16.9" x2="45.8" y2="18.0" stroke="rgb(116,20,20)" stroke-width="0.5" opacity="0.6"/><line x1="30.8" y1="22.2" x2="38.1" y2="19.0" stroke="rgb(128,20,20)" stroke-width="0.5" opacity="0.6"/><line x1="49.6" y1="21.1" x2="55.5" y2="23.1" stroke="rgb(119,20,20)" stroke-width="0.5" opacity="0.6"/><line x1="43.4" y1="15.0" x2="55.6" y2="14.2" stroke="rgb(127,20,20)" stroke-width="0.5" opacity="0.6"/><line x1="47.3" y1="17.1" x2="51.8" y2="14.8" stroke="rgb(140,20,20)" stroke-width="0.5" opacity="0.6"/><line x1="35.6" y1="20.3" x2="48.0" y2="26.5" stroke="rgb(151,20,20)" stroke-width="0.5" opacity="0.6"/><line x1="38.5" y1="20.8" x2="51.7" y2="16.5" stroke="rgb(141,20,20)" stroke-width="0.5" opacity="0.6"/><line x1="42.6" y1="17.0" x2="51.2" y2="20.7" stroke="rgb(130,20,20)" stroke-width="0.5" opacity="0.6"/><line x1="18.8" y1="26.6" x2="23.6" y2="29.6" stroke="rgb(167,20,20)" stroke-width="0.5" opacity="0.6"/><line x1="30.0" y1="16.5" x2="38.8" y2="17.5" stroke="rgb(169,20,20)" stroke-width="0.5" opacity="0.6"/><line x1="28.6" y1="14.4" x2="38.2" y2="18.0" stroke="rgb(126,20,20)" stroke-width="0.5" opacity="0.6"/><line x1="40.9" y1="17.1" x2="49.7" y2="21.7" stroke="rgb(139,20,20)" stroke-width="0.5" opacity="0.6"/><line x1="15.5" y1="14.8" x2="28.4" y2="18.6" stroke="rgb(136,20,20)" stroke-width="0.5" opacity="0.6"/><line x1="30.2" y1="27.6" x2="42.1" y2="32.4" stroke="rgb(125,20,20)" stroke-width="0.5" opacity="0.6"/><line x1="33.1" y1="22.0" x2="38.5" y2="20.1" stroke="rgb(153,20,20)" stroke-width="0.5" opacity="0.6"/><line x1="21.2" y1="16.0" x2="33.4" y2="17.4" stroke="rgb(111,20,20)" stroke-width="0.5" opacity="0.6"/><line x1="47.1" y1="24.3" x2="54.9" y2="26.5" stroke="rgb(164,20,20)" stroke-width="0.5" opacity="0.6"/></g><g filter="url(#b03)"><circle cx="22.1" cy="17.5" r="0.4" fill="rgb(220,17,17)" opacity="0.4"/><circle cx="44.4" cy="28.1" r="0.4" fill="rgb(170,13,13)" opacity="0.5"/><circle cx="42.6" cy="19.6" r="0.3" fill="rgb(197,15,15)" opacity="0.4"/><circle cx="28.1" cy="31.4" r="0.4" fill="rgb(197,15,15)" opacity="0.5"/><circle cx="43.1" cy="26.0" r="0.5" fill="rgb(132,10,10)" opacity="0.3"/><circle cx="22.1" cy="22.3" r="0.5" fill="rgb(136,10,10)" opacity="0.3"/><circle cx="42.9" cy="51.7" r="0.4" fill="rgb(196,15,15)" opacity="0.3"/><circle cx="40.4" cy="22.1" r="0.4" fill="rgb(204,16,16)" opacity="0.3"/><circle cx="42.5" cy="30.2" r="0.4" fill="rgb(158,12,12)" opacity="0.5"/><circle cx="40.6" cy="34.4" r="0.5" fill="rgb(182,14,14)" opacity="0.2"/><circle cx="44.1" cy="24.1" r="0.4" fill="rgb(136,10,10)" opacity="0.3"/><circle cx="27.6" cy="27.4" r="0.4" fill="rgb(196,15,15)" opacity="0.4"/><circle cx="30.4" cy="23.0" r="0.4" fill="rgb(153,12,12)" opacity="0.3"/><circle cx="40.3" cy="42.7" r="0.3" fill="rgb(219,17,17)" opacity="0.4"/><circle cx="19.7" cy="17.3" r="0.5" fill="rgb(134,10,10)" opacity="0.2"/><circle cx="41.2" cy="20.8" r="0.3" fill="rgb(131,10,10)" opacity="0.4"/><circle cx="40.7" cy="23.6" r="0.6" fill="rgb(135,10,10)" opacity="0.3"/><circle cx="17.0" cy="22.3" r="0.6" fill="rgb(183,14,14)" opacity="0.4"/><circle cx="38.6" cy="19.1" r="0.6" fill="rgb(200,16,16)" opacity="0.3"/><circle cx="42.8" cy="21.1" r="0.4" fill="rgb(155,12,12)" opacity="0.2"/><circle cx="47.5" cy="49.4" r="0.6" fill="rgb(197,15,15)" opacity="0.4"/><circle cx="16.7" cy="15.1" r="0.5" fill="rgb(166,13,13)" opacity="0.4"/><circle cx="45.1" cy="50.8" r="0.4" fill="rgb(189,15,15)" opacity="0.4"/><circle cx="40.6" cy="30.2" r="0.5" fill="rgb(166,13,13)" opacity="0.4"/><circle cx="36.8" cy="26.7" r="0.5" fill="rgb(168,13,13)" opacity="0.2"/><circle cx="42.1" cy="47.7" r="0.3" fill="rgb(209,16,16)" opacity="0.4"/><circle cx="33.4" cy="30.2" r="0.4" fill="rgb(198,15,15)" opacity="0.4"/><circle cx="30.9" cy="29.2" r="0.3" fill="rgb(200,16,16)" opacity="0.4"/><circle cx="40.4" cy="44.6" r="0.5" fill="rgb(191,15,15)" opacity="0.2"/><circle cx="40.1" cy="45.8" r="0.6" fill="rgb(135,10,10)" opacity="0.4"/><circle cx="32.6" cy="24.7" r="0.6" fill="rgb(151,12,12)" opacity="0.3"/><circle cx="37.0" cy="24.4" r="0.4" fill="rgb(186,14,14)" opacity="0.2"/><circle cx="26.2" cy="27.3" r="0.6" fill="rgb(151,12,12)" opacity="0.4"/><circle cx="16.9" cy="18.5" r="0.5" fill="rgb(185,14,14)" opacity="0.4"/><circle cx="18.8" cy="26.1" r="0.3" fill="rgb(211,16,16)" opacity="0.4"/><circle cx="22.7" cy="22.7" r="0.3" fill="rgb(207,16,16)" opacity="0.4"/><circle cx="40.7" cy="46.9" r="0.4" fill="rgb(169,13,13)" opacity="0.3"/><circle cx="40.9" cy="25.3" r="0.6" fill="rgb(153,12,12)" opacity="0.5"/><circle cx="40.4" cy="18.0" r="0.3" fill="rgb(130,10,10)" opacity="0.4"/><circle cx="31.4" cy="29.1" r="0.4" fill="rgb(187,14,14)" opacity="0.3"/><circle cx="46.6" cy="26.6" r="0.5" fill="rgb(205,16,16)" opacity="0.2"/><circle cx="29.1" cy="32.7" r="0.6" fill="rgb(171,13,13)" opacity="0.3"/><circle cx="36.3" cy="27.2" r="0.5" fill="rgb(181,14,14)" opacity="0.2"/><circle cx="17.1" cy="18.0" r="0.4" fill="rgb(147,11,11)" opacity="0.4"/><circle cx="32.4" cy="30.6" r="0.3" fill="rgb(155,12,12)" opacity="0.4"/><circle cx="32.2" cy="30.0" r="0.5" fill="rgb(138,11,11)" opacity="0.4"/><circle cx="41.8" cy="44.5" r="0.5" fill="rgb(200,16,16)" opacity="0.2"/><circle cx="31.0" cy="21.5" r="0.4" fill="rgb(160,12,12)" opacity="0.5"/><circle cx="43.1" cy="29.3" r="0.4" fill="rgb(178,14,14)" opacity="0.4"/><circle cx="43.5" cy="47.9" r="0.5" fill="rgb(131,10,10)" opacity="0.2"/><circle cx="17.7" cy="13.0" r="0.4" fill="rgb(160,12,12)" opacity="0.5"/><circle cx="45.5" cy="26.4" r="0.5" fill="rgb(186,14,14)" opacity="0.3"/><circle cx="46.0" cy="49.0" r="0.3" fill="rgb(199,15,15)" opacity="0.4"/><circle cx="27.5" cy="19.8" r="0.5" fill="rgb(157,12,12)" opacity="0.3"/><circle cx="35.7" cy="20.2" r="0.4" fill="rgb(150,12,12)" opacity="0.4"/><circle cx="45.2" cy="47.0" r="0.5" fill="rgb(146,11,11)" opacity="0.3"/><circle cx="37.2" cy="29.3" r="0.5" fill="rgb(149,11,11)" opacity="0.3"/><circle cx="30.2" cy="23.3" r="0.5" fill="rgb(198,15,15)" opacity="0.4"/><circle cx="25.2" cy="18.8" r="0.5" fill="rgb(198,15,15)" opacity="0.2"/><circle cx="43.8" cy="52.0" r="0.5" fill="rgb(142,11,11)" opacity="0.4"/></g><ellipse cx="32.50" cy="29.80" rx="5.0" ry="4.6" transform="rotate(15 32.50 29.80)" fill="#203ee6" opacity="1" filter="url(#b05)"/><g filter="url(#b04)"><circle cx="29.7" cy="27.9" r="0.6" fill="#0c1c90" opacity="0.5"/><circle cx="35.7" cy="29.8" r="0.6" fill="#0c1c90" opacity="0.2"/><circle cx="30.4" cy="30.8" r="0.5" fill="#0c1c90" opacity="0.4"/><circle cx="32.4" cy="26.3" r="0.9" fill="#0c1c90" opacity="0.3"/><circle cx="33.4" cy="28.7" r="0.7" fill="#0c1c90" opacity="0.4"/><circle cx="33.8" cy="30.9" r="0.6" fill="#0c1c90" opacity="0.3"/><circle cx="29.6" cy="29.1" r="0.9" fill="#0c1c90" opacity="0.2"/><circle cx="31.8" cy="33.3" r="0.5" fill="#0c1c90" opacity="0.3"/></g><ellipse cx="3.00" cy="1.50" rx="4.5" ry="3.2" transform="rotate(0 3.00 1.50)" fill="#203ee6" opacity="1" filter="url(#b05)"/><g filter="url(#b04)"><circle cx="1.1" cy="2.2" r="0.7" fill="#0c1c90" opacity="0.3"/><circle cx="2.8" cy="1.8" r="1.0" fill="#0c1c90" opacity="0.4"/><circle cx="4.7" cy="-0.2" r="0.7" fill="#0c1c90" opacity="0.4"/><circle cx="3.6" cy="-0.0" r="0.9" fill="#0c1c90" opacity="0.3"/><circle cx="1.2" cy="2.2" r="0.6" fill="#0c1c90" opacity="0.2"/></g><g filter="url(#b03)"><circle cx="3.8" cy="4.9" r="0.6" fill="rgb(175,14,14)" opacity="0.5"/><circle cx="4.7" cy="4.7" r="0.5" fill="rgb(169,13,13)" opacity="0.6"/><circle cx="6.0" cy="7.4" r="0.5" fill="rgb(194,15,15)" opacity="0.4"/><circle cx="5.7" cy="4.5" r="0.4" fill="rgb(208,16,16)" opacity="0.5"/><circle cx="6.1" cy="4.7" r="0.5" fill="rgb(141,11,11)" opacity="0.5"/><circle cx="4.9" cy="4.5" r="0.7" fill="rgb(176,14,14)" opacity="0.8"/><circle cx="5.9" cy="6.2" r="0.6" fill="rgb(182,14,14)" opacity="0.6"/><circle cx="3.2" cy="7.0" r="0.6" fill="rgb(165,13,13)" opacity="0.7"/><circle cx="1.6" cy="4.0" r="0.5" fill="rgb(157,12,12)" opacity="0.9"/><circle cx="9.6" cy="4.0" r="0.4" fill="rgb(178,14,14)" opacity="0.4"/><circle cx="9.1" cy="4.1" r="0.4" fill="rgb(170,13,13)" opacity="0.9"/><circle cx="3.6" cy="6.7" r="0.7" fill="rgb(169,13,13)" opacity="0.6"/><circle cx="56.9" cy="1.1" r="0.5" fill="rgb(181,14,14)" opacity="0.7"/><circle cx="57.3" cy="1.1" r="0.4" fill="rgb(163,13,13)" opacity="1.0"/><circle cx="54.4" cy="1.1" r="0.5" fill="rgb(145,11,11)" opacity="0.5"/><circle cx="57.8" cy="0.5" r="0.5" fill="rgb(147,11,11)" opacity="0.5"/><circle cx="55.4" cy="1.5" r="0.6" fill="rgb(139,11,11)" opacity="0.6"/><circle cx="2.0" cy="49.0" r="0.5" fill="rgb(191,15,15)" opacity="0.5"/><circle cx="0.6" cy="50.0" r="0.5" fill="rgb(178,14,14)" opacity="0.5"/><circle cx="4.0" cy="45.3" r="0.6" fill="rgb(143,11,11)" opacity="0.3"/><circle cx="1.5" cy="46.2" r="0.3" fill="rgb(133,10,10)" opacity="0.6"/><circle cx="1.7" cy="51.0" r="0.4" fill="rgb(202,16,16)" opacity="0.5"/><circle cx="1.4" cy="48.6" r="0.4" fill="rgb(141,11,11)" opacity="0.4"/><circle cx="0.3" cy="53.8" r="0.4" fill="rgb(130,10,10)" opacity="0.5"/><circle cx="1.5" cy="50.6" r="0.5" fill="rgb(213,17,17)" opacity="0.6"/><circle cx="0.2" cy="49.1" r="0.4" fill="rgb(158,12,12)" opacity="0.7"/><circle cx="0.6" cy="53.1" r="0.4" fill="rgb(191,15,15)" opacity="0.5"/><circle cx="1.3" cy="48.3" r="0.5" fill="rgb(134,10,10)" opacity="0.5"/><circle cx="0.2" cy="51.5" r="0.4" fill="rgb(163,13,13)" opacity="0.4"/><circle cx="1.2" cy="50.3" r="0.4" fill="rgb(218,17,17)" opacity="0.7"/><circle cx="0.9" cy="52.7" r="0.3" fill="rgb(130,10,10)" opacity="0.6"/><circle cx="0.6" cy="38.3" r="0.4" fill="rgb(157,12,12)" opacity="0.4"/></g></g></g><g transform="translate(442.1,161.5)"><g clip-path="url(#k12)"><g filter="url(#b03)"><circle cx="16.1" cy="22.7" r="0.6" fill="rgb(194,124,9)" opacity="0.8"/><circle cx="33.5" cy="19.6" r="0.3" fill="rgb(155,99,7)" opacity="0.6"/><circle cx="36.7" cy="35.1" r="0.4" fill="rgb(210,134,10)" opacity="0.9"/><circle cx="16.2" cy="22.2" r="0.4" fill="rgb(142,90,7)" opacity="0.9"/><circle cx="36.8" cy="38.6" r="0.6" fill="rgb(150,96,7)" opacity="0.6"/><circle cx="42.0" cy="27.0" r="0.5" fill="rgb(191,122,9)" opacity="0.6"/><circle cx="40.3" cy="41.4" r="0.4" fill="rgb(154,98,7)" opacity="0.8"/><circle cx="33.8" cy="27.7" r="0.5" fill="rgb(195,124,9)" opacity="0.6"/><circle cx="21.2" cy="20.1" r="0.6" fill="rgb(200,128,10)" opacity="1.0"/><circle cx="34.8" cy="27.4" r="0.3" fill="rgb(157,100,7)" opacity="0.7"/><circle cx="15.4" cy="24.4" r="0.4" fill="rgb(148,94,7)" opacity="1.0"/><circle cx="30.9" cy="22.9" r="0.5" fill="rgb(188,120,9)" opacity="0.7"/><circle cx="41.9" cy="22.5" r="0.7" fill="rgb(188,120,9)" opacity="0.7"/><circle cx="41.3" cy="19.8" r="0.6" fill="rgb(145,92,7)" opacity="0.7"/><circle cx="13.7" cy="24.6" r="0.7" fill="rgb(203,129,10)" opacity="0.7"/><circle cx="33.1" cy="23.0" r="0.6" fill="rgb(143,91,7)" opacity="0.6"/><circle cx="24.0" cy="23.6" r="0.7" fill="rgb(172,110,8)" opacity="0.5"/><circle cx="32.4" cy="30.2" r="0.6" fill="rgb(167,106,8)" opacity="0.6"/><circle cx="21.9" cy="19.9" r="0.4" fill="rgb(205,131,10)" opacity="0.7"/><circle cx="40.2" cy="31.8" r="0.6" fill="rgb(196,125,9)" opacity="0.8"/><circle cx="28.6" cy="19.0" r="0.8" fill="rgb(160,102,8)" opacity="0.4"/><circle cx="29.8" cy="18.9" r="0.7" fill="rgb(168,107,8)" opacity="0.8"/><circle cx="43.5" cy="45.4" r="0.7" fill="rgb(161,103,8)" opacity="0.6"/><circle cx="38.5" cy="22.0" r="0.7" fill="rgb(141,90,7)" opacity="0.6"/><circle cx="39.8" cy="46.5" r="0.3" fill="rgb(176,112,8)" opacity="0.9"/><circle cx="45.2" cy="48.6" r="0.8" fill="rgb(224,143,11)" opacity="0.5"/><circle cx="13.8" cy="18.2" r="0.6" fill="rgb(181,115,9)" opacity="0.7"/><circle cx="44.0" cy="22.0" r="0.3" fill="rgb(199,127,9)" opacity="0.8"/><circle cx="27.8" cy="23.2" r="0.5" fill="rgb(197,126,9)" opacity="0.6"/><circle cx="22.4" cy="26.4" r="0.6" fill="rgb(175,112,8)" opacity="0.7"/><circle cx="19.4" cy="15.6" r="0.5" fill="rgb(213,136,10)" opacity="0.6"/><circle cx="39.8" cy="48.7" r="0.7" fill="rgb(167,106,8)" opacity="0.3"/><circle cx="39.7" cy="31.3" r="0.6" fill="rgb(163,104,8)" opacity="1.0"/><circle cx="21.3" cy="27.3" r="0.8" fill="rgb(159,101,7)" opacity="0.5"/><circle cx="29.3" cy="28.6" r="0.7" fill="rgb(185,118,9)" opacity="0.5"/><circle cx="40.4" cy="27.7" r="0.8" fill="rgb(165,105,8)" opacity="0.3"/><circle cx="42.1" cy="42.3" r="0.4" fill="rgb(183,117,9)" opacity="0.9"/><circle cx="33.7" cy="22.6" r="0.7" fill="rgb(175,112,8)" opacity="0.8"/><circle cx="24.1" cy="20.3" r="0.4" fill="rgb(224,143,11)" opacity="0.9"/><circle cx="15.5" cy="15.3" r="0.5" fill="rgb(155,99,7)" opacity="0.5"/><circle cx="40.7" cy="23.1" r="0.4" fill="rgb(190,121,9)" opacity="0.4"/><circle cx="21.4" cy="16.6" r="0.8" fill="rgb(214,136,10)" opacity="0.9"/><circle cx="43.3" cy="25.2" r="0.7" fill="rgb(196,125,9)" opacity="0.5"/><circle cx="41.2" cy="40.5" r="0.4" fill="rgb(198,126,9)" opacity="0.4"/><circle cx="41.6" cy="24.0" r="0.6" fill="rgb(169,108,8)" opacity="0.7"/><circle cx="35.5" cy="24.7" r="0.5" fill="rgb(195,124,9)" opacity="0.9"/><circle cx="14.5" cy="14.0" r="0.6" fill="rgb(206,131,10)" opacity="0.6"/><circle cx="28.0" cy="29.5" r="0.7" fill="rgb(208,133,10)" opacity="0.8"/><circle cx="17.4" cy="13.2" r="0.5" fill="rgb(187,119,9)" opacity="0.4"/><circle cx="38.1" cy="35.1" r="0.5" fill="rgb(199,127,9)" opacity="0.9"/><circle cx="37.1" cy="36.9" r="0.7" fill="rgb(157,100,7)" opacity="0.4"/><circle cx="43.6" cy="51.4" r="0.7" fill="rgb(166,106,8)" opacity="1.0"/><circle cx="21.2" cy="19.3" r="0.7" fill="rgb(142,90,7)" opacity="0.4"/><circle cx="13.6" cy="14.7" r="0.6" fill="rgb(155,99,7)" opacity="0.9"/><circle cx="17.0" cy="21.8" r="0.7" fill="rgb(212,135,10)" opacity="0.5"/><circle cx="35.7" cy="36.8" r="0.4" fill="rgb(187,119,9)" opacity="0.8"/><circle cx="31.2" cy="20.0" r="0.7" fill="rgb(211,135,10)" opacity="0.5"/><circle cx="39.5" cy="47.9" r="0.3" fill="rgb(206,131,10)" opacity="0.6"/><circle cx="37.8" cy="43.3" r="0.5" fill="rgb(220,140,11)" opacity="0.5"/><circle cx="24.2" cy="19.0" r="0.5" fill="rgb(145,92,7)" opacity="0.5"/><circle cx="37.1" cy="30.3" r="0.4" fill="rgb(183,117,9)" opacity="0.9"/><circle cx="34.6" cy="28.5" r="0.8" fill="rgb(218,139,10)" opacity="0.4"/><circle cx="44.5" cy="25.4" r="0.8" fill="rgb(148,94,7)" opacity="0.4"/><circle cx="32.5" cy="30.1" r="0.7" fill="rgb(151,96,7)" opacity="0.4"/><circle cx="44.7" cy="48.2" r="0.7" fill="rgb(149,95,7)" opacity="0.8"/><circle cx="19.3" cy="21.9" r="0.4" fill="rgb(188,120,9)" opacity="0.7"/><circle cx="22.4" cy="15.9" r="0.6" fill="rgb(216,138,10)" opacity="0.4"/><circle cx="16.6" cy="23.4" r="0.8" fill="rgb(191,122,9)" opacity="0.9"/><circle cx="19.4" cy="20.0" r="0.5" fill="rgb(167,106,8)" opacity="0.7"/><circle cx="12.3" cy="11.1" r="0.6" fill="rgb(189,120,9)" opacity="0.8"/><circle cx="28.8" cy="23.8" r="0.7" fill="rgb(154,98,7)" opacity="0.4"/><circle cx="24.7" cy="28.9" r="0.4" fill="rgb(147,94,7)" opacity="0.5"/><circle cx="40.3" cy="39.7" r="0.6" fill="rgb(145,92,7)" opacity="0.8"/><circle cx="44.3" cy="49.6" r="0.4" fill="rgb(169,108,8)" opacity="0.7"/><circle cx="39.2" cy="37.8" r="0.5" fill="rgb(173,110,8)" opacity="0.5"/><circle cx="19.8" cy="15.9" r="0.3" fill="rgb(168,107,8)" opacity="0.6"/><circle cx="18.5" cy="22.2" r="0.6" fill="rgb(203,129,10)" opacity="1.0"/><circle cx="35.6" cy="17.5" r="0.4" fill="rgb(163,104,8)" opacity="0.8"/><circle cx="36.3" cy="20.3" r="0.7" fill="rgb(164,104,8)" opacity="0.6"/><circle cx="20.9" cy="19.7" r="0.6" fill="rgb(205,131,10)" opacity="0.9"/><circle cx="49.2" cy="23.5" r="0.6" fill="rgb(187,119,9)" opacity="0.4"/><circle cx="31.6" cy="27.5" r="0.5" fill="rgb(194,124,9)" opacity="0.9"/><circle cx="39.9" cy="47.3" r="0.5" fill="rgb(170,108,8)" opacity="0.9"/><circle cx="44.1" cy="26.2" r="0.6" fill="rgb(207,132,10)" opacity="0.8"/><circle cx="35.9" cy="33.1" r="0.8" fill="rgb(152,97,7)" opacity="0.8"/><circle cx="27.1" cy="27.6" r="0.7" fill="rgb(152,97,7)" opacity="0.8"/><circle cx="44.3" cy="46.7" r="0.6" fill="rgb(201,128,10)" opacity="0.6"/><circle cx="24.0" cy="28.0" r="0.4" fill="rgb(198,126,9)" opacity="0.8"/><circle cx="34.0" cy="19.7" r="0.5" fill="rgb(191,122,9)" opacity="0.7"/><circle cx="34.0" cy="26.4" r="0.5" fill="rgb(142,90,7)" opacity="0.7"/><circle cx="37.4" cy="29.7" r="0.8" fill="rgb(193,123,9)" opacity="0.8"/><circle cx="29.9" cy="33.2" r="0.4" fill="rgb(180,115,9)" opacity="0.5"/><circle cx="42.7" cy="48.5" r="0.8" fill="rgb(191,122,9)" opacity="1.0"/><circle cx="45.8" cy="25.7" r="0.7" fill="rgb(205,131,10)" opacity="0.5"/><circle cx="33.5" cy="18.7" r="0.3" fill="rgb(197,126,9)" opacity="0.9"/><circle cx="31.1" cy="30.0" r="0.6" fill="rgb(184,117,9)" opacity="0.7"/><circle cx="32.0" cy="20.3" r="0.8" fill="rgb(201,128,10)" opacity="0.8"/><circle cx="14.7" cy="18.7" r="0.6" fill="rgb(174,111,8)" opacity="0.6"/><circle cx="40.6" cy="29.2" r="0.7" fill="rgb(206,131,10)" opacity="0.7"/><circle cx="38.7" cy="24.0" r="0.7" fill="rgb(189,120,9)" opacity="0.8"/><circle cx="40.9" cy="30.0" r="0.7" fill="rgb(140,89,7)" opacity="1.0"/><circle cx="33.6" cy="32.2" r="0.3" fill="rgb(162,103,8)" opacity="0.7"/><circle cx="23.3" cy="18.5" r="0.3" fill="rgb(184,117,9)" opacity="0.7"/><circle cx="13.5" cy="22.2" r="0.7" fill="rgb(205,131,10)" opacity="0.3"/><circle cx="28.5" cy="27.9" r="0.7" fill="rgb(150,96,7)" opacity="0.7"/><circle cx="41.2" cy="25.9" r="0.6" fill="rgb(222,142,11)" opacity="0.7"/><circle cx="44.5" cy="24.0" r="0.5" fill="rgb(178,113,8)" opacity="0.7"/><circle cx="42.5" cy="41.9" r="0.7" fill="rgb(158,101,7)" opacity="0.8"/><circle cx="21.9" cy="17.5" r="0.6" fill="rgb(171,109,8)" opacity="0.4"/><circle cx="41.2" cy="48.3" r="0.5" fill="rgb(140,89,7)" opacity="0.3"/><circle cx="30.4" cy="21.8" r="0.6" fill="rgb(142,90,7)" opacity="0.5"/><circle cx="30.8" cy="27.6" r="0.6" fill="rgb(159,101,7)" opacity="0.9"/><circle cx="35.8" cy="31.8" r="0.7" fill="rgb(187,119,9)" opacity="0.6"/><circle cx="33.9" cy="31.6" r="0.7" fill="rgb(213,136,10)" opacity="0.6"/><circle cx="35.4" cy="24.9" r="0.4" fill="rgb(168,107,8)" opacity="0.9"/><circle cx="35.4" cy="30.0" r="0.7" fill="rgb(193,123,9)" opacity="0.6"/><circle cx="24.2" cy="25.6" r="0.6" fill="rgb(178,113,8)" opacity="0.8"/><circle cx="39.1" cy="23.5" r="0.5" fill="rgb(160,102,8)" opacity="0.5"/><circle cx="39.1" cy="28.3" r="0.6" fill="rgb(174,111,8)" opacity="1.0"/><circle cx="36.6" cy="23.5" r="0.4" fill="rgb(210,134,10)" opacity="0.6"/><circle cx="35.6" cy="23.7" r="0.8" fill="rgb(202,129,10)" opacity="1.0"/><circle cx="26.8" cy="27.2" r="0.7" fill="rgb(204,130,10)" opacity="0.7"/><circle cx="31.6" cy="27.9" r="0.7" fill="rgb(158,101,7)" opacity="0.7"/><circle cx="35.6" cy="20.9" r="0.6" fill="rgb(149,95,7)" opacity="0.6"/><circle cx="34.8" cy="26.5" r="0.5" fill="rgb(217,138,10)" opacity="0.6"/><circle cx="35.8" cy="27.8" r="0.5" fill="rgb(213,136,10)" opacity="0.7"/><circle cx="33.3" cy="28.3" r="0.6" fill="rgb(207,132,10)" opacity="0.6"/><circle cx="36.9" cy="30.2" r="0.4" fill="rgb(163,104,8)" opacity="0.6"/><circle cx="34.6" cy="29.3" r="0.7" fill="rgb(198,126,9)" opacity="0.7"/><circle cx="28.0" cy="25.7" r="0.7" fill="rgb(150,96,7)" opacity="0.8"/><circle cx="41.0" cy="28.3" r="0.6" fill="rgb(224,143,11)" opacity="0.6"/><circle cx="32.3" cy="20.8" r="0.6" fill="rgb(180,115,9)" opacity="0.9"/><circle cx="38.7" cy="28.3" r="0.5" fill="rgb(171,109,8)" opacity="0.6"/><circle cx="34.8" cy="33.1" r="0.5" fill="rgb(215,137,10)" opacity="0.8"/><circle cx="34.4" cy="30.0" r="0.5" fill="rgb(150,96,7)" opacity="0.8"/><circle cx="33.5" cy="33.7" r="0.6" fill="rgb(174,111,8)" opacity="0.7"/><circle cx="39.4" cy="27.2" r="0.6" fill="rgb(222,142,11)" opacity="0.8"/><circle cx="34.4" cy="20.6" r="0.7" fill="rgb(147,94,7)" opacity="0.7"/><circle cx="26.9" cy="29.5" r="0.7" fill="rgb(198,126,9)" opacity="0.7"/><circle cx="25.3" cy="23.1" r="0.5" fill="rgb(225,144,11)" opacity="0.9"/><circle cx="39.4" cy="28.7" r="0.7" fill="rgb(160,102,8)" opacity="1.0"/><circle cx="27.5" cy="29.0" r="0.5" fill="rgb(197,126,9)" opacity="0.9"/><circle cx="29.5" cy="29.7" r="0.5" fill="rgb(148,94,7)" opacity="0.7"/><circle cx="33.8" cy="21.2" r="0.6" fill="rgb(203,129,10)" opacity="0.6"/><circle cx="27.4" cy="26.1" r="0.8" fill="rgb(199,127,9)" opacity="0.6"/><circle cx="25.9" cy="25.4" r="0.7" fill="rgb(176,112,8)" opacity="0.7"/><circle cx="35.8" cy="22.8" r="0.7" fill="rgb(184,117,9)" opacity="0.7"/><circle cx="27.4" cy="26.2" r="0.5" fill="rgb(176,112,8)" opacity="0.9"/><circle cx="40.4" cy="27.3" r="0.4" fill="rgb(145,92,7)" opacity="0.9"/><circle cx="32.4" cy="27.3" r="0.8" fill="rgb(218,139,10)" opacity="1.0"/><circle cx="26.3" cy="24.1" r="0.8" fill="rgb(167,106,8)" opacity="0.7"/><circle cx="32.1" cy="28.2" r="0.7" fill="rgb(200,128,10)" opacity="0.9"/><circle cx="36.7" cy="24.0" r="0.7" fill="rgb(187,119,9)" opacity="0.9"/><circle cx="33.6" cy="26.5" r="0.5" fill="rgb(203,129,10)" opacity="0.8"/><circle cx="24.6" cy="22.3" r="0.4" fill="rgb(180,115,9)" opacity="0.8"/><circle cx="29.3" cy="30.2" r="0.5" fill="rgb(219,140,10)" opacity="0.9"/><circle cx="30.3" cy="29.1" r="0.7" fill="rgb(203,129,10)" opacity="0.6"/><circle cx="39.8" cy="27.4" r="0.7" fill="rgb(199,127,9)" opacity="0.9"/><circle cx="37.6" cy="29.6" r="0.7" fill="rgb(152,97,7)" opacity="0.6"/><circle cx="30.7" cy="20.9" r="0.6" fill="rgb(186,119,9)" opacity="0.9"/><circle cx="33.8" cy="22.7" r="0.5" fill="rgb(218,139,10)" opacity="0.7"/><circle cx="33.4" cy="26.1" r="0.5" fill="rgb(179,114,8)" opacity="0.6"/><circle cx="34.3" cy="28.8" r="0.5" fill="rgb(183,117,9)" opacity="0.7"/><circle cx="28.2" cy="29.1" r="0.6" fill="rgb(153,97,7)" opacity="1.0"/><circle cx="30.2" cy="30.2" r="0.7" fill="rgb(189,120,9)" opacity="0.8"/><circle cx="29.4" cy="28.2" r="0.6" fill="rgb(167,106,8)" opacity="0.6"/><circle cx="33.1" cy="25.8" r="0.4" fill="rgb(190,121,9)" opacity="0.5"/><circle cx="33.5" cy="33.5" r="0.6" fill="rgb(182,116,9)" opacity="0.6"/><circle cx="28.3" cy="28.7" r="0.6" fill="rgb(219,140,10)" opacity="0.7"/><circle cx="40.7" cy="27.7" r="0.7" fill="rgb(167,106,8)" opacity="0.5"/></g><ellipse cx="31.10" cy="29.10" rx="5.4" ry="4.4" transform="rotate(25 31.10 29.10)" fill="#203ee6" opacity="1" filter="url(#b05)"/><g filter="url(#b04)"><circle cx="30.1" cy="27.3" r="1.0" fill="#0c1c90" opacity="0.2"/><circle cx="31.8" cy="28.4" r="0.6" fill="#0c1c90" opacity="0.4"/><circle cx="29.5" cy="32.0" r="0.8" fill="#0c1c90" opacity="0.3"/><circle cx="29.3" cy="32.1" r="1.0" fill="#0c1c90" opacity="0.4"/><circle cx="32.6" cy="32.0" r="0.7" fill="#0c1c90" opacity="0.2"/><circle cx="27.4" cy="30.5" r="0.8" fill="#0c1c90" opacity="0.2"/><circle cx="33.5" cy="31.7" r="0.9" fill="#0c1c90" opacity="0.2"/><circle cx="27.4" cy="28.8" r="0.8" fill="#0c1c90" opacity="0.2"/></g><ellipse cx="1.50" cy="1.00" rx="3.5" ry="2.6" transform="rotate(0 1.50 1.00)" fill="#203ee6" opacity="1" filter="url(#b05)"/><g filter="url(#b04)"><circle cx="1.1" cy="2.0" r="0.8" fill="#0c1c90" opacity="0.4"/><circle cx="-0.5" cy="2.3" r="0.6" fill="#0c1c90" opacity="0.3"/><circle cx="2.6" cy="2.9" r="0.6" fill="#0c1c90" opacity="0.3"/></g><g filter="url(#b03)"><circle cx="3.9" cy="4.4" r="0.3" fill="rgb(183,117,9)" opacity="1.0"/><circle cx="4.0" cy="3.4" r="0.6" fill="rgb(154,98,7)" opacity="0.8"/><circle cx="6.1" cy="5.3" r="0.6" fill="rgb(224,143,11)" opacity="0.8"/><circle cx="7.2" cy="3.1" r="0.3" fill="rgb(176,112,8)" opacity="0.9"/><circle cx="4.6" cy="2.1" r="0.4" fill="rgb(192,122,9)" opacity="0.9"/><circle cx="6.3" cy="2.9" r="0.6" fill="rgb(163,104,8)" opacity="0.7"/><circle cx="5.0" cy="45.5" r="0.6" fill="rgb(158,101,7)" opacity="0.7"/><circle cx="3.5" cy="54.3" r="0.5" fill="rgb(146,93,7)" opacity="0.3"/><circle cx="1.4" cy="51.7" r="0.3" fill="rgb(149,95,7)" opacity="0.7"/><circle cx="5.1" cy="49.7" r="0.5" fill="rgb(176,112,8)" opacity="0.8"/><circle cx="4.9" cy="51.1" r="0.4" fill="rgb(156,99,7)" opacity="0.6"/><circle cx="1.6" cy="43.4" r="0.4" fill="rgb(187,119,9)" opacity="0.4"/><circle cx="4.9" cy="52.8" r="0.4" fill="rgb(217,138,10)" opacity="0.7"/><circle cx="4.3" cy="39.2" r="0.4" fill="rgb(150,96,7)" opacity="0.5"/><circle cx="3.4" cy="44.9" r="0.3" fill="rgb(157,100,7)" opacity="0.8"/><circle cx="4.0" cy="52.9" r="0.4" fill="rgb(202,129,10)" opacity="0.5"/><circle cx="3.8" cy="44.5" r="0.4" fill="rgb(166,106,8)" opacity="0.7"/><circle cx="2.6" cy="38.9" r="0.6" fill="rgb(219,140,10)" opacity="0.6"/><circle cx="2.8" cy="41.1" r="0.3" fill="rgb(223,142,11)" opacity="0.7"/><circle cx="5.3" cy="52.8" r="0.5" fill="rgb(141,90,7)" opacity="0.5"/><circle cx="0.8" cy="42.4" r="0.4" fill="rgb(147,94,7)" opacity="0.8"/><circle cx="0.8" cy="44.5" r="0.5" fill="rgb(200,128,10)" opacity="0.4"/><circle cx="3.6" cy="46.9" r="0.4" fill="rgb(218,139,10)" opacity="0.4"/><circle cx="3.3" cy="44.5" r="0.5" fill="rgb(189,120,9)" opacity="0.7"/></g></g></g><g transform="translate(299.0,229.9)"><g clip-path="url(#k13)"><g filter="url(#b03)"><circle cx="5.6" cy="28.9" r="0.6" fill="rgb(48,195,35)" opacity="0.6"/><circle cx="17.0" cy="39.7" r="0.9" fill="rgb(57,229,41)" opacity="0.8"/><circle cx="7.7" cy="32.5" r="0.5" fill="rgb(56,226,40)" opacity="0.7"/><circle cx="18.1" cy="40.9" r="0.5" fill="rgb(44,176,31)" opacity="0.8"/><circle cx="9.1" cy="33.6" r="0.5" fill="rgb(52,211,37)" opacity="0.9"/><circle cx="17.5" cy="27.3" r="0.6" fill="rgb(48,194,34)" opacity="0.9"/><circle cx="15.9" cy="40.2" r="0.7" fill="rgb(57,229,41)" opacity="0.9"/><circle cx="19.5" cy="34.5" r="0.7" fill="rgb(39,156,28)" opacity="0.7"/><circle cx="22.4" cy="24.8" r="0.6" fill="rgb(41,166,29)" opacity="0.5"/><circle cx="17.4" cy="27.5" r="0.7" fill="rgb(51,205,36)" opacity="0.5"/><circle cx="21.3" cy="23.0" r="0.5" fill="rgb(41,166,29)" opacity="0.6"/><circle cx="22.8" cy="48.0" r="0.5" fill="rgb(54,217,39)" opacity="0.9"/><circle cx="23.5" cy="24.1" r="0.8" fill="rgb(55,220,39)" opacity="0.8"/><circle cx="19.9" cy="27.0" r="0.5" fill="rgb(39,156,28)" opacity="0.8"/><circle cx="21.0" cy="43.8" r="0.7" fill="rgb(58,234,42)" opacity="0.4"/><circle cx="14.1" cy="25.6" r="0.4" fill="rgb(49,198,35)" opacity="0.5"/><circle cx="22.3" cy="24.9" r="0.9" fill="rgb(46,185,33)" opacity="0.5"/><circle cx="15.0" cy="19.3" r="0.6" fill="rgb(42,171,30)" opacity="0.7"/><circle cx="21.9" cy="37.6" r="0.6" fill="rgb(49,198,35)" opacity="0.8"/><circle cx="12.0" cy="23.7" r="0.4" fill="rgb(52,211,37)" opacity="0.9"/><circle cx="5.0" cy="27.6" r="0.9" fill="rgb(54,219,39)" opacity="0.5"/><circle cx="14.3" cy="39.5" r="0.8" fill="rgb(50,200,36)" opacity="0.5"/><circle cx="8.3" cy="27.8" r="0.5" fill="rgb(55,221,39)" opacity="0.8"/><circle cx="15.6" cy="24.5" r="0.8" fill="rgb(40,160,28)" opacity="0.5"/><circle cx="10.3" cy="31.4" r="0.9" fill="rgb(55,220,39)" opacity="0.8"/><circle cx="22.5" cy="29.9" r="0.6" fill="rgb(42,171,30)" opacity="0.5"/><circle cx="15.1" cy="31.9" r="0.7" fill="rgb(41,164,29)" opacity="0.9"/><circle cx="6.5" cy="24.3" r="0.7" fill="rgb(37,150,27)" opacity="0.8"/><circle cx="16.5" cy="40.3" r="0.8" fill="rgb(51,207,37)" opacity="0.8"/><circle cx="13.2" cy="38.7" r="0.9" fill="rgb(49,199,35)" opacity="0.8"/><circle cx="4.7" cy="26.8" r="0.5" fill="rgb(53,212,38)" opacity="0.7"/><circle cx="18.0" cy="27.3" r="0.5" fill="rgb(41,164,29)" opacity="0.8"/><circle cx="18.5" cy="28.7" r="0.4" fill="rgb(51,207,37)" opacity="0.5"/><circle cx="23.3" cy="25.8" r="0.5" fill="rgb(45,181,32)" opacity="0.5"/><circle cx="20.4" cy="46.9" r="0.7" fill="rgb(46,184,33)" opacity="0.5"/><circle cx="10.5" cy="32.2" r="0.8" fill="rgb(50,200,36)" opacity="0.5"/><circle cx="24.6" cy="27.0" r="0.8" fill="rgb(42,169,30)" opacity="1.0"/><circle cx="20.4" cy="23.7" r="0.7" fill="rgb(51,204,36)" opacity="0.5"/><circle cx="16.1" cy="24.2" r="0.6" fill="rgb(50,202,36)" opacity="1.0"/><circle cx="20.2" cy="37.0" r="0.8" fill="rgb(54,216,38)" opacity="0.9"/><circle cx="20.1" cy="39.7" r="0.5" fill="rgb(52,208,37)" opacity="0.5"/><circle cx="18.4" cy="32.5" r="0.7" fill="rgb(58,235,42)" opacity="0.5"/><circle cx="8.1" cy="33.1" r="0.4" fill="rgb(42,171,30)" opacity="0.7"/><circle cx="11.0" cy="24.4" r="0.8" fill="rgb(53,212,38)" opacity="0.7"/><circle cx="17.7" cy="35.4" r="0.6" fill="rgb(52,208,37)" opacity="0.4"/><circle cx="19.1" cy="20.9" r="0.5" fill="rgb(46,185,33)" opacity="0.9"/><circle cx="11.4" cy="24.3" r="0.9" fill="rgb(54,218,39)" opacity="0.6"/><circle cx="19.4" cy="46.6" r="0.9" fill="rgb(49,199,35)" opacity="0.5"/><circle cx="9.1" cy="26.0" r="0.8" fill="rgb(45,182,32)" opacity="0.7"/><circle cx="16.5" cy="42.5" r="0.8" fill="rgb(40,162,29)" opacity="0.6"/><circle cx="19.8" cy="30.8" r="0.5" fill="rgb(49,198,35)" opacity="0.5"/><circle cx="19.2" cy="43.5" r="0.7" fill="rgb(51,206,37)" opacity="0.6"/><circle cx="18.6" cy="23.8" r="0.8" fill="rgb(40,161,28)" opacity="0.7"/><circle cx="12.7" cy="38.2" r="0.4" fill="rgb(57,231,41)" opacity="0.6"/><circle cx="8.2" cy="33.0" r="0.4" fill="rgb(55,220,39)" opacity="0.7"/><circle cx="17.0" cy="31.9" r="0.9" fill="rgb(53,212,38)" opacity="1.0"/><circle cx="23.8" cy="26.1" r="0.7" fill="rgb(39,158,28)" opacity="0.6"/><circle cx="12.0" cy="22.2" r="0.7" fill="rgb(43,174,31)" opacity="0.8"/><circle cx="20.7" cy="44.3" r="0.6" fill="rgb(49,197,35)" opacity="0.5"/><circle cx="14.2" cy="38.5" r="0.6" fill="rgb(53,215,38)" opacity="0.9"/><circle cx="15.6" cy="25.3" r="0.6" fill="rgb(39,157,28)" opacity="0.5"/><circle cx="15.0" cy="37.4" r="0.8" fill="rgb(41,167,30)" opacity="0.8"/><circle cx="19.3" cy="38.2" r="0.7" fill="rgb(49,198,35)" opacity="0.7"/><circle cx="12.0" cy="22.7" r="0.9" fill="rgb(41,164,29)" opacity="0.7"/><circle cx="15.5" cy="35.4" r="0.5" fill="rgb(53,213,38)" opacity="0.6"/><circle cx="20.8" cy="32.1" r="0.5" fill="rgb(38,153,27)" opacity="0.9"/><circle cx="7.3" cy="30.9" r="0.7" fill="rgb(55,223,40)" opacity="0.6"/><circle cx="11.2" cy="25.1" r="0.7" fill="rgb(46,186,33)" opacity="0.5"/><circle cx="12.3" cy="36.0" r="0.6" fill="rgb(39,157,28)" opacity="1.0"/><circle cx="5.9" cy="30.4" r="0.5" fill="rgb(50,202,36)" opacity="0.4"/><circle cx="16.0" cy="32.5" r="0.5" fill="rgb(46,187,33)" opacity="0.8"/><circle cx="7.7" cy="26.1" r="0.5" fill="rgb(42,170,30)" opacity="0.7"/><circle cx="15.8" cy="23.9" r="0.8" fill="rgb(57,229,41)" opacity="0.6"/><circle cx="22.9" cy="37.4" r="0.6" fill="rgb(44,179,32)" opacity="0.4"/><circle cx="11.4" cy="29.4" r="0.5" fill="rgb(50,201,36)" opacity="0.7"/><circle cx="22.6" cy="47.0" r="0.8" fill="rgb(41,167,30)" opacity="0.6"/><circle cx="10.0" cy="35.7" r="0.8" fill="rgb(46,187,33)" opacity="0.5"/><circle cx="13.5" cy="21.4" r="0.6" fill="rgb(50,202,36)" opacity="1.0"/><circle cx="17.4" cy="34.7" r="0.6" fill="rgb(49,197,35)" opacity="0.6"/><circle cx="20.6" cy="28.3" r="0.6" fill="rgb(42,170,30)" opacity="0.6"/><circle cx="17.9" cy="33.3" r="0.9" fill="rgb(54,217,39)" opacity="0.6"/><circle cx="21.2" cy="24.2" r="0.5" fill="rgb(42,171,30)" opacity="0.6"/><circle cx="11.2" cy="25.6" r="0.5" fill="rgb(58,233,41)" opacity="0.8"/><circle cx="18.0" cy="43.0" r="0.7" fill="rgb(40,161,28)" opacity="0.7"/><circle cx="10.2" cy="32.7" r="0.7" fill="rgb(50,203,36)" opacity="0.9"/><circle cx="6.6" cy="28.5" r="0.9" fill="rgb(47,191,34)" opacity="1.0"/><circle cx="10.5" cy="24.8" r="0.5" fill="rgb(56,224,40)" opacity="0.5"/><circle cx="17.0" cy="41.1" r="0.6" fill="rgb(44,177,31)" opacity="0.8"/><circle cx="15.5" cy="31.1" r="0.9" fill="rgb(49,196,35)" opacity="0.7"/><circle cx="19.9" cy="34.8" r="0.9" fill="rgb(38,153,27)" opacity="0.8"/><circle cx="20.0" cy="34.1" r="0.6" fill="rgb(54,216,38)" opacity="0.6"/><circle cx="21.0" cy="33.8" r="0.8" fill="rgb(47,188,33)" opacity="0.9"/><circle cx="19.1" cy="20.3" r="0.7" fill="rgb(42,171,30)" opacity="0.5"/><circle cx="19.1" cy="23.6" r="0.5" fill="rgb(49,197,35)" opacity="0.6"/><circle cx="5.6" cy="27.6" r="0.5" fill="rgb(49,197,35)" opacity="0.6"/><circle cx="7.5" cy="25.4" r="0.8" fill="rgb(40,163,29)" opacity="0.7"/><circle cx="18.1" cy="23.8" r="0.5" fill="rgb(58,234,42)" opacity="0.9"/><circle cx="13.9" cy="32.8" r="0.7" fill="rgb(40,160,28)" opacity="0.5"/><circle cx="15.2" cy="24.1" r="0.6" fill="rgb(55,221,39)" opacity="0.6"/><circle cx="10.1" cy="34.2" r="0.9" fill="rgb(47,189,34)" opacity="0.8"/><circle cx="12.9" cy="30.4" r="0.8" fill="rgb(45,182,32)" opacity="0.8"/><circle cx="14.6" cy="33.5" r="0.6" fill="rgb(44,179,32)" opacity="0.9"/><circle cx="19.1" cy="31.1" r="0.5" fill="rgb(52,208,37)" opacity="0.6"/><circle cx="18.4" cy="22.2" r="0.6" fill="rgb(46,184,33)" opacity="0.5"/><circle cx="16.6" cy="32.6" r="0.5" fill="rgb(42,168,30)" opacity="1.0"/><circle cx="19.5" cy="49.0" r="0.5" fill="rgb(58,235,42)" opacity="0.9"/><circle cx="5.4" cy="30.5" r="0.5" fill="rgb(46,185,33)" opacity="0.8"/><circle cx="17.1" cy="21.9" r="0.8" fill="rgb(58,232,41)" opacity="0.4"/><circle cx="22.5" cy="35.3" r="0.8" fill="rgb(57,231,41)" opacity="0.5"/><circle cx="22.2" cy="47.2" r="0.6" fill="rgb(46,185,33)" opacity="0.7"/><circle cx="21.0" cy="45.5" r="0.9" fill="rgb(45,180,32)" opacity="0.9"/><circle cx="15.2" cy="33.5" r="0.6" fill="rgb(44,179,32)" opacity="0.6"/><circle cx="24.3" cy="30.5" r="0.8" fill="rgb(43,174,31)" opacity="0.8"/><circle cx="13.7" cy="23.8" r="0.8" fill="rgb(54,216,38)" opacity="0.9"/><circle cx="21.3" cy="39.2" r="0.8" fill="rgb(48,195,35)" opacity="1.0"/><circle cx="8.0" cy="30.3" r="0.6" fill="rgb(38,153,27)" opacity="0.8"/><circle cx="19.0" cy="45.2" r="0.9" fill="rgb(44,178,32)" opacity="0.9"/><circle cx="14.0" cy="21.4" r="0.9" fill="rgb(54,216,38)" opacity="0.4"/><circle cx="18.6" cy="42.1" r="0.5" fill="rgb(44,176,31)" opacity="0.6"/><circle cx="21.4" cy="24.9" r="0.9" fill="rgb(53,215,38)" opacity="0.5"/><circle cx="18.9" cy="30.7" r="0.8" fill="rgb(51,207,37)" opacity="0.8"/><circle cx="5.9" cy="29.4" r="0.9" fill="rgb(46,185,33)" opacity="0.9"/><circle cx="16.5" cy="29.0" r="0.7" fill="rgb(42,170,30)" opacity="0.8"/><circle cx="17.9" cy="37.2" r="0.7" fill="rgb(52,208,37)" opacity="0.9"/><circle cx="23.1" cy="22.6" r="0.8" fill="rgb(57,231,41)" opacity="0.7"/><circle cx="4.8" cy="25.8" r="0.7" fill="rgb(51,206,37)" opacity="0.7"/><circle cx="13.8" cy="35.9" r="0.8" fill="rgb(39,158,28)" opacity="0.6"/><circle cx="15.1" cy="21.3" r="0.9" fill="rgb(47,191,34)" opacity="0.7"/><circle cx="17.3" cy="24.6" r="0.5" fill="rgb(42,171,30)" opacity="0.8"/><circle cx="20.6" cy="46.9" r="0.8" fill="rgb(57,230,41)" opacity="0.6"/><circle cx="13.7" cy="20.0" r="0.5" fill="rgb(40,161,28)" opacity="0.8"/><circle cx="18.1" cy="34.5" r="0.8" fill="rgb(58,235,42)" opacity="0.5"/><circle cx="13.4" cy="20.2" r="0.6" fill="rgb(48,195,35)" opacity="0.8"/><circle cx="15.2" cy="26.5" r="0.8" fill="rgb(46,186,33)" opacity="0.9"/><circle cx="4.1" cy="25.0" r="0.9" fill="rgb(43,172,30)" opacity="0.9"/><circle cx="23.0" cy="35.9" r="0.5" fill="rgb(45,182,32)" opacity="0.7"/><circle cx="18.6" cy="35.2" r="0.9" fill="rgb(43,174,31)" opacity="0.4"/><circle cx="17.9" cy="34.9" r="0.6" fill="rgb(43,172,30)" opacity="0.8"/><circle cx="19.8" cy="23.5" r="0.9" fill="rgb(46,186,33)" opacity="0.9"/><circle cx="19.6" cy="47.4" r="0.8" fill="rgb(39,157,28)" opacity="0.5"/><circle cx="19.4" cy="30.4" r="0.6" fill="rgb(44,176,31)" opacity="1.0"/><circle cx="21.4" cy="31.1" r="0.8" fill="rgb(44,177,31)" opacity="0.8"/><circle cx="17.6" cy="18.9" r="0.6" fill="rgb(40,162,29)" opacity="0.6"/><circle cx="14.6" cy="32.5" r="0.7" fill="rgb(41,165,29)" opacity="0.9"/><circle cx="18.5" cy="25.0" r="0.7" fill="rgb(58,234,42)" opacity="0.5"/><circle cx="13.3" cy="28.9" r="0.6" fill="rgb(56,224,40)" opacity="0.9"/><circle cx="10.3" cy="22.1" r="0.5" fill="rgb(49,196,35)" opacity="0.7"/><circle cx="16.6" cy="31.0" r="0.5" fill="rgb(56,225,40)" opacity="0.8"/><circle cx="9.2" cy="32.4" r="0.8" fill="rgb(54,216,38)" opacity="0.9"/><circle cx="12.1" cy="36.1" r="0.8" fill="rgb(55,223,40)" opacity="0.9"/><circle cx="42.6" cy="40.7" r="0.5" fill="rgb(38,155,27)" opacity="0.8"/><circle cx="46.0" cy="32.1" r="0.6" fill="rgb(40,161,28)" opacity="0.9"/><circle cx="41.9" cy="33.4" r="0.7" fill="rgb(38,154,27)" opacity="0.7"/><circle cx="54.8" cy="32.7" r="0.7" fill="rgb(40,163,29)" opacity="0.4"/><circle cx="39.0" cy="35.2" r="0.9" fill="rgb(44,178,32)" opacity="0.5"/><circle cx="35.3" cy="40.7" r="0.4" fill="rgb(41,165,29)" opacity="0.9"/><circle cx="43.0" cy="33.6" r="0.7" fill="rgb(55,223,40)" opacity="0.5"/><circle cx="35.0" cy="37.7" r="0.7" fill="rgb(42,168,30)" opacity="0.8"/><circle cx="42.0" cy="33.7" r="0.5" fill="rgb(48,193,34)" opacity="0.5"/><circle cx="54.1" cy="28.7" r="0.8" fill="rgb(54,217,39)" opacity="0.8"/><circle cx="42.6" cy="38.7" r="0.6" fill="rgb(44,177,31)" opacity="0.8"/><circle cx="37.0" cy="37.1" r="0.8" fill="rgb(52,209,37)" opacity="0.4"/><circle cx="52.1" cy="28.0" r="0.9" fill="rgb(44,176,31)" opacity="0.6"/><circle cx="35.2" cy="39.4" r="0.9" fill="rgb(55,223,40)" opacity="0.6"/><circle cx="41.1" cy="35.1" r="0.5" fill="rgb(50,203,36)" opacity="0.6"/><circle cx="34.3" cy="40.3" r="0.6" fill="rgb(54,219,39)" opacity="1.0"/><circle cx="42.6" cy="35.5" r="0.4" fill="rgb(53,213,38)" opacity="0.5"/><circle cx="37.2" cy="34.9" r="0.7" fill="rgb(39,156,28)" opacity="0.8"/><circle cx="44.8" cy="38.9" r="0.5" fill="rgb(51,205,36)" opacity="0.9"/><circle cx="55.6" cy="29.9" r="0.7" fill="rgb(45,183,32)" opacity="0.8"/><circle cx="56.7" cy="24.5" r="0.9" fill="rgb(44,178,32)" opacity="0.8"/><circle cx="51.2" cy="29.0" r="0.6" fill="rgb(56,227,40)" opacity="0.5"/><circle cx="46.8" cy="34.9" r="0.5" fill="rgb(51,204,36)" opacity="0.6"/><circle cx="61.2" cy="19.2" r="0.8" fill="rgb(51,207,37)" opacity="0.6"/><circle cx="48.8" cy="27.8" r="0.4" fill="rgb(56,226,40)" opacity="0.9"/><circle cx="45.0" cy="30.8" r="0.4" fill="rgb(57,228,41)" opacity="0.5"/><circle cx="45.7" cy="38.4" r="0.6" fill="rgb(49,198,35)" opacity="0.8"/><circle cx="53.7" cy="28.0" r="0.7" fill="rgb(43,174,31)" opacity="0.9"/><circle cx="58.4" cy="21.3" r="0.9" fill="rgb(37,151,27)" opacity="0.8"/><circle cx="51.8" cy="35.1" r="0.8" fill="rgb(58,235,42)" opacity="0.9"/><circle cx="44.1" cy="37.2" r="0.8" fill="rgb(57,230,41)" opacity="1.0"/><circle cx="32.6" cy="39.2" r="0.9" fill="rgb(55,221,39)" opacity="0.7"/><circle cx="34.7" cy="40.3" r="0.8" fill="rgb(56,224,40)" opacity="0.5"/><circle cx="35.9" cy="36.7" r="0.8" fill="rgb(54,218,39)" opacity="0.5"/><circle cx="46.1" cy="36.9" r="0.9" fill="rgb(48,195,35)" opacity="0.6"/><circle cx="61.5" cy="26.4" r="0.9" fill="rgb(49,199,35)" opacity="0.6"/><circle cx="48.9" cy="33.2" r="0.8" fill="rgb(46,187,33)" opacity="0.8"/><circle cx="39.8" cy="41.8" r="0.9" fill="rgb(39,159,28)" opacity="0.8"/><circle cx="49.7" cy="30.1" r="0.8" fill="rgb(52,210,37)" opacity="0.5"/><circle cx="36.5" cy="37.9" r="0.6" fill="rgb(55,221,39)" opacity="0.7"/><circle cx="39.1" cy="33.6" r="0.6" fill="rgb(54,216,38)" opacity="0.6"/><circle cx="32.2" cy="40.2" r="0.7" fill="rgb(47,189,34)" opacity="0.8"/><circle cx="60.4" cy="25.9" r="0.5" fill="rgb(44,177,31)" opacity="0.8"/><circle cx="57.6" cy="24.7" r="0.7" fill="rgb(41,165,29)" opacity="0.9"/><circle cx="57.3" cy="27.8" r="0.8" fill="rgb(38,154,27)" opacity="0.9"/><circle cx="60.3" cy="23.7" r="0.8" fill="rgb(57,229,41)" opacity="0.5"/><circle cx="50.3" cy="31.6" r="0.5" fill="rgb(45,182,32)" opacity="0.5"/><circle cx="52.5" cy="30.5" r="0.6" fill="rgb(49,196,35)" opacity="0.4"/><circle cx="56.3" cy="28.7" r="0.5" fill="rgb(58,233,41)" opacity="0.6"/><circle cx="42.2" cy="31.1" r="0.7" fill="rgb(46,187,33)" opacity="0.4"/><circle cx="45.2" cy="39.4" r="0.6" fill="rgb(54,216,38)" opacity="0.6"/><circle cx="41.8" cy="38.1" r="0.5" fill="rgb(45,183,32)" opacity="0.6"/><circle cx="45.0" cy="38.4" r="0.5" fill="rgb(50,200,36)" opacity="0.8"/><circle cx="35.1" cy="41.1" r="0.9" fill="rgb(37,150,27)" opacity="0.7"/><circle cx="43.3" cy="38.2" r="0.7" fill="rgb(57,228,41)" opacity="0.4"/><circle cx="49.4" cy="33.5" r="0.8" fill="rgb(55,220,39)" opacity="0.5"/><circle cx="59.6" cy="26.7" r="0.7" fill="rgb(46,185,33)" opacity="0.4"/><circle cx="50.7" cy="33.7" r="0.8" fill="rgb(47,189,34)" opacity="0.6"/><circle cx="40.2" cy="32.1" r="0.8" fill="rgb(41,167,30)" opacity="1.0"/><circle cx="45.2" cy="39.2" r="0.5" fill="rgb(53,215,38)" opacity="0.5"/><circle cx="59.5" cy="27.3" r="0.8" fill="rgb(47,190,34)" opacity="0.5"/><circle cx="35.3" cy="40.1" r="0.7" fill="rgb(48,195,35)" opacity="0.8"/><circle cx="42.8" cy="33.3" r="0.9" fill="rgb(41,165,29)" opacity="0.5"/><circle cx="53.6" cy="28.7" r="0.5" fill="rgb(41,165,29)" opacity="0.9"/><circle cx="45.3" cy="36.9" r="0.5" fill="rgb(48,192,34)" opacity="0.6"/><circle cx="37.9" cy="34.9" r="0.7" fill="rgb(38,155,27)" opacity="0.5"/><circle cx="41.9" cy="37.7" r="0.6" fill="rgb(57,231,41)" opacity="0.8"/><circle cx="62.0" cy="20.9" r="0.7" fill="rgb(57,230,41)" opacity="0.5"/><circle cx="57.5" cy="28.1" r="0.7" fill="rgb(58,232,41)" opacity="0.8"/><circle cx="52.4" cy="32.5" r="0.4" fill="rgb(55,220,39)" opacity="0.6"/><circle cx="51.3" cy="30.2" r="0.8" fill="rgb(39,157,28)" opacity="0.7"/><circle cx="43.3" cy="30.3" r="0.4" fill="rgb(38,155,27)" opacity="0.9"/><circle cx="57.2" cy="23.6" r="0.4" fill="rgb(48,192,34)" opacity="0.9"/><circle cx="61.7" cy="22.5" r="0.9" fill="rgb(41,166,29)" opacity="0.5"/><circle cx="59.9" cy="27.6" r="0.7" fill="rgb(50,202,36)" opacity="0.8"/><circle cx="39.7" cy="40.2" r="0.8" fill="rgb(55,223,40)" opacity="0.5"/><circle cx="61.7" cy="22.7" r="0.7" fill="rgb(51,205,36)" opacity="0.6"/><circle cx="60.1" cy="23.5" r="0.7" fill="rgb(45,183,32)" opacity="1.0"/><circle cx="60.1" cy="25.9" r="0.9" fill="rgb(53,214,38)" opacity="0.7"/><circle cx="40.5" cy="37.3" r="0.6" fill="rgb(46,184,33)" opacity="0.6"/><circle cx="44.2" cy="35.7" r="0.4" fill="rgb(58,233,41)" opacity="0.9"/><circle cx="62.1" cy="19.5" r="0.5" fill="rgb(55,220,39)" opacity="0.8"/><circle cx="53.7" cy="31.4" r="0.9" fill="rgb(38,154,27)" opacity="0.6"/><circle cx="60.7" cy="25.0" r="0.9" fill="rgb(42,171,30)" opacity="0.6"/><circle cx="30.6" cy="40.4" r="0.5" fill="rgb(52,208,37)" opacity="0.6"/><circle cx="52.4" cy="33.1" r="0.5" fill="rgb(45,181,32)" opacity="0.6"/><circle cx="51.2" cy="26.5" r="0.8" fill="rgb(50,200,36)" opacity="0.5"/><circle cx="53.9" cy="28.5" r="0.7" fill="rgb(40,160,28)" opacity="0.8"/><circle cx="56.8" cy="27.2" r="0.5" fill="rgb(56,227,40)" opacity="0.9"/><circle cx="61.5" cy="23.3" r="0.6" fill="rgb(49,197,35)" opacity="0.9"/><circle cx="43.8" cy="37.7" r="0.5" fill="rgb(50,200,36)" opacity="1.0"/><circle cx="49.1" cy="33.6" r="0.9" fill="rgb(38,155,27)" opacity="0.8"/><circle cx="61.0" cy="21.3" r="0.6" fill="rgb(50,201,36)" opacity="0.5"/><circle cx="46.8" cy="28.0" r="0.6" fill="rgb(41,166,29)" opacity="0.6"/><circle cx="40.3" cy="41.4" r="0.7" fill="rgb(47,189,34)" opacity="0.6"/><circle cx="42.6" cy="30.4" r="0.5" fill="rgb(39,158,28)" opacity="0.8"/><circle cx="52.2" cy="29.3" r="0.7" fill="rgb(38,152,27)" opacity="0.8"/><circle cx="54.9" cy="27.9" r="0.6" fill="rgb(58,235,42)" opacity="0.5"/><circle cx="52.4" cy="31.2" r="0.7" fill="rgb(55,223,40)" opacity="0.5"/><circle cx="35.2" cy="42.4" r="0.8" fill="rgb(45,180,32)" opacity="0.6"/><circle cx="60.9" cy="22.0" r="0.5" fill="rgb(57,229,41)" opacity="0.5"/><circle cx="61.3" cy="22.8" r="0.5" fill="rgb(39,156,28)" opacity="0.4"/><circle cx="41.0" cy="34.0" r="0.9" fill="rgb(53,212,38)" opacity="0.9"/><circle cx="49.7" cy="34.3" r="0.5" fill="rgb(49,196,35)" opacity="0.7"/><circle cx="34.8" cy="40.8" r="0.8" fill="rgb(57,229,41)" opacity="0.8"/><circle cx="37.5" cy="34.7" r="0.8" fill="rgb(41,165,29)" opacity="0.8"/><circle cx="62.8" cy="21.7" r="0.8" fill="rgb(57,229,41)" opacity="0.6"/><circle cx="50.4" cy="26.5" r="0.5" fill="rgb(39,159,28)" opacity="0.8"/><circle cx="41.1" cy="39.0" r="0.9" fill="rgb(57,228,41)" opacity="0.8"/><circle cx="40.2" cy="41.1" r="0.9" fill="rgb(56,224,40)" opacity="0.9"/><circle cx="43.3" cy="30.7" r="0.7" fill="rgb(44,177,31)" opacity="0.5"/><circle cx="48.2" cy="37.4" r="0.7" fill="rgb(58,233,41)" opacity="0.9"/><circle cx="62.9" cy="20.9" r="0.4" fill="rgb(48,195,35)" opacity="0.7"/><circle cx="53.4" cy="31.1" r="0.4" fill="rgb(55,223,40)" opacity="0.5"/><circle cx="48.4" cy="28.6" r="0.5" fill="rgb(41,167,30)" opacity="0.5"/><circle cx="53.2" cy="24.9" r="0.7" fill="rgb(43,175,31)" opacity="0.5"/><circle cx="52.8" cy="28.6" r="0.6" fill="rgb(50,200,36)" opacity="0.7"/><circle cx="44.2" cy="38.4" r="0.9" fill="rgb(46,184,33)" opacity="0.5"/><circle cx="55.5" cy="24.9" r="0.7" fill="rgb(55,222,39)" opacity="0.6"/><circle cx="42.4" cy="39.9" r="0.4" fill="rgb(54,217,39)" opacity="0.5"/></g><ellipse cx="17.50" cy="29.90" rx="4.6" ry="5.0" transform="rotate(0 17.50 29.90)" fill="#203ee6" opacity="1" filter="url(#b05)"/><g filter="url(#b04)"><circle cx="18.3" cy="27.9" r="0.9" fill="#0c1c90" opacity="0.2"/><circle cx="16.5" cy="32.4" r="0.7" fill="#0c1c90" opacity="0.4"/><circle cx="14.8" cy="30.1" r="0.8" fill="#0c1c90" opacity="0.2"/><circle cx="16.6" cy="29.9" r="0.9" fill="#0c1c90" opacity="0.2"/><circle cx="17.9" cy="28.5" r="0.8" fill="#0c1c90" opacity="0.4"/><circle cx="17.0" cy="26.0" r="0.7" fill="#0c1c90" opacity="0.5"/><circle cx="19.1" cy="32.2" r="1.0" fill="#0c1c90" opacity="0.3"/><circle cx="18.5" cy="33.2" r="0.5" fill="#0c1c90" opacity="0.4"/></g><ellipse cx="47.10" cy="33.00" rx="4.6" ry="3.8" transform="rotate(-10 47.10 33.00)" fill="#203ee6" opacity="1" filter="url(#b05)"/><g filter="url(#b04)"><circle cx="49.4" cy="31.6" r="0.8" fill="#0c1c90" opacity="0.5"/><circle cx="43.9" cy="33.4" r="0.5" fill="#0c1c90" opacity="0.4"/><circle cx="45.0" cy="32.4" r="0.8" fill="#0c1c90" opacity="0.2"/><circle cx="48.9" cy="32.1" r="0.6" fill="#0c1c90" opacity="0.3"/><circle cx="49.9" cy="32.6" r="0.6" fill="#0c1c90" opacity="0.4"/><circle cx="44.6" cy="33.0" r="0.9" fill="#0c1c90" opacity="0.4"/></g></g></g><g transform="translate(370.8,229.9)"><g clip-path="url(#k14)"><path d="M4.80,25.60 C5.93,24.84 9.62,24.87 12.50,23.50 C15.38,22.13 18.93,18.49 20.80,18.00 C22.67,17.51 22.04,19.56 22.90,20.80 C23.76,22.04 24.86,23.15 25.60,24.90 C26.34,26.65 27.25,28.50 27.00,30.50 C26.75,32.50 24.70,33.52 24.20,36.00 C23.70,38.48 23.95,41.56 24.20,44.30 C24.45,47.04 25.73,50.19 25.60,51.20 C25.47,52.21 24.62,51.63 23.50,49.90 C22.38,48.17 21.13,44.10 19.40,41.60 C17.67,39.10 15.90,37.75 13.90,36.00 C11.90,34.25 9.69,33.39 8.30,31.90 C6.91,30.41 6.83,28.83 6.20,27.70 C5.57,26.57 3.67,26.36 4.80,25.60 Z" fill="#300404" stroke="#a81414" stroke-width="0.8" filter="url(#b04)"/><g filter="url(#b03)"><circle cx="23.1" cy="43.4" r="0.6" fill="rgb(155,12,12)" opacity="0.3"/><circle cx="21.9" cy="35.5" r="0.5" fill="rgb(141,11,11)" opacity="0.5"/><circle cx="19.5" cy="32.7" r="0.5" fill="rgb(215,17,17)" opacity="0.7"/><circle cx="21.3" cy="25.7" r="0.6" fill="rgb(191,15,15)" opacity="0.6"/><circle cx="10.4" cy="27.8" r="0.5" fill="rgb(218,17,17)" opacity="0.5"/><circle cx="18.5" cy="32.5" r="0.5" fill="rgb(210,16,16)" opacity="0.3"/><circle cx="7.0" cy="27.1" r="0.5" fill="rgb(210,16,16)" opacity="0.6"/><circle cx="15.4" cy="23.7" r="0.4" fill="rgb(158,12,12)" opacity="0.7"/><circle cx="21.9" cy="26.3" r="0.5" fill="rgb(195,15,15)" opacity="0.7"/><circle cx="19.7" cy="33.9" r="0.6" fill="rgb(153,12,12)" opacity="0.4"/><circle cx="21.3" cy="38.5" r="0.3" fill="rgb(171,13,13)" opacity="0.7"/><circle cx="24.4" cy="28.3" r="0.6" fill="rgb(138,11,11)" opacity="0.6"/><circle cx="20.9" cy="39.6" r="0.5" fill="rgb(181,14,14)" opacity="0.3"/><circle cx="24.3" cy="30.7" r="0.6" fill="rgb(167,13,13)" opacity="0.4"/><circle cx="24.2" cy="27.8" r="0.6" fill="rgb(204,16,16)" opacity="0.7"/><circle cx="24.6" cy="26.0" r="0.4" fill="rgb(180,14,14)" opacity="0.4"/><circle cx="20.0" cy="39.2" r="0.4" fill="rgb(157,12,12)" opacity="0.3"/><circle cx="17.9" cy="25.7" r="0.4" fill="rgb(209,16,16)" opacity="0.4"/><circle cx="14.6" cy="35.0" r="0.6" fill="rgb(196,15,15)" opacity="0.4"/><circle cx="19.7" cy="37.7" r="0.3" fill="rgb(219,17,17)" opacity="0.6"/><circle cx="23.9" cy="48.8" r="0.5" fill="rgb(178,14,14)" opacity="0.3"/><circle cx="20.7" cy="22.2" r="0.4" fill="rgb(162,12,12)" opacity="0.6"/><circle cx="19.2" cy="20.5" r="0.4" fill="rgb(178,14,14)" opacity="0.6"/><circle cx="23.3" cy="24.0" r="0.5" fill="rgb(160,12,12)" opacity="0.6"/><circle cx="20.2" cy="22.1" r="0.6" fill="rgb(179,14,14)" opacity="0.6"/><circle cx="20.3" cy="29.1" r="0.6" fill="rgb(169,13,13)" opacity="0.7"/><circle cx="20.0" cy="25.6" r="0.4" fill="rgb(141,11,11)" opacity="0.6"/><circle cx="25.0" cy="24.5" r="0.4" fill="rgb(144,11,11)" opacity="0.3"/><circle cx="19.9" cy="32.7" r="0.3" fill="rgb(133,10,10)" opacity="0.5"/><circle cx="22.8" cy="35.3" r="0.4" fill="rgb(193,15,15)" opacity="0.3"/><circle cx="16.7" cy="38.0" r="0.4" fill="rgb(166,13,13)" opacity="0.3"/><circle cx="11.2" cy="28.0" r="0.5" fill="rgb(173,13,13)" opacity="0.6"/><circle cx="12.3" cy="28.6" r="0.6" fill="rgb(203,16,16)" opacity="0.6"/><circle cx="24.9" cy="26.5" r="0.5" fill="rgb(194,15,15)" opacity="0.3"/><circle cx="14.5" cy="27.1" r="0.6" fill="rgb(166,13,13)" opacity="0.4"/><circle cx="18.4" cy="34.2" r="0.4" fill="rgb(181,14,14)" opacity="0.5"/><circle cx="21.1" cy="37.0" r="0.5" fill="rgb(194,15,15)" opacity="0.5"/><circle cx="22.2" cy="25.2" r="0.6" fill="rgb(204,16,16)" opacity="0.6"/><circle cx="13.0" cy="28.9" r="0.4" fill="rgb(159,12,12)" opacity="0.7"/><circle cx="15.7" cy="32.9" r="0.5" fill="rgb(178,14,14)" opacity="0.4"/><circle cx="15.2" cy="29.6" r="0.5" fill="rgb(200,16,16)" opacity="0.5"/><circle cx="16.4" cy="29.5" r="0.4" fill="rgb(212,16,16)" opacity="0.6"/><circle cx="21.5" cy="30.8" r="0.3" fill="rgb(195,15,15)" opacity="0.3"/><circle cx="23.4" cy="34.8" r="0.4" fill="rgb(163,13,13)" opacity="0.3"/><circle cx="23.7" cy="32.0" r="0.5" fill="rgb(220,17,17)" opacity="0.6"/><circle cx="24.4" cy="32.5" r="0.4" fill="rgb(209,16,16)" opacity="0.4"/><circle cx="16.1" cy="31.2" r="0.5" fill="rgb(151,12,12)" opacity="0.4"/><circle cx="17.8" cy="25.9" r="0.3" fill="rgb(150,12,12)" opacity="0.4"/><circle cx="23.0" cy="43.1" r="0.6" fill="rgb(181,14,14)" opacity="0.3"/><circle cx="14.0" cy="26.5" r="0.4" fill="rgb(172,13,13)" opacity="0.6"/><circle cx="19.8" cy="27.0" r="0.3" fill="rgb(173,13,13)" opacity="0.5"/><circle cx="21.5" cy="41.9" r="0.5" fill="rgb(179,14,14)" opacity="0.4"/><circle cx="14.0" cy="28.6" r="0.5" fill="rgb(212,16,16)" opacity="0.4"/><circle cx="18.8" cy="19.5" r="0.5" fill="rgb(173,13,13)" opacity="0.4"/><circle cx="5.6" cy="26.4" r="0.4" fill="rgb(220,17,17)" opacity="0.7"/><circle cx="18.6" cy="24.9" r="0.4" fill="rgb(157,12,12)" opacity="0.7"/><circle cx="16.3" cy="32.7" r="0.3" fill="rgb(178,14,14)" opacity="0.6"/><circle cx="19.4" cy="19.8" r="0.4" fill="rgb(181,14,14)" opacity="0.7"/><circle cx="20.7" cy="31.4" r="0.4" fill="rgb(220,17,17)" opacity="0.6"/><circle cx="23.0" cy="38.1" r="0.6" fill="rgb(208,16,16)" opacity="0.4"/><circle cx="19.8" cy="23.1" r="0.4" fill="rgb(135,10,10)" opacity="0.5"/><circle cx="18.8" cy="36.3" r="0.5" fill="rgb(163,13,13)" opacity="0.3"/><circle cx="21.5" cy="22.5" r="0.3" fill="rgb(135,10,10)" opacity="0.4"/><circle cx="23.8" cy="48.4" r="0.3" fill="rgb(216,17,17)" opacity="0.5"/><circle cx="23.4" cy="23.0" r="0.6" fill="rgb(167,13,13)" opacity="0.4"/><circle cx="17.1" cy="34.6" r="0.6" fill="rgb(176,14,14)" opacity="0.5"/><circle cx="19.6" cy="23.0" r="0.4" fill="rgb(191,15,15)" opacity="0.4"/><circle cx="20.4" cy="26.7" r="0.3" fill="rgb(210,16,16)" opacity="0.4"/><circle cx="11.9" cy="29.9" r="0.4" fill="rgb(179,14,14)" opacity="0.3"/><circle cx="26.5" cy="29.1" r="0.4" fill="rgb(142,11,11)" opacity="0.3"/></g><path d="M31.90,40.90 C32.15,39.28 36.32,36.85 38.80,34.60 C41.28,32.35 42.71,30.40 45.70,28.40 C48.69,26.40 52.16,25.37 55.40,23.50 C58.64,21.63 61.95,18.49 63.70,18.00 C65.45,17.51 65.60,18.80 65.10,20.80 C64.60,22.80 63.15,26.24 60.90,29.10 C58.65,31.96 55.59,34.45 52.60,36.70 C49.61,38.95 47.04,40.36 44.30,41.60 C41.56,42.84 39.63,43.73 37.40,43.60 C35.17,43.47 31.65,42.52 31.90,40.90 Z" fill="#300404" stroke="#a81414" stroke-width="0.8" filter="url(#b04)"/><g filter="url(#b03)"><circle cx="43.5" cy="35.9" r="0.5" fill="rgb(171,13,13)" opacity="0.5"/><circle cx="62.6" cy="22.6" r="0.5" fill="rgb(163,13,13)" opacity="0.4"/><circle cx="34.7" cy="41.6" r="0.5" fill="rgb(140,11,11)" opacity="0.4"/><circle cx="59.2" cy="21.8" r="0.5" fill="rgb(174,13,13)" opacity="0.6"/><circle cx="48.4" cy="33.3" r="0.5" fill="rgb(176,14,14)" opacity="0.4"/><circle cx="40.0" cy="33.6" r="0.4" fill="rgb(211,16,16)" opacity="0.4"/><circle cx="46.4" cy="39.0" r="0.4" fill="rgb(139,11,11)" opacity="0.6"/><circle cx="57.3" cy="28.7" r="0.4" fill="rgb(215,17,17)" opacity="0.5"/><circle cx="54.2" cy="33.1" r="0.4" fill="rgb(186,14,14)" opacity="0.6"/><circle cx="46.7" cy="30.9" r="0.4" fill="rgb(156,12,12)" opacity="0.6"/><circle cx="38.7" cy="36.0" r="0.4" fill="rgb(182,14,14)" opacity="0.4"/><circle cx="54.4" cy="33.2" r="0.4" fill="rgb(220,17,17)" opacity="0.5"/><circle cx="44.1" cy="38.8" r="0.5" fill="rgb(155,12,12)" opacity="0.4"/><circle cx="46.1" cy="32.0" r="0.4" fill="rgb(209,16,16)" opacity="0.3"/><circle cx="37.3" cy="36.2" r="0.4" fill="rgb(145,11,11)" opacity="0.5"/><circle cx="38.3" cy="35.4" r="0.5" fill="rgb(154,12,12)" opacity="0.6"/><circle cx="44.3" cy="40.6" r="0.5" fill="rgb(182,14,14)" opacity="0.6"/><circle cx="46.9" cy="38.5" r="0.6" fill="rgb(175,14,14)" opacity="0.4"/><circle cx="52.3" cy="31.7" r="0.6" fill="rgb(220,17,17)" opacity="0.3"/><circle cx="53.8" cy="24.6" r="0.6" fill="rgb(163,13,13)" opacity="0.3"/><circle cx="35.2" cy="37.9" r="0.5" fill="rgb(158,12,12)" opacity="0.6"/><circle cx="51.8" cy="26.5" r="0.4" fill="rgb(192,15,15)" opacity="0.3"/><circle cx="51.3" cy="35.3" r="0.4" fill="rgb(145,11,11)" opacity="0.7"/><circle cx="47.6" cy="39.0" r="0.3" fill="rgb(148,11,11)" opacity="0.5"/><circle cx="49.9" cy="36.7" r="0.5" fill="rgb(191,15,15)" opacity="0.5"/><circle cx="57.7" cy="23.7" r="0.5" fill="rgb(210,16,16)" opacity="0.6"/><circle cx="59.5" cy="23.0" r="0.3" fill="rgb(187,14,14)" opacity="0.3"/><circle cx="59.7" cy="24.8" r="0.5" fill="rgb(150,12,12)" opacity="0.5"/><circle cx="57.0" cy="23.6" r="0.4" fill="rgb(168,13,13)" opacity="0.4"/><circle cx="43.4" cy="41.6" r="0.4" fill="rgb(142,11,11)" opacity="0.5"/><circle cx="40.5" cy="36.2" r="0.4" fill="rgb(173,13,13)" opacity="0.5"/><circle cx="47.6" cy="33.6" r="0.6" fill="rgb(137,10,10)" opacity="0.4"/><circle cx="46.7" cy="36.7" r="0.5" fill="rgb(153,12,12)" opacity="0.5"/><circle cx="37.9" cy="37.9" r="0.6" fill="rgb(138,11,11)" opacity="0.3"/><circle cx="59.6" cy="28.8" r="0.6" fill="rgb(169,13,13)" opacity="0.6"/><circle cx="45.3" cy="29.7" r="0.6" fill="rgb(195,15,15)" opacity="0.5"/><circle cx="40.7" cy="40.5" r="0.6" fill="rgb(152,12,12)" opacity="0.3"/><circle cx="55.6" cy="29.5" r="0.6" fill="rgb(193,15,15)" opacity="0.3"/><circle cx="63.6" cy="21.3" r="0.4" fill="rgb(188,15,15)" opacity="0.3"/><circle cx="50.4" cy="37.6" r="0.5" fill="rgb(217,17,17)" opacity="0.5"/><circle cx="43.4" cy="40.9" r="0.5" fill="rgb(208,16,16)" opacity="0.5"/><circle cx="41.0" cy="40.1" r="0.4" fill="rgb(136,10,10)" opacity="0.5"/><circle cx="64.5" cy="22.0" r="0.4" fill="rgb(139,11,11)" opacity="0.3"/><circle cx="43.2" cy="36.4" r="0.3" fill="rgb(153,12,12)" opacity="0.4"/><circle cx="39.7" cy="34.1" r="0.5" fill="rgb(193,15,15)" opacity="0.4"/><circle cx="52.1" cy="32.4" r="0.4" fill="rgb(208,16,16)" opacity="0.6"/><circle cx="43.4" cy="34.9" r="0.3" fill="rgb(213,17,17)" opacity="0.7"/><circle cx="56.2" cy="31.4" r="0.4" fill="rgb(151,12,12)" opacity="0.3"/><circle cx="58.1" cy="27.3" r="0.4" fill="rgb(215,17,17)" opacity="0.3"/><circle cx="63.2" cy="20.6" r="0.4" fill="rgb(142,11,11)" opacity="0.3"/><circle cx="55.8" cy="24.1" r="0.6" fill="rgb(135,10,10)" opacity="0.5"/><circle cx="44.7" cy="38.7" r="0.5" fill="rgb(187,14,14)" opacity="0.3"/><circle cx="42.2" cy="39.8" r="0.4" fill="rgb(183,14,14)" opacity="0.5"/><circle cx="38.1" cy="41.5" r="0.6" fill="rgb(170,13,13)" opacity="0.3"/><circle cx="56.1" cy="32.2" r="0.4" fill="rgb(159,12,12)" opacity="0.5"/><circle cx="46.2" cy="34.7" r="0.5" fill="rgb(153,12,12)" opacity="0.5"/><circle cx="47.2" cy="39.1" r="0.5" fill="rgb(178,14,14)" opacity="0.5"/><circle cx="45.7" cy="34.9" r="0.3" fill="rgb(174,13,13)" opacity="0.6"/><circle cx="53.5" cy="25.1" r="0.4" fill="rgb(167,13,13)" opacity="0.5"/><circle cx="46.1" cy="35.4" r="0.5" fill="rgb(193,15,15)" opacity="0.7"/><circle cx="52.6" cy="31.7" r="0.5" fill="rgb(162,12,12)" opacity="0.4"/><circle cx="44.6" cy="36.2" r="0.3" fill="rgb(216,17,17)" opacity="0.3"/><circle cx="42.2" cy="37.3" r="0.6" fill="rgb(141,11,11)" opacity="0.4"/><circle cx="48.7" cy="27.3" r="0.6" fill="rgb(180,14,14)" opacity="0.5"/><circle cx="47.6" cy="27.8" r="0.4" fill="rgb(142,11,11)" opacity="0.4"/><circle cx="62.4" cy="19.0" r="0.6" fill="rgb(182,14,14)" opacity="0.6"/><circle cx="61.0" cy="26.0" r="0.4" fill="rgb(220,17,17)" opacity="0.6"/><circle cx="48.2" cy="29.4" r="0.5" fill="rgb(219,17,17)" opacity="0.6"/><circle cx="39.1" cy="40.1" r="0.5" fill="rgb(145,11,11)" opacity="0.4"/><circle cx="60.9" cy="20.8" r="0.3" fill="rgb(142,11,11)" opacity="0.5"/></g><ellipse cx="19.70" cy="30.20" rx="4.7" ry="4.9" transform="rotate(0 19.70 30.20)" fill="#203ee6" opacity="1" filter="url(#b05)"/><g filter="url(#b04)"><circle cx="17.5" cy="27.1" r="1.0" fill="#0c1c90" opacity="0.3"/><circle cx="18.8" cy="26.5" r="0.5" fill="#0c1c90" opacity="0.5"/><circle cx="19.5" cy="32.6" r="0.7" fill="#0c1c90" opacity="0.3"/><circle cx="19.3" cy="29.0" r="0.9" fill="#0c1c90" opacity="0.2"/><circle cx="22.8" cy="28.2" r="0.8" fill="#0c1c90" opacity="0.5"/><circle cx="19.6" cy="31.5" r="0.8" fill="#0c1c90" opacity="0.2"/><circle cx="19.3" cy="29.4" r="0.7" fill="#0c1c90" opacity="0.5"/><circle cx="18.9" cy="33.0" r="0.7" fill="#0c1c90" opacity="0.3"/></g><ellipse cx="49.20" cy="33.00" rx="4.7" ry="4.1" transform="rotate(-10 49.20 33.00)" fill="#203ee6" opacity="1" filter="url(#b05)"/><g filter="url(#b04)"><circle cx="46.1" cy="34.7" r="0.9" fill="#0c1c90" opacity="0.3"/><circle cx="49.2" cy="33.9" r="0.8" fill="#0c1c90" opacity="0.4"/><circle cx="50.7" cy="34.7" r="1.0" fill="#0c1c90" opacity="0.2"/><circle cx="47.1" cy="34.9" r="0.9" fill="#0c1c90" opacity="0.2"/><circle cx="50.8" cy="35.8" r="0.6" fill="#0c1c90" opacity="0.3"/><circle cx="49.4" cy="34.6" r="0.9" fill="#0c1c90" opacity="0.2"/></g></g></g><g transform="translate(442.1,229.9)"><g clip-path="url(#k15)"><g filter="url(#b03)"><circle cx="22.1" cy="43.3" r="0.7" fill="rgb(141,90,7)" opacity="0.7"/><circle cx="20.4" cy="28.8" r="0.5" fill="rgb(153,97,7)" opacity="0.9"/><circle cx="13.5" cy="34.5" r="0.4" fill="rgb(196,125,9)" opacity="0.5"/><circle cx="10.6" cy="29.5" r="0.4" fill="rgb(201,128,10)" opacity="0.8"/><circle cx="11.6" cy="24.2" r="0.7" fill="rgb(202,129,10)" opacity="0.9"/><circle cx="19.1" cy="34.8" r="0.7" fill="rgb(146,93,7)" opacity="0.6"/><circle cx="17.6" cy="29.4" r="0.7" fill="rgb(169,108,8)" opacity="0.4"/><circle cx="12.6" cy="30.7" r="0.9" fill="rgb(223,142,11)" opacity="0.5"/><circle cx="19.4" cy="43.2" r="0.4" fill="rgb(166,106,8)" opacity="1.0"/><circle cx="16.7" cy="21.3" r="0.6" fill="rgb(143,91,7)" opacity="0.4"/><circle cx="18.9" cy="31.0" r="0.8" fill="rgb(194,124,9)" opacity="0.8"/><circle cx="12.4" cy="25.6" r="0.4" fill="rgb(152,97,7)" opacity="1.0"/><circle cx="19.0" cy="36.5" r="0.7" fill="rgb(179,114,8)" opacity="0.3"/><circle cx="19.7" cy="23.2" r="0.6" fill="rgb(177,113,8)" opacity="0.8"/><circle cx="20.3" cy="30.4" r="0.5" fill="rgb(203,129,10)" opacity="0.8"/><circle cx="12.8" cy="25.3" r="0.6" fill="rgb(211,135,10)" opacity="0.5"/><circle cx="21.7" cy="47.6" r="0.5" fill="rgb(208,133,10)" opacity="0.4"/><circle cx="15.4" cy="40.9" r="0.8" fill="rgb(200,128,10)" opacity="0.4"/><circle cx="16.8" cy="37.4" r="0.9" fill="rgb(207,132,10)" opacity="0.9"/><circle cx="23.4" cy="32.5" r="0.7" fill="rgb(164,104,8)" opacity="0.3"/><circle cx="13.1" cy="20.5" r="0.6" fill="rgb(141,90,7)" opacity="0.5"/><circle cx="12.4" cy="25.3" r="0.6" fill="rgb(142,90,7)" opacity="0.6"/><circle cx="22.5" cy="28.4" r="0.4" fill="rgb(176,112,8)" opacity="0.9"/><circle cx="17.6" cy="32.6" r="0.7" fill="rgb(223,142,11)" opacity="0.7"/><circle cx="16.6" cy="33.3" r="0.6" fill="rgb(158,101,7)" opacity="0.6"/><circle cx="20.4" cy="47.7" r="0.5" fill="rgb(206,131,10)" opacity="0.5"/><circle cx="16.3" cy="32.8" r="0.4" fill="rgb(216,138,10)" opacity="0.7"/><circle cx="22.0" cy="24.7" r="0.5" fill="rgb(161,103,8)" opacity="0.8"/><circle cx="22.5" cy="36.2" r="0.6" fill="rgb(200,128,10)" opacity="1.0"/><circle cx="24.2" cy="30.6" r="0.8" fill="rgb(215,137,10)" opacity="0.6"/><circle cx="16.9" cy="24.4" r="0.8" fill="rgb(146,93,7)" opacity="0.4"/><circle cx="13.1" cy="30.1" r="0.7" fill="rgb(184,117,9)" opacity="0.8"/><circle cx="19.9" cy="21.9" r="0.7" fill="rgb(170,108,8)" opacity="0.3"/><circle cx="20.7" cy="49.5" r="0.7" fill="rgb(171,109,8)" opacity="0.6"/><circle cx="21.6" cy="32.1" r="0.8" fill="rgb(168,107,8)" opacity="0.5"/><circle cx="17.8" cy="35.3" r="0.5" fill="rgb(154,98,7)" opacity="0.7"/><circle cx="22.1" cy="26.4" r="0.6" fill="rgb(168,107,8)" opacity="0.9"/><circle cx="8.7" cy="33.4" r="0.6" fill="rgb(165,105,8)" opacity="0.4"/><circle cx="15.2" cy="20.3" r="0.8" fill="rgb(161,103,8)" opacity="0.5"/><circle cx="20.9" cy="37.2" r="0.6" fill="rgb(164,104,8)" opacity="0.5"/><circle cx="10.2" cy="35.9" r="0.7" fill="rgb(179,114,8)" opacity="0.4"/><circle cx="13.8" cy="36.3" r="0.7" fill="rgb(221,141,11)" opacity="0.7"/><circle cx="23.8" cy="28.5" r="0.7" fill="rgb(153,97,7)" opacity="0.6"/><circle cx="13.2" cy="31.1" r="0.7" fill="rgb(195,124,9)" opacity="0.9"/><circle cx="18.8" cy="39.7" r="0.4" fill="rgb(173,110,8)" opacity="0.8"/><circle cx="16.1" cy="23.4" r="0.9" fill="rgb(180,115,9)" opacity="0.7"/><circle cx="23.7" cy="26.0" r="0.7" fill="rgb(217,138,10)" opacity="0.3"/><circle cx="17.0" cy="41.8" r="0.7" fill="rgb(144,92,7)" opacity="0.8"/><circle cx="19.3" cy="43.2" r="0.4" fill="rgb(197,126,9)" opacity="0.7"/><circle cx="7.7" cy="31.0" r="0.7" fill="rgb(197,126,9)" opacity="0.5"/><circle cx="21.5" cy="25.2" r="0.4" fill="rgb(215,137,10)" opacity="0.7"/><circle cx="23.5" cy="25.5" r="0.6" fill="rgb(168,107,8)" opacity="0.6"/><circle cx="21.0" cy="37.4" r="0.8" fill="rgb(202,129,10)" opacity="0.5"/><circle cx="22.3" cy="42.7" r="0.8" fill="rgb(164,104,8)" opacity="0.8"/><circle cx="22.2" cy="20.7" r="0.6" fill="rgb(157,100,7)" opacity="0.7"/><circle cx="14.7" cy="28.8" r="0.6" fill="rgb(197,126,9)" opacity="0.4"/><circle cx="19.9" cy="31.5" r="0.8" fill="rgb(185,118,9)" opacity="0.9"/><circle cx="20.6" cy="23.5" r="0.8" fill="rgb(159,101,7)" opacity="0.9"/><circle cx="18.7" cy="43.4" r="0.7" fill="rgb(157,100,7)" opacity="0.6"/><circle cx="20.7" cy="26.8" r="0.9" fill="rgb(151,96,7)" opacity="0.9"/><circle cx="23.9" cy="26.2" r="0.4" fill="rgb(186,119,9)" opacity="0.5"/><circle cx="9.5" cy="33.4" r="0.7" fill="rgb(162,103,8)" opacity="0.5"/><circle cx="17.0" cy="31.5" r="0.6" fill="rgb(140,89,7)" opacity="0.6"/><circle cx="19.4" cy="23.3" r="0.5" fill="rgb(140,89,7)" opacity="0.9"/><circle cx="19.3" cy="38.9" r="0.5" fill="rgb(213,136,10)" opacity="0.4"/><circle cx="10.8" cy="31.8" r="0.5" fill="rgb(169,108,8)" opacity="0.8"/><circle cx="17.8" cy="28.2" r="0.6" fill="rgb(148,94,7)" opacity="0.6"/><circle cx="19.3" cy="24.7" r="0.7" fill="rgb(197,126,9)" opacity="1.0"/><circle cx="10.6" cy="29.0" r="0.6" fill="rgb(206,131,10)" opacity="0.9"/><circle cx="15.6" cy="20.4" r="0.8" fill="rgb(141,90,7)" opacity="0.6"/><circle cx="20.7" cy="42.1" r="0.8" fill="rgb(207,132,10)" opacity="0.7"/><circle cx="17.2" cy="23.5" r="0.8" fill="rgb(178,113,8)" opacity="0.9"/><circle cx="12.3" cy="26.8" r="0.4" fill="rgb(159,101,7)" opacity="0.8"/><circle cx="13.2" cy="35.7" r="0.7" fill="rgb(194,124,9)" opacity="0.9"/><circle cx="19.8" cy="49.4" r="0.5" fill="rgb(186,119,9)" opacity="0.9"/><circle cx="17.1" cy="34.7" r="0.6" fill="rgb(167,106,8)" opacity="0.5"/><circle cx="7.2" cy="31.7" r="0.6" fill="rgb(218,139,10)" opacity="0.8"/><circle cx="15.5" cy="41.1" r="0.6" fill="rgb(217,138,10)" opacity="0.4"/><circle cx="20.4" cy="20.7" r="0.6" fill="rgb(190,121,9)" opacity="0.5"/><circle cx="20.4" cy="36.6" r="0.5" fill="rgb(200,128,10)" opacity="0.7"/><circle cx="20.7" cy="46.6" r="0.7" fill="rgb(181,115,9)" opacity="0.6"/><circle cx="17.6" cy="36.6" r="0.8" fill="rgb(141,90,7)" opacity="0.4"/><circle cx="10.5" cy="34.6" r="0.8" fill="rgb(222,142,11)" opacity="0.4"/><circle cx="22.0" cy="28.7" r="0.7" fill="rgb(197,126,9)" opacity="0.4"/><circle cx="17.7" cy="27.6" r="0.8" fill="rgb(144,92,7)" opacity="0.4"/><circle cx="22.9" cy="27.1" r="0.5" fill="rgb(198,126,9)" opacity="0.4"/><circle cx="14.1" cy="25.7" r="0.4" fill="rgb(145,92,7)" opacity="0.7"/><circle cx="10.8" cy="22.8" r="0.7" fill="rgb(141,90,7)" opacity="1.0"/><circle cx="21.8" cy="35.0" r="0.6" fill="rgb(225,144,11)" opacity="0.3"/><circle cx="19.2" cy="23.9" r="0.7" fill="rgb(213,136,10)" opacity="0.4"/><circle cx="10.8" cy="35.8" r="0.6" fill="rgb(167,106,8)" opacity="0.6"/><circle cx="23.4" cy="29.5" r="0.7" fill="rgb(188,120,9)" opacity="0.5"/><circle cx="5.7" cy="31.3" r="0.4" fill="rgb(201,128,10)" opacity="1.0"/><circle cx="14.8" cy="25.3" r="0.8" fill="rgb(160,102,8)" opacity="0.9"/><circle cx="22.1" cy="31.4" r="0.5" fill="rgb(202,129,10)" opacity="0.8"/><circle cx="14.0" cy="26.7" r="0.4" fill="rgb(172,110,8)" opacity="0.8"/><circle cx="23.0" cy="36.8" r="0.8" fill="rgb(145,92,7)" opacity="0.7"/><circle cx="14.6" cy="24.9" r="0.8" fill="rgb(168,107,8)" opacity="0.4"/><circle cx="22.7" cy="48.6" r="0.6" fill="rgb(210,134,10)" opacity="0.7"/><circle cx="23.8" cy="26.9" r="0.8" fill="rgb(155,99,7)" opacity="0.8"/><circle cx="23.3" cy="33.1" r="0.9" fill="rgb(175,112,8)" opacity="0.4"/><circle cx="16.7" cy="31.5" r="0.5" fill="rgb(168,107,8)" opacity="0.4"/><circle cx="10.9" cy="31.0" r="0.5" fill="rgb(212,135,10)" opacity="0.9"/><circle cx="13.3" cy="34.3" r="0.6" fill="rgb(171,109,8)" opacity="0.8"/><circle cx="19.4" cy="38.4" r="0.8" fill="rgb(166,106,8)" opacity="0.5"/><circle cx="19.6" cy="32.9" r="0.8" fill="rgb(208,133,10)" opacity="0.7"/><circle cx="9.1" cy="26.5" r="0.5" fill="rgb(167,106,8)" opacity="0.5"/><circle cx="20.1" cy="34.6" r="0.4" fill="rgb(165,105,8)" opacity="0.5"/><circle cx="16.2" cy="22.5" r="0.8" fill="rgb(188,120,9)" opacity="0.4"/><circle cx="13.3" cy="32.4" r="0.7" fill="rgb(146,93,7)" opacity="1.0"/><circle cx="4.4" cy="25.9" r="0.7" fill="rgb(169,108,8)" opacity="0.4"/><circle cx="21.9" cy="30.0" r="0.5" fill="rgb(154,98,7)" opacity="0.5"/><circle cx="17.6" cy="33.4" r="0.6" fill="rgb(184,117,9)" opacity="0.4"/><circle cx="20.7" cy="44.5" r="0.8" fill="rgb(186,119,9)" opacity="0.9"/><circle cx="6.9" cy="29.6" r="0.9" fill="rgb(145,92,7)" opacity="0.4"/><circle cx="23.1" cy="29.0" r="0.4" fill="rgb(190,121,9)" opacity="0.7"/><circle cx="22.6" cy="45.0" r="0.5" fill="rgb(195,124,9)" opacity="0.9"/><circle cx="17.3" cy="34.3" r="0.8" fill="rgb(210,134,10)" opacity="1.0"/><circle cx="14.7" cy="38.3" r="0.6" fill="rgb(199,127,9)" opacity="0.6"/><circle cx="21.2" cy="35.0" r="0.7" fill="rgb(219,140,10)" opacity="0.8"/><circle cx="16.3" cy="25.4" r="0.8" fill="rgb(157,100,7)" opacity="0.8"/><circle cx="12.3" cy="24.1" r="0.7" fill="rgb(205,131,10)" opacity="0.9"/><circle cx="10.4" cy="34.3" r="0.5" fill="rgb(164,104,8)" opacity="0.4"/><circle cx="17.3" cy="28.6" r="0.4" fill="rgb(191,122,9)" opacity="0.4"/><circle cx="22.8" cy="32.4" r="0.5" fill="rgb(189,120,9)" opacity="1.0"/><circle cx="20.7" cy="35.1" r="0.5" fill="rgb(180,115,9)" opacity="0.3"/><circle cx="14.2" cy="33.6" r="0.5" fill="rgb(194,124,9)" opacity="0.7"/><circle cx="13.0" cy="24.0" r="0.6" fill="rgb(185,118,9)" opacity="0.8"/><circle cx="16.1" cy="25.9" r="0.5" fill="rgb(140,89,7)" opacity="0.7"/><circle cx="9.2" cy="28.3" r="0.7" fill="rgb(177,113,8)" opacity="0.9"/><circle cx="19.9" cy="46.5" r="0.8" fill="rgb(224,143,11)" opacity="0.5"/><circle cx="19.8" cy="35.9" r="0.5" fill="rgb(156,99,7)" opacity="0.9"/><circle cx="13.6" cy="24.1" r="0.6" fill="rgb(142,90,7)" opacity="0.4"/><circle cx="20.3" cy="37.0" r="0.7" fill="rgb(197,126,9)" opacity="0.6"/><circle cx="21.3" cy="22.4" r="0.6" fill="rgb(212,135,10)" opacity="0.8"/><circle cx="17.4" cy="38.0" r="0.4" fill="rgb(200,128,10)" opacity="0.5"/><circle cx="7.3" cy="26.9" r="0.9" fill="rgb(225,144,11)" opacity="0.5"/><circle cx="21.4" cy="46.7" r="0.7" fill="rgb(202,129,10)" opacity="0.3"/><circle cx="14.7" cy="26.3" r="0.4" fill="rgb(158,101,7)" opacity="0.7"/><circle cx="10.0" cy="23.7" r="0.5" fill="rgb(207,132,10)" opacity="0.3"/><circle cx="12.6" cy="20.9" r="0.4" fill="rgb(196,125,9)" opacity="0.3"/><circle cx="8.9" cy="33.9" r="0.7" fill="rgb(151,96,7)" opacity="0.5"/><circle cx="11.4" cy="21.2" r="0.5" fill="rgb(148,94,7)" opacity="0.3"/><circle cx="22.2" cy="25.8" r="0.6" fill="rgb(144,92,7)" opacity="0.7"/><circle cx="14.4" cy="39.4" r="0.6" fill="rgb(180,115,9)" opacity="0.6"/><circle cx="8.6" cy="25.3" r="0.4" fill="rgb(148,94,7)" opacity="0.9"/><circle cx="12.3" cy="26.4" r="0.6" fill="rgb(216,138,10)" opacity="0.6"/><circle cx="21.7" cy="43.0" r="0.5" fill="rgb(199,127,9)" opacity="0.6"/><circle cx="10.4" cy="33.5" r="0.7" fill="rgb(225,144,11)" opacity="0.6"/><circle cx="20.5" cy="22.8" r="0.5" fill="rgb(186,119,9)" opacity="0.8"/><circle cx="35.1" cy="36.0" r="0.7" fill="rgb(151,96,7)" opacity="0.9"/><circle cx="61.1" cy="19.1" r="0.4" fill="rgb(149,95,7)" opacity="0.9"/><circle cx="63.0" cy="20.4" r="0.9" fill="rgb(164,104,8)" opacity="0.8"/><circle cx="49.6" cy="29.5" r="0.4" fill="rgb(191,122,9)" opacity="1.0"/><circle cx="43.1" cy="30.8" r="0.5" fill="rgb(165,105,8)" opacity="0.5"/><circle cx="52.3" cy="29.4" r="0.4" fill="rgb(189,120,9)" opacity="0.6"/><circle cx="44.9" cy="30.4" r="0.5" fill="rgb(155,99,7)" opacity="0.7"/><circle cx="48.9" cy="34.0" r="0.5" fill="rgb(197,126,9)" opacity="0.7"/><circle cx="45.0" cy="33.5" r="0.8" fill="rgb(198,126,9)" opacity="0.9"/><circle cx="62.2" cy="22.3" r="0.7" fill="rgb(152,97,7)" opacity="0.5"/><circle cx="50.7" cy="34.8" r="0.4" fill="rgb(208,133,10)" opacity="0.8"/><circle cx="57.2" cy="26.8" r="0.8" fill="rgb(191,122,9)" opacity="0.8"/><circle cx="55.2" cy="31.8" r="0.4" fill="rgb(146,93,7)" opacity="0.3"/><circle cx="45.8" cy="35.9" r="0.4" fill="rgb(166,106,8)" opacity="1.0"/><circle cx="36.7" cy="40.6" r="0.5" fill="rgb(140,89,7)" opacity="0.5"/><circle cx="48.5" cy="30.2" r="0.8" fill="rgb(196,125,9)" opacity="0.8"/><circle cx="44.4" cy="34.8" r="0.4" fill="rgb(156,99,7)" opacity="0.5"/><circle cx="56.0" cy="26.5" r="0.4" fill="rgb(163,104,8)" opacity="0.7"/><circle cx="63.0" cy="21.0" r="0.5" fill="rgb(164,104,8)" opacity="1.0"/><circle cx="50.3" cy="36.1" r="0.5" fill="rgb(173,110,8)" opacity="0.9"/><circle cx="37.8" cy="38.8" r="0.7" fill="rgb(204,130,10)" opacity="0.5"/><circle cx="62.5" cy="23.5" r="0.4" fill="rgb(191,122,9)" opacity="0.7"/><circle cx="56.7" cy="29.0" r="0.8" fill="rgb(191,122,9)" opacity="0.7"/><circle cx="54.1" cy="32.6" r="0.5" fill="rgb(224,143,11)" opacity="1.0"/><circle cx="50.4" cy="27.9" r="0.7" fill="rgb(140,89,7)" opacity="0.7"/><circle cx="38.9" cy="36.5" r="0.6" fill="rgb(184,117,9)" opacity="0.8"/><circle cx="61.2" cy="26.2" r="0.8" fill="rgb(204,130,10)" opacity="0.3"/><circle cx="35.5" cy="39.5" r="0.5" fill="rgb(218,139,10)" opacity="0.8"/><circle cx="30.1" cy="40.5" r="0.5" fill="rgb(190,121,9)" opacity="0.7"/><circle cx="40.0" cy="37.5" r="0.7" fill="rgb(169,108,8)" opacity="0.4"/><circle cx="57.5" cy="30.3" r="0.8" fill="rgb(196,125,9)" opacity="0.8"/><circle cx="36.2" cy="39.4" r="0.5" fill="rgb(161,103,8)" opacity="0.7"/><circle cx="48.8" cy="28.2" r="0.6" fill="rgb(222,142,11)" opacity="0.5"/><circle cx="58.5" cy="24.6" r="0.7" fill="rgb(172,110,8)" opacity="0.9"/><circle cx="59.7" cy="23.1" r="0.5" fill="rgb(156,99,7)" opacity="0.3"/><circle cx="45.2" cy="36.3" r="0.6" fill="rgb(187,119,9)" opacity="0.5"/><circle cx="56.5" cy="27.9" r="0.7" fill="rgb(165,105,8)" opacity="0.6"/><circle cx="32.7" cy="42.2" r="0.6" fill="rgb(207,132,10)" opacity="0.3"/><circle cx="60.3" cy="19.9" r="0.7" fill="rgb(186,119,9)" opacity="0.6"/><circle cx="39.4" cy="34.2" r="0.6" fill="rgb(153,97,7)" opacity="0.6"/><circle cx="53.2" cy="27.1" r="0.8" fill="rgb(161,103,8)" opacity="0.4"/><circle cx="53.2" cy="31.7" r="0.7" fill="rgb(142,90,7)" opacity="0.7"/><circle cx="62.6" cy="20.7" r="0.6" fill="rgb(201,128,10)" opacity="0.7"/><circle cx="48.9" cy="27.1" r="0.4" fill="rgb(180,115,9)" opacity="0.7"/><circle cx="58.9" cy="21.4" r="0.6" fill="rgb(166,106,8)" opacity="0.8"/><circle cx="52.2" cy="34.8" r="0.7" fill="rgb(191,122,9)" opacity="0.6"/><circle cx="52.7" cy="28.5" r="0.7" fill="rgb(141,90,7)" opacity="0.5"/><circle cx="35.3" cy="40.9" r="0.7" fill="rgb(198,126,9)" opacity="0.4"/><circle cx="31.7" cy="40.0" r="0.5" fill="rgb(170,108,8)" opacity="0.6"/><circle cx="43.6" cy="39.4" r="0.5" fill="rgb(192,122,9)" opacity="0.7"/><circle cx="55.7" cy="28.5" r="0.8" fill="rgb(224,143,11)" opacity="1.0"/><circle cx="39.0" cy="41.8" r="0.8" fill="rgb(211,135,10)" opacity="0.7"/><circle cx="43.9" cy="33.1" r="0.8" fill="rgb(180,115,9)" opacity="0.5"/><circle cx="53.5" cy="27.9" r="0.4" fill="rgb(156,99,7)" opacity="0.9"/><circle cx="60.2" cy="22.9" r="0.4" fill="rgb(165,105,8)" opacity="0.8"/><circle cx="34.2" cy="36.8" r="0.7" fill="rgb(200,128,10)" opacity="0.9"/><circle cx="34.7" cy="41.1" r="0.5" fill="rgb(185,118,9)" opacity="1.0"/><circle cx="53.4" cy="33.9" r="0.7" fill="rgb(220,140,11)" opacity="0.8"/><circle cx="32.4" cy="42.2" r="0.6" fill="rgb(163,104,8)" opacity="0.9"/><circle cx="40.3" cy="33.9" r="0.5" fill="rgb(162,103,8)" opacity="0.6"/><circle cx="35.5" cy="35.7" r="0.8" fill="rgb(175,112,8)" opacity="0.9"/><circle cx="46.5" cy="28.9" r="0.8" fill="rgb(145,92,7)" opacity="0.5"/><circle cx="37.2" cy="35.6" r="0.7" fill="rgb(141,90,7)" opacity="0.3"/><circle cx="41.0" cy="33.3" r="0.5" fill="rgb(215,137,10)" opacity="1.0"/><circle cx="33.0" cy="37.8" r="0.9" fill="rgb(173,110,8)" opacity="0.8"/><circle cx="47.2" cy="28.1" r="0.5" fill="rgb(211,135,10)" opacity="0.8"/><circle cx="58.6" cy="28.2" r="0.7" fill="rgb(174,111,8)" opacity="0.6"/><circle cx="44.1" cy="39.7" r="0.9" fill="rgb(196,125,9)" opacity="0.4"/><circle cx="54.3" cy="29.5" r="0.7" fill="rgb(206,131,10)" opacity="1.0"/><circle cx="56.4" cy="28.2" r="0.8" fill="rgb(169,108,8)" opacity="0.3"/><circle cx="41.4" cy="36.8" r="0.5" fill="rgb(168,107,8)" opacity="0.4"/><circle cx="45.5" cy="36.1" r="0.5" fill="rgb(169,108,8)" opacity="0.8"/><circle cx="49.7" cy="26.4" r="0.7" fill="rgb(218,139,10)" opacity="0.5"/><circle cx="37.0" cy="39.1" r="0.9" fill="rgb(167,106,8)" opacity="0.6"/><circle cx="48.4" cy="28.3" r="0.5" fill="rgb(193,123,9)" opacity="0.8"/><circle cx="51.8" cy="25.6" r="0.8" fill="rgb(193,123,9)" opacity="0.9"/><circle cx="49.1" cy="31.2" r="0.7" fill="rgb(176,112,8)" opacity="0.4"/><circle cx="42.7" cy="33.2" r="0.8" fill="rgb(189,120,9)" opacity="0.6"/><circle cx="48.1" cy="27.8" r="0.9" fill="rgb(223,142,11)" opacity="0.5"/><circle cx="43.2" cy="32.5" r="0.8" fill="rgb(219,140,10)" opacity="0.8"/><circle cx="51.6" cy="32.0" r="0.4" fill="rgb(219,140,10)" opacity="0.4"/><circle cx="53.2" cy="34.1" r="0.5" fill="rgb(186,119,9)" opacity="1.0"/><circle cx="31.1" cy="41.4" r="0.5" fill="rgb(200,128,10)" opacity="0.8"/><circle cx="57.9" cy="26.1" r="0.6" fill="rgb(144,92,7)" opacity="1.0"/><circle cx="46.9" cy="30.0" r="0.9" fill="rgb(141,90,7)" opacity="0.7"/><circle cx="57.8" cy="27.0" r="0.7" fill="rgb(206,131,10)" opacity="0.6"/><circle cx="34.6" cy="40.2" r="0.6" fill="rgb(181,115,9)" opacity="0.3"/><circle cx="50.2" cy="26.6" r="0.5" fill="rgb(158,101,7)" opacity="0.8"/><circle cx="52.5" cy="31.0" r="0.8" fill="rgb(185,118,9)" opacity="0.9"/><circle cx="38.6" cy="39.0" r="0.8" fill="rgb(215,137,10)" opacity="0.3"/><circle cx="48.3" cy="31.4" r="0.6" fill="rgb(225,144,11)" opacity="0.4"/><circle cx="61.0" cy="20.6" r="0.5" fill="rgb(156,99,7)" opacity="0.5"/><circle cx="57.8" cy="26.8" r="0.6" fill="rgb(173,110,8)" opacity="0.4"/><circle cx="55.6" cy="31.4" r="0.6" fill="rgb(215,137,10)" opacity="0.6"/><circle cx="37.7" cy="36.8" r="0.6" fill="rgb(149,95,7)" opacity="0.7"/><circle cx="52.2" cy="34.3" r="0.6" fill="rgb(145,92,7)" opacity="0.6"/><circle cx="52.8" cy="30.5" r="0.8" fill="rgb(154,98,7)" opacity="0.9"/><circle cx="32.3" cy="39.0" r="0.7" fill="rgb(153,97,7)" opacity="0.6"/><circle cx="50.3" cy="30.1" r="0.6" fill="rgb(193,123,9)" opacity="0.6"/><circle cx="57.9" cy="25.9" r="0.8" fill="rgb(160,102,8)" opacity="0.7"/><circle cx="48.0" cy="29.6" r="0.6" fill="rgb(165,105,8)" opacity="0.5"/><circle cx="49.0" cy="29.7" r="0.4" fill="rgb(161,103,8)" opacity="0.7"/><circle cx="44.1" cy="30.5" r="0.4" fill="rgb(154,98,7)" opacity="0.7"/><circle cx="56.7" cy="27.1" r="0.5" fill="rgb(184,117,9)" opacity="0.7"/><circle cx="34.1" cy="38.7" r="0.8" fill="rgb(198,126,9)" opacity="0.8"/><circle cx="53.0" cy="25.5" r="0.5" fill="rgb(191,122,9)" opacity="0.4"/><circle cx="40.6" cy="35.0" r="0.9" fill="rgb(190,121,9)" opacity="0.3"/><circle cx="44.3" cy="37.0" r="0.6" fill="rgb(152,97,7)" opacity="0.9"/><circle cx="46.3" cy="36.6" r="0.5" fill="rgb(176,112,8)" opacity="0.6"/><circle cx="42.0" cy="31.6" r="0.6" fill="rgb(219,140,10)" opacity="0.8"/></g><ellipse cx="19.10" cy="31.10" rx="4.7" ry="5.0" transform="rotate(0 19.10 31.10)" fill="#203ee6" opacity="1" filter="url(#b05)"/><g filter="url(#b04)"><circle cx="19.0" cy="27.2" r="0.9" fill="#0c1c90" opacity="0.5"/><circle cx="19.8" cy="32.6" r="0.6" fill="#0c1c90" opacity="0.3"/><circle cx="20.5" cy="29.9" r="0.7" fill="#0c1c90" opacity="0.3"/><circle cx="20.8" cy="31.1" r="0.8" fill="#0c1c90" opacity="0.2"/><circle cx="18.1" cy="27.6" r="0.8" fill="#0c1c90" opacity="0.4"/><circle cx="17.8" cy="34.8" r="1.0" fill="#0c1c90" opacity="0.3"/><circle cx="16.9" cy="31.5" r="0.7" fill="#0c1c90" opacity="0.4"/><circle cx="19.3" cy="34.0" r="0.6" fill="#0c1c90" opacity="0.4"/></g><ellipse cx="48.10" cy="34.20" rx="4.7" ry="4.0" transform="rotate(-10 48.10 34.20)" fill="#203ee6" opacity="1" filter="url(#b05)"/><g filter="url(#b04)"><circle cx="48.9" cy="35.8" r="0.8" fill="#0c1c90" opacity="0.4"/><circle cx="45.1" cy="34.6" r="1.0" fill="#0c1c90" opacity="0.4"/><circle cx="47.2" cy="33.5" r="0.6" fill="#0c1c90" opacity="0.5"/><circle cx="50.6" cy="33.2" r="0.6" fill="#0c1c90" opacity="0.3"/><circle cx="51.2" cy="35.3" r="0.5" fill="#0c1c90" opacity="0.4"/><circle cx="48.9" cy="32.5" r="0.6" fill="#0c1c90" opacity="0.3"/></g></g></g><g transform="translate(299.0,298.3)"><g clip-path="url(#k16)"><g filter="url(#b03)"><circle cx="39.1" cy="26.4" r="0.8" fill="rgb(46,185,33)" opacity="0.6"/><circle cx="37.2" cy="28.3" r="0.6" fill="rgb(40,162,29)" opacity="0.5"/><circle cx="21.2" cy="18.8" r="0.4" fill="rgb(40,161,28)" opacity="0.8"/><circle cx="25.2" cy="42.0" r="0.6" fill="rgb(55,222,39)" opacity="0.6"/><circle cx="26.1" cy="31.2" r="0.9" fill="rgb(45,181,32)" opacity="0.4"/><circle cx="25.2" cy="19.8" r="0.9" fill="rgb(54,217,39)" opacity="0.8"/><circle cx="18.9" cy="16.8" r="0.7" fill="rgb(57,230,41)" opacity="0.9"/><circle cx="32.2" cy="28.9" r="0.9" fill="rgb(45,180,32)" opacity="0.8"/><circle cx="32.4" cy="31.2" r="0.6" fill="rgb(51,206,37)" opacity="0.7"/><circle cx="43.2" cy="25.0" r="0.7" fill="rgb(40,161,28)" opacity="0.5"/><circle cx="18.8" cy="24.7" r="0.7" fill="rgb(50,200,36)" opacity="1.0"/><circle cx="23.3" cy="15.5" r="0.5" fill="rgb(40,163,29)" opacity="1.0"/><circle cx="27.3" cy="19.3" r="0.6" fill="rgb(49,198,35)" opacity="0.8"/><circle cx="43.5" cy="22.5" r="0.8" fill="rgb(42,170,30)" opacity="1.0"/><circle cx="18.8" cy="25.3" r="0.8" fill="rgb(50,203,36)" opacity="0.6"/><circle cx="37.6" cy="36.5" r="0.6" fill="rgb(38,155,27)" opacity="1.0"/><circle cx="43.3" cy="35.0" r="0.9" fill="rgb(45,180,32)" opacity="0.5"/><circle cx="25.0" cy="16.5" r="0.9" fill="rgb(43,174,31)" opacity="0.6"/><circle cx="29.0" cy="19.4" r="0.8" fill="rgb(56,227,40)" opacity="0.7"/><circle cx="47.7" cy="24.1" r="0.9" fill="rgb(49,197,35)" opacity="0.8"/><circle cx="25.7" cy="19.2" r="0.6" fill="rgb(48,194,34)" opacity="0.7"/><circle cx="16.6" cy="18.4" r="0.8" fill="rgb(50,200,36)" opacity="0.4"/><circle cx="17.0" cy="20.1" r="0.6" fill="rgb(53,213,38)" opacity="0.9"/><circle cx="17.6" cy="31.2" r="0.7" fill="rgb(44,177,31)" opacity="0.9"/><circle cx="37.9" cy="23.4" r="0.4" fill="rgb(45,181,32)" opacity="0.8"/><circle cx="17.0" cy="18.4" r="0.5" fill="rgb(56,224,40)" opacity="1.0"/><circle cx="19.6" cy="32.1" r="0.9" fill="rgb(58,232,41)" opacity="0.7"/><circle cx="41.4" cy="23.7" r="0.9" fill="rgb(46,184,33)" opacity="0.5"/><circle cx="26.2" cy="33.6" r="0.8" fill="rgb(57,228,41)" opacity="0.7"/><circle cx="28.0" cy="24.9" r="0.6" fill="rgb(45,181,32)" opacity="0.7"/><circle cx="31.1" cy="41.5" r="0.8" fill="rgb(46,184,33)" opacity="0.8"/><circle cx="30.4" cy="33.8" r="0.4" fill="rgb(54,217,39)" opacity="0.6"/><circle cx="46.8" cy="33.6" r="0.9" fill="rgb(47,188,33)" opacity="0.8"/><circle cx="45.2" cy="24.9" r="0.7" fill="rgb(44,177,31)" opacity="1.0"/><circle cx="25.0" cy="23.0" r="0.5" fill="rgb(45,182,32)" opacity="0.9"/><circle cx="25.6" cy="36.0" r="0.7" fill="rgb(39,156,28)" opacity="0.5"/><circle cx="35.3" cy="33.1" r="0.7" fill="rgb(38,153,27)" opacity="0.6"/><circle cx="44.5" cy="26.6" r="0.4" fill="rgb(43,172,30)" opacity="0.6"/><circle cx="19.4" cy="28.1" r="0.4" fill="rgb(57,228,41)" opacity="0.7"/><circle cx="32.1" cy="28.7" r="0.8" fill="rgb(56,227,40)" opacity="0.9"/><circle cx="40.0" cy="25.4" r="0.6" fill="rgb(58,232,41)" opacity="1.0"/><circle cx="29.0" cy="25.4" r="0.6" fill="rgb(49,196,35)" opacity="0.5"/><circle cx="51.6" cy="28.3" r="0.5" fill="rgb(50,201,36)" opacity="0.5"/><circle cx="28.7" cy="18.2" r="0.4" fill="rgb(52,211,37)" opacity="0.7"/><circle cx="23.0" cy="36.5" r="0.5" fill="rgb(43,173,31)" opacity="0.5"/><circle cx="31.5" cy="31.8" r="0.9" fill="rgb(40,160,28)" opacity="0.9"/><circle cx="37.3" cy="25.7" r="0.6" fill="rgb(41,167,30)" opacity="0.4"/><circle cx="39.9" cy="25.9" r="0.9" fill="rgb(40,161,28)" opacity="0.6"/><circle cx="29.6" cy="26.3" r="0.8" fill="rgb(43,172,30)" opacity="0.6"/><circle cx="20.9" cy="36.3" r="0.6" fill="rgb(39,158,28)" opacity="0.7"/><circle cx="22.7" cy="19.9" r="0.9" fill="rgb(57,228,41)" opacity="0.5"/><circle cx="19.5" cy="36.1" r="0.6" fill="rgb(48,192,34)" opacity="0.7"/><circle cx="26.0" cy="33.6" r="0.6" fill="rgb(38,154,27)" opacity="1.0"/><circle cx="27.8" cy="18.1" r="0.6" fill="rgb(53,212,38)" opacity="0.9"/><circle cx="48.2" cy="30.1" r="0.5" fill="rgb(39,158,28)" opacity="0.8"/><circle cx="31.6" cy="35.1" r="0.8" fill="rgb(42,168,30)" opacity="0.6"/><circle cx="48.7" cy="31.6" r="0.5" fill="rgb(40,162,29)" opacity="0.6"/><circle cx="20.6" cy="26.0" r="0.6" fill="rgb(51,205,36)" opacity="0.6"/><circle cx="22.5" cy="32.0" r="0.7" fill="rgb(55,223,40)" opacity="0.7"/><circle cx="18.0" cy="31.9" r="0.8" fill="rgb(57,230,41)" opacity="0.6"/><circle cx="21.1" cy="19.3" r="0.4" fill="rgb(53,212,38)" opacity="0.5"/><circle cx="23.9" cy="41.1" r="0.6" fill="rgb(57,231,41)" opacity="0.7"/><circle cx="22.0" cy="26.6" r="0.6" fill="rgb(44,178,32)" opacity="1.0"/><circle cx="28.1" cy="43.6" r="0.9" fill="rgb(39,156,28)" opacity="0.8"/><circle cx="39.3" cy="28.3" r="0.9" fill="rgb(50,201,36)" opacity="0.8"/><circle cx="27.2" cy="20.9" r="0.6" fill="rgb(37,151,27)" opacity="0.9"/><circle cx="22.8" cy="37.8" r="0.8" fill="rgb(57,228,41)" opacity="0.4"/><circle cx="21.6" cy="43.0" r="0.8" fill="rgb(39,159,28)" opacity="0.5"/><circle cx="28.0" cy="27.5" r="0.7" fill="rgb(49,199,35)" opacity="0.8"/><circle cx="46.4" cy="33.1" r="0.7" fill="rgb(38,153,27)" opacity="0.9"/><circle cx="32.3" cy="29.6" r="0.9" fill="rgb(49,196,35)" opacity="0.7"/><circle cx="26.9" cy="22.9" r="0.9" fill="rgb(42,168,30)" opacity="0.4"/><circle cx="36.6" cy="22.5" r="0.9" fill="rgb(47,188,33)" opacity="0.4"/><circle cx="48.0" cy="34.8" r="0.5" fill="rgb(46,187,33)" opacity="0.4"/><circle cx="23.8" cy="23.7" r="0.5" fill="rgb(40,160,28)" opacity="0.6"/><circle cx="28.5" cy="23.2" r="0.9" fill="rgb(50,202,36)" opacity="0.9"/><circle cx="29.5" cy="27.5" r="0.7" fill="rgb(49,198,35)" opacity="0.4"/><circle cx="22.7" cy="31.4" r="0.9" fill="rgb(48,195,35)" opacity="0.7"/><circle cx="43.0" cy="30.3" r="0.8" fill="rgb(51,207,37)" opacity="0.7"/><circle cx="40.2" cy="35.9" r="0.5" fill="rgb(37,150,27)" opacity="0.5"/><circle cx="22.5" cy="22.1" r="0.7" fill="rgb(50,202,36)" opacity="0.7"/><circle cx="31.9" cy="32.7" r="0.9" fill="rgb(43,175,31)" opacity="0.5"/><circle cx="28.4" cy="30.1" r="0.7" fill="rgb(58,234,42)" opacity="0.8"/><circle cx="31.1" cy="30.5" r="0.9" fill="rgb(44,177,31)" opacity="0.7"/><circle cx="45.9" cy="35.3" r="0.7" fill="rgb(58,235,42)" opacity="0.7"/><circle cx="25.8" cy="36.6" r="0.8" fill="rgb(46,185,33)" opacity="0.6"/><circle cx="48.0" cy="34.3" r="0.4" fill="rgb(52,211,37)" opacity="0.9"/><circle cx="30.0" cy="26.2" r="0.5" fill="rgb(53,212,38)" opacity="0.7"/><circle cx="19.1" cy="43.3" r="0.6" fill="rgb(43,172,30)" opacity="0.8"/><circle cx="42.9" cy="27.0" r="0.5" fill="rgb(52,211,37)" opacity="0.7"/><circle cx="44.8" cy="23.3" r="0.9" fill="rgb(52,210,37)" opacity="0.5"/><circle cx="39.7" cy="20.1" r="0.4" fill="rgb(43,173,31)" opacity="0.9"/><circle cx="19.7" cy="15.4" r="0.8" fill="rgb(45,182,32)" opacity="0.9"/><circle cx="49.3" cy="32.5" r="0.6" fill="rgb(41,164,29)" opacity="0.4"/><circle cx="28.0" cy="25.3" r="0.9" fill="rgb(46,186,33)" opacity="1.0"/><circle cx="36.8" cy="20.5" r="0.7" fill="rgb(46,184,33)" opacity="0.8"/><circle cx="17.1" cy="39.2" r="0.4" fill="rgb(57,228,41)" opacity="0.7"/><circle cx="41.1" cy="26.6" r="0.9" fill="rgb(39,159,28)" opacity="0.6"/><circle cx="19.3" cy="32.1" r="0.8" fill="rgb(41,166,29)" opacity="0.5"/><circle cx="24.9" cy="19.7" r="0.5" fill="rgb(57,228,41)" opacity="0.7"/><circle cx="42.0" cy="34.4" r="0.9" fill="rgb(44,178,32)" opacity="0.8"/><circle cx="21.3" cy="42.0" r="0.9" fill="rgb(42,168,30)" opacity="0.4"/><circle cx="23.2" cy="17.1" r="0.5" fill="rgb(39,156,28)" opacity="0.9"/><circle cx="27.8" cy="29.8" r="0.8" fill="rgb(56,225,40)" opacity="0.6"/><circle cx="49.1" cy="29.7" r="0.5" fill="rgb(44,176,31)" opacity="0.5"/><circle cx="39.4" cy="36.2" r="0.7" fill="rgb(56,224,40)" opacity="0.6"/><circle cx="49.5" cy="34.7" r="0.9" fill="rgb(46,187,33)" opacity="0.6"/><circle cx="50.6" cy="26.1" r="0.8" fill="rgb(51,207,37)" opacity="0.4"/><circle cx="22.6" cy="26.6" r="0.8" fill="rgb(38,152,27)" opacity="0.7"/><circle cx="17.5" cy="23.7" r="0.6" fill="rgb(49,196,35)" opacity="0.5"/><circle cx="31.6" cy="35.3" r="0.7" fill="rgb(39,157,28)" opacity="0.6"/><circle cx="24.3" cy="33.1" r="0.8" fill="rgb(37,150,27)" opacity="0.4"/><circle cx="47.1" cy="22.7" r="0.9" fill="rgb(40,163,29)" opacity="0.4"/><circle cx="44.7" cy="26.9" r="0.9" fill="rgb(58,234,42)" opacity="0.8"/><circle cx="49.4" cy="35.0" r="0.7" fill="rgb(57,229,41)" opacity="0.8"/><circle cx="49.0" cy="26.6" r="0.6" fill="rgb(42,170,30)" opacity="0.6"/><circle cx="18.0" cy="19.0" r="0.5" fill="rgb(46,187,33)" opacity="1.0"/><circle cx="39.6" cy="20.7" r="0.9" fill="rgb(51,205,36)" opacity="0.9"/><circle cx="21.2" cy="28.6" r="0.6" fill="rgb(52,210,37)" opacity="0.6"/><circle cx="31.3" cy="21.9" r="0.9" fill="rgb(42,170,30)" opacity="0.6"/><circle cx="23.5" cy="23.8" r="0.6" fill="rgb(43,173,31)" opacity="0.5"/><circle cx="33.3" cy="42.4" r="0.7" fill="rgb(38,153,27)" opacity="0.9"/><circle cx="52.0" cy="29.4" r="0.7" fill="rgb(58,235,42)" opacity="0.7"/><circle cx="31.6" cy="25.6" r="0.5" fill="rgb(39,156,28)" opacity="0.6"/><circle cx="31.4" cy="34.1" r="0.5" fill="rgb(56,226,40)" opacity="0.6"/><circle cx="24.8" cy="34.2" r="0.7" fill="rgb(56,225,40)" opacity="0.7"/><circle cx="21.9" cy="41.3" r="0.6" fill="rgb(57,229,41)" opacity="0.7"/><circle cx="38.7" cy="36.7" r="0.6" fill="rgb(57,229,41)" opacity="0.5"/><circle cx="36.7" cy="26.7" r="0.8" fill="rgb(52,208,37)" opacity="0.9"/><circle cx="32.8" cy="33.2" r="0.7" fill="rgb(42,168,30)" opacity="0.6"/><circle cx="44.1" cy="25.3" r="0.6" fill="rgb(38,153,27)" opacity="0.5"/><circle cx="18.6" cy="32.6" r="0.5" fill="rgb(39,156,28)" opacity="0.7"/><circle cx="52.0" cy="31.4" r="0.7" fill="rgb(46,184,33)" opacity="0.6"/><circle cx="50.6" cy="29.6" r="0.6" fill="rgb(37,150,27)" opacity="0.9"/><circle cx="17.2" cy="17.4" r="0.5" fill="rgb(43,172,30)" opacity="0.7"/><circle cx="37.5" cy="33.7" r="0.7" fill="rgb(51,205,36)" opacity="0.4"/><circle cx="15.7" cy="16.4" r="0.6" fill="rgb(52,211,37)" opacity="0.5"/><circle cx="28.0" cy="39.2" r="0.4" fill="rgb(44,179,32)" opacity="0.9"/><circle cx="21.7" cy="30.6" r="0.4" fill="rgb(48,195,35)" opacity="1.0"/><circle cx="24.5" cy="32.4" r="0.7" fill="rgb(42,168,30)" opacity="0.5"/><circle cx="37.2" cy="27.9" r="0.8" fill="rgb(45,180,32)" opacity="0.6"/><circle cx="51.5" cy="31.2" r="0.9" fill="rgb(51,205,36)" opacity="0.5"/><circle cx="41.1" cy="28.9" r="0.6" fill="rgb(39,156,28)" opacity="0.5"/><circle cx="38.7" cy="29.8" r="0.4" fill="rgb(44,177,31)" opacity="0.7"/><circle cx="33.7" cy="30.2" r="0.4" fill="rgb(44,179,32)" opacity="0.6"/><circle cx="28.0" cy="30.9" r="0.8" fill="rgb(52,210,37)" opacity="0.9"/><circle cx="46.0" cy="29.5" r="0.8" fill="rgb(58,235,42)" opacity="0.4"/><circle cx="26.3" cy="43.6" r="0.8" fill="rgb(56,224,40)" opacity="0.8"/><circle cx="19.9" cy="17.4" r="0.4" fill="rgb(48,194,34)" opacity="0.5"/><circle cx="20.3" cy="40.0" r="0.7" fill="rgb(46,184,33)" opacity="0.5"/><circle cx="21.6" cy="18.0" r="0.7" fill="rgb(50,200,36)" opacity="0.7"/><circle cx="39.6" cy="36.4" r="0.8" fill="rgb(51,206,37)" opacity="1.0"/><circle cx="37.2" cy="25.9" r="0.5" fill="rgb(55,221,39)" opacity="0.5"/><circle cx="30.1" cy="39.0" r="0.8" fill="rgb(53,214,38)" opacity="1.0"/><circle cx="28.3" cy="25.8" r="0.8" fill="rgb(43,172,30)" opacity="0.7"/><circle cx="27.1" cy="40.3" r="0.5" fill="rgb(38,155,27)" opacity="0.6"/><circle cx="30.8" cy="21.2" r="0.9" fill="rgb(47,191,34)" opacity="0.4"/><circle cx="38.5" cy="24.3" r="0.5" fill="rgb(47,188,33)" opacity="0.5"/><circle cx="49.0" cy="28.1" r="0.8" fill="rgb(58,233,41)" opacity="0.7"/><circle cx="38.3" cy="35.4" r="0.7" fill="rgb(40,160,28)" opacity="0.8"/><circle cx="22.9" cy="25.4" r="0.4" fill="rgb(38,155,27)" opacity="0.7"/><circle cx="17.3" cy="36.7" r="0.4" fill="rgb(49,197,35)" opacity="0.9"/><circle cx="27.3" cy="41.8" r="0.8" fill="rgb(42,169,30)" opacity="0.6"/><circle cx="47.2" cy="27.9" r="0.9" fill="rgb(58,233,41)" opacity="0.7"/><circle cx="25.0" cy="20.7" r="0.4" fill="rgb(49,199,35)" opacity="0.9"/><circle cx="33.0" cy="20.2" r="0.5" fill="rgb(54,218,39)" opacity="0.9"/><circle cx="23.1" cy="30.4" r="0.4" fill="rgb(46,186,33)" opacity="0.6"/><circle cx="29.9" cy="31.0" r="0.6" fill="rgb(56,227,40)" opacity="0.7"/><circle cx="26.0" cy="21.9" r="0.8" fill="rgb(52,210,37)" opacity="0.5"/><circle cx="35.4" cy="38.4" r="0.7" fill="rgb(53,214,38)" opacity="0.9"/><circle cx="38.2" cy="32.3" r="0.9" fill="rgb(57,229,41)" opacity="0.9"/><circle cx="49.5" cy="29.8" r="0.8" fill="rgb(42,171,30)" opacity="0.5"/><circle cx="23.4" cy="17.3" r="0.7" fill="rgb(51,207,37)" opacity="1.0"/><circle cx="42.8" cy="24.0" r="0.7" fill="rgb(42,169,30)" opacity="1.0"/><circle cx="33.4" cy="40.5" r="0.7" fill="rgb(50,200,36)" opacity="0.4"/><circle cx="32.7" cy="34.7" r="0.6" fill="rgb(39,159,28)" opacity="0.4"/><circle cx="37.4" cy="22.9" r="0.5" fill="rgb(55,223,40)" opacity="0.4"/><circle cx="42.2" cy="35.6" r="0.7" fill="rgb(49,196,35)" opacity="1.0"/><circle cx="26.3" cy="22.1" r="0.6" fill="rgb(49,199,35)" opacity="0.8"/><circle cx="47.2" cy="25.5" r="0.8" fill="rgb(48,195,35)" opacity="0.4"/><circle cx="28.6" cy="20.2" r="0.4" fill="rgb(40,162,29)" opacity="0.4"/><circle cx="35.5" cy="22.6" r="0.5" fill="rgb(53,213,38)" opacity="0.5"/><circle cx="43.4" cy="31.7" r="0.5" fill="rgb(38,153,27)" opacity="0.8"/><circle cx="53.6" cy="28.9" r="0.8" fill="rgb(44,177,31)" opacity="0.8"/><circle cx="52.7" cy="27.4" r="0.7" fill="rgb(45,183,32)" opacity="0.6"/><circle cx="22.4" cy="23.8" r="0.6" fill="rgb(50,200,36)" opacity="0.8"/><circle cx="25.2" cy="35.0" r="0.5" fill="rgb(41,164,29)" opacity="0.5"/><circle cx="34.4" cy="35.2" r="0.5" fill="rgb(57,228,41)" opacity="0.5"/><circle cx="23.6" cy="36.3" r="0.8" fill="rgb(57,229,41)" opacity="0.4"/><circle cx="24.9" cy="27.6" r="0.9" fill="rgb(40,161,28)" opacity="1.0"/><circle cx="53.9" cy="31.0" r="0.7" fill="rgb(44,178,32)" opacity="0.5"/><circle cx="37.7" cy="31.8" r="0.7" fill="rgb(38,155,27)" opacity="0.8"/><circle cx="24.9" cy="40.6" r="0.9" fill="rgb(51,204,36)" opacity="0.9"/><circle cx="18.1" cy="39.5" r="0.5" fill="rgb(53,212,38)" opacity="0.4"/><circle cx="37.0" cy="21.1" r="0.8" fill="rgb(38,153,27)" opacity="0.4"/><circle cx="35.5" cy="30.4" r="0.5" fill="rgb(44,177,31)" opacity="0.4"/><circle cx="33.5" cy="25.0" r="0.5" fill="rgb(49,198,35)" opacity="0.6"/><circle cx="18.9" cy="28.3" r="0.4" fill="rgb(55,223,40)" opacity="0.7"/><circle cx="47.9" cy="25.1" r="0.5" fill="rgb(48,194,34)" opacity="0.8"/><circle cx="20.1" cy="34.1" r="0.6" fill="rgb(43,175,31)" opacity="0.8"/></g><ellipse cx="27.60" cy="32.00" rx="4.9" ry="3.8" transform="rotate(5 27.60 32.00)" fill="#203ee6" opacity="1" filter="url(#b05)"/><g filter="url(#b04)"><circle cx="27.0" cy="30.5" r="0.8" fill="#0c1c90" opacity="0.3"/><circle cx="25.6" cy="31.9" r="0.7" fill="#0c1c90" opacity="0.3"/><circle cx="28.6" cy="29.2" r="0.8" fill="#0c1c90" opacity="0.4"/><circle cx="25.0" cy="30.2" r="0.5" fill="#0c1c90" opacity="0.4"/><circle cx="26.4" cy="32.2" r="0.6" fill="#0c1c90" opacity="0.4"/><circle cx="26.6" cy="30.8" r="0.8" fill="#0c1c90" opacity="0.5"/></g><ellipse cx="42.00" cy="26.20" rx="3.9" ry="4.3" transform="rotate(-25 42.00 26.20)" fill="#203ee6" opacity="1" filter="url(#b05)"/><g filter="url(#b04)"><circle cx="44.5" cy="27.9" r="0.6" fill="#0c1c90" opacity="0.4"/><circle cx="42.4" cy="26.8" r="0.7" fill="#0c1c90" opacity="0.3"/><circle cx="39.9" cy="25.9" r="0.6" fill="#0c1c90" opacity="0.4"/><circle cx="43.0" cy="27.5" r="0.5" fill="#0c1c90" opacity="0.5"/><circle cx="42.0" cy="26.8" r="0.9" fill="#0c1c90" opacity="0.3"/></g></g></g><g transform="translate(370.8,298.3)"><g clip-path="url(#k17)"><path d="M15.90,13.90 C17.14,13.90 22.27,16.76 24.90,18.00 C27.53,19.24 28.25,20.04 30.50,20.80 C32.75,21.56 34.92,21.46 37.40,22.20 C39.88,22.94 41.82,24.04 44.30,24.90 C46.78,25.76 49.33,25.63 51.20,27.00 C53.07,28.37 55.44,31.26 54.70,32.50 C53.96,33.74 49.46,33.27 47.10,33.90 C44.74,34.53 43.60,35.75 41.60,36.00 C39.60,36.25 37.51,34.54 36.00,35.30 C34.49,36.06 35.20,38.71 33.20,40.20 C31.20,41.69 27.64,43.11 24.90,43.60 C22.16,44.09 19.62,44.27 18.00,42.90 C16.38,41.53 16.15,38.48 15.90,36.00 C15.65,33.52 15.72,31.22 16.60,29.10 C17.48,26.98 20.55,26.20 20.80,24.20 C21.05,22.20 18.88,19.85 18.00,18.00 C17.12,16.15 14.66,13.90 15.90,13.90 Z" fill="#300404" stroke="#a01414" stroke-width="0.8" filter="url(#b04)"/><g filter="url(#b03)"><circle cx="18.9" cy="30.9" r="0.5" fill="rgb(182,14,14)" opacity="0.7"/><circle cx="44.2" cy="28.4" r="0.5" fill="rgb(186,14,14)" opacity="0.8"/><circle cx="30.9" cy="33.8" r="0.4" fill="rgb(147,11,11)" opacity="0.4"/><circle cx="34.4" cy="27.2" r="0.4" fill="rgb(192,15,15)" opacity="0.7"/><circle cx="28.9" cy="25.5" r="0.7" fill="rgb(192,15,15)" opacity="0.4"/><circle cx="27.5" cy="19.5" r="0.5" fill="rgb(150,12,12)" opacity="0.7"/><circle cx="31.4" cy="31.2" r="0.6" fill="rgb(179,14,14)" opacity="0.7"/><circle cx="28.4" cy="25.0" r="0.6" fill="rgb(131,10,10)" opacity="0.7"/><circle cx="35.4" cy="33.5" r="0.4" fill="rgb(162,12,12)" opacity="0.8"/><circle cx="24.6" cy="32.4" r="0.7" fill="rgb(178,14,14)" opacity="0.8"/><circle cx="28.0" cy="23.3" r="0.4" fill="rgb(158,12,12)" opacity="0.4"/><circle cx="25.9" cy="36.7" r="0.5" fill="rgb(204,16,16)" opacity="0.3"/><circle cx="21.0" cy="41.7" r="0.5" fill="rgb(176,14,14)" opacity="0.7"/><circle cx="19.0" cy="42.8" r="0.3" fill="rgb(148,11,11)" opacity="0.6"/><circle cx="26.8" cy="33.4" r="0.5" fill="rgb(134,10,10)" opacity="0.7"/><circle cx="38.5" cy="35.4" r="0.5" fill="rgb(213,17,17)" opacity="0.5"/><circle cx="29.6" cy="26.1" r="0.3" fill="rgb(172,13,13)" opacity="0.6"/><circle cx="16.5" cy="33.6" r="0.4" fill="rgb(200,16,16)" opacity="0.8"/><circle cx="19.5" cy="19.5" r="0.5" fill="rgb(200,16,16)" opacity="0.4"/><circle cx="27.6" cy="24.7" r="0.5" fill="rgb(183,14,14)" opacity="0.7"/><circle cx="25.8" cy="38.3" r="0.5" fill="rgb(181,14,14)" opacity="0.5"/><circle cx="30.9" cy="28.0" r="0.5" fill="rgb(204,16,16)" opacity="0.7"/><circle cx="43.0" cy="34.6" r="0.6" fill="rgb(217,17,17)" opacity="0.5"/><circle cx="34.5" cy="36.3" r="0.4" fill="rgb(167,13,13)" opacity="0.4"/><circle cx="37.5" cy="23.6" r="0.5" fill="rgb(141,11,11)" opacity="0.7"/><circle cx="27.1" cy="25.6" r="0.3" fill="rgb(168,13,13)" opacity="0.6"/><circle cx="42.2" cy="35.0" r="0.4" fill="rgb(190,15,15)" opacity="0.5"/><circle cx="20.3" cy="21.3" r="0.4" fill="rgb(177,14,14)" opacity="0.4"/><circle cx="50.8" cy="31.6" r="0.5" fill="rgb(218,17,17)" opacity="0.7"/><circle cx="32.1" cy="31.2" r="0.7" fill="rgb(209,16,16)" opacity="0.9"/><circle cx="35.4" cy="22.1" r="0.7" fill="rgb(162,12,12)" opacity="0.8"/><circle cx="28.4" cy="32.6" r="0.4" fill="rgb(206,16,16)" opacity="0.7"/><circle cx="26.8" cy="32.6" r="0.4" fill="rgb(199,15,15)" opacity="0.8"/><circle cx="19.3" cy="20.0" r="0.4" fill="rgb(173,13,13)" opacity="0.3"/><circle cx="25.4" cy="37.0" r="0.6" fill="rgb(156,12,12)" opacity="0.4"/><circle cx="31.4" cy="37.5" r="0.7" fill="rgb(185,14,14)" opacity="0.4"/><circle cx="40.7" cy="33.7" r="0.4" fill="rgb(148,11,11)" opacity="0.5"/><circle cx="25.3" cy="32.0" r="0.5" fill="rgb(183,14,14)" opacity="0.6"/><circle cx="35.3" cy="28.0" r="0.4" fill="rgb(159,12,12)" opacity="0.5"/><circle cx="34.1" cy="33.5" r="0.3" fill="rgb(179,14,14)" opacity="0.5"/><circle cx="19.4" cy="36.9" r="0.4" fill="rgb(218,17,17)" opacity="0.4"/><circle cx="23.5" cy="32.2" r="0.7" fill="rgb(138,11,11)" opacity="0.5"/><circle cx="20.0" cy="27.9" r="0.7" fill="rgb(130,10,10)" opacity="0.6"/><circle cx="53.2" cy="31.5" r="0.4" fill="rgb(190,15,15)" opacity="0.5"/><circle cx="19.2" cy="38.5" r="0.5" fill="rgb(186,14,14)" opacity="0.8"/><circle cx="34.0" cy="37.8" r="0.4" fill="rgb(212,16,16)" opacity="0.7"/><circle cx="39.9" cy="34.6" r="0.3" fill="rgb(216,17,17)" opacity="0.3"/><circle cx="21.3" cy="39.2" r="0.4" fill="rgb(149,11,11)" opacity="0.5"/><circle cx="37.5" cy="31.5" r="0.4" fill="rgb(156,12,12)" opacity="0.6"/><circle cx="27.3" cy="33.1" r="0.4" fill="rgb(140,11,11)" opacity="0.3"/><circle cx="48.7" cy="29.9" r="0.4" fill="rgb(172,13,13)" opacity="0.5"/><circle cx="19.2" cy="18.3" r="0.4" fill="rgb(166,13,13)" opacity="0.7"/><circle cx="38.6" cy="23.8" r="0.6" fill="rgb(163,13,13)" opacity="0.7"/><circle cx="33.5" cy="28.4" r="0.4" fill="rgb(194,15,15)" opacity="0.4"/><circle cx="20.9" cy="20.5" r="0.6" fill="rgb(151,12,12)" opacity="0.8"/><circle cx="51.8" cy="29.1" r="0.4" fill="rgb(188,15,15)" opacity="0.5"/><circle cx="33.0" cy="33.7" r="0.7" fill="rgb(217,17,17)" opacity="0.5"/><circle cx="19.5" cy="32.6" r="0.5" fill="rgb(147,11,11)" opacity="0.5"/><circle cx="25.3" cy="31.9" r="0.5" fill="rgb(162,12,12)" opacity="0.6"/><circle cx="20.7" cy="29.9" r="0.6" fill="rgb(192,15,15)" opacity="0.4"/><circle cx="36.4" cy="34.9" r="0.7" fill="rgb(188,15,15)" opacity="0.5"/><circle cx="21.6" cy="17.8" r="0.7" fill="rgb(213,17,17)" opacity="0.7"/><circle cx="22.2" cy="41.5" r="0.6" fill="rgb(144,11,11)" opacity="0.7"/><circle cx="34.5" cy="22.7" r="0.5" fill="rgb(132,10,10)" opacity="0.5"/><circle cx="33.7" cy="37.8" r="0.7" fill="rgb(135,10,10)" opacity="0.7"/><circle cx="27.2" cy="28.1" r="0.7" fill="rgb(130,10,10)" opacity="0.7"/><circle cx="21.1" cy="32.5" r="0.5" fill="rgb(189,15,15)" opacity="0.5"/><circle cx="31.1" cy="31.5" r="0.5" fill="rgb(151,12,12)" opacity="0.7"/><circle cx="44.3" cy="27.4" r="0.5" fill="rgb(218,17,17)" opacity="0.4"/><circle cx="28.5" cy="41.1" r="0.6" fill="rgb(135,10,10)" opacity="0.5"/><circle cx="37.8" cy="29.1" r="0.6" fill="rgb(140,11,11)" opacity="0.8"/><circle cx="21.1" cy="24.4" r="0.5" fill="rgb(212,16,16)" opacity="0.5"/><circle cx="38.9" cy="26.7" r="0.3" fill="rgb(193,15,15)" opacity="0.6"/><circle cx="43.8" cy="31.4" r="0.6" fill="rgb(175,14,14)" opacity="0.7"/><circle cx="20.4" cy="25.5" r="0.5" fill="rgb(204,16,16)" opacity="0.6"/><circle cx="26.8" cy="20.4" r="0.4" fill="rgb(161,12,12)" opacity="0.4"/><circle cx="31.8" cy="25.8" r="0.4" fill="rgb(146,11,11)" opacity="0.4"/><circle cx="33.3" cy="30.2" r="0.5" fill="rgb(147,11,11)" opacity="0.7"/><circle cx="29.6" cy="37.6" r="0.5" fill="rgb(153,12,12)" opacity="0.9"/><circle cx="25.7" cy="23.8" r="0.4" fill="rgb(156,12,12)" opacity="0.6"/><circle cx="18.2" cy="39.7" r="0.5" fill="rgb(213,17,17)" opacity="0.5"/><circle cx="31.9" cy="30.9" r="0.4" fill="rgb(139,11,11)" opacity="0.4"/><circle cx="19.8" cy="36.5" r="0.6" fill="rgb(143,11,11)" opacity="0.8"/><circle cx="29.8" cy="29.7" r="0.3" fill="rgb(190,15,15)" opacity="0.5"/><circle cx="47.5" cy="27.4" r="0.4" fill="rgb(183,14,14)" opacity="0.4"/><circle cx="50.0" cy="32.8" r="0.3" fill="rgb(141,11,11)" opacity="0.7"/><circle cx="35.1" cy="35.4" r="0.6" fill="rgb(194,15,15)" opacity="0.4"/><circle cx="46.0" cy="26.9" r="0.7" fill="rgb(146,11,11)" opacity="0.8"/><circle cx="24.8" cy="25.7" r="0.7" fill="rgb(168,13,13)" opacity="0.6"/><circle cx="19.9" cy="31.9" r="0.5" fill="rgb(192,15,15)" opacity="0.6"/><circle cx="19.3" cy="27.8" r="0.6" fill="rgb(178,14,14)" opacity="0.3"/><circle cx="23.6" cy="24.8" r="0.6" fill="rgb(210,16,16)" opacity="0.3"/><circle cx="34.5" cy="34.7" r="0.3" fill="rgb(159,12,12)" opacity="0.9"/><circle cx="44.1" cy="26.6" r="0.5" fill="rgb(150,12,12)" opacity="0.5"/><circle cx="29.4" cy="25.6" r="0.3" fill="rgb(161,12,12)" opacity="0.6"/><circle cx="49.4" cy="31.8" r="0.4" fill="rgb(216,17,17)" opacity="0.6"/><circle cx="32.8" cy="36.1" r="0.6" fill="rgb(175,14,14)" opacity="0.6"/><circle cx="41.3" cy="29.7" r="0.4" fill="rgb(173,13,13)" opacity="0.8"/><circle cx="27.5" cy="42.2" r="0.4" fill="rgb(195,15,15)" opacity="0.7"/><circle cx="27.8" cy="32.1" r="0.6" fill="rgb(162,12,12)" opacity="0.4"/><circle cx="42.3" cy="31.7" r="0.6" fill="rgb(199,15,15)" opacity="0.9"/><circle cx="49.4" cy="28.4" r="0.5" fill="rgb(145,11,11)" opacity="0.7"/><circle cx="38.9" cy="28.0" r="0.4" fill="rgb(159,12,12)" opacity="0.6"/><circle cx="24.7" cy="38.7" r="0.6" fill="rgb(205,16,16)" opacity="0.9"/><circle cx="40.9" cy="30.4" r="0.6" fill="rgb(210,16,16)" opacity="0.4"/><circle cx="28.2" cy="30.3" r="0.3" fill="rgb(132,10,10)" opacity="0.4"/><circle cx="36.7" cy="29.5" r="0.4" fill="rgb(194,15,15)" opacity="0.5"/><circle cx="22.9" cy="33.6" r="0.4" fill="rgb(159,12,12)" opacity="0.3"/><circle cx="38.7" cy="32.9" r="0.6" fill="rgb(131,10,10)" opacity="0.6"/><circle cx="35.5" cy="24.0" r="0.4" fill="rgb(186,14,14)" opacity="0.6"/></g><ellipse cx="27.50" cy="32.50" rx="4.7" ry="3.9" transform="rotate(5 27.50 32.50)" fill="#203ee6" opacity="1" filter="url(#b05)"/><g filter="url(#b04)"><circle cx="30.8" cy="33.9" r="0.7" fill="#0c1c90" opacity="0.4"/><circle cx="24.1" cy="33.6" r="0.6" fill="#0c1c90" opacity="0.2"/><circle cx="28.9" cy="33.0" r="0.7" fill="#0c1c90" opacity="0.4"/><circle cx="25.6" cy="32.8" r="0.7" fill="#0c1c90" opacity="0.4"/><circle cx="27.3" cy="30.0" r="0.9" fill="#0c1c90" opacity="0.4"/><circle cx="29.3" cy="31.2" r="0.6" fill="#0c1c90" opacity="0.5"/></g><ellipse cx="41.50" cy="27.00" rx="4.2" ry="4.3" transform="rotate(-25 41.50 27.00)" fill="#203ee6" opacity="1" filter="url(#b05)"/><g filter="url(#b04)"><circle cx="41.0" cy="23.8" r="0.5" fill="#0c1c90" opacity="0.4"/><circle cx="41.2" cy="25.0" r="0.6" fill="#0c1c90" opacity="0.4"/><circle cx="44.0" cy="27.2" r="0.5" fill="#0c1c90" opacity="0.2"/><circle cx="42.3" cy="24.2" r="0.9" fill="#0c1c90" opacity="0.5"/><circle cx="40.0" cy="28.1" r="0.6" fill="#0c1c90" opacity="0.4"/><circle cx="43.8" cy="28.8" r="0.6" fill="#0c1c90" opacity="0.3"/></g></g></g><g transform="translate(442.1,298.3)"><g clip-path="url(#k18)"><g filter="url(#b03)"><circle cx="22.0" cy="38.5" r="0.8" fill="rgb(143,91,7)" opacity="0.5"/><circle cx="54.5" cy="27.2" r="0.6" fill="rgb(147,94,7)" opacity="0.5"/><circle cx="51.3" cy="32.8" r="0.8" fill="rgb(197,126,9)" opacity="0.7"/><circle cx="27.8" cy="30.0" r="0.5" fill="rgb(159,101,7)" opacity="0.8"/><circle cx="32.2" cy="23.4" r="0.8" fill="rgb(223,142,11)" opacity="1.0"/><circle cx="47.3" cy="33.2" r="0.8" fill="rgb(196,125,9)" opacity="0.4"/><circle cx="38.9" cy="28.2" r="0.4" fill="rgb(172,110,8)" opacity="0.8"/><circle cx="25.3" cy="21.3" r="0.5" fill="rgb(223,142,11)" opacity="0.6"/><circle cx="30.7" cy="32.7" r="0.5" fill="rgb(144,92,7)" opacity="0.6"/><circle cx="25.0" cy="38.9" r="0.7" fill="rgb(168,107,8)" opacity="0.5"/><circle cx="32.0" cy="31.9" r="0.4" fill="rgb(172,110,8)" opacity="0.9"/><circle cx="26.1" cy="22.3" r="0.7" fill="rgb(221,141,11)" opacity="0.6"/><circle cx="30.8" cy="23.3" r="0.8" fill="rgb(219,140,10)" opacity="0.7"/><circle cx="44.5" cy="20.8" r="0.7" fill="rgb(188,120,9)" opacity="0.8"/><circle cx="54.7" cy="28.8" r="0.6" fill="rgb(172,110,8)" opacity="0.8"/><circle cx="40.0" cy="25.0" r="0.7" fill="rgb(168,107,8)" opacity="0.9"/><circle cx="25.2" cy="43.2" r="0.4" fill="rgb(193,123,9)" opacity="0.4"/><circle cx="37.9" cy="36.4" r="0.5" fill="rgb(223,142,11)" opacity="0.7"/><circle cx="42.4" cy="22.0" r="0.7" fill="rgb(140,89,7)" opacity="0.7"/><circle cx="36.3" cy="26.4" r="0.7" fill="rgb(205,131,10)" opacity="0.8"/><circle cx="49.6" cy="35.7" r="0.4" fill="rgb(146,93,7)" opacity="1.0"/><circle cx="30.1" cy="37.8" r="0.8" fill="rgb(163,104,8)" opacity="0.9"/><circle cx="29.5" cy="31.3" r="0.7" fill="rgb(143,91,7)" opacity="0.4"/><circle cx="24.7" cy="23.6" r="0.7" fill="rgb(198,126,9)" opacity="0.5"/><circle cx="48.6" cy="25.4" r="0.8" fill="rgb(213,136,10)" opacity="0.5"/><circle cx="33.4" cy="40.0" r="0.6" fill="rgb(146,93,7)" opacity="0.9"/><circle cx="37.4" cy="37.5" r="0.6" fill="rgb(200,128,10)" opacity="0.8"/><circle cx="38.2" cy="22.3" r="0.6" fill="rgb(214,136,10)" opacity="0.6"/><circle cx="39.2" cy="30.5" r="0.5" fill="rgb(202,129,10)" opacity="0.9"/><circle cx="22.7" cy="26.3" r="0.8" fill="rgb(212,135,10)" opacity="0.8"/><circle cx="31.0" cy="40.7" r="0.7" fill="rgb(195,124,9)" opacity="0.9"/><circle cx="25.4" cy="35.9" r="0.8" fill="rgb(164,104,8)" opacity="0.8"/><circle cx="26.2" cy="20.1" r="0.5" fill="rgb(166,106,8)" opacity="0.3"/><circle cx="21.7" cy="16.7" r="0.5" fill="rgb(207,132,10)" opacity="0.9"/><circle cx="24.3" cy="43.7" r="0.9" fill="rgb(164,104,8)" opacity="0.5"/><circle cx="25.7" cy="31.1" r="0.7" fill="rgb(179,114,8)" opacity="0.6"/><circle cx="47.9" cy="24.3" r="0.7" fill="rgb(153,97,7)" opacity="0.7"/><circle cx="40.5" cy="25.0" r="0.5" fill="rgb(145,92,7)" opacity="0.9"/><circle cx="21.3" cy="31.8" r="0.7" fill="rgb(177,113,8)" opacity="0.5"/><circle cx="40.2" cy="36.9" r="0.7" fill="rgb(222,142,11)" opacity="0.9"/><circle cx="26.6" cy="44.3" r="0.4" fill="rgb(201,128,10)" opacity="0.6"/><circle cx="30.4" cy="39.9" r="0.4" fill="rgb(196,125,9)" opacity="0.5"/><circle cx="24.6" cy="35.3" r="0.5" fill="rgb(161,103,8)" opacity="0.7"/><circle cx="33.2" cy="29.9" r="0.8" fill="rgb(196,125,9)" opacity="0.8"/><circle cx="25.1" cy="41.9" r="0.8" fill="rgb(147,94,7)" opacity="0.5"/><circle cx="32.3" cy="34.4" r="0.6" fill="rgb(189,120,9)" opacity="0.7"/><circle cx="32.6" cy="31.8" r="0.6" fill="rgb(163,104,8)" opacity="0.5"/><circle cx="50.1" cy="31.2" r="0.7" fill="rgb(171,109,8)" opacity="0.8"/><circle cx="49.2" cy="26.9" r="0.6" fill="rgb(196,125,9)" opacity="0.5"/><circle cx="32.7" cy="28.0" r="0.7" fill="rgb(209,133,10)" opacity="0.9"/><circle cx="50.4" cy="28.0" r="0.5" fill="rgb(148,94,7)" opacity="0.6"/><circle cx="19.5" cy="15.2" r="0.5" fill="rgb(182,116,9)" opacity="0.7"/><circle cx="35.5" cy="22.9" r="0.6" fill="rgb(220,140,11)" opacity="0.4"/><circle cx="19.9" cy="33.9" r="0.7" fill="rgb(189,120,9)" opacity="0.9"/><circle cx="40.9" cy="35.8" r="0.6" fill="rgb(150,96,7)" opacity="0.7"/><circle cx="23.4" cy="29.4" r="0.5" fill="rgb(175,112,8)" opacity="0.6"/><circle cx="28.5" cy="33.1" r="0.5" fill="rgb(152,97,7)" opacity="0.7"/><circle cx="22.0" cy="25.6" r="0.5" fill="rgb(225,144,11)" opacity="0.6"/><circle cx="28.0" cy="19.7" r="0.5" fill="rgb(208,133,10)" opacity="0.6"/><circle cx="27.9" cy="23.2" r="0.6" fill="rgb(143,91,7)" opacity="0.7"/><circle cx="58.2" cy="30.0" r="0.5" fill="rgb(149,95,7)" opacity="0.9"/><circle cx="35.4" cy="43.3" r="0.7" fill="rgb(184,117,9)" opacity="0.9"/><circle cx="26.8" cy="38.3" r="0.6" fill="rgb(148,94,7)" opacity="1.0"/><circle cx="23.6" cy="39.3" r="0.8" fill="rgb(182,116,9)" opacity="0.8"/><circle cx="23.1" cy="17.7" r="0.6" fill="rgb(196,125,9)" opacity="0.5"/><circle cx="52.2" cy="24.7" r="0.7" fill="rgb(178,113,8)" opacity="0.5"/><circle cx="27.4" cy="28.3" r="0.8" fill="rgb(140,89,7)" opacity="0.9"/><circle cx="33.0" cy="30.2" r="0.6" fill="rgb(192,122,9)" opacity="0.7"/><circle cx="26.6" cy="15.7" r="0.5" fill="rgb(197,126,9)" opacity="1.0"/><circle cx="29.2" cy="21.5" r="0.4" fill="rgb(219,140,10)" opacity="0.7"/><circle cx="37.9" cy="20.4" r="0.8" fill="rgb(198,126,9)" opacity="0.3"/><circle cx="57.2" cy="30.0" r="0.7" fill="rgb(153,97,7)" opacity="0.6"/><circle cx="21.7" cy="25.8" r="0.8" fill="rgb(205,131,10)" opacity="0.8"/><circle cx="40.9" cy="29.4" r="0.5" fill="rgb(198,126,9)" opacity="0.6"/><circle cx="20.5" cy="20.8" r="0.6" fill="rgb(214,136,10)" opacity="0.8"/><circle cx="39.0" cy="29.6" r="0.9" fill="rgb(203,129,10)" opacity="0.4"/><circle cx="47.1" cy="27.8" r="0.8" fill="rgb(195,124,9)" opacity="0.7"/><circle cx="34.0" cy="26.9" r="0.4" fill="rgb(171,109,8)" opacity="0.9"/><circle cx="35.4" cy="23.0" r="0.9" fill="rgb(176,112,8)" opacity="0.9"/><circle cx="30.8" cy="31.8" r="0.5" fill="rgb(202,129,10)" opacity="0.9"/><circle cx="35.5" cy="43.0" r="0.9" fill="rgb(141,90,7)" opacity="0.6"/><circle cx="35.5" cy="19.6" r="0.8" fill="rgb(207,132,10)" opacity="0.6"/><circle cx="31.5" cy="22.6" r="0.5" fill="rgb(180,115,9)" opacity="0.8"/><circle cx="47.9" cy="27.9" r="0.7" fill="rgb(194,124,9)" opacity="0.7"/><circle cx="20.6" cy="27.4" r="0.6" fill="rgb(223,142,11)" opacity="0.9"/><circle cx="25.4" cy="23.2" r="0.7" fill="rgb(175,112,8)" opacity="0.5"/><circle cx="20.7" cy="33.0" r="0.4" fill="rgb(192,122,9)" opacity="0.3"/><circle cx="25.5" cy="38.5" r="0.6" fill="rgb(185,118,9)" opacity="0.4"/><circle cx="22.4" cy="31.7" r="0.7" fill="rgb(143,91,7)" opacity="0.7"/><circle cx="50.6" cy="33.5" r="0.9" fill="rgb(211,135,10)" opacity="0.9"/><circle cx="52.5" cy="34.6" r="0.5" fill="rgb(179,114,8)" opacity="0.5"/><circle cx="33.6" cy="34.8" r="0.7" fill="rgb(197,126,9)" opacity="0.9"/><circle cx="36.5" cy="19.4" r="0.7" fill="rgb(193,123,9)" opacity="0.8"/><circle cx="38.8" cy="24.3" r="0.4" fill="rgb(174,111,8)" opacity="0.5"/><circle cx="24.4" cy="15.2" r="0.6" fill="rgb(180,115,9)" opacity="0.9"/><circle cx="50.4" cy="27.1" r="0.4" fill="rgb(223,142,11)" opacity="0.5"/><circle cx="22.5" cy="31.0" r="0.8" fill="rgb(211,135,10)" opacity="0.4"/><circle cx="56.8" cy="32.7" r="0.8" fill="rgb(223,142,11)" opacity="0.3"/><circle cx="21.9" cy="37.3" r="0.6" fill="rgb(181,115,9)" opacity="0.6"/><circle cx="49.1" cy="30.3" r="0.5" fill="rgb(155,99,7)" opacity="0.4"/><circle cx="50.3" cy="26.6" r="0.8" fill="rgb(161,103,8)" opacity="0.4"/><circle cx="26.3" cy="35.5" r="0.7" fill="rgb(216,138,10)" opacity="0.9"/><circle cx="31.6" cy="27.5" r="0.5" fill="rgb(161,103,8)" opacity="0.8"/><circle cx="36.8" cy="30.0" r="0.7" fill="rgb(208,133,10)" opacity="0.6"/><circle cx="38.6" cy="22.1" r="0.7" fill="rgb(207,132,10)" opacity="0.7"/><circle cx="24.8" cy="37.6" r="0.7" fill="rgb(185,118,9)" opacity="0.9"/><circle cx="31.7" cy="31.2" r="0.7" fill="rgb(200,128,10)" opacity="0.6"/><circle cx="39.4" cy="22.9" r="0.8" fill="rgb(162,103,8)" opacity="0.4"/><circle cx="25.1" cy="23.9" r="0.8" fill="rgb(170,108,8)" opacity="0.9"/><circle cx="51.5" cy="27.7" r="0.8" fill="rgb(157,100,7)" opacity="0.4"/><circle cx="28.1" cy="38.3" r="0.7" fill="rgb(156,99,7)" opacity="0.4"/><circle cx="31.6" cy="32.5" r="0.6" fill="rgb(203,129,10)" opacity="1.0"/><circle cx="21.2" cy="36.9" r="0.4" fill="rgb(212,135,10)" opacity="1.0"/><circle cx="56.2" cy="26.5" r="0.6" fill="rgb(159,101,7)" opacity="0.9"/><circle cx="24.6" cy="43.2" r="0.9" fill="rgb(210,134,10)" opacity="0.9"/><circle cx="32.2" cy="43.4" r="0.4" fill="rgb(183,117,9)" opacity="0.9"/><circle cx="32.5" cy="17.8" r="0.4" fill="rgb(177,113,8)" opacity="0.4"/><circle cx="22.1" cy="21.2" r="0.6" fill="rgb(213,136,10)" opacity="1.0"/><circle cx="42.1" cy="34.6" r="0.7" fill="rgb(204,130,10)" opacity="0.9"/><circle cx="45.5" cy="24.5" r="0.8" fill="rgb(188,120,9)" opacity="0.6"/><circle cx="22.7" cy="16.2" r="0.8" fill="rgb(190,121,9)" opacity="0.9"/><circle cx="26.9" cy="21.0" r="0.5" fill="rgb(211,135,10)" opacity="0.9"/><circle cx="23.8" cy="34.4" r="0.7" fill="rgb(183,117,9)" opacity="0.3"/><circle cx="21.5" cy="37.3" r="0.5" fill="rgb(175,112,8)" opacity="0.9"/><circle cx="51.4" cy="35.3" r="0.5" fill="rgb(179,114,8)" opacity="0.5"/><circle cx="30.9" cy="32.7" r="0.8" fill="rgb(218,139,10)" opacity="0.9"/><circle cx="52.2" cy="23.4" r="0.5" fill="rgb(225,144,11)" opacity="0.9"/><circle cx="45.6" cy="22.6" r="0.5" fill="rgb(181,115,9)" opacity="0.8"/><circle cx="43.6" cy="26.5" r="0.6" fill="rgb(222,142,11)" opacity="0.4"/><circle cx="44.4" cy="32.1" r="0.5" fill="rgb(215,137,10)" opacity="0.8"/><circle cx="38.8" cy="37.5" r="0.9" fill="rgb(169,108,8)" opacity="0.9"/><circle cx="35.3" cy="37.5" r="0.5" fill="rgb(189,120,9)" opacity="0.9"/><circle cx="56.6" cy="33.6" r="0.9" fill="rgb(207,132,10)" opacity="0.5"/><circle cx="22.2" cy="20.2" r="0.4" fill="rgb(151,96,7)" opacity="0.6"/><circle cx="42.3" cy="32.5" r="0.7" fill="rgb(159,101,7)" opacity="0.9"/><circle cx="23.0" cy="32.1" r="0.6" fill="rgb(187,119,9)" opacity="0.5"/><circle cx="41.0" cy="29.6" r="0.7" fill="rgb(199,127,9)" opacity="1.0"/><circle cx="23.1" cy="24.8" r="0.5" fill="rgb(193,123,9)" opacity="0.5"/><circle cx="34.3" cy="43.3" r="0.7" fill="rgb(169,108,8)" opacity="0.4"/><circle cx="31.0" cy="20.1" r="0.8" fill="rgb(157,100,7)" opacity="0.7"/><circle cx="26.8" cy="20.1" r="0.8" fill="rgb(196,125,9)" opacity="0.9"/><circle cx="24.1" cy="33.3" r="0.8" fill="rgb(152,97,7)" opacity="0.5"/><circle cx="34.8" cy="25.4" r="0.8" fill="rgb(162,103,8)" opacity="0.5"/><circle cx="32.0" cy="18.6" r="0.8" fill="rgb(184,117,9)" opacity="0.7"/><circle cx="24.5" cy="24.2" r="0.9" fill="rgb(175,112,8)" opacity="0.5"/><circle cx="47.1" cy="33.3" r="0.5" fill="rgb(216,138,10)" opacity="0.6"/><circle cx="32.3" cy="18.3" r="0.4" fill="rgb(149,95,7)" opacity="0.4"/><circle cx="32.2" cy="39.9" r="0.6" fill="rgb(186,119,9)" opacity="0.5"/><circle cx="42.5" cy="27.5" r="0.8" fill="rgb(212,135,10)" opacity="0.6"/><circle cx="20.9" cy="15.3" r="0.4" fill="rgb(145,92,7)" opacity="0.9"/><circle cx="26.1" cy="33.6" r="0.4" fill="rgb(143,91,7)" opacity="0.5"/><circle cx="22.5" cy="23.5" r="0.5" fill="rgb(160,102,8)" opacity="0.7"/><circle cx="24.9" cy="33.8" r="0.8" fill="rgb(166,106,8)" opacity="0.6"/><circle cx="37.3" cy="20.0" r="0.7" fill="rgb(149,95,7)" opacity="0.9"/><circle cx="21.2" cy="34.8" r="0.5" fill="rgb(157,100,7)" opacity="0.3"/><circle cx="33.0" cy="24.8" r="0.8" fill="rgb(180,115,9)" opacity="0.7"/><circle cx="20.0" cy="17.0" r="0.8" fill="rgb(214,136,10)" opacity="0.6"/><circle cx="28.6" cy="36.8" r="0.9" fill="rgb(197,126,9)" opacity="0.7"/><circle cx="27.8" cy="22.7" r="0.7" fill="rgb(160,102,8)" opacity="0.9"/><circle cx="27.7" cy="22.7" r="0.7" fill="rgb(222,142,11)" opacity="0.8"/><circle cx="30.2" cy="33.9" r="0.5" fill="rgb(160,102,8)" opacity="0.5"/><circle cx="36.0" cy="20.9" r="0.8" fill="rgb(194,124,9)" opacity="0.8"/><circle cx="48.3" cy="32.6" r="0.6" fill="rgb(212,135,10)" opacity="0.9"/><circle cx="25.8" cy="15.4" r="0.6" fill="rgb(169,108,8)" opacity="0.9"/><circle cx="24.7" cy="41.7" r="0.8" fill="rgb(203,129,10)" opacity="0.4"/><circle cx="25.3" cy="27.0" r="0.6" fill="rgb(156,99,7)" opacity="0.9"/><circle cx="34.1" cy="34.0" r="0.4" fill="rgb(209,133,10)" opacity="0.7"/><circle cx="47.8" cy="31.3" r="0.4" fill="rgb(162,103,8)" opacity="0.7"/><circle cx="37.4" cy="35.8" r="0.8" fill="rgb(180,115,9)" opacity="0.7"/><circle cx="29.3" cy="36.0" r="0.7" fill="rgb(173,110,8)" opacity="0.6"/><circle cx="25.2" cy="41.3" r="0.8" fill="rgb(169,108,8)" opacity="0.3"/><circle cx="23.5" cy="34.3" r="0.8" fill="rgb(217,138,10)" opacity="0.9"/><circle cx="27.6" cy="42.7" r="0.6" fill="rgb(225,144,11)" opacity="0.9"/><circle cx="26.8" cy="18.0" r="0.6" fill="rgb(186,119,9)" opacity="0.4"/><circle cx="33.7" cy="34.6" r="0.6" fill="rgb(206,131,10)" opacity="0.8"/><circle cx="32.5" cy="39.8" r="0.8" fill="rgb(175,112,8)" opacity="1.0"/><circle cx="19.9" cy="14.6" r="0.5" fill="rgb(209,133,10)" opacity="0.8"/><circle cx="38.5" cy="32.9" r="0.6" fill="rgb(174,111,8)" opacity="0.9"/><circle cx="40.3" cy="24.0" r="0.7" fill="rgb(210,134,10)" opacity="0.5"/><circle cx="57.2" cy="30.8" r="0.8" fill="rgb(155,99,7)" opacity="0.4"/><circle cx="48.7" cy="26.7" r="0.5" fill="rgb(207,132,10)" opacity="0.3"/><circle cx="33.1" cy="32.7" r="0.9" fill="rgb(145,92,7)" opacity="0.9"/><circle cx="51.4" cy="33.5" r="0.7" fill="rgb(203,129,10)" opacity="0.9"/><circle cx="44.1" cy="28.9" r="0.6" fill="rgb(217,138,10)" opacity="0.8"/><circle cx="37.1" cy="19.7" r="0.8" fill="rgb(182,116,9)" opacity="0.3"/><circle cx="34.5" cy="27.6" r="0.4" fill="rgb(184,117,9)" opacity="0.4"/><circle cx="44.5" cy="27.5" r="0.7" fill="rgb(190,121,9)" opacity="0.9"/><circle cx="22.0" cy="31.2" r="0.5" fill="rgb(172,110,8)" opacity="0.7"/><circle cx="33.5" cy="23.7" r="0.8" fill="rgb(169,108,8)" opacity="0.5"/><circle cx="28.1" cy="34.7" r="0.6" fill="rgb(206,131,10)" opacity="0.6"/><circle cx="42.4" cy="24.9" r="0.8" fill="rgb(202,129,10)" opacity="1.0"/><circle cx="56.6" cy="30.1" r="0.7" fill="rgb(199,127,9)" opacity="0.7"/><circle cx="26.9" cy="16.2" r="0.7" fill="rgb(219,140,10)" opacity="0.9"/><circle cx="35.1" cy="42.4" r="0.6" fill="rgb(202,129,10)" opacity="0.8"/><circle cx="24.0" cy="43.0" r="0.9" fill="rgb(208,133,10)" opacity="0.8"/><circle cx="32.3" cy="32.1" r="0.7" fill="rgb(174,111,8)" opacity="0.5"/><circle cx="50.7" cy="34.3" r="0.6" fill="rgb(194,124,9)" opacity="0.4"/><circle cx="26.9" cy="19.1" r="0.6" fill="rgb(198,126,9)" opacity="0.3"/><circle cx="28.1" cy="38.0" r="0.8" fill="rgb(202,129,10)" opacity="0.7"/><circle cx="55.2" cy="28.5" r="0.6" fill="rgb(198,126,9)" opacity="0.3"/><circle cx="36.5" cy="27.0" r="0.4" fill="rgb(224,143,11)" opacity="0.7"/><circle cx="29.2" cy="27.2" r="0.8" fill="rgb(182,116,9)" opacity="0.9"/><circle cx="28.5" cy="22.6" r="0.9" fill="rgb(140,89,7)" opacity="0.8"/><circle cx="30.2" cy="28.3" r="0.6" fill="rgb(198,126,9)" opacity="0.7"/><circle cx="39.0" cy="28.1" r="0.8" fill="rgb(192,122,9)" opacity="0.9"/><circle cx="32.7" cy="28.5" r="0.5" fill="rgb(199,127,9)" opacity="0.6"/><circle cx="35.8" cy="27.1" r="0.7" fill="rgb(180,115,9)" opacity="0.9"/><circle cx="27.6" cy="22.5" r="0.7" fill="rgb(222,142,11)" opacity="0.7"/><circle cx="28.8" cy="25.5" r="0.5" fill="rgb(185,118,9)" opacity="0.8"/><circle cx="34.6" cy="23.7" r="0.8" fill="rgb(178,113,8)" opacity="0.9"/><circle cx="35.1" cy="23.8" r="0.4" fill="rgb(216,138,10)" opacity="1.0"/><circle cx="28.6" cy="22.4" r="0.6" fill="rgb(187,119,9)" opacity="0.7"/><circle cx="36.3" cy="28.5" r="0.4" fill="rgb(180,115,9)" opacity="0.9"/><circle cx="33.1" cy="28.9" r="0.6" fill="rgb(212,135,10)" opacity="0.8"/><circle cx="32.6" cy="27.3" r="0.9" fill="rgb(146,93,7)" opacity="1.0"/><circle cx="29.5" cy="25.8" r="0.5" fill="rgb(162,103,8)" opacity="0.6"/><circle cx="29.4" cy="22.4" r="0.4" fill="rgb(205,131,10)" opacity="0.8"/><circle cx="32.3" cy="27.3" r="0.9" fill="rgb(199,127,9)" opacity="0.9"/><circle cx="28.6" cy="24.8" r="0.7" fill="rgb(216,138,10)" opacity="1.0"/><circle cx="31.4" cy="27.3" r="0.8" fill="rgb(165,105,8)" opacity="0.6"/><circle cx="30.0" cy="28.6" r="0.4" fill="rgb(219,140,10)" opacity="0.9"/><circle cx="32.2" cy="21.8" r="0.8" fill="rgb(179,114,8)" opacity="1.0"/><circle cx="30.2" cy="26.0" r="0.8" fill="rgb(181,115,9)" opacity="0.6"/><circle cx="32.1" cy="27.2" r="0.9" fill="rgb(212,135,10)" opacity="0.8"/><circle cx="28.6" cy="24.8" r="0.4" fill="rgb(198,126,9)" opacity="1.0"/><circle cx="31.5" cy="26.6" r="0.6" fill="rgb(205,131,10)" opacity="0.6"/><circle cx="35.7" cy="26.3" r="0.7" fill="rgb(170,108,8)" opacity="0.9"/><circle cx="31.8" cy="29.5" r="0.7" fill="rgb(190,121,9)" opacity="0.9"/><circle cx="29.8" cy="26.1" r="0.5" fill="rgb(142,90,7)" opacity="0.8"/><circle cx="36.2" cy="27.7" r="0.7" fill="rgb(205,131,10)" opacity="0.8"/><circle cx="31.4" cy="29.0" r="0.8" fill="rgb(140,89,7)" opacity="0.7"/><circle cx="34.3" cy="22.8" r="0.7" fill="rgb(221,141,11)" opacity="0.7"/><circle cx="27.6" cy="22.9" r="0.5" fill="rgb(160,102,8)" opacity="0.9"/><circle cx="39.2" cy="27.5" r="0.4" fill="rgb(186,119,9)" opacity="0.8"/><circle cx="30.4" cy="28.8" r="0.8" fill="rgb(169,108,8)" opacity="0.8"/><circle cx="34.2" cy="24.3" r="0.4" fill="rgb(166,106,8)" opacity="1.0"/><circle cx="31.9" cy="25.9" r="0.7" fill="rgb(160,102,8)" opacity="0.6"/><circle cx="37.5" cy="25.4" r="0.7" fill="rgb(159,101,7)" opacity="0.7"/><circle cx="39.0" cy="28.2" r="0.4" fill="rgb(144,92,7)" opacity="0.9"/><circle cx="33.6" cy="26.0" r="0.4" fill="rgb(209,133,10)" opacity="1.0"/><circle cx="30.2" cy="23.9" r="0.6" fill="rgb(168,107,8)" opacity="0.8"/><circle cx="31.2" cy="25.4" r="0.6" fill="rgb(172,110,8)" opacity="0.7"/><circle cx="37.3" cy="26.7" r="0.8" fill="rgb(225,144,11)" opacity="0.9"/><circle cx="31.2" cy="24.9" r="0.4" fill="rgb(205,131,10)" opacity="0.8"/><circle cx="37.5" cy="27.3" r="0.6" fill="rgb(223,142,11)" opacity="0.8"/><circle cx="35.9" cy="25.6" r="0.6" fill="rgb(150,96,7)" opacity="0.8"/><circle cx="36.3" cy="21.4" r="0.8" fill="rgb(216,138,10)" opacity="0.9"/><circle cx="36.7" cy="26.6" r="0.7" fill="rgb(204,130,10)" opacity="0.8"/><circle cx="28.6" cy="22.4" r="0.5" fill="rgb(206,131,10)" opacity="0.7"/><circle cx="34.4" cy="24.3" r="0.5" fill="rgb(211,135,10)" opacity="0.8"/></g><ellipse cx="32.80" cy="32.10" rx="4.9" ry="4.0" transform="rotate(5 32.80 32.10)" fill="#203ee6" opacity="1" filter="url(#b05)"/><g filter="url(#b04)"><circle cx="34.5" cy="30.9" r="0.7" fill="#0c1c90" opacity="0.4"/><circle cx="33.5" cy="33.9" r="0.6" fill="#0c1c90" opacity="0.2"/><circle cx="31.9" cy="32.1" r="0.9" fill="#0c1c90" opacity="0.3"/><circle cx="34.2" cy="34.6" r="0.6" fill="#0c1c90" opacity="0.3"/><circle cx="29.0" cy="31.9" r="0.9" fill="#0c1c90" opacity="0.4"/><circle cx="29.5" cy="32.7" r="0.7" fill="#0c1c90" opacity="0.4"/></g><ellipse cx="46.70" cy="26.60" rx="4.2" ry="4.3" transform="rotate(-25 46.70 26.60)" fill="#203ee6" opacity="1" filter="url(#b05)"/><g filter="url(#b04)"><circle cx="48.9" cy="28.8" r="0.7" fill="#0c1c90" opacity="0.4"/><circle cx="47.8" cy="25.4" r="0.9" fill="#0c1c90" opacity="0.2"/><circle cx="47.6" cy="26.2" r="0.8" fill="#0c1c90" opacity="0.4"/><circle cx="49.5" cy="25.5" r="0.5" fill="#0c1c90" opacity="0.3"/><circle cx="47.1" cy="26.0" r="0.7" fill="#0c1c90" opacity="0.3"/><circle cx="45.4" cy="25.2" r="0.9" fill="#0c1c90" opacity="0.3"/></g></g></g>
<text x="7.48" y="377.05" font-size="11.30" font-weight="bold" fill="#000" textLength="8.57" lengthAdjust="spacingAndGlyphs">D</text>
<text x="41.29" y="388.88" font-size="9.63" fill="#3a3a3a" stroke="#3a3a3a" stroke-width="0.16" textLength="9.06" lengthAdjust="spacingAndGlyphs">(i)</text>
<rect x="68.10" y="484.30" width="10.20" height="15.00" fill="#0c3cb4" stroke="#333" stroke-width="0.9"/>
<rect x="78.30" y="478.60" width="10.10" height="20.70" fill="#cc0012" stroke="#333" stroke-width="0.9"/>
<rect x="99.40" y="487.70" width="10.20" height="11.60" fill="#0c3cb4" stroke="#333" stroke-width="0.9"/>
<rect x="109.60" y="438.20" width="10.60" height="61.10" fill="#cc0012" stroke="#333" stroke-width="0.9"/>
<rect x="131.20" y="489.80" width="10.10" height="9.50" fill="#0c3cb4" stroke="#333" stroke-width="0.9"/>
<rect x="141.30" y="432.30" width="10.60" height="67.00" fill="#cc0012" stroke="#333" stroke-width="0.9"/>
<line x1="62.60" y1="405.20" x2="62.60" y2="499.80" stroke="#111" stroke-width="1.1"/>
<line x1="62.10" y1="499.30" x2="156.50" y2="499.30" stroke="#111" stroke-width="1.1"/>
<line x1="59.70" y1="499.30" x2="62.60" y2="499.30" stroke="#111" stroke-width="1"/>
<text x="52.70" y="502.49" font-size="8.10" fill="#222" stroke="#222" stroke-width="0.16" textLength="4.28" lengthAdjust="spacingAndGlyphs">0</text>
<line x1="59.70" y1="480.58" x2="62.60" y2="480.58" stroke="#111" stroke-width="1"/>
<text x="48.43" y="483.77" font-size="8.10" fill="#222" stroke="#222" stroke-width="0.16" textLength="8.56" lengthAdjust="spacingAndGlyphs">20</text>
<line x1="59.70" y1="461.86" x2="62.60" y2="461.86" stroke="#111" stroke-width="1"/>
<text x="48.43" y="465.05" font-size="8.10" fill="#222" stroke="#222" stroke-width="0.16" textLength="8.56" lengthAdjust="spacingAndGlyphs">40</text>
<line x1="59.70" y1="443.14" x2="62.60" y2="443.14" stroke="#111" stroke-width="1"/>
<text x="48.43" y="446.33" font-size="8.10" fill="#222" stroke="#222" stroke-width="0.16" textLength="8.56" lengthAdjust="spacingAndGlyphs">60</text>
<line x1="59.70" y1="424.42" x2="62.60" y2="424.42" stroke="#111" stroke-width="1"/>
<text x="48.43" y="427.61" font-size="8.10" fill="#222" stroke="#222" stroke-width="0.16" textLength="8.56" lengthAdjust="spacingAndGlyphs">80</text>
<line x1="59.70" y1="405.70" x2="62.60" y2="405.70" stroke="#111" stroke-width="1"/>
<text x="44.16" y="408.89" font-size="8.10" fill="#222" stroke="#222" stroke-width="0.16" textLength="12.84" lengthAdjust="spacingAndGlyphs">100</text>
<line x1="78.30" y1="499.30" x2="78.30" y2="501.80" stroke="#111" stroke-width="1"/>
<line x1="109.60" y1="499.30" x2="109.60" y2="501.80" stroke="#111" stroke-width="1"/>
<line x1="141.30" y1="499.30" x2="141.30" y2="501.80" stroke="#111" stroke-width="1"/>
<text x="80.40" y="507.70" font-size="7.80" text-anchor="end" fill="#222" stroke="#222" stroke-width="0.16" textLength="11.52" lengthAdjust="spacingAndGlyphs" transform="rotate(-45 80.40 507.70)">WT</text>
<text x="111.70" y="507.70" font-size="7.80" text-anchor="end" fill="#222" stroke="#222" stroke-width="0.16" textLength="22.66" lengthAdjust="spacingAndGlyphs" transform="rotate(-45 111.70 507.70)">C490A</text>
<text x="143.40" y="507.70" font-size="7.80" text-anchor="end" fill="#222" stroke="#222" stroke-width="0.16" textLength="22.66" lengthAdjust="spacingAndGlyphs" transform="rotate(-45 143.40 507.70)">C545A</text>
<line x1="73.20" y1="480.20" x2="73.20" y2="484.30" stroke="#111" stroke-width="0.9"/>
<line x1="70.20" y1="480.20" x2="76.20" y2="480.20" stroke="#111" stroke-width="0.9"/>
<line x1="83.30" y1="469.20" x2="83.30" y2="478.60" stroke="#111" stroke-width="0.9"/>
<line x1="80.30" y1="469.20" x2="86.30" y2="469.20" stroke="#111" stroke-width="0.9"/>
<line x1="104.50" y1="481.00" x2="104.50" y2="487.70" stroke="#111" stroke-width="0.9"/>
<line x1="101.50" y1="481.00" x2="107.50" y2="481.00" stroke="#111" stroke-width="0.9"/>
<line x1="114.90" y1="424.40" x2="114.90" y2="438.20" stroke="#111" stroke-width="0.9"/>
<line x1="111.90" y1="424.40" x2="117.90" y2="424.40" stroke="#111" stroke-width="0.9"/>
<line x1="136.20" y1="485.30" x2="136.20" y2="489.80" stroke="#111" stroke-width="0.9"/>
<line x1="133.20" y1="485.30" x2="139.20" y2="485.30" stroke="#111" stroke-width="0.9"/>
<line x1="146.60" y1="425.50" x2="146.60" y2="432.30" stroke="#111" stroke-width="0.9"/>
<line x1="143.60" y1="425.50" x2="149.60" y2="425.50" stroke="#111" stroke-width="0.9"/>
<circle cx="69.50" cy="481.10" r="1.3" fill="#000"/>
<circle cx="76.50" cy="481.10" r="1.3" fill="#000"/>
<circle cx="73.10" cy="485.10" r="1.3" fill="#000"/>
<circle cx="73.10" cy="490.40" r="1.3" fill="#000"/>
<circle cx="83.70" cy="461.20" r="1.3" fill="#000"/>
<circle cx="83.20" cy="470.50" r="1.3" fill="#000"/>
<circle cx="83.20" cy="474.00" r="1.3" fill="#000"/>
<circle cx="80.50" cy="478.50" r="1.3" fill="#000"/>
<circle cx="86.00" cy="478.50" r="1.3" fill="#000"/>
<circle cx="80.10" cy="487.70" r="1.3" fill="#000"/>
<circle cx="83.70" cy="487.70" r="1.3" fill="#000"/>
<circle cx="87.20" cy="487.70" r="1.3" fill="#000"/>
<circle cx="104.50" cy="481.00" r="1.3" fill="#000"/>
<circle cx="101.50" cy="491.50" r="1.3" fill="#000"/>
<circle cx="107.00" cy="490.50" r="1.3" fill="#000"/>
<circle cx="114.90" cy="408.10" r="1.3" fill="#000"/>
<circle cx="112.00" cy="434.50" r="1.3" fill="#000"/>
<circle cx="117.80" cy="434.50" r="1.3" fill="#000"/>
<circle cx="114.90" cy="437.00" r="1.3" fill="#000"/>
<circle cx="112.00" cy="445.00" r="1.3" fill="#000"/>
<circle cx="117.80" cy="445.00" r="1.3" fill="#000"/>
<circle cx="114.90" cy="449.50" r="1.3" fill="#000"/>
<circle cx="133.50" cy="488.00" r="1.3" fill="#000"/>
<circle cx="138.70" cy="487.50" r="1.3" fill="#000"/>
<circle cx="136.20" cy="494.00" r="1.3" fill="#000"/>
<circle cx="146.60" cy="424.50" r="1.3" fill="#000"/>
<circle cx="143.50" cy="430.00" r="1.3" fill="#000"/>
<circle cx="149.50" cy="430.00" r="1.3" fill="#000"/>
<circle cx="146.60" cy="433.00" r="1.3" fill="#000"/>
<circle cx="143.50" cy="437.00" r="1.3" fill="#000"/>
<circle cx="149.50" cy="437.00" r="1.3" fill="#000"/>
<circle cx="146.60" cy="441.00" r="1.3" fill="#000"/>
<text x="34.54" y="487.49" font-size="10.27" fill="#222" stroke="#222" stroke-width="0.16" textLength="82.86" lengthAdjust="spacingAndGlyphs" transform="rotate(-90 34.54 487.49)">Integrin clusters per cell,</text>
<text x="44.64" y="469.50" font-size="8.88" fill="#222" stroke="#222" stroke-width="0.16" textLength="47.70" lengthAdjust="spacingAndGlyphs" transform="rotate(-90 44.64 469.50)">mean per well</text>
<path d="M83.5,432.9 V391.5 H146.5 V404.3 " fill="none" stroke="#1a1a1a" stroke-width="1.1"/>
<path d="M83.5,405 V400.5 H115.5 V404.3 " fill="none" stroke="#1a1a1a" stroke-width="1.1"/>
<line x1="109.88" y1="386.15" x2="109.88" y2="389.05" stroke="#111" stroke-width="0.95"/>
<line x1="108.62" y1="386.88" x2="111.14" y2="388.33" stroke="#111" stroke-width="0.95"/>
<line x1="111.14" y1="386.88" x2="108.62" y2="388.33" stroke="#111" stroke-width="0.95"/>
<line x1="113.36" y1="386.15" x2="113.36" y2="389.05" stroke="#111" stroke-width="0.95"/>
<line x1="112.10" y1="386.88" x2="114.62" y2="388.33" stroke="#111" stroke-width="0.95"/>
<line x1="114.62" y1="386.88" x2="112.10" y2="388.33" stroke="#111" stroke-width="0.95"/>
<line x1="116.84" y1="386.15" x2="116.84" y2="389.05" stroke="#111" stroke-width="0.95"/>
<line x1="115.58" y1="386.88" x2="118.10" y2="388.33" stroke="#111" stroke-width="0.95"/>
<line x1="118.10" y1="386.88" x2="115.58" y2="388.33" stroke="#111" stroke-width="0.95"/>
<line x1="120.32" y1="386.15" x2="120.32" y2="389.05" stroke="#111" stroke-width="0.95"/>
<line x1="119.06" y1="386.88" x2="121.58" y2="388.33" stroke="#111" stroke-width="0.95"/>
<line x1="121.58" y1="386.88" x2="119.06" y2="388.33" stroke="#111" stroke-width="0.95"/>
<line x1="94.28" y1="395.35" x2="94.28" y2="398.25" stroke="#111" stroke-width="0.95"/>
<line x1="93.02" y1="396.07" x2="95.54" y2="397.53" stroke="#111" stroke-width="0.95"/>
<line x1="95.54" y1="396.07" x2="93.02" y2="397.53" stroke="#111" stroke-width="0.95"/>
<line x1="97.76" y1="395.35" x2="97.76" y2="398.25" stroke="#111" stroke-width="0.95"/>
<line x1="96.50" y1="396.07" x2="99.02" y2="397.53" stroke="#111" stroke-width="0.95"/>
<line x1="99.02" y1="396.07" x2="96.50" y2="397.53" stroke="#111" stroke-width="0.95"/>
<line x1="101.24" y1="395.35" x2="101.24" y2="398.25" stroke="#111" stroke-width="0.95"/>
<line x1="99.98" y1="396.07" x2="102.50" y2="397.53" stroke="#111" stroke-width="0.95"/>
<line x1="102.50" y1="396.07" x2="99.98" y2="397.53" stroke="#111" stroke-width="0.95"/>
<line x1="104.72" y1="395.35" x2="104.72" y2="398.25" stroke="#111" stroke-width="0.95"/>
<line x1="103.46" y1="396.07" x2="105.98" y2="397.53" stroke="#111" stroke-width="0.95"/>
<line x1="105.98" y1="396.07" x2="103.46" y2="397.53" stroke="#111" stroke-width="0.95"/>
<rect x="135.10" y="372.50" width="7.20" height="5.80" fill="#0c3cb4" stroke="#222" stroke-width="0.8"/>
<rect x="135.10" y="380.60" width="7.20" height="5.70" fill="#cc0012" stroke="#222" stroke-width="0.8"/>
<text x="145.31" y="377.78" font-size="7.70" fill="#222" stroke="#222" stroke-width="0.16" textLength="43.73" lengthAdjust="spacingAndGlyphs">Poly-D-lysine</text>
<text x="145.27" y="386.64" font-size="7.91" fill="#222" stroke="#222" stroke-width="0.16" textLength="36.94" lengthAdjust="spacingAndGlyphs">Fibrinogen</text>
<text x="214.13" y="388.88" font-size="9.63" fill="#3a3a3a" stroke="#3a3a3a" stroke-width="0.16" textLength="10.60" lengthAdjust="spacingAndGlyphs">(ii)</text>
<rect x="245.20" y="491.00" width="10.20" height="8.50" fill="#0c3cb4" stroke="#333" stroke-width="0.9"/>
<rect x="255.40" y="486.30" width="10.10" height="13.20" fill="#cc0012" stroke="#333" stroke-width="0.9"/>
<rect x="276.10" y="493.10" width="10.60" height="6.40" fill="#0c3cb4" stroke="#333" stroke-width="0.9"/>
<rect x="286.70" y="444.00" width="9.90" height="55.50" fill="#cc0012" stroke="#333" stroke-width="0.9"/>
<rect x="307.20" y="491.40" width="10.60" height="8.10" fill="#0c3cb4" stroke="#333" stroke-width="0.9"/>
<rect x="317.80" y="429.20" width="10.60" height="70.30" fill="#cc0012" stroke="#333" stroke-width="0.9"/>
<line x1="239.30" y1="405.10" x2="239.30" y2="500.00" stroke="#111" stroke-width="1.1"/>
<line x1="238.80" y1="499.50" x2="333.80" y2="499.50" stroke="#111" stroke-width="1.1"/>
<line x1="236.40" y1="499.50" x2="239.30" y2="499.50" stroke="#111" stroke-width="1"/>
<text x="218.97" y="502.63" font-size="7.90" fill="#222" stroke="#222" stroke-width="0.16" textLength="14.61" lengthAdjust="spacingAndGlyphs">0.00</text>
<line x1="236.40" y1="476.02" x2="239.30" y2="476.02" stroke="#111" stroke-width="1"/>
<text x="219.00" y="479.15" font-size="7.90" fill="#222" stroke="#222" stroke-width="0.16" textLength="14.61" lengthAdjust="spacingAndGlyphs">0.05</text>
<line x1="236.40" y1="452.55" x2="239.30" y2="452.55" stroke="#111" stroke-width="1"/>
<text x="218.97" y="455.68" font-size="7.90" fill="#222" stroke="#222" stroke-width="0.16" textLength="14.61" lengthAdjust="spacingAndGlyphs">0.10</text>
<line x1="236.40" y1="429.08" x2="239.30" y2="429.08" stroke="#111" stroke-width="1"/>
<text x="219.00" y="432.20" font-size="7.90" fill="#222" stroke="#222" stroke-width="0.16" textLength="14.61" lengthAdjust="spacingAndGlyphs">0.15</text>
<line x1="236.40" y1="405.60" x2="239.30" y2="405.60" stroke="#111" stroke-width="1"/>
<text x="218.97" y="408.73" font-size="7.90" fill="#222" stroke="#222" stroke-width="0.16" textLength="14.61" lengthAdjust="spacingAndGlyphs">0.20</text>
<line x1="255.40" y1="499.50" x2="255.40" y2="502.00" stroke="#111" stroke-width="1"/>
<line x1="286.70" y1="499.50" x2="286.70" y2="502.00" stroke="#111" stroke-width="1"/>
<line x1="317.80" y1="499.50" x2="317.80" y2="502.00" stroke="#111" stroke-width="1"/>
<text x="257.50" y="507.90" font-size="7.80" text-anchor="end" fill="#222" stroke="#222" stroke-width="0.16" textLength="11.52" lengthAdjust="spacingAndGlyphs" transform="rotate(-45 257.50 507.90)">WT</text>
<text x="288.80" y="507.90" font-size="7.80" text-anchor="end" fill="#222" stroke="#222" stroke-width="0.16" textLength="22.66" lengthAdjust="spacingAndGlyphs" transform="rotate(-45 288.80 507.90)">C490A</text>
<text x="319.90" y="507.90" font-size="7.80" text-anchor="end" fill="#222" stroke="#222" stroke-width="0.16" textLength="22.66" lengthAdjust="spacingAndGlyphs" transform="rotate(-45 319.90 507.90)">C545A</text>
<line x1="250.30" y1="488.50" x2="250.30" y2="491.00" stroke="#111" stroke-width="0.9"/>
<line x1="247.30" y1="488.50" x2="253.30" y2="488.50" stroke="#111" stroke-width="0.9"/>
<line x1="260.50" y1="478.50" x2="260.50" y2="486.30" stroke="#111" stroke-width="0.9"/>
<line x1="257.50" y1="478.50" x2="263.50" y2="478.50" stroke="#111" stroke-width="0.9"/>
<line x1="281.40" y1="489.50" x2="281.40" y2="493.10" stroke="#111" stroke-width="0.9"/>
<line x1="278.40" y1="489.50" x2="284.40" y2="489.50" stroke="#111" stroke-width="0.9"/>
<line x1="291.60" y1="432.00" x2="291.60" y2="444.00" stroke="#111" stroke-width="0.9"/>
<line x1="288.60" y1="432.00" x2="294.60" y2="432.00" stroke="#111" stroke-width="0.9"/>
<line x1="312.50" y1="488.00" x2="312.50" y2="491.40" stroke="#111" stroke-width="0.9"/>
<line x1="309.50" y1="488.00" x2="315.50" y2="488.00" stroke="#111" stroke-width="0.9"/>
<line x1="323.10" y1="418.50" x2="323.10" y2="429.20" stroke="#111" stroke-width="0.9"/>
<line x1="320.10" y1="418.50" x2="326.10" y2="418.50" stroke="#111" stroke-width="0.9"/>
<circle cx="247.50" cy="489.00" r="1.3" fill="#000"/>
<circle cx="253.00" cy="489.00" r="1.3" fill="#000"/>
<circle cx="250.30" cy="494.00" r="1.3" fill="#000"/>
<circle cx="263.50" cy="476.00" r="1.3" fill="#000"/>
<circle cx="260.50" cy="480.50" r="1.3" fill="#000"/>
<circle cx="257.50" cy="490.00" r="1.3" fill="#000"/>
<circle cx="260.50" cy="492.00" r="1.3" fill="#000"/>
<circle cx="263.50" cy="492.00" r="1.3" fill="#000"/>
<circle cx="281.40" cy="490.00" r="1.3" fill="#000"/>
<circle cx="283.50" cy="494.00" r="1.3" fill="#000"/>
<circle cx="293.50" cy="431.00" r="1.3" fill="#000"/>
<circle cx="291.60" cy="432.80" r="1.3" fill="#000"/>
<circle cx="288.80" cy="439.50" r="1.3" fill="#000"/>
<circle cx="294.00" cy="439.50" r="1.3" fill="#000"/>
<circle cx="291.60" cy="461.50" r="1.3" fill="#000"/>
<circle cx="289.80" cy="463.50" r="1.3" fill="#000"/>
<circle cx="312.50" cy="488.50" r="1.3" fill="#000"/>
<circle cx="310.00" cy="492.00" r="1.3" fill="#000"/>
<circle cx="315.00" cy="492.00" r="1.3" fill="#000"/>
<circle cx="323.10" cy="409.50" r="1.3" fill="#000"/>
<circle cx="323.10" cy="427.00" r="1.3" fill="#000"/>
<circle cx="320.30" cy="430.50" r="1.3" fill="#000"/>
<circle cx="325.90" cy="430.50" r="1.3" fill="#000"/>
<circle cx="323.10" cy="435.00" r="1.3" fill="#000"/>
<circle cx="323.10" cy="439.00" r="1.3" fill="#000"/>
<circle cx="323.10" cy="443.20" r="1.3" fill="#000"/>
<text x="214.93" y="495.20" font-size="9.84" fill="#222" stroke="#222" stroke-width="0.16" textLength="84.23" lengthAdjust="spacingAndGlyphs" transform="rotate(-90 214.93 495.20)">Integrin clusters per µm²</text>
<path d="M260.5,406.5 V397.5 H323.5 V406.3 " fill="none" stroke="#1a1a1a" stroke-width="1.1"/>
<path d="M260.5,467.3 V418.5 H291.5 V421.3 " fill="none" stroke="#1a1a1a" stroke-width="1.1"/>
<line x1="286.68" y1="392.55" x2="286.68" y2="395.45" stroke="#111" stroke-width="0.95"/>
<line x1="285.42" y1="393.27" x2="287.94" y2="394.73" stroke="#111" stroke-width="0.95"/>
<line x1="287.94" y1="393.27" x2="285.42" y2="394.73" stroke="#111" stroke-width="0.95"/>
<line x1="290.16" y1="392.55" x2="290.16" y2="395.45" stroke="#111" stroke-width="0.95"/>
<line x1="288.90" y1="393.27" x2="291.42" y2="394.73" stroke="#111" stroke-width="0.95"/>
<line x1="291.42" y1="393.27" x2="288.90" y2="394.73" stroke="#111" stroke-width="0.95"/>
<line x1="293.64" y1="392.55" x2="293.64" y2="395.45" stroke="#111" stroke-width="0.95"/>
<line x1="292.38" y1="393.27" x2="294.90" y2="394.73" stroke="#111" stroke-width="0.95"/>
<line x1="294.90" y1="393.27" x2="292.38" y2="394.73" stroke="#111" stroke-width="0.95"/>
<line x1="297.12" y1="392.55" x2="297.12" y2="395.45" stroke="#111" stroke-width="0.95"/>
<line x1="295.86" y1="393.27" x2="298.38" y2="394.73" stroke="#111" stroke-width="0.95"/>
<line x1="298.38" y1="393.27" x2="295.86" y2="394.73" stroke="#111" stroke-width="0.95"/>
<line x1="270.48" y1="412.85" x2="270.48" y2="415.75" stroke="#111" stroke-width="0.95"/>
<line x1="269.22" y1="413.57" x2="271.74" y2="415.03" stroke="#111" stroke-width="0.95"/>
<line x1="271.74" y1="413.57" x2="269.22" y2="415.03" stroke="#111" stroke-width="0.95"/>
<line x1="273.96" y1="412.85" x2="273.96" y2="415.75" stroke="#111" stroke-width="0.95"/>
<line x1="272.70" y1="413.57" x2="275.22" y2="415.03" stroke="#111" stroke-width="0.95"/>
<line x1="275.22" y1="413.57" x2="272.70" y2="415.03" stroke="#111" stroke-width="0.95"/>
<line x1="277.44" y1="412.85" x2="277.44" y2="415.75" stroke="#111" stroke-width="0.95"/>
<line x1="276.18" y1="413.57" x2="278.70" y2="415.03" stroke="#111" stroke-width="0.95"/>
<line x1="278.70" y1="413.57" x2="276.18" y2="415.03" stroke="#111" stroke-width="0.95"/>
<line x1="280.92" y1="412.85" x2="280.92" y2="415.75" stroke="#111" stroke-width="0.95"/>
<line x1="279.66" y1="413.57" x2="282.18" y2="415.03" stroke="#111" stroke-width="0.95"/>
<line x1="282.18" y1="413.57" x2="279.66" y2="415.03" stroke="#111" stroke-width="0.95"/>
<rect x="302.20" y="377.10" width="7.20" height="5.80" fill="#0c3cb4" stroke="#222" stroke-width="0.8"/>
<rect x="302.20" y="385.20" width="7.20" height="5.00" fill="#cc0012" stroke="#222" stroke-width="0.8"/>
<text x="312.71" y="382.54" font-size="7.91" fill="#222" stroke="#222" stroke-width="0.16" textLength="43.53" lengthAdjust="spacingAndGlyphs">Poly-D-lysine</text>
<text x="312.68" y="391.06" font-size="7.81" fill="#222" stroke="#222" stroke-width="0.16" textLength="36.83" lengthAdjust="spacingAndGlyphs">Fibrinogen</text>
<text x="372.56" y="383.95" font-size="11.01" font-weight="bold" fill="#000" textLength="5.51" lengthAdjust="spacingAndGlyphs">F</text>
<rect x="393.80" y="446.20" width="11.10" height="53.80" fill="#cc0012" stroke="#333" stroke-width="0.9"/>
<rect x="405.80" y="431.90" width="11.10" height="68.10" fill="#cc0012" stroke="#333" stroke-width="0.9"/>
<rect x="418.10" y="438.20" width="10.80" height="61.80" fill="#cc0012" stroke="#333" stroke-width="0.9"/>
<rect x="441.20" y="461.20" width="10.80" height="38.80" fill="#0c3cb4" stroke="#333" stroke-width="0.9"/>
<rect x="453.40" y="443.90" width="10.80" height="56.10" fill="#0c3cb4" stroke="#333" stroke-width="0.9"/>
<rect x="464.90" y="440.00" width="10.90" height="60.00" fill="#0c3cb4" stroke="#333" stroke-width="0.9"/>
<line x1="387.60" y1="405.10" x2="387.60" y2="500.50" stroke="#111" stroke-width="1.1"/>
<line x1="387.10" y1="500.00" x2="481.50" y2="500.00" stroke="#111" stroke-width="1.1"/>
<line x1="384.70" y1="500.00" x2="387.60" y2="500.00" stroke="#111" stroke-width="1"/>
<text x="370.66" y="503.16" font-size="8.00" fill="#222" stroke="#222" stroke-width="0.16" textLength="11.12" lengthAdjust="spacingAndGlyphs">0.0</text>
<line x1="384.70" y1="481.12" x2="387.60" y2="481.12" stroke="#111" stroke-width="1"/>
<text x="370.70" y="484.28" font-size="8.00" fill="#222" stroke="#222" stroke-width="0.16" textLength="11.12" lengthAdjust="spacingAndGlyphs">0.5</text>
<line x1="384.70" y1="462.24" x2="387.60" y2="462.24" stroke="#111" stroke-width="1"/>
<text x="370.66" y="465.40" font-size="8.00" fill="#222" stroke="#222" stroke-width="0.16" textLength="11.12" lengthAdjust="spacingAndGlyphs">1.0</text>
<line x1="384.70" y1="443.36" x2="387.60" y2="443.36" stroke="#111" stroke-width="1"/>
<text x="370.70" y="446.48" font-size="8.00" fill="#222" stroke="#222" stroke-width="0.16" textLength="11.12" lengthAdjust="spacingAndGlyphs">1.5</text>
<line x1="384.70" y1="424.48" x2="387.60" y2="424.48" stroke="#111" stroke-width="1"/>
<text x="370.66" y="427.64" font-size="8.00" fill="#222" stroke="#222" stroke-width="0.16" textLength="11.12" lengthAdjust="spacingAndGlyphs">2.0</text>
<line x1="384.70" y1="405.60" x2="387.60" y2="405.60" stroke="#111" stroke-width="1"/>
<text x="370.70" y="408.76" font-size="8.00" fill="#222" stroke="#222" stroke-width="0.16" textLength="11.12" lengthAdjust="spacingAndGlyphs">2.5</text>
<line x1="398.60" y1="500.00" x2="398.60" y2="502.50" stroke="#111" stroke-width="1"/>
<line x1="411.30" y1="500.00" x2="411.30" y2="502.50" stroke="#111" stroke-width="1"/>
<line x1="423.40" y1="500.00" x2="423.40" y2="502.50" stroke="#111" stroke-width="1"/>
<line x1="446.00" y1="500.00" x2="446.00" y2="502.50" stroke="#111" stroke-width="1"/>
<line x1="458.70" y1="500.00" x2="458.70" y2="502.50" stroke="#111" stroke-width="1"/>
<line x1="471.00" y1="500.00" x2="471.00" y2="502.50" stroke="#111" stroke-width="1"/>
<text x="400.70" y="508.40" font-size="7.90" text-anchor="end" fill="#222" stroke="#222" stroke-width="0.16" textLength="11.42" lengthAdjust="spacingAndGlyphs" transform="rotate(-45 400.70 508.40)">WT</text>
<text x="413.40" y="508.40" font-size="7.90" text-anchor="end" fill="#222" stroke="#222" stroke-width="0.16" textLength="22.47" lengthAdjust="spacingAndGlyphs" transform="rotate(-45 413.40 508.40)">C490A</text>
<text x="425.50" y="508.40" font-size="7.90" text-anchor="end" fill="#222" stroke="#222" stroke-width="0.16" textLength="22.47" lengthAdjust="spacingAndGlyphs" transform="rotate(-45 425.50 508.40)">C545A</text>
<text x="448.10" y="508.40" font-size="7.90" text-anchor="end" fill="#222" stroke="#222" stroke-width="0.16" textLength="11.42" lengthAdjust="spacingAndGlyphs" transform="rotate(-45 448.10 508.40)">WT</text>
<text x="460.80" y="508.40" font-size="7.90" text-anchor="end" fill="#222" stroke="#222" stroke-width="0.16" textLength="22.47" lengthAdjust="spacingAndGlyphs" transform="rotate(-45 460.80 508.40)">C490A</text>
<text x="473.10" y="508.40" font-size="7.90" text-anchor="end" fill="#222" stroke="#222" stroke-width="0.16" textLength="22.47" lengthAdjust="spacingAndGlyphs" transform="rotate(-45 473.10 508.40)">C545A</text>
<line x1="399.30" y1="441.50" x2="399.30" y2="446.20" stroke="#111" stroke-width="0.9"/>
<line x1="396.30" y1="441.50" x2="402.30" y2="441.50" stroke="#111" stroke-width="0.9"/>
<line x1="411.30" y1="423.80" x2="411.30" y2="431.90" stroke="#111" stroke-width="0.9"/>
<line x1="408.30" y1="423.80" x2="414.30" y2="423.80" stroke="#111" stroke-width="0.9"/>
<line x1="423.50" y1="419.50" x2="423.50" y2="438.20" stroke="#111" stroke-width="0.9"/>
<line x1="420.50" y1="419.50" x2="426.50" y2="419.50" stroke="#111" stroke-width="0.9"/>
<line x1="446.60" y1="459.00" x2="446.60" y2="461.20" stroke="#111" stroke-width="0.9"/>
<line x1="443.60" y1="459.00" x2="449.60" y2="459.00" stroke="#111" stroke-width="0.9"/>
<line x1="458.80" y1="441.60" x2="458.80" y2="443.90" stroke="#111" stroke-width="0.9"/>
<line x1="455.80" y1="441.60" x2="461.80" y2="441.60" stroke="#111" stroke-width="0.9"/>
<line x1="470.30" y1="435.50" x2="470.30" y2="440.00" stroke="#111" stroke-width="0.9"/>
<line x1="467.30" y1="435.50" x2="473.30" y2="435.50" stroke="#111" stroke-width="0.9"/>
<circle cx="398.50" cy="436.00" r="1.3" fill="#000"/>
<circle cx="395.80" cy="448.50" r="1.3" fill="#000"/>
<circle cx="399.00" cy="449.00" r="1.3" fill="#000"/>
<circle cx="402.50" cy="448.50" r="1.3" fill="#000"/>
<circle cx="411.50" cy="419.50" r="1.3" fill="#000"/>
<circle cx="411.30" cy="427.00" r="1.3" fill="#000"/>
<circle cx="408.00" cy="433.50" r="1.3" fill="#000"/>
<circle cx="414.50" cy="433.50" r="1.3" fill="#000"/>
<circle cx="411.30" cy="442.00" r="1.3" fill="#000"/>
<circle cx="423.50" cy="415.50" r="1.3" fill="#000"/>
<circle cx="423.50" cy="424.00" r="1.3" fill="#000"/>
<circle cx="420.00" cy="443.00" r="1.3" fill="#000"/>
<circle cx="427.00" cy="447.00" r="1.3" fill="#000"/>
<circle cx="423.50" cy="455.50" r="1.3" fill="#000"/>
<circle cx="444.00" cy="459.50" r="1.3" fill="#000"/>
<circle cx="449.00" cy="459.50" r="1.3" fill="#000"/>
<circle cx="446.60" cy="464.00" r="1.3" fill="#000"/>
<circle cx="458.80" cy="440.50" r="1.3" fill="#000"/>
<circle cx="456.00" cy="444.00" r="1.3" fill="#000"/>
<circle cx="461.50" cy="444.00" r="1.3" fill="#000"/>
<circle cx="470.30" cy="435.50" r="1.3" fill="#000"/>
<circle cx="467.50" cy="444.00" r="1.3" fill="#000"/>
<circle cx="474.50" cy="441.50" r="1.3" fill="#000"/>
<text x="364.32" y="504.10" font-size="9.41" fill="#222" stroke="#222" stroke-width="0.16" textLength="103.04" lengthAdjust="spacingAndGlyphs" transform="rotate(-90 364.32 504.10)">Fluorescence intensity per µm²</text>
<path d="M398.5,422.2 V414.5 H411.5 V417.6 " fill="none" stroke="#1a1a1a" stroke-width="1.1"/>
<path d="M446.5,420.8 V414.5 H470.5 V428.9 " fill="none" stroke="#1a1a1a" stroke-width="1.1"/>
<path d="M446.5,443.5 V429.5 H458.5 V433.8 " fill="none" stroke="#1a1a1a" stroke-width="1.1"/>
<line x1="404.90" y1="409.35" x2="404.90" y2="412.25" stroke="#111" stroke-width="0.95"/>
<line x1="403.64" y1="410.07" x2="406.16" y2="411.53" stroke="#111" stroke-width="0.95"/>
<line x1="406.16" y1="410.07" x2="403.64" y2="411.53" stroke="#111" stroke-width="0.95"/>
<line x1="458.50" y1="409.35" x2="458.50" y2="412.25" stroke="#111" stroke-width="0.95"/>
<line x1="457.24" y1="410.07" x2="459.76" y2="411.53" stroke="#111" stroke-width="0.95"/>
<line x1="459.76" y1="410.07" x2="457.24" y2="411.53" stroke="#111" stroke-width="0.95"/>
<line x1="450.96" y1="423.35" x2="450.96" y2="426.25" stroke="#111" stroke-width="0.95"/>
<line x1="449.70" y1="424.07" x2="452.22" y2="425.53" stroke="#111" stroke-width="0.95"/>
<line x1="452.22" y1="424.07" x2="449.70" y2="425.53" stroke="#111" stroke-width="0.95"/>
<line x1="454.44" y1="423.35" x2="454.44" y2="426.25" stroke="#111" stroke-width="0.95"/>
<line x1="453.18" y1="424.07" x2="455.70" y2="425.53" stroke="#111" stroke-width="0.95"/>
<line x1="455.70" y1="424.07" x2="453.18" y2="425.53" stroke="#111" stroke-width="0.95"/>
<rect x="481.30" y="398.20" width="7.00" height="5.10" fill="#cc0012" stroke="#222" stroke-width="0.8"/>
<rect x="481.30" y="405.90" width="7.00" height="4.80" fill="#0c3cb4" stroke="#222" stroke-width="0.8"/>
<text x="491.18" y="404.72" font-size="8.16" fill="#222" stroke="#222" stroke-width="0.16" textLength="23.53" lengthAdjust="spacingAndGlyphs">F-actin</text>
<text x="491.29" y="411.37" font-size="8.22" fill="#222" stroke="#222" stroke-width="0.16" textLength="19.09" lengthAdjust="spacingAndGlyphs">pFAK</text>
<rect x="0.7" y="0.7" width="518.6" height="529.6" fill="none" stroke="#000" stroke-width="1.4"/>
</svg>
</body></html>
